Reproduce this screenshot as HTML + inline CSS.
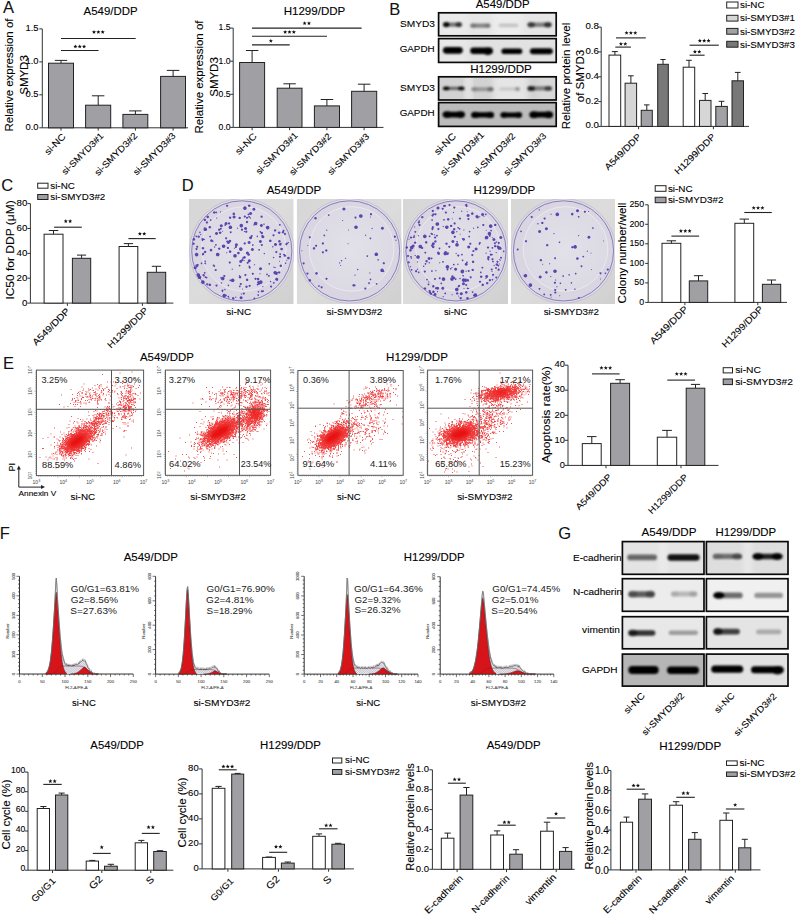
<!DOCTYPE html>
<html><head><meta charset="utf-8"><style>
html,body{margin:0;padding:0;background:#fff;}
svg{display:block;}
text{font-family:"Liberation Sans",sans-serif;stroke:currentColor;stroke-width:0.1px;paint-order:stroke;}
</style></head><body>
<svg width="796" height="915" viewBox="0 0 796 915" font-family="Liberation Sans, sans-serif">
<rect width="796" height="915" fill="#fff"/>
<defs>
<filter id="bl07" x="-50%" y="-50%" width="200%" height="200%"><feGaussianBlur stdDeviation="0.7"/></filter>
<filter id="bl09" x="-50%" y="-50%" width="200%" height="200%"><feGaussianBlur stdDeviation="0.95"/></filter>
<filter id="bl03" x="-10%" y="-10%" width="120%" height="120%"><feGaussianBlur stdDeviation="0.35"/></filter>
<filter id="bl1" x="-50%" y="-50%" width="200%" height="200%"><feGaussianBlur stdDeviation="1.1"/></filter>
<filter id="bl2" x="-50%" y="-50%" width="200%" height="200%"><feGaussianBlur stdDeviation="1.8"/></filter>
<filter id="bl3" x="-50%" y="-50%" width="200%" height="200%"><feGaussianBlur stdDeviation="3"/></filter>
<linearGradient id="pbg" x1="0" y1="0" x2="1" y2="1"><stop offset="0" stop-color="#d6d6d6"/><stop offset="0.5" stop-color="#dcdcdc"/><stop offset="1" stop-color="#d0d0d0"/></linearGradient>
<radialGradient id="pin" cx="0.5" cy="0.5" r="0.55"><stop offset="0" stop-color="#e2e0e8"/><stop offset="1" stop-color="#dbd9e3"/></radialGradient>
<pattern id="hatch" width="1.6" height="1.6" patternUnits="userSpaceOnUse" patternTransform="rotate(45)"><rect width="1.6" height="1.6" fill="#eeeef4"/><path d="M0 0V1.6M0 0H1.6" stroke="#8a8aa0" stroke-width="0.4"/></pattern>
</defs><text font-size="16.50" text-anchor="start" fill="#111" color="#111" transform="translate(3,12.8)">A</text>
<text font-size="10.41" text-anchor="middle" fill="#000" color="#000" transform="translate(110.6,15) scale(1.100,1)">A549/DDP</text>
<line x1="42.3" y1="28.9" x2="42.3" y2="127.8" stroke="#333" stroke-width="1"/>
<line x1="42.3" y1="127.8" x2="188" y2="127.8" stroke="#333" stroke-width="1"/>
<line x1="39.3" y1="127.8" x2="42.3" y2="127.8" stroke="#333" stroke-width="1"/>
<text font-size="9.42" text-anchor="end" fill="#000" color="#000" transform="translate(38.6,129.9)">0.0</text>
<line x1="39.3" y1="94.8" x2="42.3" y2="94.8" stroke="#333" stroke-width="1"/>
<text font-size="9.42" text-anchor="end" fill="#000" color="#000" transform="translate(38.6,96.9)">0.5</text>
<line x1="39.3" y1="61.9" x2="42.3" y2="61.9" stroke="#333" stroke-width="1"/>
<text font-size="9.42" text-anchor="end" fill="#000" color="#000" transform="translate(38.6,64)">1.0</text>
<line x1="39.3" y1="28.9" x2="42.3" y2="28.9" stroke="#333" stroke-width="1"/>
<text font-size="9.42" text-anchor="end" fill="#000" color="#000" transform="translate(38.6,31)">1.5</text>
<line x1="61" y1="63.2" x2="61" y2="60.4" stroke="#222" stroke-width="1"/>
<line x1="54.8" y1="60.4" x2="67.2" y2="60.4" stroke="#222" stroke-width="1"/>
<rect x="48.5" y="63.2" width="25" height="64.6" fill="#a09fa4" stroke="#222" stroke-width="1"/>
<line x1="98.2" y1="105.2" x2="98.2" y2="95.8" stroke="#222" stroke-width="1"/>
<line x1="91.9" y1="95.8" x2="104.4" y2="95.8" stroke="#222" stroke-width="1"/>
<rect x="85.6" y="105.2" width="25.1" height="22.6" fill="#a09fa4" stroke="#222" stroke-width="1"/>
<line x1="135.4" y1="114.4" x2="135.4" y2="110.9" stroke="#222" stroke-width="1"/>
<line x1="129.1" y1="110.9" x2="141.6" y2="110.9" stroke="#222" stroke-width="1"/>
<rect x="122.9" y="114.4" width="24.9" height="13.4" fill="#a09fa4" stroke="#222" stroke-width="1"/>
<line x1="173.1" y1="76.4" x2="173.1" y2="70.4" stroke="#222" stroke-width="1"/>
<line x1="166.8" y1="70.4" x2="179.3" y2="70.4" stroke="#222" stroke-width="1"/>
<rect x="160.6" y="76.4" width="24.9" height="51.4" fill="#a09fa4" stroke="#222" stroke-width="1"/>
<line x1="61" y1="127.8" x2="61" y2="130.6" stroke="#333" stroke-width="1"/>
<line x1="98.2" y1="127.8" x2="98.2" y2="130.6" stroke="#333" stroke-width="1"/>
<line x1="135.4" y1="127.8" x2="135.4" y2="130.6" stroke="#333" stroke-width="1"/>
<line x1="173.1" y1="127.8" x2="173.1" y2="130.6" stroke="#333" stroke-width="1"/>
<line x1="61" y1="38.5" x2="135.7" y2="38.5" stroke="#222" stroke-width="1.1"/>
<g fill="#111"><polygon points="94.00,29.95 94.56,31.33 96.04,31.44 94.90,32.39 95.26,33.84 94.00,33.05 92.74,33.84 93.10,32.39 91.96,31.44 93.44,31.33"/><polygon points="98.35,29.95 98.91,31.33 100.39,31.44 99.25,32.39 99.61,33.84 98.35,33.05 97.09,33.84 97.45,32.39 96.31,31.44 97.79,31.33"/><polygon points="102.70,29.95 103.26,31.33 104.74,31.44 103.60,32.39 103.96,33.84 102.70,33.05 101.44,33.84 101.80,32.39 100.66,31.44 102.14,31.33"/></g>
<line x1="61" y1="50.5" x2="98.5" y2="50.5" stroke="#222" stroke-width="1.1"/>
<g fill="#111"><polygon points="75.40,44.45 75.96,45.83 77.44,45.94 76.30,46.89 76.66,48.34 75.40,47.55 74.14,48.34 74.50,46.89 73.36,45.94 74.84,45.83"/><polygon points="79.75,44.45 80.31,45.83 81.79,45.94 80.65,46.89 81.01,48.34 79.75,47.55 78.49,48.34 78.85,46.89 77.71,45.94 79.19,45.83"/><polygon points="84.10,44.45 84.66,45.83 86.14,45.94 85.00,46.89 85.36,48.34 84.10,47.55 82.84,48.34 83.20,46.89 82.06,45.94 83.54,45.83"/></g>
<text font-size="9.27" text-anchor="end" fill="#000" color="#000" transform="translate(66.2,137.4) rotate(-45) scale(1.100,1)">si-NC</text>
<text font-size="8.92" text-anchor="end" fill="#000" color="#000" transform="translate(104.2,136.4) rotate(-45) scale(1.100,1)">si-SMYD3#1</text>
<text font-size="9.14" text-anchor="end" fill="#000" color="#000" transform="translate(138,136.4) rotate(-45) scale(1.100,1)">si-SMYD3#2</text>
<text font-size="9.05" text-anchor="end" fill="#000" color="#000" transform="translate(176.2,136.4) rotate(-45) scale(1.100,1)">si-SMYD3#3</text>
<text font-size="10.45" text-anchor="middle" fill="#000" color="#000" transform="translate(12.5,75) rotate(-90) scale(1.100,1)">Relative expression of</text>
<text font-size="10.45" text-anchor="middle" fill="#000" color="#000" transform="translate(27.5,75) rotate(-90) scale(1.100,1)">SMYD3</text>
<text font-size="10.51" text-anchor="middle" fill="#000" color="#000" transform="translate(314.5,15.2) scale(1.100,1)">H1299/DDP</text>
<line x1="233.2" y1="28.1" x2="233.2" y2="127.4" stroke="#333" stroke-width="1"/>
<line x1="233.2" y1="127.4" x2="383.5" y2="127.4" stroke="#333" stroke-width="1"/>
<line x1="230.2" y1="127.4" x2="233.2" y2="127.4" stroke="#333" stroke-width="1"/>
<text font-size="8.64" text-anchor="end" fill="#000" color="#000" transform="translate(230.6,129.7)">0.0</text>
<line x1="230.2" y1="94.3" x2="233.2" y2="94.3" stroke="#333" stroke-width="1"/>
<text font-size="8.64" text-anchor="end" fill="#000" color="#000" transform="translate(230.6,96.6)">0.5</text>
<line x1="230.2" y1="61.2" x2="233.2" y2="61.2" stroke="#333" stroke-width="1"/>
<text font-size="8.64" text-anchor="end" fill="#000" color="#000" transform="translate(230.6,63.5)">1.0</text>
<line x1="230.2" y1="28.1" x2="233.2" y2="28.1" stroke="#333" stroke-width="1"/>
<text font-size="8.64" text-anchor="end" fill="#000" color="#000" transform="translate(230.6,30.4)">1.5</text>
<line x1="252.1" y1="62.5" x2="252.1" y2="50.5" stroke="#222" stroke-width="1"/>
<line x1="245.9" y1="50.5" x2="258.4" y2="50.5" stroke="#222" stroke-width="1"/>
<rect x="239.6" y="62.5" width="25" height="64.9" fill="#a09fa4" stroke="#222" stroke-width="1"/>
<line x1="289.6" y1="88.2" x2="289.6" y2="83.8" stroke="#222" stroke-width="1"/>
<line x1="283.4" y1="83.8" x2="295.8" y2="83.8" stroke="#222" stroke-width="1"/>
<rect x="277.2" y="88.2" width="24.8" height="39.2" fill="#a09fa4" stroke="#222" stroke-width="1"/>
<line x1="326.9" y1="105.9" x2="326.9" y2="99.5" stroke="#222" stroke-width="1"/>
<line x1="320.7" y1="99.5" x2="333.2" y2="99.5" stroke="#222" stroke-width="1"/>
<rect x="314.4" y="105.9" width="25.1" height="21.5" fill="#a09fa4" stroke="#222" stroke-width="1"/>
<line x1="364.1" y1="91.3" x2="364.1" y2="84.2" stroke="#222" stroke-width="1"/>
<line x1="357.9" y1="84.2" x2="370.4" y2="84.2" stroke="#222" stroke-width="1"/>
<rect x="351.6" y="91.3" width="25.1" height="36.1" fill="#a09fa4" stroke="#222" stroke-width="1"/>
<line x1="252.1" y1="127.4" x2="252.1" y2="130.2" stroke="#333" stroke-width="1"/>
<line x1="289.6" y1="127.4" x2="289.6" y2="130.2" stroke="#333" stroke-width="1"/>
<line x1="326.9" y1="127.4" x2="326.9" y2="130.2" stroke="#333" stroke-width="1"/>
<line x1="364.1" y1="127.4" x2="364.1" y2="130.2" stroke="#333" stroke-width="1"/>
<line x1="252" y1="28.1" x2="361.6" y2="28.1" stroke="#222" stroke-width="1.1"/>
<g fill="#111"><polygon points="304.62,21.15 305.18,22.53 306.67,22.64 305.53,23.59 305.89,25.04 304.62,24.25 303.36,25.04 303.72,23.59 302.58,22.64 304.07,22.53"/><polygon points="308.98,21.15 309.53,22.53 311.02,22.64 309.88,23.59 310.24,25.04 308.98,24.25 307.71,25.04 308.07,23.59 306.93,22.64 308.42,22.53"/></g>
<line x1="252" y1="36.2" x2="327" y2="36.2" stroke="#222" stroke-width="1.1"/>
<g fill="#111"><polygon points="285.15,29.95 285.71,31.33 287.19,31.44 286.05,32.39 286.41,33.84 285.15,33.05 283.89,33.84 284.25,32.39 283.11,31.44 284.59,31.33"/><polygon points="289.50,29.95 290.06,31.33 291.54,31.44 290.40,32.39 290.76,33.84 289.50,33.05 288.24,33.84 288.60,32.39 287.46,31.44 288.94,31.33"/><polygon points="293.85,29.95 294.41,31.33 295.89,31.44 294.75,32.39 295.11,33.84 293.85,33.05 292.59,33.84 292.95,32.39 291.81,31.44 293.29,31.33"/></g>
<line x1="252" y1="44.9" x2="289.7" y2="44.9" stroke="#222" stroke-width="1.1"/>
<g fill="#111"><polygon points="270.85,38.75 271.41,40.13 272.89,40.24 271.75,41.19 272.11,42.64 270.85,41.85 269.59,42.64 269.95,41.19 268.81,40.24 270.29,40.13"/></g>
<text font-size="9.45" text-anchor="end" fill="#000" color="#000" transform="translate(257.3,137) rotate(-45) scale(1.100,1)">si-NC</text>
<text font-size="8.95" text-anchor="end" fill="#000" color="#000" transform="translate(298.4,136) rotate(-45) scale(1.100,1)">si-SMYD3#1</text>
<text font-size="8.94" text-anchor="end" fill="#000" color="#000" transform="translate(331.9,137) rotate(-45) scale(1.100,1)">si-SMYD3#2</text>
<text font-size="8.85" text-anchor="end" fill="#000" color="#000" transform="translate(369.8,137) rotate(-45) scale(1.100,1)">si-SMYD3#3</text>
<text font-size="10.45" text-anchor="middle" fill="#000" color="#000" transform="translate(202.5,77) rotate(-90) scale(1.100,1)">Relative expression of</text>
<text font-size="10.45" text-anchor="middle" fill="#000" color="#000" transform="translate(217.5,77) rotate(-90) scale(1.100,1)">SMYD3</text>
<text font-size="16.50" text-anchor="start" fill="#111" color="#111" transform="translate(389.3,15.1)">B</text>
<text font-size="10.39" text-anchor="middle" fill="#000" color="#000" transform="translate(502.7,8.3) scale(1.100,1)">A549/DDP</text>
<text font-size="10.51" text-anchor="middle" fill="#000" color="#000" transform="translate(501,72.6) scale(1.100,1)">H1299/DDP</text>
<clipPath id="c1"><rect x="438.6" y="12.8" width="117.6" height="23"/></clipPath>
<g clip-path="url(#c1)">
<rect x="438.6" y="12.8" width="117.6" height="23" fill="#e6e6e6"/>
<rect x="438" y="9.8" width="30" height="29" fill="#ececec" opacity="0.8" filter="url(#bl3)"/>
<rect x="493" y="9.8" width="29" height="29" fill="#efefef" opacity="0.8" filter="url(#bl3)"/>
<g filter="url(#bl09)">
<rect x="443" y="22.4" width="19" height="4.4" rx="2.2" fill="#000" opacity="0.5"/><ellipse cx="446.2" cy="24.6" rx="3.2" ry="2.6" fill="#000" opacity="0.95"/><ellipse cx="458.8" cy="24.6" rx="3.2" ry="2.6" fill="#000" opacity="0.6"/>
<rect x="470.2" y="23.4" width="20.3" height="4.4" rx="2.2" fill="#000" opacity="0.42"/><ellipse cx="473.2" cy="25.6" rx="3" ry="2.6" fill="#000" opacity="0.12"/><ellipse cx="487.5" cy="25.6" rx="3" ry="2.6" fill="#000" opacity="0.12"/>
<rect x="498.6" y="23.4" width="19.8" height="3.8" rx="1.9" fill="#000" opacity="0.17"/>
<rect x="527.5" y="22.5" width="24.1" height="4.6" rx="2.3" fill="#000" opacity="0.45"/><ellipse cx="531.2" cy="24.8" rx="3.8" ry="2.8" fill="#000" opacity="0.55"/><ellipse cx="547.9" cy="24.8" rx="3.8" ry="2.8" fill="#000" opacity="0.6"/>
</g></g>
<rect x="438.6" y="12.8" width="117.6" height="23" fill="none" stroke="#0a0a0a" stroke-width="1.7"/>
<clipPath id="c2"><rect x="438.6" y="38.6" width="117.6" height="23.8"/></clipPath>
<g clip-path="url(#c2)">
<rect x="438.6" y="38.6" width="117.6" height="23.8" fill="#e2e2e2"/>
<rect x="438" y="35.6" width="30" height="29.8" fill="#e9e9e9" opacity="0.8" filter="url(#bl3)"/>
<g filter="url(#bl09)">
<rect x="442.9" y="46.9" width="19.9" height="6.8" rx="3.4" fill="#000" opacity="1"/>
<rect x="470.2" y="47.6" width="22.6" height="6.4" rx="3.2" fill="#000" opacity="1"/><ellipse cx="487.8" cy="51.4" rx="5" ry="3.8" fill="#000" opacity="0.9"/>
<rect x="501.4" y="48.5" width="20.9" height="5.6" rx="2.8" fill="#000" opacity="1"/>
<rect x="529.9" y="48.3" width="22.9" height="6" rx="3" fill="#000" opacity="1"/>
</g></g>
<rect x="438.6" y="38.6" width="117.6" height="23.8" fill="none" stroke="#0a0a0a" stroke-width="1.7"/>
<clipPath id="c3"><rect x="438.6" y="76.8" width="117.6" height="23.2"/></clipPath>
<g clip-path="url(#c3)">
<rect x="438.6" y="76.8" width="117.6" height="23.2" fill="#d2d2d2"/>
<rect x="466" y="73.8" width="5" height="29.2" fill="#efefef" opacity="1" filter="url(#bl3)"/>
<rect x="493" y="73.8" width="35" height="29.2" fill="#eaeaea" opacity="0.8" filter="url(#bl3)"/>
<rect x="538" y="73.8" width="18" height="29.2" fill="#dddddd" opacity="0.6" filter="url(#bl3)"/>
<g filter="url(#bl09)">
<rect x="443" y="86.8" width="21.5" height="3.2" rx="1.6" fill="#000" opacity="0.5"/><ellipse cx="446.2" cy="88.4" rx="3.2" ry="1.9" fill="#000" opacity="1"/><ellipse cx="461.2" cy="88.4" rx="3.2" ry="1.9" fill="#000" opacity="0.95"/>
<rect x="471.3" y="87.2" width="22.2" height="4" rx="2" fill="#000" opacity="0.28"/><ellipse cx="474.3" cy="89.2" rx="3" ry="2.4" fill="#000" opacity="0.12"/><ellipse cx="490.5" cy="89.2" rx="3" ry="2.4" fill="#000" opacity="0.3"/>
<rect x="499" y="87.2" width="21" height="3.6" rx="1.8" fill="#000" opacity="0.12"/><ellipse cx="517.5" cy="89" rx="2.5" ry="2.2" fill="#000" opacity="0.25"/>
<rect x="527.5" y="86.3" width="24.5" height="4.2" rx="2.1" fill="#000" opacity="0.42"/><ellipse cx="531.2" cy="88.4" rx="3.8" ry="2.5" fill="#000" opacity="0.75"/><ellipse cx="548.2" cy="88.4" rx="3.8" ry="2.5" fill="#000" opacity="0.5"/>
</g></g>
<rect x="438.6" y="76.8" width="117.6" height="23.2" fill="none" stroke="#0a0a0a" stroke-width="1.7"/>
<clipPath id="c4"><rect x="438.6" y="102.6" width="117.6" height="23.8"/></clipPath>
<g clip-path="url(#c4)">
<rect x="438.6" y="102.6" width="117.6" height="23.8" fill="#bcbcbc"/>
<g filter="url(#bl09)">
<rect x="442.7" y="111.8" width="22.2" height="5.6" rx="2.8" fill="#000" opacity="1"/><ellipse cx="447.2" cy="114.6" rx="4.5" ry="3.4" fill="#000" opacity="1"/><ellipse cx="460.4" cy="114.6" rx="4.5" ry="3.4" fill="#000" opacity="1"/>
<rect x="471.3" y="112.2" width="22.7" height="5.4" rx="2.7" fill="#000" opacity="1"/><ellipse cx="475.3" cy="114.9" rx="4" ry="3.2" fill="#000" opacity="1"/><ellipse cx="490" cy="114.9" rx="4" ry="3.2" fill="#000" opacity="0.9"/>
<rect x="500.5" y="112.4" width="21.5" height="5" rx="2.5" fill="#000" opacity="1"/><ellipse cx="504" cy="114.9" rx="3.5" ry="3" fill="#000" opacity="0.9"/><ellipse cx="518.5" cy="114.9" rx="3.5" ry="3" fill="#000" opacity="0.9"/>
<rect x="529.5" y="111.8" width="23.5" height="5.8" rx="2.9" fill="#000" opacity="1"/><ellipse cx="534" cy="114.7" rx="4.5" ry="3.5" fill="#000" opacity="1"/><ellipse cx="548.5" cy="114.7" rx="4.5" ry="3.5" fill="#000" opacity="1"/>
</g></g>
<rect x="438.6" y="102.6" width="117.6" height="23.8" fill="none" stroke="#0a0a0a" stroke-width="1.7"/>
<text font-size="9.21" text-anchor="end" fill="#000" color="#000" transform="translate(435,26.9) scale(1.100,1)">SMYD3</text>
<text font-size="8.95" text-anchor="end" fill="#000" color="#000" transform="translate(434.6,52) scale(1.100,1)">GAPDH</text>
<text font-size="9.21" text-anchor="end" fill="#000" color="#000" transform="translate(435,91) scale(1.100,1)">SMYD3</text>
<text font-size="8.95" text-anchor="end" fill="#000" color="#000" transform="translate(434.6,116.2) scale(1.100,1)">GAPDH</text>
<text font-size="9.61" text-anchor="end" fill="#000" color="#000" transform="translate(456.6,136.9) rotate(-45) scale(1.100,1)">si-NC</text>
<text font-size="9.32" text-anchor="end" fill="#000" color="#000" transform="translate(484.7,135.5) rotate(-45) scale(1.100,1)">si-SMYD3#1</text>
<text font-size="9.03" text-anchor="end" fill="#000" color="#000" transform="translate(516,136.5) rotate(-45) scale(1.100,1)">si-SMYD3#2</text>
<text font-size="9.14" text-anchor="end" fill="#000" color="#000" transform="translate(547,136.5) rotate(-45) scale(1.100,1)">si-SMYD3#3</text>
<line x1="601.2" y1="27.1" x2="601.2" y2="126.4" stroke="#333" stroke-width="1"/>
<line x1="601.2" y1="126.4" x2="749" y2="126.4" stroke="#333" stroke-width="1"/>
<line x1="598.2" y1="126.4" x2="601.2" y2="126.4" stroke="#333" stroke-width="1"/>
<text font-size="9.68" text-anchor="end" fill="#000" color="#000" transform="translate(598.9,128.3)">0.0</text>
<line x1="598.2" y1="101.6" x2="601.2" y2="101.6" stroke="#333" stroke-width="1"/>
<text font-size="9.68" text-anchor="end" fill="#000" color="#000" transform="translate(598.9,103.5)">0.2</text>
<line x1="598.2" y1="76.8" x2="601.2" y2="76.8" stroke="#333" stroke-width="1"/>
<text font-size="9.68" text-anchor="end" fill="#000" color="#000" transform="translate(598.9,78.7)">0.4</text>
<line x1="598.2" y1="51.9" x2="601.2" y2="51.9" stroke="#333" stroke-width="1"/>
<text font-size="9.68" text-anchor="end" fill="#000" color="#000" transform="translate(598.9,53.8)">0.6</text>
<line x1="598.2" y1="27.1" x2="601.2" y2="27.1" stroke="#333" stroke-width="1"/>
<text font-size="9.68" text-anchor="end" fill="#000" color="#000" transform="translate(598.9,29)">0.8</text>
<line x1="614.9" y1="55.1" x2="614.9" y2="51.6" stroke="#222" stroke-width="1"/>
<line x1="611.9" y1="51.6" x2="617.8" y2="51.6" stroke="#222" stroke-width="1"/>
<rect x="609" y="55.1" width="11.7" height="71.3" fill="#ffffff" stroke="#222" stroke-width="1"/>
<line x1="630.9" y1="83.2" x2="630.9" y2="75.8" stroke="#222" stroke-width="1"/>
<line x1="628" y1="75.8" x2="633.7" y2="75.8" stroke="#222" stroke-width="1"/>
<rect x="625.1" y="83.2" width="11.5" height="43.2" fill="#d6d6d6" stroke="#222" stroke-width="1"/>
<line x1="646.8" y1="110.3" x2="646.8" y2="104.9" stroke="#222" stroke-width="1"/>
<line x1="644" y1="104.9" x2="649.5" y2="104.9" stroke="#222" stroke-width="1"/>
<rect x="641.2" y="110.3" width="11.1" height="16.1" fill="#a2a1a6" stroke="#222" stroke-width="1"/>
<line x1="663" y1="64.3" x2="663" y2="59.5" stroke="#222" stroke-width="1"/>
<line x1="660.4" y1="59.5" x2="665.6" y2="59.5" stroke="#222" stroke-width="1"/>
<rect x="657.7" y="64.3" width="10.6" height="62.1" fill="#787878" stroke="#222" stroke-width="1"/>
<line x1="689" y1="67.2" x2="689" y2="60.3" stroke="#222" stroke-width="1"/>
<line x1="686.1" y1="60.3" x2="691.8" y2="60.3" stroke="#222" stroke-width="1"/>
<rect x="683.2" y="67.2" width="11.5" height="59.2" fill="#ffffff" stroke="#222" stroke-width="1"/>
<line x1="705.2" y1="100.4" x2="705.2" y2="93.5" stroke="#222" stroke-width="1"/>
<line x1="702.4" y1="93.5" x2="708.1" y2="93.5" stroke="#222" stroke-width="1"/>
<rect x="699.5" y="100.4" width="11.5" height="26" fill="#d6d6d6" stroke="#222" stroke-width="1"/>
<line x1="721.5" y1="106.4" x2="721.5" y2="101.3" stroke="#222" stroke-width="1"/>
<line x1="718.7" y1="101.3" x2="724.4" y2="101.3" stroke="#222" stroke-width="1"/>
<rect x="715.8" y="106.4" width="11.5" height="20" fill="#a2a1a6" stroke="#222" stroke-width="1"/>
<line x1="737.8" y1="80.8" x2="737.8" y2="72.4" stroke="#222" stroke-width="1"/>
<line x1="734.9" y1="72.4" x2="740.6" y2="72.4" stroke="#222" stroke-width="1"/>
<rect x="732" y="80.8" width="11.5" height="45.6" fill="#787878" stroke="#222" stroke-width="1"/>
<line x1="638.6" y1="126.4" x2="638.6" y2="129.2" stroke="#333" stroke-width="1"/>
<line x1="713.4" y1="126.4" x2="713.4" y2="129.2" stroke="#333" stroke-width="1"/>
<line x1="616" y1="37.9" x2="645.8" y2="37.9" stroke="#222" stroke-width="1.1"/>
<g fill="#111"><polygon points="626.55,30.75 627.11,32.13 628.59,32.24 627.45,33.19 627.81,34.64 626.55,33.85 625.29,34.64 625.65,33.19 624.51,32.24 625.99,32.13"/><polygon points="630.90,30.75 631.46,32.13 632.94,32.24 631.80,33.19 632.16,34.64 630.90,33.85 629.64,34.64 630.00,33.19 628.86,32.24 630.34,32.13"/><polygon points="635.25,30.75 635.81,32.13 637.29,32.24 636.15,33.19 636.51,34.64 635.25,33.85 633.99,34.64 634.35,33.19 633.21,32.24 634.69,32.13"/></g>
<line x1="615.3" y1="47.1" x2="630.9" y2="47.1" stroke="#222" stroke-width="1.1"/>
<g fill="#111"><polygon points="620.92,41.75 621.48,43.13 622.97,43.24 621.83,44.19 622.19,45.64 620.92,44.85 619.66,45.64 620.02,44.19 618.88,43.24 620.37,43.13"/><polygon points="625.27,41.75 625.83,43.13 627.32,43.24 626.18,44.19 626.54,45.64 625.27,44.85 624.01,45.64 624.37,44.19 623.23,43.24 624.72,43.13"/></g>
<line x1="689.6" y1="45.2" x2="718.8" y2="45.2" stroke="#222" stroke-width="1.1"/>
<g fill="#111"><polygon points="699.85,38.55 700.41,39.93 701.89,40.04 700.75,40.99 701.11,42.44 699.85,41.65 698.59,42.44 698.95,40.99 697.81,40.04 699.29,39.93"/><polygon points="704.20,38.55 704.76,39.93 706.24,40.04 705.10,40.99 705.46,42.44 704.20,41.65 702.94,42.44 703.30,40.99 702.16,40.04 703.64,39.93"/><polygon points="708.55,38.55 709.11,39.93 710.59,40.04 709.45,40.99 709.81,42.44 708.55,41.65 707.29,42.44 707.65,40.99 706.51,40.04 707.99,39.93"/></g>
<line x1="689.6" y1="55.2" x2="704.6" y2="55.2" stroke="#222" stroke-width="1.1"/>
<g fill="#111"><polygon points="694.93,49.55 695.48,50.93 696.97,51.04 695.83,51.99 696.19,53.44 694.93,52.65 693.66,53.44 694.02,51.99 692.88,51.04 694.37,50.93"/><polygon points="699.27,49.55 699.83,50.93 701.32,51.04 700.18,51.99 700.54,53.44 699.27,52.65 698.01,53.44 698.37,51.99 697.23,51.04 698.72,50.93"/></g>
<text font-size="9.10" text-anchor="end" fill="#000" color="#000" transform="translate(641.6,137.4) rotate(-45) scale(1.100,1)">A549/DDP</text>
<text font-size="9.10" text-anchor="end" fill="#000" color="#000" transform="translate(716,137.4) rotate(-45) scale(1.100,1)">H1299/DDP</text>
<text font-size="10.45" text-anchor="middle" fill="#000" color="#000" transform="translate(570,76) rotate(-90) scale(1.100,1)">Relative protein level</text>
<text font-size="10.45" text-anchor="middle" fill="#000" color="#000" transform="translate(584,76) rotate(-90) scale(1.100,1)">of SMYD3</text>
<rect x="726.7" y="2" width="11.3" height="6" fill="#ffffff" stroke="#222" stroke-width="1"/>
<text font-size="8.91" text-anchor="start" fill="#000" color="#000" transform="translate(740,8.3) scale(1.100,1)">si-NC</text>
<rect x="726.7" y="15.3" width="11.3" height="5.8" fill="#d6d6d6" stroke="#222" stroke-width="1"/>
<text font-size="8.91" text-anchor="start" fill="#000" color="#000" transform="translate(740,21.4) scale(1.100,1)">si-SMYD3#1</text>
<rect x="726.7" y="28.4" width="11.3" height="5.8" fill="#a2a1a6" stroke="#222" stroke-width="1"/>
<text font-size="8.91" text-anchor="start" fill="#000" color="#000" transform="translate(740,34.5) scale(1.100,1)">si-SMYD3#2</text>
<rect x="726.7" y="41.3" width="11.3" height="5.9" fill="#787878" stroke="#222" stroke-width="1"/>
<text font-size="8.91" text-anchor="start" fill="#000" color="#000" transform="translate(740,47.5) scale(1.100,1)">si-SMYD3#3</text>
<text font-size="16.50" text-anchor="start" fill="#111" color="#111" transform="translate(1.2,191.1)">C</text>
<rect x="37.7" y="183.2" width="10.3" height="5" fill="#ffffff" stroke="#222" stroke-width="1"/>
<text font-size="8.91" text-anchor="start" fill="#000" color="#000" transform="translate(50.3,188.5) scale(1.100,1)">si-NC</text>
<rect x="37.7" y="194.5" width="10.3" height="5" fill="#a09fa4" stroke="#222" stroke-width="1"/>
<text font-size="8.91" text-anchor="start" fill="#000" color="#000" transform="translate(50.3,199.8) scale(1.100,1)">si-SMYD3#2</text>
<line x1="30.4" y1="203.6" x2="30.4" y2="303.1" stroke="#333" stroke-width="1"/>
<line x1="30.4" y1="303.1" x2="173.4" y2="303.1" stroke="#333" stroke-width="1"/>
<line x1="27.4" y1="303.1" x2="30.4" y2="303.1" stroke="#333" stroke-width="1"/>
<text font-size="9.73" text-anchor="end" fill="#000" color="#000" transform="translate(27.3,305.8)">0</text>
<line x1="27.4" y1="278.2" x2="30.4" y2="278.2" stroke="#333" stroke-width="1"/>
<text font-size="9.73" text-anchor="end" fill="#000" color="#000" transform="translate(27.3,280.9)">20</text>
<line x1="27.4" y1="253.4" x2="30.4" y2="253.4" stroke="#333" stroke-width="1"/>
<text font-size="9.73" text-anchor="end" fill="#000" color="#000" transform="translate(27.3,256.1)">40</text>
<line x1="27.4" y1="228.5" x2="30.4" y2="228.5" stroke="#333" stroke-width="1"/>
<text font-size="9.73" text-anchor="end" fill="#000" color="#000" transform="translate(27.3,231.2)">60</text>
<line x1="27.4" y1="203.6" x2="30.4" y2="203.6" stroke="#333" stroke-width="1"/>
<text font-size="9.73" text-anchor="end" fill="#000" color="#000" transform="translate(27.3,206.3)">80</text>
<line x1="53.5" y1="234.2" x2="53.5" y2="230.5" stroke="#222" stroke-width="1"/>
<line x1="48.8" y1="230.5" x2="58.3" y2="230.5" stroke="#222" stroke-width="1"/>
<rect x="44.1" y="234.2" width="18.9" height="68.9" fill="#ffffff" stroke="#222" stroke-width="1"/>
<line x1="81.6" y1="258.3" x2="81.6" y2="255.1" stroke="#222" stroke-width="1"/>
<line x1="77" y1="255.1" x2="86.1" y2="255.1" stroke="#222" stroke-width="1"/>
<rect x="72.4" y="258.3" width="18.3" height="44.8" fill="#a09fa4" stroke="#222" stroke-width="1"/>
<line x1="128.4" y1="246.5" x2="128.4" y2="243.6" stroke="#222" stroke-width="1"/>
<line x1="123.8" y1="243.6" x2="133.1" y2="243.6" stroke="#222" stroke-width="1"/>
<rect x="119.1" y="246.5" width="18.7" height="56.6" fill="#ffffff" stroke="#222" stroke-width="1"/>
<line x1="156.4" y1="272.3" x2="156.4" y2="266.3" stroke="#222" stroke-width="1"/>
<line x1="151.8" y1="266.3" x2="161.1" y2="266.3" stroke="#222" stroke-width="1"/>
<rect x="147.2" y="272.3" width="18.5" height="30.8" fill="#a09fa4" stroke="#222" stroke-width="1"/>
<line x1="67.4" y1="303.1" x2="67.4" y2="305.9" stroke="#333" stroke-width="1"/>
<line x1="142.4" y1="303.1" x2="142.4" y2="305.9" stroke="#333" stroke-width="1"/>
<line x1="54.1" y1="227.2" x2="81.8" y2="227.2" stroke="#222" stroke-width="1.1"/>
<g fill="#111"><polygon points="65.78,219.05 66.33,220.43 67.82,220.54 66.68,221.49 67.04,222.94 65.78,222.15 64.51,222.94 64.87,221.49 63.73,220.54 65.22,220.43"/><polygon points="70.12,219.05 70.68,220.43 72.17,220.54 71.03,221.49 71.39,222.94 70.12,222.15 68.86,222.94 69.22,221.49 68.08,220.54 69.57,220.43"/></g>
<line x1="128.4" y1="238.6" x2="155.7" y2="238.6" stroke="#222" stroke-width="1.1"/>
<g fill="#111"><polygon points="139.88,231.65 140.43,233.03 141.92,233.14 140.78,234.09 141.14,235.54 139.88,234.75 138.61,235.54 138.97,234.09 137.83,233.14 139.32,233.03"/><polygon points="144.23,231.65 144.78,233.03 146.27,233.14 145.13,234.09 145.49,235.54 144.23,234.75 142.96,235.54 143.32,234.09 142.18,233.14 143.67,233.03"/></g>
<text font-size="9.30" text-anchor="end" fill="#000" color="#000" transform="translate(70.3,311.9) rotate(-45) scale(1.100,1)">A549/DDP</text>
<text font-size="9.14" text-anchor="end" fill="#000" color="#000" transform="translate(148.8,310.9) rotate(-45) scale(1.100,1)">H1299/DDP</text>
<text font-size="10.91" text-anchor="middle" fill="#000" color="#000" transform="translate(13.5,250) rotate(-90) scale(1.100,1)">IC50 for DDP (μM)</text>
<text font-size="16.50" text-anchor="start" fill="#111" color="#111" transform="translate(181.7,191.3)">D</text>
<text font-size="10.51" text-anchor="middle" fill="#000" color="#000" transform="translate(293.9,194) scale(1.100,1)">A549/DDP</text>
<text font-size="10.54" text-anchor="middle" fill="#000" color="#000" transform="translate(504.4,194) scale(1.100,1)">H1299/DDP</text>
<clipPath id="c5"><rect x="188.9" y="198.9" width="104.8" height="105.1"/></clipPath>
<g clip-path="url(#c5)">
<rect x="188.9" y="198.9" width="104.8" height="105.1" fill="url(#pbg)"/>
<circle cx="241.8" cy="250.9" r="52.3" fill="#dedce4" stroke="#c4c0d0" stroke-width="1"/>
<circle cx="241.8" cy="250.9" r="50.1" fill="#d9d6e2" stroke="#7a6cb6" stroke-width="1" stroke-opacity="0.85"/>
<circle cx="243.8" cy="248.9" r="42.3" fill="url(#pin)" stroke="#eceaf1" stroke-width="0.9"/>
<path d="M250.6 236.3a1.5 1.5 0 1 0 .01 0zM249.3 259.2a1.5 1.5 0 1 0 .01 0zM221.3 224.3a1.5 1.5 0 1 0 .01 0zM217.7 252.7a1.8 1.8 0 1 0 .01 0zM216.5 231.9a1.5 1.5 0 1 0 .01 0zM238.4 251.7a1.3 1.3 0 1 0 .01 0zM204.5 227.3a0.6 0.6 0 1 0 .01 0zM286.8 259.8a0.5 0.5 0 1 0 .01 0zM280.2 253.2a0.9 0.9 0 1 0 .01 0zM280.2 243.1a1.3 1.3 0 1 0 .01 0zM242.3 259.1a1 1 0 1 0 .01 0zM196.3 235.5a0.8 0.8 0 1 0 .01 0zM245.4 273.9a1 1 0 1 0 .01 0zM283.5 229.7a0.9 0.9 0 1 0 .01 0zM198.7 235.4a1.2 1.2 0 1 0 .01 0zM229.9 239.7a1.3 1.3 0 1 0 .01 0zM273.8 282.1a0.8 0.8 0 1 0 .01 0zM286.3 243.2a1 1 0 1 0 .01 0zM198.3 273.2a1.8 1.8 0 1 0 .01 0zM258.2 294.2a0.8 0.8 0 1 0 .01 0zM267.7 225.8a1.8 1.8 0 1 0 .01 0zM202.9 280.3a1.8 1.8 0 1 0 .01 0zM240.7 260a1.5 1.5 0 1 0 .01 0zM225.2 224.3a0.8 0.8 0 1 0 .01 0zM230.1 216.4a1.2 1.2 0 1 0 .01 0zM276.5 272.6a1.2 1.2 0 1 0 .01 0zM247 216.7a1 1 0 1 0 .01 0zM209.8 283.5a1.3 1.3 0 1 0 .01 0zM248.6 253.2a1.3 1.3 0 1 0 .01 0zM206.9 221.3a1.1 1.1 0 1 0 .01 0zM255.5 277.8a1 1 0 1 0 .01 0zM264.3 252.7a0.7 0.7 0 1 0 .01 0zM264 223.4a0.7 0.7 0 1 0 .01 0zM222.7 276.7a1.8 1.8 0 1 0 .01 0zM205.2 260.4a0.8 0.8 0 1 0 .01 0zM209.8 225.9a1.3 1.3 0 1 0 .01 0zM240.8 247.3a1.8 1.8 0 1 0 .01 0zM285 233a1 1 0 1 0 .01 0zM197.2 245.8a1 1 0 1 0 .01 0zM261.8 244.1a1 1 0 1 0 .01 0zM199.9 231.6a0.7 0.7 0 1 0 .01 0zM199.5 275.5a1.8 1.8 0 1 0 .01 0zM224.3 274.9a1 1 0 1 0 .01 0zM249.1 216a0.8 0.8 0 1 0 .01 0zM273.6 256.7a0.7 0.7 0 1 0 .01 0zM204.3 238.8a0.6 0.6 0 1 0 .01 0zM253.9 207.7a1.5 1.5 0 1 0 .01 0zM282.2 232a0.5 0.5 0 1 0 .01 0zM220.5 211.3a0.6 0.6 0 1 0 .01 0zM196.8 264.2a1.5 1.5 0 1 0 .01 0zM241.4 293.4a0.6 0.6 0 1 0 .01 0zM258.5 290.9a0.8 0.8 0 1 0 .01 0zM247.7 261.8a1 1 0 1 0 .01 0zM214.2 211.3a1.2 1.2 0 1 0 .01 0zM201.5 262.5a0.8 0.8 0 1 0 .01 0zM267 273.6a0.8 0.8 0 1 0 .01 0zM214.4 265.4a0.7 0.7 0 1 0 .01 0zM240 275.8a1.3 1.3 0 1 0 .01 0zM249.6 284.7a1.1 1.1 0 1 0 .01 0zM272.8 246a0.7 0.7 0 1 0 .01 0zM244.5 256.1a1.3 1.3 0 1 0 .01 0zM195.7 267a1 1 0 1 0 .01 0zM202.5 239.8a0.7 0.7 0 1 0 .01 0zM207.7 215.6a1.3 1.3 0 1 0 .01 0zM246.5 285.5a1.2 1.2 0 1 0 .01 0zM236.4 243.3a1.5 1.5 0 1 0 .01 0zM222.5 230.7a0.5 0.5 0 1 0 .01 0zM270.6 280.7a0.7 0.7 0 1 0 .01 0zM224.2 293.8a1.8 1.8 0 1 0 .01 0zM252.8 244.2a0.8 0.8 0 1 0 .01 0zM204.7 272.1a0.8 0.8 0 1 0 .01 0zM223.6 244.4a1.8 1.8 0 1 0 .01 0zM244.7 242.3a1.1 1.1 0 1 0 .01 0zM255.6 221.7a1.8 1.8 0 1 0 .01 0zM227.1 204.8a1 1 0 1 0 .01 0zM244.1 259.9a0.6 0.6 0 1 0 .01 0zM230.7 231.3a0.9 0.9 0 1 0 .01 0zM203.1 252.8a1.2 1.2 0 1 0 .01 0zM210.8 250.2a0.5 0.5 0 1 0 .01 0zM260.3 230.9a0.8 0.8 0 1 0 .01 0zM243 257.2a0.8 0.8 0 1 0 .01 0zM200.7 233.9a0.6 0.6 0 1 0 .01 0zM247.1 278.6a1.2 1.2 0 1 0 .01 0zM229.8 261.4a1 1 0 1 0 .01 0zM261.8 231.7a1.2 1.2 0 1 0 .01 0zM244.8 215.5a1 1 0 1 0 .01 0zM237.6 227.6a0.6 0.6 0 1 0 .01 0zM249.7 266.4a1 1 0 1 0 .01 0zM242 228.5a1.1 1.1 0 1 0 .01 0zM239.8 285.6a0.8 0.8 0 1 0 .01 0zM232.7 278.5a1.8 1.8 0 1 0 .01 0zM249.2 204.4a1.3 1.3 0 1 0 .01 0zM271.1 285.5a1 1 0 1 0 .01 0zM222.5 289.6a0.9 0.9 0 1 0 .01 0zM249.1 241.1a1.5 1.5 0 1 0 .01 0zM254.5 264.2a0.6 0.6 0 1 0 .01 0zM248.5 213.4a0.9 0.9 0 1 0 .01 0zM227.9 246.8a1.1 1.1 0 1 0 .01 0zM239.6 264.8a0.8 0.8 0 1 0 .01 0zM273.5 234.3a1 1 0 1 0 .01 0zM277.3 279.9a0.5 0.5 0 1 0 .01 0zM284.9 254.4a1.2 1.2 0 1 0 .01 0zM235 254a1.8 1.8 0 1 0 .01 0zM285.6 262.4a0.7 0.7 0 1 0 .01 0zM204.2 228.5a0.6 0.6 0 1 0 .01 0zM249.3 265.4a0.7 0.7 0 1 0 .01 0zM251.8 234.9a0.9 0.9 0 1 0 .01 0zM207.2 283.2a1 1 0 1 0 .01 0zM228.3 295.7a0.8 0.8 0 1 0 .01 0zM224.9 288.8a0.7 0.7 0 1 0 .01 0zM279.5 260.7a0.5 0.5 0 1 0 .01 0zM279.1 231.4a1.3 1.3 0 1 0 .01 0zM205.2 262.6a0.8 0.8 0 1 0 .01 0zM269.3 263a0.8 0.8 0 1 0 .01 0zM288.4 241.9a0.6 0.6 0 1 0 .01 0zM245.6 227.1a1.5 1.5 0 1 0 .01 0zM193.9 238.1a1.3 1.3 0 1 0 .01 0zM220.6 277.2a0.6 0.6 0 1 0 .01 0zM228.4 284.6a0.7 0.7 0 1 0 .01 0zM253.7 224.4a0.6 0.6 0 1 0 .01 0zM194.8 266.5a1.2 1.2 0 1 0 .01 0zM221.5 282.3a0.7 0.7 0 1 0 .01 0zM230.3 279.5a0.8 0.8 0 1 0 .01 0zM246.3 230.6a1.1 1.1 0 1 0 .01 0zM226 294.6a0.8 0.8 0 1 0 .01 0zM228.4 241a1.5 1.5 0 1 0 .01 0zM242.5 288.6a0.5 0.5 0 1 0 .01 0zM205.3 276.3a0.8 0.8 0 1 0 .01 0zM273.9 266.6a0.6 0.6 0 1 0 .01 0zM247.4 251.4a1.5 1.5 0 1 0 .01 0zM196.6 252.8a1.8 1.8 0 1 0 .01 0zM276.7 277.8a1.5 1.5 0 1 0 .01 0zM279.1 271.2a1.2 1.2 0 1 0 .01 0zM244.5 230.9a0.6 0.6 0 1 0 .01 0zM222.5 291a0.6 0.6 0 1 0 .01 0zM261.6 215.5a1.1 1.1 0 1 0 .01 0zM262 234.6a0.6 0.6 0 1 0 .01 0zM234.1 215.4a1.5 1.5 0 1 0 .01 0zM262.8 235.3a1.5 1.5 0 1 0 .01 0zM202.7 237.9a1.3 1.3 0 1 0 .01 0zM254.4 297.5a0.8 0.8 0 1 0 .01 0zM258.1 277.8a1.3 1.3 0 1 0 .01 0zM241.1 296.3a1.5 1.5 0 1 0 .01 0zM252.4 248.1a1.5 1.5 0 1 0 .01 0zM240.8 283a1 1 0 1 0 .01 0zM197.8 264a0.9 0.9 0 1 0 .01 0zM261.9 290.3a1 1 0 1 0 .01 0zM236.3 244.9a0.9 0.9 0 1 0 .01 0zM288.4 256.7a1.3 1.3 0 1 0 .01 0zM260 273.2a0.6 0.6 0 1 0 .01 0zM259.1 249a0.8 0.8 0 1 0 .01 0zM215.7 268.9a1.1 1.1 0 1 0 .01 0zM226.7 252.2a0.6 0.6 0 1 0 .01 0zM205.1 250.7a1.2 1.2 0 1 0 .01 0zM283 231a1.2 1.2 0 1 0 .01 0zM243.8 292.6a1 1 0 1 0 .01 0zM279.4 240a1.3 1.3 0 1 0 .01 0zM211.4 239.3a1.3 1.3 0 1 0 .01 0zM233.2 297.1a1.2 1.2 0 1 0 .01 0zM260.4 240.1a1.5 1.5 0 1 0 .01 0zM266.3 226.6a0.6 0.6 0 1 0 .01 0zM250.3 217.3a0.7 0.7 0 1 0 .01 0zM230.4 225.5a1.8 1.8 0 1 0 .01 0zM258.9 282.2a1.3 1.3 0 1 0 .01 0zM205.3 227.5a1.8 1.8 0 1 0 .01 0zM227.3 240.4a1 1 0 1 0 .01 0zM257.5 283.9a0.8 0.8 0 1 0 .01 0zM270.3 239.5a1.3 1.3 0 1 0 .01 0zM280.8 264.6a1.2 1.2 0 1 0 .01 0zM220.9 227.7a0.9 0.9 0 1 0 .01 0zM258.4 281.1a1.3 1.3 0 1 0 .01 0zM193.1 243.6a0.6 0.6 0 1 0 .01 0zM210.7 219.3a0.8 0.8 0 1 0 .01 0zM277.4 272a0.6 0.6 0 1 0 .01 0zM204.9 218.7a1.2 1.2 0 1 0 .01 0zM275.2 270.9a1.8 1.8 0 1 0 .01 0zM287.1 242.5a0.9 0.9 0 1 0 .01 0zM279.8 224a0.9 0.9 0 1 0 .01 0zM232.2 268.6a0.6 0.6 0 1 0 .01 0zM202.7 253.9a0.7 0.7 0 1 0 .01 0zM227.3 241a0.9 0.9 0 1 0 .01 0zM216.2 211.6a0.8 0.8 0 1 0 .01 0zM241.2 226.6a0.5 0.5 0 1 0 .01 0zM193.6 242.5a1.1 1.1 0 1 0 .01 0zM235.8 245.9a1.1 1.1 0 1 0 .01 0zM239.6 274.9a0.6 0.6 0 1 0 .01 0zM215.9 244.1a0.8 0.8 0 1 0 .01 0zM241.3 223.8a1.8 1.8 0 1 0 .01 0zM250.6 211.9a1.5 1.5 0 1 0 .01 0zM263.2 290.2a0.8 0.8 0 1 0 .01 0zM261.4 224a1.5 1.5 0 1 0 .01 0zM257.3 235.6a0.7 0.7 0 1 0 .01 0zM260.5 267.3a1.5 1.5 0 1 0 .01 0zM234.4 247.8a0.5 0.5 0 1 0 .01 0zM275.5 243.1a1.5 1.5 0 1 0 .01 0zM216.7 217.4a0.6 0.6 0 1 0 .01 0zM210.1 235.7a0.8 0.8 0 1 0 .01 0zM226.1 222a1.5 1.5 0 1 0 .01 0zM276.3 251.1a1 1 0 1 0 .01 0zM216.5 284.4a1 1 0 1 0 .01 0zM247 220.8a1.2 1.2 0 1 0 .01 0zM268.9 275a0.9 0.9 0 1 0 .01 0zM212.8 240.4a0.8 0.8 0 1 0 .01 0zM233.8 212.6a1.3 1.3 0 1 0 .01 0zM196.5 247.9a1 1 0 1 0 .01 0zM202.9 246.9a1.3 1.3 0 1 0 .01 0zM281.6 247.7a1.3 1.3 0 1 0 .01 0zM226.1 237.2a1 1 0 1 0 .01 0zM219.2 247.4a1.2 1.2 0 1 0 .01 0zM213.7 264.6a0.9 0.9 0 1 0 .01 0zM220.1 231.4a1.3 1.3 0 1 0 .01 0zM281.2 242.7a0.6 0.6 0 1 0 .01 0zM239.7 216.7a1.2 1.2 0 1 0 .01 0zM229.1 297.4a0.5 0.5 0 1 0 .01 0zM219.2 228.4a1.2 1.2 0 1 0 .01 0zM206.6 276.8a0.8 0.8 0 1 0 .01 0zM244.9 206.3a1.8 1.8 0 1 0 .01 0zM284 253.7a0.8 0.8 0 1 0 .01 0zM203.6 274a1.2 1.2 0 1 0 .01 0zM260.8 280.3a1.8 1.8 0 1 0 .01 0zM252.8 272.7a1 1 0 1 0 .01 0zM230.1 250.3a1.3 1.3 0 1 0 .01 0zM275.2 266.9a0.6 0.6 0 1 0 .01 0zM280 255.8a1 1 0 1 0 .01 0zM262.9 285.9a0.6 0.6 0 1 0 .01 0zM229.1 222.3a1.1 1.1 0 1 0 .01 0zM214.6 246.2a0.7 0.7 0 1 0 .01 0zM235.8 296.6a0.6 0.6 0 1 0 .01 0zM275.1 229.2a1.2 1.2 0 1 0 .01 0zM211 248.8a1.3 1.3 0 1 0 .01 0z" fill="#5034aa" opacity="0.9" filter="url(#bl03)"/>
</g>
<clipPath id="c6"><rect x="296.7" y="198.9" width="104.9" height="105.1"/></clipPath>
<g clip-path="url(#c6)">
<rect x="296.7" y="198.9" width="104.9" height="105.1" fill="url(#pbg)"/>
<circle cx="349.6" cy="250.9" r="52.3" fill="#dedce4" stroke="#c4c0d0" stroke-width="1"/>
<circle cx="349.6" cy="250.9" r="50.1" fill="#d9d6e2" stroke="#7a6cb6" stroke-width="1" stroke-opacity="0.85"/>
<circle cx="351.6" cy="248.9" r="42.3" fill="url(#pin)" stroke="#eceaf1" stroke-width="0.9"/>
<path d="M394.3 235.6a0.5 0.5 0 1 0 .01 0zM339.6 262.3a0.6 0.6 0 1 0 .01 0zM328.7 214.3a0.8 0.8 0 1 0 .01 0zM354.9 274.7a0.5 0.5 0 1 0 .01 0zM369 282.2a0.9 0.9 0 1 0 .01 0zM360.8 214.2a1.8 1.8 0 1 0 .01 0zM394.9 235.7a1 1 0 1 0 .01 0zM301.9 250.3a0.5 0.5 0 1 0 .01 0zM318.9 285.3a0.8 0.8 0 1 0 .01 0zM307.4 272.4a1 1 0 1 0 .01 0zM357.7 268.7a0.7 0.7 0 1 0 .01 0zM345.6 257.7a0.6 0.6 0 1 0 .01 0zM326.5 277.8a1 1 0 1 0 .01 0zM365.3 287.4a1 1 0 1 0 .01 0zM343.9 207.6a1.5 1.5 0 1 0 .01 0zM324.3 234.6a0.8 0.8 0 1 0 .01 0zM396 239.5a0.6 0.6 0 1 0 .01 0zM309.8 279a1.3 1.3 0 1 0 .01 0zM316.1 244.7a1 1 0 1 0 .01 0zM322.9 251.3a1 1 0 1 0 .01 0zM321.6 286.3a1 1 0 1 0 .01 0zM303.6 262.2a1.1 1.1 0 1 0 .01 0zM309.8 236.2a1 1 0 1 0 .01 0zM354.8 284.5a0.8 0.8 0 1 0 .01 0zM371 213a1.1 1.1 0 1 0 .01 0zM370.4 237.6a0.8 0.8 0 1 0 .01 0zM356 225.4a1.8 1.8 0 1 0 .01 0zM314 247.1a1.2 1.2 0 1 0 .01 0zM316.5 272.1a1.3 1.3 0 1 0 .01 0zM326.3 249.3a1.2 1.2 0 1 0 .01 0zM382.1 268.5a1.8 1.8 0 1 0 .01 0zM376.3 252.5a1.8 1.8 0 1 0 .01 0zM348.5 229.6a0.5 0.5 0 1 0 .01 0zM383.8 262.1a1.1 1.1 0 1 0 .01 0zM365.6 234.6a0.6 0.6 0 1 0 .01 0zM376.6 283a0.8 0.8 0 1 0 .01 0zM355.1 274.4a0.5 0.5 0 1 0 .01 0zM342.6 219.9a0.5 0.5 0 1 0 .01 0zM341.5 259.9a0.7 0.7 0 1 0 .01 0zM383.8 270.9a0.6 0.6 0 1 0 .01 0zM348.1 243.2a0.5 0.5 0 1 0 .01 0zM369.8 272.4a0.6 0.6 0 1 0 .01 0zM307.8 244.9a0.5 0.5 0 1 0 .01 0zM378.1 259.1a0.7 0.7 0 1 0 .01 0zM367.3 255.2a0.8 0.8 0 1 0 .01 0zM315.5 216.9a1.3 1.3 0 1 0 .01 0zM340.6 265a0.5 0.5 0 1 0 .01 0zM322.9 242.3a1.1 1.1 0 1 0 .01 0zM382.4 226.7a1.5 1.5 0 1 0 .01 0zM326.7 229.5a0.6 0.6 0 1 0 .01 0zM353.6 284.1a1.2 1.2 0 1 0 .01 0zM370.5 216.6a0.5 0.5 0 1 0 .01 0zM372.1 227.8a0.6 0.6 0 1 0 .01 0zM355.5 216.5a1 1 0 1 0 .01 0zM370.5 278.5a0.8 0.8 0 1 0 .01 0z" fill="#5034aa" opacity="0.9" filter="url(#bl03)"/>
</g>
<clipPath id="c7"><rect x="403" y="198.9" width="105" height="105.1"/></clipPath>
<g clip-path="url(#c7)">
<rect x="403" y="198.9" width="105" height="105.1" fill="url(#pbg)"/>
<circle cx="456" cy="250.9" r="52.3" fill="#dedce4" stroke="#c4c0d0" stroke-width="1"/>
<circle cx="456" cy="250.9" r="50.1" fill="#d9d6e2" stroke="#7a6cb6" stroke-width="1" stroke-opacity="0.85"/>
<circle cx="458" cy="248.9" r="42.3" fill="url(#pin)" stroke="#eceaf1" stroke-width="0.9"/>
<path d="M432 244.4a1.1 1.1 0 1 0 .01 0zM424.8 234.6a1.8 1.8 0 1 0 .01 0zM411 236.4a1 1 0 1 0 .01 0zM411.3 257.6a0.6 0.6 0 1 0 .01 0zM468.7 270.1a0.9 0.9 0 1 0 .01 0zM432.8 209.8a1.1 1.1 0 1 0 .01 0zM457.1 241a0.8 0.8 0 1 0 .01 0zM448.2 218a1.3 1.3 0 1 0 .01 0zM416.1 270.1a1.1 1.1 0 1 0 .01 0zM485.4 238.1a0.6 0.6 0 1 0 .01 0zM445.6 251.2a1.2 1.2 0 1 0 .01 0zM432.4 227.9a1 1 0 1 0 .01 0zM415.3 231a0.9 0.9 0 1 0 .01 0zM486.2 229.8a0.5 0.5 0 1 0 .01 0zM500.5 248.4a0.6 0.6 0 1 0 .01 0zM436.1 287.1a1.1 1.1 0 1 0 .01 0zM444.2 204.8a1.1 1.1 0 1 0 .01 0zM472.7 268.7a1.2 1.2 0 1 0 .01 0zM496.3 276.6a0.9 0.9 0 1 0 .01 0zM501 256.8a0.9 0.9 0 1 0 .01 0zM499.3 263.4a0.5 0.5 0 1 0 .01 0zM429.6 235.5a0.8 0.8 0 1 0 .01 0zM490.1 250.6a0.6 0.6 0 1 0 .01 0zM439.5 247.4a0.9 0.9 0 1 0 .01 0zM452 277.2a1.8 1.8 0 1 0 .01 0zM424.7 287.6a0.9 0.9 0 1 0 .01 0zM422.1 246.8a1.1 1.1 0 1 0 .01 0zM486.7 275.1a1.5 1.5 0 1 0 .01 0zM423.7 265.5a0.7 0.7 0 1 0 .01 0zM411.6 269a0.8 0.8 0 1 0 .01 0zM490.9 253.5a1.1 1.1 0 1 0 .01 0zM435.9 270.1a0.6 0.6 0 1 0 .01 0zM446.5 242.4a1.2 1.2 0 1 0 .01 0zM418.8 221.4a1 1 0 1 0 .01 0zM461.9 253.7a0.8 0.8 0 1 0 .01 0zM431.7 257.6a0.8 0.8 0 1 0 .01 0zM462.3 269.8a1.8 1.8 0 1 0 .01 0zM442.8 286.7a1.5 1.5 0 1 0 .01 0zM498.7 243.1a0.6 0.6 0 1 0 .01 0zM460 277.7a0.7 0.7 0 1 0 .01 0zM443.2 225.8a0.6 0.6 0 1 0 .01 0zM447.4 265a1.8 1.8 0 1 0 .01 0zM463.9 229.4a0.6 0.6 0 1 0 .01 0zM438.4 228a1 1 0 1 0 .01 0zM466.4 203.8a0.8 0.8 0 1 0 .01 0zM476.9 214.9a1.5 1.5 0 1 0 .01 0zM493 273.7a1.1 1.1 0 1 0 .01 0zM450.7 267.9a0.8 0.8 0 1 0 .01 0zM432.8 226.1a1.1 1.1 0 1 0 .01 0zM489.4 231.8a1.8 1.8 0 1 0 .01 0zM500.3 247.2a1.3 1.3 0 1 0 .01 0zM454.2 228a1.2 1.2 0 1 0 .01 0zM496.4 241.3a0.7 0.7 0 1 0 .01 0zM483.9 215.7a0.6 0.6 0 1 0 .01 0zM496.9 263.2a1.3 1.3 0 1 0 .01 0zM466.2 284.1a0.9 0.9 0 1 0 .01 0zM492.3 254a0.6 0.6 0 1 0 .01 0zM458.6 295.6a0.5 0.5 0 1 0 .01 0zM419.2 220.3a0.8 0.8 0 1 0 .01 0zM409 238.7a0.5 0.5 0 1 0 .01 0zM463.6 278.3a1.8 1.8 0 1 0 .01 0zM455.6 267.8a1.5 1.5 0 1 0 .01 0zM470.3 242.6a1.1 1.1 0 1 0 .01 0zM498.4 264.9a0.8 0.8 0 1 0 .01 0zM411.7 245.7a1.8 1.8 0 1 0 .01 0zM494.1 264.8a0.6 0.6 0 1 0 .01 0zM488.2 257.9a1 1 0 1 0 .01 0zM441.3 282.6a0.8 0.8 0 1 0 .01 0zM431.9 270.3a0.8 0.8 0 1 0 .01 0zM433.4 290.5a1.3 1.3 0 1 0 .01 0zM467.2 211.1a0.5 0.5 0 1 0 .01 0zM431.5 232.8a0.9 0.9 0 1 0 .01 0zM493 261.4a0.5 0.5 0 1 0 .01 0zM425.3 251.7a0.9 0.9 0 1 0 .01 0zM418.7 271.5a0.8 0.8 0 1 0 .01 0zM491.7 268.6a0.9 0.9 0 1 0 .01 0zM472.3 254a1 1 0 1 0 .01 0zM452.1 294.2a0.6 0.6 0 1 0 .01 0zM449.5 204a1 1 0 1 0 .01 0zM433.4 213.2a1.1 1.1 0 1 0 .01 0zM468.4 218a1 1 0 1 0 .01 0zM461.7 210.6a0.6 0.6 0 1 0 .01 0zM427 278.8a0.8 0.8 0 1 0 .01 0zM487.2 281.9a1.2 1.2 0 1 0 .01 0zM444 219a0.8 0.8 0 1 0 .01 0zM497.5 260.8a1 1 0 1 0 .01 0zM458.1 286.3a0.6 0.6 0 1 0 .01 0zM498.6 268.6a1.1 1.1 0 1 0 .01 0zM473.1 260.6a1.2 1.2 0 1 0 .01 0zM436.9 234.7a0.9 0.9 0 1 0 .01 0zM435.1 236.6a1 1 0 1 0 .01 0zM482.4 266.7a0.9 0.9 0 1 0 .01 0zM498.8 241.7a1.1 1.1 0 1 0 .01 0zM435.5 213.3a1 1 0 1 0 .01 0zM439.7 262.2a0.6 0.6 0 1 0 .01 0zM454.8 235.8a1 1 0 1 0 .01 0zM414.7 226.4a0.6 0.6 0 1 0 .01 0zM463.1 274.9a0.8 0.8 0 1 0 .01 0zM482.6 213a1.5 1.5 0 1 0 .01 0zM446.8 225.4a1.8 1.8 0 1 0 .01 0zM492.4 247.1a0.8 0.8 0 1 0 .01 0zM448 251.9a0.6 0.6 0 1 0 .01 0zM456.8 287.7a1.8 1.8 0 1 0 .01 0zM473.4 249.9a1.1 1.1 0 1 0 .01 0zM435.4 240.2a1.2 1.2 0 1 0 .01 0zM418 255.2a1.8 1.8 0 1 0 .01 0zM465.3 204.5a0.5 0.5 0 1 0 .01 0zM460.7 296.9a1.2 1.2 0 1 0 .01 0zM457.9 263.5a0.7 0.7 0 1 0 .01 0zM482.7 283.6a1.2 1.2 0 1 0 .01 0zM490.7 224.3a1.8 1.8 0 1 0 .01 0zM474.6 293.9a0.6 0.6 0 1 0 .01 0zM462.7 238.1a0.8 0.8 0 1 0 .01 0zM452.2 218.3a0.5 0.5 0 1 0 .01 0zM429.3 262a0.7 0.7 0 1 0 .01 0zM453.5 211.8a0.6 0.6 0 1 0 .01 0zM481.2 275.5a1.2 1.2 0 1 0 .01 0zM425.5 263.1a0.8 0.8 0 1 0 .01 0zM468.7 245.5a1.5 1.5 0 1 0 .01 0zM426.6 260a1.2 1.2 0 1 0 .01 0zM468.1 213.9a1.5 1.5 0 1 0 .01 0zM430 291.2a1 1 0 1 0 .01 0zM438.3 251.6a1.3 1.3 0 1 0 .01 0zM451.1 224.7a1.2 1.2 0 1 0 .01 0zM422.3 215.9a1.2 1.2 0 1 0 .01 0zM480.8 271.6a0.8 0.8 0 1 0 .01 0zM432.1 219.3a0.8 0.8 0 1 0 .01 0zM417.5 261.3a0.6 0.6 0 1 0 .01 0zM489.9 279a1.1 1.1 0 1 0 .01 0zM428.5 283.4a0.9 0.9 0 1 0 .01 0zM462.6 259.5a0.8 0.8 0 1 0 .01 0zM458.1 226.9a0.8 0.8 0 1 0 .01 0zM410.5 266.1a0.6 0.6 0 1 0 .01 0zM479.7 216.2a0.6 0.6 0 1 0 .01 0zM418.4 235.1a0.6 0.6 0 1 0 .01 0zM462.5 270.4a1.3 1.3 0 1 0 .01 0zM499.3 246.2a1.8 1.8 0 1 0 .01 0zM465.6 279.8a1.1 1.1 0 1 0 .01 0zM469.2 235.8a0.8 0.8 0 1 0 .01 0zM457 243a1.8 1.8 0 1 0 .01 0zM426.2 241.1a1.2 1.2 0 1 0 .01 0zM420.3 244.7a1.8 1.8 0 1 0 .01 0zM500.2 259.5a0.6 0.6 0 1 0 .01 0zM432.5 214.5a1 1 0 1 0 .01 0zM467.5 287.6a0.7 0.7 0 1 0 .01 0zM445.6 250.9a1 1 0 1 0 .01 0zM452 266.9a0.6 0.6 0 1 0 .01 0zM460.2 233.6a0.5 0.5 0 1 0 .01 0zM449.3 245.7a1 1 0 1 0 .01 0zM486.6 235.7a1.8 1.8 0 1 0 .01 0zM438 206.5a1.5 1.5 0 1 0 .01 0zM445.2 205a0.8 0.8 0 1 0 .01 0zM466.3 291.1a1.3 1.3 0 1 0 .01 0zM415.2 254.8a0.6 0.6 0 1 0 .01 0zM442.7 207.8a1 1 0 1 0 .01 0zM415.1 241.4a1.2 1.2 0 1 0 .01 0zM488.5 255.9a1.3 1.3 0 1 0 .01 0zM467.8 279a1.3 1.3 0 1 0 .01 0zM469.6 230.8a0.8 0.8 0 1 0 .01 0zM461.3 292.2a1.5 1.5 0 1 0 .01 0zM473.6 227.6a0.6 0.6 0 1 0 .01 0zM466.1 270.6a0.6 0.6 0 1 0 .01 0zM480 280.8a1 1 0 1 0 .01 0zM496 267.1a0.9 0.9 0 1 0 .01 0zM445.9 211.6a1 1 0 1 0 .01 0zM494.9 242.2a1 1 0 1 0 .01 0zM431 292.6a1.1 1.1 0 1 0 .01 0zM452.9 239.9a1.5 1.5 0 1 0 .01 0zM466.6 205a1 1 0 1 0 .01 0zM452.4 275.2a1.2 1.2 0 1 0 .01 0zM437.5 291a0.6 0.6 0 1 0 .01 0zM496.2 251.9a0.6 0.6 0 1 0 .01 0zM411 256a0.8 0.8 0 1 0 .01 0zM476.1 247.4a1.5 1.5 0 1 0 .01 0zM435 278.1a0.9 0.9 0 1 0 .01 0zM434.4 234.2a0.6 0.6 0 1 0 .01 0zM474.1 294.4a1 1 0 1 0 .01 0zM439.7 277.3a0.9 0.9 0 1 0 .01 0zM452.9 230.6a1.8 1.8 0 1 0 .01 0zM425.2 287.4a1 1 0 1 0 .01 0zM459.6 228a0.8 0.8 0 1 0 .01 0zM410.5 249a1.3 1.3 0 1 0 .01 0zM493.9 238a1.5 1.5 0 1 0 .01 0zM447.6 252.5a1.2 1.2 0 1 0 .01 0zM437.6 286.8a1.5 1.5 0 1 0 .01 0zM483.3 223.9a1 1 0 1 0 .01 0zM477.8 226.5a0.8 0.8 0 1 0 .01 0zM456.1 252.8a0.6 0.6 0 1 0 .01 0zM443.5 277.3a1.8 1.8 0 1 0 .01 0zM457.2 292.2a1.2 1.2 0 1 0 .01 0zM497.7 247a0.7 0.7 0 1 0 .01 0zM433.3 242.2a1.5 1.5 0 1 0 .01 0zM435 293.1a1.5 1.5 0 1 0 .01 0zM476.2 293.4a0.6 0.6 0 1 0 .01 0zM485.8 213.5a0.8 0.8 0 1 0 .01 0zM408.7 261.2a1.1 1.1 0 1 0 .01 0zM438.7 252.4a1.3 1.3 0 1 0 .01 0zM432.6 233.6a0.6 0.6 0 1 0 .01 0zM479.9 242a0.9 0.9 0 1 0 .01 0zM433.2 245.6a1.3 1.3 0 1 0 .01 0zM429.6 290.1a1 1 0 1 0 .01 0zM428.8 281.3a0.6 0.6 0 1 0 .01 0zM464 288a0.5 0.5 0 1 0 .01 0zM417.4 268.6a0.6 0.6 0 1 0 .01 0zM467.5 296.9a1.3 1.3 0 1 0 .01 0zM489.8 235a0.9 0.9 0 1 0 .01 0zM465.8 278.5a0.9 0.9 0 1 0 .01 0zM459.9 217.4a1.1 1.1 0 1 0 .01 0zM443.2 296.1a0.6 0.6 0 1 0 .01 0zM499.2 258.8a0.5 0.5 0 1 0 .01 0zM493 260.8a0.8 0.8 0 1 0 .01 0zM488.6 259a0.7 0.7 0 1 0 .01 0zM445.2 292.4a0.9 0.9 0 1 0 .01 0zM463.5 282.2a1.5 1.5 0 1 0 .01 0zM495.2 244.9a1.2 1.2 0 1 0 .01 0zM470.7 276.2a1 1 0 1 0 .01 0zM503.7 250.5a0.8 0.8 0 1 0 .01 0zM429.1 256.9a1.5 1.5 0 1 0 .01 0zM454.3 206.5a1 1 0 1 0 .01 0zM458.3 254.5a1 1 0 1 0 .01 0zM500.8 235.9a1.5 1.5 0 1 0 .01 0zM488 246.6a1 1 0 1 0 .01 0zM472.6 291.2a0.8 0.8 0 1 0 .01 0zM419.5 223.9a1 1 0 1 0 .01 0zM455.6 278.2a0.9 0.9 0 1 0 .01 0zM433.3 285.1a1.2 1.2 0 1 0 .01 0zM456.8 231.1a0.6 0.6 0 1 0 .01 0zM477.4 215.6a1.5 1.5 0 1 0 .01 0zM413.3 236.7a0.6 0.6 0 1 0 .01 0zM408 255.1a1 1 0 1 0 .01 0zM437.3 222.2a1.8 1.8 0 1 0 .01 0zM406.8 246.3a1.2 1.2 0 1 0 .01 0zM462.4 269.4a1.8 1.8 0 1 0 .01 0zM424.8 270.6a1 1 0 1 0 .01 0zM454.1 276.7a1 1 0 1 0 .01 0zM447.5 268.6a0.9 0.9 0 1 0 .01 0zM459.1 284.7a1.1 1.1 0 1 0 .01 0zM492.5 258.2a1 1 0 1 0 .01 0zM466.2 262.7a1.5 1.5 0 1 0 .01 0zM492.5 278.9a0.8 0.8 0 1 0 .01 0zM445.3 251.7a1.8 1.8 0 1 0 .01 0zM468.6 287.8a0.6 0.6 0 1 0 .01 0zM492.3 236.8a0.5 0.5 0 1 0 .01 0zM479.4 243.1a0.8 0.8 0 1 0 .01 0zM414 236.1a0.9 0.9 0 1 0 .01 0zM492.1 270.9a0.6 0.6 0 1 0 .01 0zM486 277.9a0.6 0.6 0 1 0 .01 0zM472.3 212.3a1.3 1.3 0 1 0 .01 0zM453.8 263.7a0.8 0.8 0 1 0 .01 0zM414.2 234.8a0.6 0.6 0 1 0 .01 0zM495.2 223.7a1.2 1.2 0 1 0 .01 0zM486.1 252.6a0.6 0.6 0 1 0 .01 0zM475.3 293.2a1.8 1.8 0 1 0 .01 0zM413.1 244.6a1.5 1.5 0 1 0 .01 0zM443 261.1a0.8 0.8 0 1 0 .01 0zM466.9 261.4a0.9 0.9 0 1 0 .01 0zM491.1 229.7a0.8 0.8 0 1 0 .01 0zM497.8 245.5a1 1 0 1 0 .01 0zM463.7 238.1a1.3 1.3 0 1 0 .01 0zM454.6 222.3a1.1 1.1 0 1 0 .01 0z" fill="#5034aa" opacity="0.9" filter="url(#bl03)"/>
</g>
<clipPath id="c8"><rect x="511" y="198.9" width="104" height="105.1"/></clipPath>
<g clip-path="url(#c8)">
<rect x="511" y="198.9" width="104" height="105.1" fill="url(#pbg)"/>
<circle cx="563.5" cy="250.9" r="52.3" fill="#dedce4" stroke="#c4c0d0" stroke-width="1"/>
<circle cx="563.5" cy="250.9" r="50.1" fill="#d9d6e2" stroke="#7a6cb6" stroke-width="1" stroke-opacity="0.85"/>
<circle cx="565.5" cy="248.9" r="42.3" fill="url(#pin)" stroke="#eceaf1" stroke-width="0.9"/>
<path d="M581.5 265.3a0.9 0.9 0 1 0 .01 0zM591.5 269.1a0.5 0.5 0 1 0 .01 0zM588.9 235.7a1.5 1.5 0 1 0 .01 0zM607.8 268.5a1 1 0 1 0 .01 0zM556.9 286.2a0.6 0.6 0 1 0 .01 0zM559.7 295.2a0.5 0.5 0 1 0 .01 0zM577.5 209.3a1.5 1.5 0 1 0 .01 0zM575.7 272.8a0.8 0.8 0 1 0 .01 0zM557.3 212.6a1.8 1.8 0 1 0 .01 0zM530.4 283.3a1.8 1.8 0 1 0 .01 0zM544.6 217.5a1 1 0 1 0 .01 0zM563.2 275.3a0.8 0.8 0 1 0 .01 0zM575.1 245.1a1.8 1.8 0 1 0 .01 0zM588.5 211a0.5 0.5 0 1 0 .01 0zM521 230.5a0.8 0.8 0 1 0 .01 0zM517.7 248.6a0.9 0.9 0 1 0 .01 0zM554.9 281.8a1 1 0 1 0 .01 0zM555 269.4a1.8 1.8 0 1 0 .01 0zM600.5 272.2a1 1 0 1 0 .01 0zM555.2 288.9a1 1 0 1 0 .01 0zM551 213.5a0.6 0.6 0 1 0 .01 0zM578.9 296.9a0.9 0.9 0 1 0 .01 0zM531.7 216a1 1 0 1 0 .01 0zM546.4 271.1a1.3 1.3 0 1 0 .01 0zM537.9 223a0.7 0.7 0 1 0 .01 0zM600.4 278.5a0.5 0.5 0 1 0 .01 0zM555.3 291.4a1.1 1.1 0 1 0 .01 0zM565.7 289.1a0.8 0.8 0 1 0 .01 0zM551 296.6a0.5 0.5 0 1 0 .01 0zM559.5 241.4a0.8 0.8 0 1 0 .01 0zM603.5 240.5a0.5 0.5 0 1 0 .01 0zM550.8 275.9a0.6 0.6 0 1 0 .01 0zM525.4 273.9a1.8 1.8 0 1 0 .01 0zM578.7 216a0.8 0.8 0 1 0 .01 0zM592.9 227.3a0.8 0.8 0 1 0 .01 0zM549.6 263.2a0.6 0.6 0 1 0 .01 0zM591 252.6a0.5 0.5 0 1 0 .01 0zM540.2 275.6a1.5 1.5 0 1 0 .01 0zM555.6 279.4a0.6 0.6 0 1 0 .01 0zM571.4 282.1a0.7 0.7 0 1 0 .01 0zM577.4 257.2a1.3 1.3 0 1 0 .01 0zM554 233a0.6 0.6 0 1 0 .01 0zM526 240.1a1.1 1.1 0 1 0 .01 0zM587.3 250.6a0.6 0.6 0 1 0 .01 0zM550.7 293.9a0.9 0.9 0 1 0 .01 0zM574.9 288.4a0.7 0.7 0 1 0 .01 0zM542.7 263.7a0.5 0.5 0 1 0 .01 0zM540.9 258.9a1.2 1.2 0 1 0 .01 0zM584.9 210.8a1 1 0 1 0 .01 0zM583.3 255.8a0.8 0.8 0 1 0 .01 0zM569.1 274.1a0.7 0.7 0 1 0 .01 0zM560.4 282.4a0.8 0.8 0 1 0 .01 0zM572.3 246.1a1.1 1.1 0 1 0 .01 0zM547.2 243.9a1.2 1.2 0 1 0 .01 0zM572.2 212.8a1.3 1.3 0 1 0 .01 0zM555.1 257.3a0.9 0.9 0 1 0 .01 0zM578.6 235a0.6 0.6 0 1 0 .01 0zM546.4 227.3a1.5 1.5 0 1 0 .01 0zM544.2 293.5a0.9 0.9 0 1 0 .01 0zM542.3 221.7a1.2 1.2 0 1 0 .01 0zM539.5 288a0.9 0.9 0 1 0 .01 0zM605.4 272.4a0.8 0.8 0 1 0 .01 0zM539.5 209.3a0.5 0.5 0 1 0 .01 0zM539.6 230a1.5 1.5 0 1 0 .01 0zM539.1 209.3a0.5 0.5 0 1 0 .01 0z" fill="#5034aa" opacity="0.9" filter="url(#bl03)"/>
</g>
<text font-size="9.05" text-anchor="middle" fill="#000" color="#000" transform="translate(238.7,314.5) scale(1.100,1)">si-NC</text>
<text font-size="9.05" text-anchor="middle" fill="#000" color="#000" transform="translate(354.5,314.5) scale(1.100,1)">si-SMYD3#2</text>
<text font-size="8.48" text-anchor="middle" fill="#000" color="#000" transform="translate(455.6,314.5) scale(1.100,1)">si-NC</text>
<text font-size="8.97" text-anchor="middle" fill="#000" color="#000" transform="translate(571.3,314.5) scale(1.100,1)">si-SMYD3#2</text>
<rect x="655.2" y="185.7" width="10.8" height="5.6" fill="#ffffff" stroke="#222" stroke-width="1"/>
<text font-size="9.00" text-anchor="start" fill="#000" color="#000" transform="translate(667.9,191.6) scale(1.100,1)">si-NC</text>
<rect x="655.2" y="197.2" width="10.8" height="5.5" fill="#a09fa4" stroke="#222" stroke-width="1"/>
<text font-size="9.00" text-anchor="start" fill="#000" color="#000" transform="translate(667.9,203) scale(1.100,1)">si-SMYD3#2</text>
<line x1="648.2" y1="204.8" x2="648.2" y2="302.4" stroke="#333" stroke-width="1"/>
<line x1="648.2" y1="302.4" x2="787" y2="302.4" stroke="#333" stroke-width="1"/>
<line x1="645.2" y1="302.4" x2="648.2" y2="302.4" stroke="#333" stroke-width="1"/>
<text font-size="8.85" text-anchor="end" fill="#000" color="#000" transform="translate(644.2,304.7)">0</text>
<line x1="645.2" y1="282.9" x2="648.2" y2="282.9" stroke="#333" stroke-width="1"/>
<text font-size="8.85" text-anchor="end" fill="#000" color="#000" transform="translate(644.2,285.2)">50</text>
<line x1="645.2" y1="263.4" x2="648.2" y2="263.4" stroke="#333" stroke-width="1"/>
<text font-size="8.85" text-anchor="end" fill="#000" color="#000" transform="translate(644.2,265.7)">100</text>
<line x1="645.2" y1="243.8" x2="648.2" y2="243.8" stroke="#333" stroke-width="1"/>
<text font-size="8.85" text-anchor="end" fill="#000" color="#000" transform="translate(644.2,246.1)">150</text>
<line x1="645.2" y1="224.3" x2="648.2" y2="224.3" stroke="#333" stroke-width="1"/>
<text font-size="8.85" text-anchor="end" fill="#000" color="#000" transform="translate(644.2,226.6)">200</text>
<line x1="645.2" y1="204.8" x2="648.2" y2="204.8" stroke="#333" stroke-width="1"/>
<text font-size="8.85" text-anchor="end" fill="#000" color="#000" transform="translate(644.2,207.1)">250</text>
<line x1="671.4" y1="243.3" x2="671.4" y2="240.8" stroke="#222" stroke-width="1"/>
<line x1="666.7" y1="240.8" x2="676.1" y2="240.8" stroke="#222" stroke-width="1"/>
<rect x="662" y="243.3" width="18.8" height="59.1" fill="#ffffff" stroke="#222" stroke-width="1"/>
<line x1="698.5" y1="280.9" x2="698.5" y2="275.7" stroke="#222" stroke-width="1"/>
<line x1="693.9" y1="275.7" x2="703.1" y2="275.7" stroke="#222" stroke-width="1"/>
<rect x="689.3" y="280.9" width="18.4" height="21.5" fill="#a09fa4" stroke="#222" stroke-width="1"/>
<line x1="744.3" y1="223.3" x2="744.3" y2="219.1" stroke="#222" stroke-width="1"/>
<line x1="739.6" y1="219.1" x2="749" y2="219.1" stroke="#222" stroke-width="1"/>
<rect x="734.9" y="223.3" width="18.8" height="79.1" fill="#ffffff" stroke="#222" stroke-width="1"/>
<line x1="771.5" y1="284.3" x2="771.5" y2="280" stroke="#222" stroke-width="1"/>
<line x1="767" y1="280" x2="776.1" y2="280" stroke="#222" stroke-width="1"/>
<rect x="762.4" y="284.3" width="18.3" height="18.1" fill="#a09fa4" stroke="#222" stroke-width="1"/>
<line x1="684.9" y1="302.4" x2="684.9" y2="305.2" stroke="#333" stroke-width="1"/>
<line x1="757.8" y1="302.4" x2="757.8" y2="305.2" stroke="#333" stroke-width="1"/>
<line x1="671.4" y1="236.1" x2="699.1" y2="236.1" stroke="#222" stroke-width="1.1"/>
<g fill="#111"><polygon points="680.90,228.85 681.46,230.23 682.94,230.34 681.80,231.29 682.16,232.74 680.90,231.95 679.64,232.74 680.00,231.29 678.86,230.34 680.34,230.23"/><polygon points="685.25,228.85 685.81,230.23 687.29,230.34 686.15,231.29 686.51,232.74 685.25,231.95 683.99,232.74 684.35,231.29 683.21,230.34 684.69,230.23"/><polygon points="689.60,228.85 690.16,230.23 691.64,230.34 690.50,231.29 690.86,232.74 689.60,231.95 688.34,232.74 688.70,231.29 687.56,230.34 689.04,230.23"/></g>
<line x1="744.3" y1="212.5" x2="771.8" y2="212.5" stroke="#222" stroke-width="1.1"/>
<g fill="#111"><polygon points="753.70,205.75 754.26,207.13 755.74,207.24 754.60,208.19 754.96,209.64 753.70,208.85 752.44,209.64 752.80,208.19 751.66,207.24 753.14,207.13"/><polygon points="758.05,205.75 758.61,207.13 760.09,207.24 758.95,208.19 759.31,209.64 758.05,208.85 756.79,209.64 757.15,208.19 756.01,207.24 757.49,207.13"/><polygon points="762.40,205.75 762.96,207.13 764.44,207.24 763.30,208.19 763.66,209.64 762.40,208.85 761.14,209.64 761.50,208.19 760.36,207.24 761.84,207.13"/></g>
<text font-size="9.49" text-anchor="end" fill="#000" color="#000" transform="translate(688.6,309.8) rotate(-45) scale(1.100,1)">A549/DDP</text>
<text font-size="9.25" text-anchor="end" fill="#000" color="#000" transform="translate(763.8,309.8) rotate(-45) scale(1.100,1)">H1299/DDP</text>
<text font-size="10.45" text-anchor="middle" fill="#000" color="#000" transform="translate(626,253) rotate(-90) scale(1.100,1)">Colony number/well</text>
<text font-size="16.50" text-anchor="start" fill="#111" color="#111" transform="translate(2.9,368.8)">E</text>
<text font-size="10.40" text-anchor="middle" fill="#000" color="#000" transform="translate(166.9,361) scale(1.100,1)">A549/DDP</text>
<text font-size="10.54" text-anchor="middle" fill="#000" color="#000" transform="translate(417,361) scale(1.100,1)">H1299/DDP</text>
<clipPath id="c9"><rect x="36.4" y="370.1" width="107.2" height="105.5"/></clipPath>
<g clip-path="url(#c9)">
<path transform="scale(.5)" d="M139 897h2M165 869h2M135 895h2M166 885h2M131 885h2M166 878h2M180 874h2M151 881h2M188 855h2M138 882h2M156 882h2M149 885h2M161 884h2M170 873h2M132 904h2M133 895h2M133 896h2M144 891h2M200 849h2M159 865h2M153 889h2M154 885h2M151 874h2M158 871h2M178 860h2M164 875h2M164 869h2M167 871h2M175 874h2M152 875h2M167 878h2M175 863h2M164 880h2M159 881h2M154 876h2M138 889h2M170 887h2M173 880h2M168 879h2M160 886h2M177 862h2M154 902h2M162 886h2M161 866h2M196 870h2M160 885h2M152 875h2M154 886h2M173 876h2M161 891h2M147 895h2M168 869h2M125 893h2M160 883h2M171 860h2M157 886h2M140 867h2M176 890h2M164 866h2M149 888h2M192 862h2M163 892h2M162 896h2M142 885h2M171 885h2M165 878h2M125 895h2M143 884h2M161 874h2M165 875h2M150 886h2M164 884h2M146 885h2M143 906h2M173 867h2M141 878h2M157 882h2M186 862h2M131 873h2M175 870h2M132 899h2M148 922h2M172 875h2M141 869h2M145 873h2M152 861h2M147 899h2M171 858h2M137 903h2M161 867h2M141 884h2M134 889h2M175 875h2M182 861h2M147 877h2M146 874h2M133 904h2M178 874h2M174 871h2M144 890h2M143 878h2M123 888h2M155 883h2M154 896h2M159 884h2M167 864h2M130 906h2M151 898h2M164 886h2M155 860h2M161 870h2M141 886h2M169 881h2M160 861h2M134 871h2M155 887h2M145 891h2M162 887h2M139 884h2M152 902h2M169 871h2M158 881h2M156 879h2M143 877h2M153 900h2M162 877h2M151 885h2M156 874h2M158 882h2M140 884h2M135 884h2M155 857h2M147 880h2M146 889h2M170 872h2M149 879h2M157 890h2M143 878h2M131 887h2M140 903h2M158 877h2M171 863h2M168 880h2M125 886h2M145 897h2M166 861h2M167 869h2M146 882h2M141 873h2M134 883h2M171 892h2M190 853h2M128 896h2M150 905h2M158 871h2M170 877h2M129 894h2M151 884h2M154 878h2M154 876h2M149 901h2M161 882h2M131 896h2M159 865h2M167 869h2M159 877h2M163 888h2M156 897h2M139 883h2M159 868h2M153 892h2M162 858h2M170 890h2M169 869h2M144 886h2M137 891h2M151 883h2M169 869h2M139 903h2M137 889h2M150 881h2M139 890h2M181 857h2M158 891h2M168 880h2M157 860h2M143 891h2M167 886h2M159 876h2M154 880h2M161 884h2M145 880h2M147 898h2M177 876h2M170 879h2M157 887h2M138 891h2M147 894h2M145 887h2M166 887h2M138 883h2M160 866h2M158 874h2M144 871h2M162 872h2M151 905h2M181 899h2M158 876h2M163 892h2M156 885h2M157 871h2M153 877h2M141 900h2M164 876h2M132 877h2M160 877h2M130 898h2M133 897h2M158 883h2M158 881h2M136 890h2M146 885h2M161 884h2M164 848h2M159 877h2M190 866h2M133 901h2M152 894h2M139 892h2M152 883h2M137 875h2M165 884h2M148 876h2M160 884h2M151 884h2M168 861h2M137 874h2M141 884h2M137 887h2M178 863h2M163 898h2M145 871h2M155 872h2M171 857h2M138 877h2M150 874h2M151 880h2M150 894h2M167 873h2M136 883h2M169 896h2M144 881h2M139 881h2M139 890h2M174 868h2M139 876h2M157 880h2M132 886h2M158 889h2M164 877h2M151 887h2M164 897h2M136 891h2M170 868h2M174 868h2M154 878h2M130 889h2M188 865h2M167 883h2M167 883h2M149 883h2M166 870h2M134 893h2M149 892h2M139 882h2M157 896h2M154 884h2M156 884h2M174 883h2M138 907h2M152 880h2M187 857h2M186 870h2M142 895h2M164 874h2M120 902h2M146 876h2M178 863h2M147 884h2M139 884h2M157 883h2M146 886h2M137 899h2M145 891h2M139 887h2M151 872h2M188 858h2M149 878h2M183 876h2M152 870h2M150 891h2M141 879h2M134 888h2M151 877h2M168 901h2M174 858h2M159 879h2M157 891h2M148 883h2M148 885h2M176 875h2M133 892h2M147 895h2M161 886h2M144 869h2M161 879h2M155 868h2M152 876h2M146 891h2M155 872h2M118 882h2M151 895h2M142 867h2M144 893h2M183 874h2M160 880h2M137 889h2M146 880h2M153 879h2M166 889h2M166 878h2M143 874h2M155 887h2M146 900h2M151 888h2M143 877h2M177 854h2M164 869h2M154 874h2M153 892h2M177 857h2M159 888h2M149 893h2M146 894h2M166 886h2M153 870h2M158 868h2M172 885h2M160 872h2M171 872h2M135 892h2M172 866h2M154 878h2M128 895h2M160 880h2M141 869h2M174 875h2M175 881h2M145 882h2M166 890h2M129 897h2M147 893h2M173 866h2M137 894h2M143 874h2M164 870h2M157 866h2M162 861h2M160 859h2M171 866h2M131 896h2M154 872h2M148 889h2M137 863h2M150 889h2M163 886h2M157 906h2M167 876h2M174 878h2M152 877h2M170 875h2M122 893h2M161 878h2M161 884h2M164 891h2M144 885h2M162 884h2M172 885h2M153 895h2M155 870h2M162 898h2M163 871h2M117 900h2M145 889h2M190 865h2M154 873h2M136 892h2M162 907h2M145 882h2M170 872h2M143 903h2M143 876h2M161 882h2M153 890h2M161 868h2M114 886h2M158 892h2M175 882h2M180 864h2M161 861h2M165 878h2M151 880h2M139 894h2M170 867h2M158 872h2M153 873h2M158 877h2M155 875h2M136 891h2M176 883h2M153 891h2M166 877h2M134 899h2M146 900h2M168 879h2M122 911h2M158 866h2M168 873h2M148 879h2M138 889h2M198 853h2M154 876h2M143 884h2M146 897h2M154 891h2M142 900h2M157 887h2M148 877h2M169 867h2M148 877h2M155 877h2M160 882h2M138 879h2M164 884h2M158 867h2M164 879h2M160 882h2M151 887h2M164 869h2M133 895h2M148 867h2M147 893h2M152 884h2M141 901h2M177 864h2M138 881h2M167 874h2M149 898h2M168 879h2M129 898h2M157 867h2M174 883h2M165 867h2M149 895h2M174 881h2M170 870h2M139 873h2M176 890h2M145 883h2M165 878h2M131 890h2M148 907h2M148 895h2M190 876h2M182 879h2M135 892h2M142 887h2M182 845h2M156 868h2M179 878h2M157 901h2M161 890h2M156 875h2M148 885h2M163 877h2M186 858h2M144 882h2M136 880h2M145 898h2M154 880h2M164 886h2M166 881h2M145 886h2M143 889h2M141 887h2M151 882h2M148 881h2M171 867h2M141 893h2M134 885h2M147 870h2M111 915h2M160 860h2M144 895h2M122 895h2M136 892h2M131 907h2M153 885h2M139 871h2M145 874h2M150 876h2M149 884h2M168 880h2M140 892h2M177 871h2M143 888h2M154 892h2M156 884h2M178 851h2M132 880h2M136 903h2M166 890h2M122 895h2M179 875h2M171 879h2M154 882h2M159 887h2M153 886h2M169 860h2M146 893h2M150 883h2M185 864h2M153 894h2M184 850h2M145 889h2M156 903h2M159 874h2M157 872h2M146 889h2M176 843h2M166 887h2M174 888h2M161 879h2M148 877h2M171 858h2M150 880h2M132 874h2M149 887h2M160 886h2M149 879h2M161 884h2M134 880h2M145 899h2M164 866h2M160 887h2M169 865h2M157 894h2M195 869h2M140 896h2M150 885h2M142 885h2M163 895h2M166 878h2M151 877h2M157 893h2M175 887h2M158 879h2M133 901h2M137 909h2M145 888h2M133 892h2M146 899h2M152 871h2M127 900h2M142 879h2M161 875h2M153 877h2M144 884h2M135 902h2M151 866h2M161 889h2M164 889h2M150 885h2M132 888h2M124 894h2M160 883h2M171 872h2M142 895h2M161 896h2M186 870h2M136 889h2M153 875h2M165 882h2M167 875h2M138 885h2M159 892h2M181 873h2M162 883h2M172 883h2M159 863h2M169 875h2M150 890h2M158 879h2M131 899h2M162 876h2M134 901h2M165 876h2M158 875h2M147 892h2M150 887h2M203 855h2M148 870h2M159 886h2M143 887h2M125 908h2M149 893h2M172 868h2M169 874h2M150 882h2M148 899h2M161 866h2M162 869h2M139 905h2M142 903h2M161 886h2M167 885h2M162 883h2M163 887h2M153 893h2M175 867h2M158 874h2M151 887h2M145 879h2M155 884h2M162 884h2M136 909h2M148 878h2M151 889h2M164 871h2M149 869h2M156 880h2M152 892h2M184 872h2M150 900h2M149 885h2M148 891h2M162 878h2M150 883h2M153 893h2M146 886h2M147 879h2M144 874h2M162 882h2M157 896h2M145 894h2M158 874h2M155 890h2M156 883h2M174 870h2M127 893h2M165 873h2M130 879h2M166 889h2M126 879h2M158 873h2M148 883h2M144 894h2M168 876h2M151 895h2M155 887h2M144 896h2M170 884h2M157 885h2M150 894h2M170 882h2M143 877h2M152 881h2M147 893h2M169 876h2M171 874h2M138 887h2M152 890h2M167 874h2M164 867h2M160 893h2M165 885h2M120 889h2M147 897h2M173 862h2M136 885h2M144 894h2M159 898h2M161 870h2M157 879h2M169 881h2M154 891h2M161 876h2M161 884h2M146 880h2M171 870h2M148 891h2M134 897h2M133 892h2M126 894h2M165 872h2M146 905h2M152 898h2M140 877h2M177 861h2M170 883h2M136 895h2M149 892h2M148 874h2M158 887h2M153 889h2M147 887h2M160 880h2M176 876h2M169 879h2M151 873h2M177 884h2M156 878h2M159 890h2M153 873h2M148 878h2M147 878h2M149 900h2M161 861h2M139 888h2M142 876h2M159 863h2M167 880h2M146 881h2M156 882h2M120 894h2M161 876h2M144 879h2M141 884h2M186 847h2M177 871h2M158 881h2M157 896h2M161 877h2M153 884h2M137 891h2M149 892h2M154 864h2M156 891h2M131 886h2M167 872h2M142 878h2M154 877h2M159 883h2M162 873h2M147 887h2M154 884h2M146 885h2M143 884h2M162 888h2M150 891h2M159 879h2M161 872h2M163 879h2M108 918h2M172 889h2M140 893h2M154 872h2M173 874h2M138 882h2M160 902h2M172 845h2M132 904h2M150 879h2M163 877h2M159 881h2M146 901h2M153 894h2M164 876h2M156 880h2M127 897h2M152 867h2M139 904h2M158 864h2M160 877h2M166 870h2M148 879h2M156 879h2M144 886h2M147 893h2M133 881h2M146 899h2M150 891h2M162 871h2M167 878h2M150 878h2M147 874h2M148 881h2M162 880h2M149 894h2M171 871h2M146 893h2M118 901h2M172 890h2M151 899h2M195 872h2M127 912h2M162 887h2M149 880h2M158 894h2M164 872h2M163 884h2M162 876h2M141 883h2M145 882h2M126 888h2M161 866h2M136 894h2M180 877h2M143 879h2M142 881h2M149 891h2M136 887h2M150 884h2M140 884h2M135 888h2M160 875h2M114 916h2M149 877h2M136 864h2M137 906h2M194 876h2M144 889h2M159 866h2M175 860h2M153 871h2M159 878h2M164 864h2M163 895h2M139 896h2M158 874h2M157 894h2M173 875h2M152 872h2M164 893h2M162 862h2M122 898h2M154 877h2M151 887h2M168 875h2M165 860h2M163 880h2M139 905h2M125 888h2M197 865h2M166 888h2M165 863h2M168 887h2M152 884h2M151 892h2M143 883h2M132 888h2M159 883h2M144 879h2M160 881h2M169 866h2M151 890h2M175 867h2M148 876h2M153 892h2M171 881h2M135 904h2M144 895h2M120 905h2M148 899h2M162 890h2M157 900h2M157 900h2M142 880h2M165 870h2M147 873h2M150 886h2M146 892h2M126 911h2M155 896h2M146 881h2M149 888h2M160 873h2M145 893h2M157 862h2M136 888h2M184 874h2M168 878h2M144 901h2M144 881h2M174 853h2M174 870h2M142 892h2M143 892h2M139 880h2M189 852h2M168 872h2M157 867h2M123 869h2M170 875h2M142 899h2M177 897h2M162 886h2M166 881h2M152 879h2M170 884h2M132 886h2M162 895h2M143 872h2M169 879h2M182 864h2M178 858h2M167 874h2M136 892h2M178 877h2M154 893h2M171 879h2M160 881h2M142 890h2M152 876h2M151 886h2M162 887h2M138 889h2M156 877h2M156 875h2M170 869h2M142 898h2M168 852h2M153 884h2M176 882h2M144 873h2M168 882h2M161 878h2M155 907h2M130 883h2M169 874h2M165 878h2M185 875h2M151 894h2M129 882h2M169 867h2M124 903h2M147 892h2M150 877h2M148 894h2M142 892h2M142 895h2M182 868h2M172 874h2M139 889h2M157 884h2M149 892h2M144 890h2M148 874h2M168 872h2M156 881h2M118 893h2M146 898h2M149 892h2M136 886h2M153 894h2M130 897h2M161 879h2M158 888h2M153 872h2M159 870h2M156 895h2M196 868h2M156 872h2M152 901h2M152 869h2M179 871h2M175 872h2M120 898h2M151 882h2M172 862h2M152 883h2M148 876h2M124 876h2M158 877h2M152 873h2M149 875h2M142 894h2M166 880h2M152 880h2M180 877h2M140 881h2M161 881h2M152 907h2M121 897h2M162 886h2M126 897h2M181 878h2M151 885h2M144 893h2M130 878h2M133 897h2M141 903h2M177 876h2M169 883h2M162 885h2M164 883h2M137 887h2M144 898h2M157 872h2M137 888h2M166 873h2M147 880h2M160 894h2M143 886h2M181 870h2M143 901h2M139 898h2M114 900h2M164 869h2M144 889h2M152 879h2M153 901h2M177 870h2M135 890h2M152 888h2M174 863h2M154 878h2M153 876h2M165 886h2M147 884h2M149 872h2M173 855h2M145 879h2M173 864h2M156 900h2M149 878h2M155 883h2M143 888h2M155 889h2M169 880h2M156 889h2M157 892h2M158 875h2M164 859h2M137 886h2M146 875h2M128 881h2M152 876h2M189 866h2M145 902h2M161 888h2M144 901h2M168 868h2M140 888h2M170 896h2M187 875h2M149 882h2M158 876h2M147 885h2M166 873h2M156 878h2M150 882h2M173 871h2M174 866h2M162 862h2M148 886h2M145 887h2M140 890h2M145 888h2M145 878h2M149 886h2M137 895h2M171 868h2M165 881h2M149 899h2M184 850h2M181 856h2M166 855h2M171 872h2M132 889h2M135 886h2M159 877h2M118 904h2M161 878h2M169 853h2M158 880h2M158 866h2M135 894h2M146 869h2M159 878h2M152 857h2M157 871h2M151 892h2M179 866h2M159 892h2M141 890h2M142 880h2M167 894h2M160 883h2M159 890h2M152 874h2M163 891h2M159 891h2M163 897h2M161 884h2M154 891h2M144 874h2M153 871h2M179 873h2M158 887h2M125 918h2M148 893h2M182 846h2M150 888h2M152 866h2M148 901h2M148 892h2M131 889h2M130 902h2M171 871h2M151 886h2M159 875h2M171 890h2M183 856h2M146 908h2M174 881h2M162 874h2M173 880h2M165 863h2M167 869h2M151 888h2M161 901h2M163 878h2M153 886h2M154 888h2M170 879h2M135 892h2M149 873h2M159 877h2M157 884h2M153 899h2M166 868h2M164 883h2M142 887h2M151 857h2M137 897h2M158 869h2M177 889h2M157 880h2M150 874h2M163 878h2M172 885h2M156 883h2M167 891h2M134 896h2M146 889h2M166 874h2M165 876h2M141 884h2M136 897h2M153 892h2M163 866h2M142 897h2M143 892h2M161 873h2M175 859h2M158 875h2M113 909h2M155 888h2M149 878h2M146 885h2M163 873h2M176 876h2M149 896h2M123 904h2M140 891h2M170 871h2M158 892h2M140 884h2M171 877h2M135 897h2M164 873h2M149 887h2M154 875h2M158 863h2M164 897h2M139 892h2M118 899h2M138 894h2M156 899h2M141 891h2M160 884h2M159 862h2M183 858h2M136 878h2M139 874h2M154 876h2M155 873h2M166 897h2M171 872h2M147 902h2M124 889h2M169 865h2M176 873h2M193 873h2M159 872h2M169 886h2M142 861h2M147 883h2M152 880h2M164 862h2M151 864h2M119 896h2M139 883h2M147 893h2M163 877h2M154 875h2M133 882h2M143 878h2M153 890h2M168 886h2M130 876h2M148 907h2M162 872h2M170 866h2M175 863h2M152 891h2M137 892h2M183 866h2M137 891h2M150 877h2M166 887h2M159 888h2M159 880h2M148 896h2M171 866h2M144 894h2M161 889h2M160 876h2M138 900h2M149 872h2M124 884h2M161 873h2M103 908h2M145 887h2M153 879h2M169 882h2M158 895h2M148 877h2M149 871h2M145 878h2M149 888h2M122 909h2M157 878h2M166 877h2M144 879h2M168 880h2M130 891h2M141 899h2M140 879h2M177 870h2M158 881h2M152 884h2M169 876h2M148 887h2M177 860h2M136 896h2M151 911h2M165 880h2M169 892h2M139 892h2M137 907h2M161 895h2M145 878h2M148 894h2M144 892h2M140 884h2M154 899h2M140 895h2M162 869h2M140 907h2M177 863h2M141 900h2M149 877h2M137 869h2M137 882h2M138 899h2M166 891h2M113 904h2M148 899h2M169 873h2M151 876h2M144 884h2M128 920h2M174 889h2M173 873h2M157 862h2M144 898h2M141 875h2M147 873h2M161 893h2M136 890h2M161 876h2M152 874h2M137 869h2M157 893h2M137 892h2M170 884h2M166 864h2M156 898h2M148 889h2M139 886h2M109 908h2M118 897h2M146 901h2M166 877h2M140 877h2M156 872h2M157 890h2M151 884h2M145 899h2M164 882h2M169 855h2M157 886h2M160 881h2M153 867h2M158 891h2M152 881h2M157 862h2M167 889h2M146 879h2M159 874h2M143 891h2M133 903h2M134 890h2M164 875h2M164 889h2M185 882h2M150 894h2M134 904h2M168 864h2M164 883h2M148 879h2M168 858h2M160 887h2M165 891h2M177 871h2M182 870h2M135 892h2M158 881h2M141 915h2M126 890h2M161 879h2M176 868h2M162 883h2M137 880h2M152 894h2M156 894h2M149 893h2M158 888h2M155 883h2M153 895h2M156 886h2M158 869h2M142 890h2M166 862h2M134 885h2M143 878h2M145 894h2M138 893h2M136 892h2M151 863h2M155 883h2M154 884h2M153 869h2M155 888h2M165 860h2M139 878h2M148 875h2M144 897h2M175 846h2M172 859h2M165 878h2M170 868h2M142 890h2M160 868h2M159 878h2M156 880h2M166 882h2M148 882h2M119 897h2M136 902h2M135 888h2M166 884h2M167 864h2M162 887h2M141 889h2M133 890h2M164 876h2M146 882h2M179 872h2M147 909h2M147 885h2M144 883h2M156 866h2M153 879h2M180 868h2M162 881h2M163 877h2M121 909h2M153 890h2M155 875h2M136 884h2M157 879h2M140 888h2M155 874h2M149 879h2M118 908h2M159 887h2M169 864h2M163 878h2M159 887h2M160 865h2M174 866h2M141 884h2M145 876h2M171 874h2M145 897h2M158 880h2M167 872h2M153 888h2M122 892h2M166 884h2M130 899h2M143 887h2M169 886h2M183 871h2M163 877h2M130 903h2M132 886h2M148 870h2M182 869h2M161 882h2M158 880h2M160 870h2M158 881h2M159 867h2M157 879h2M165 880h2M159 883h2M167 887h2M161 883h2M140 890h2M170 882h2M140 891h2M150 885h2M145 884h2M154 883h2M164 866h2M144 897h2M160 876h2M143 901h2M144 900h2M157 879h2M155 889h2M146 870h2M134 874h2M164 884h2M162 863h2M192 874h2M143 869h2M147 898h2M180 858h2M123 893h2M181 863h2M124 881h2M167 881h2M146 885h2M153 879h2M143 883h2M151 896h2M164 885h2M168 848h2M158 889h2M148 880h2M157 874h2M141 888h2M155 882h2M166 873h2M162 908h2M149 882h2M148 879h2M133 899h2M165 855h2M145 892h2M147 892h2M148 875h2M148 881h2M149 859h2M166 887h2M157 882h2M148 890h2M146 875h2M126 878h2M161 879h2M170 873h2M157 866h2M125 896h2M151 888h2M151 882h2M156 883h2M158 882h2M146 886h2M128 889h2M152 888h2M136 880h2M163 867h2M125 892h2M126 877h2M157 897h2M139 884h2M170 871h2M159 892h2M137 893h2M162 878h2M133 887h2M178 864h2M155 892h2M129 899h2M136 909h2M141 892h2M142 892h2M158 879h2M151 887h2M148 881h2M167 882h2M130 888h2M144 892h2M142 906h2M155 883h2M162 868h2M161 881h2M167 862h2M176 873h2M163 887h2M149 883h2M164 871h2M176 881h2M158 881h2M141 882h2M169 861h2M157 883h2M138 886h2M154 903h2M166 888h2M187 869h2M170 866h2M151 899h2M169 861h2M171 873h2M170 881h2M178 859h2M160 891h2M153 888h2M145 871h2M151 893h2M139 877h2M148 888h2M163 879h2M157 870h2M142 883h2M150 889h2M172 867h2M174 879h2M134 888h2M150 871h2M171 851h2M141 899h2M147 894h2M146 899h2M150 893h2M161 862h2M134 879h2M143 899h2M158 888h2M179 875h2M162 872h2M151 888h2M172 881h2M157 877h2M161 894h2M168 893h2M149 895h2M161 885h2M146 892h2M152 881h2M131 884h2M153 889h2M159 881h2M153 870h2M170 872h2M142 885h2M169 874h2M142 912h2M142 908h2M162 867h2M178 878h2M172 876h2M160 880h2M149 889h2M172 869h2M175 852h2M148 871h2M132 901h2M148 881h2M139 891h2M131 896h2M141 878h2M152 865h2M162 880h2M163 878h2M165 872h2M142 895h2M142 887h2M152 874h2M161 862h2M172 870h2M184 873h2M166 877h2M150 871h2M143 881h2M144 888h2M144 891h2M149 881h2M162 881h2M135 893h2M195 854h2M157 871h2M176 883h2M162 875h2M146 869h2M162 874h2M162 881h2M168 894h2M164 868h2M166 880h2M162 891h2M141 873h2M142 895h2M142 893h2M136 899h2M147 878h2M146 885h2M169 875h2M153 885h2M169 876h2M176 860h2M167 875h2M149 892h2M171 880h2M157 871h2M159 883h2M178 867h2M164 891h2M154 878h2M162 884h2M149 869h2M154 893h2M149 895h2M153 875h2M156 860h2M118 892h2M161 875h2M163 875h2M154 877h2M154 892h2M159 865h2M172 890h2M161 868h2M166 876h2M155 892h2M169 866h2M155 878h2M162 893h2M152 890h2M159 880h2M142 897h2M143 897h2M154 884h2M144 881h2M141 892h2M155 885h2M155 890h2M157 881h2M151 884h2M160 871h2M140 896h2M161 878h2M152 871h2M141 891h2M148 874h2M152 865h2M167 863h2M142 880h2M135 893h2M127 898h2M156 878h2M148 872h2M123 891h2M171 874h2M138 911h2M168 883h2M175 881h2M132 899h2M153 902h2M164 875h2M141 870h2M152 875h2M177 874h2M152 880h2M167 868h2M171 873h2M152 887h2M171 854h2M168 880h2M158 894h2M166 879h2M144 895h2M139 898h2M180 855h2M171 860h2M159 886h2M136 898h2M141 885h2M166 873h2M160 878h2M167 889h2M155 879h2M158 887h2M151 863h2M156 886h2M188 853h2M145 877h2M145 871h2M143 889h2M133 895h2M151 897h2M187 881h2M160 885h2M184 855h2M174 859h2M162 861h2M148 884h2M142 871h2M155 879h2M178 872h2M125 904h2M169 871h2M138 879h2M145 879h2M149 882h2M168 863h2M154 871h2M163 886h2M141 879h2M155 882h2M148 891h2M159 886h2M139 900h2M168 864h2M183 864h2M132 887h2M141 885h2M153 886h2M150 882h2M132 877h2M139 880h2M155 857h2M157 851h2M152 884h2M135 886h2M161 866h2M153 883h2M158 867h2M172 868h2M162 862h2M169 871h2M162 870h2M167 874h2M140 917h2M148 892h2M150 881h2M154 892h2M172 879h2M136 903h2M145 912h2M165 886h2M155 883h2M154 902h2M155 893h2M143 889h2M149 885h2M151 891h2M156 865h2M142 877h2M163 863h2M162 878h2M144 869h2M177 864h2M169 883h2M136 885h2M188 879h2M143 889h2M167 872h2M176 873h2M157 887h2M154 895h2M152 897h2M181 845h2M171 855h2M162 895h2M173 876h2M161 879h2M160 876h2M145 876h2M179 865h2M185 868h2M156 870h2M151 885h2M151 881h2M121 901h2M149 881h2M143 874h2M150 900h2M139 887h2M142 889h2M157 901h2M147 901h2M150 890h2M190 857h2M141 862h2M149 884h2M158 882h2M135 886h2M164 873h2M158 886h2M157 882h2M140 892h2M140 911h2M152 901h2M147 886h2M174 871h2M156 878h2M148 879h2M135 877h2M149 878h2M185 883h2M176 855h2M149 884h2M141 908h2M166 877h2M184 866h2M152 887h2M151 890h2M139 898h2M149 882h2M149 885h2M134 903h2M161 896h2M159 889h2M154 881h2M136 891h2M135 871h2M147 880h2M164 886h2M157 893h2M176 875h2M151 886h2M185 877h2M163 859h2M132 916h2M172 884h2M162 874h2M161 877h2M180 873h2M138 886h2M174 878h2M161 881h2M134 888h2M154 864h2M165 881h2M168 881h2M183 865h2M135 878h2M124 905h2M160 862h2M154 875h2M153 886h2M150 873h2M165 873h2M133 906h2M175 864h2M170 855h2M158 893h2M176 873h2M168 869h2M170 881h2M170 875h2M169 877h2M156 865h2M159 869h2M150 886h2M152 870h2M149 889h2M150 886h2M159 881h2M148 888h2M157 867h2M161 867h2M163 882h2M158 867h2M137 883h2M164 877h2M133 905h2M169 867h2M155 884h2M139 889h2M161 874h2M156 883h2M180 867h2M158 875h2M173 870h2M161 891h2M169 862h2M157 894h2M156 897h2M162 897h2M132 878h2M144 910h2M143 886h2M143 882h2M158 881h2M144 884h2M178 875h2M175 881h2M157 890h2M174 860h2M162 852h2M121 890h2M136 885h2M152 892h2M143 886h2M129 884h2M149 878h2M168 874h2M133 905h2M136 891h2M136 886h2M141 880h2M143 887h2M168 880h2M172 853h2M155 894h2M138 892h2M172 885h2M164 878h2M156 888h2M158 883h2M145 887h2M137 883h2M139 884h2M143 884h2M135 899h2M167 889h2M115 895h2M137 885h2M151 875h2M147 894h2M144 873h2M179 888h2M170 870h2M173 868h2M151 887h2M173 870h2M144 875h2M152 873h2M147 873h2M138 884h2M140 881h2M175 875h2M145 878h2M169 870h2M167 883h2M151 889h2M159 875h2M149 879h2M105 912h2M182 873h2M193 856h2M164 869h2M140 883h2M165 883h2M131 905h2M171 878h2M138 896h2M153 870h2M149 908h2M143 885h2M124 897h2M175 871h2M143 890h2M162 882h2M142 894h2M143 885h2M139 885h2M153 865h2M170 899h2M141 889h2M161 893h2M137 900h2M163 896h2M161 898h2M143 894h2M136 889h2M135 891h2M173 863h2M196 869h2M159 879h2M155 874h2M163 877h2M127 901h2M163 877h2M159 879h2M153 894h2M172 866h2M160 867h2M168 864h2M159 888h2M148 887h2M166 868h2M164 886h2M154 874h2M148 884h2M158 886h2M133 897h2M164 890h2M130 890h2M166 873h2M169 871h2M145 888h2M175 875h2M158 881h2M172 876h2M161 885h2M150 873h2M172 881h2M173 868h2M140 896h2M137 875h2M153 875h2M153 878h2M170 880h2M167 885h2M158 903h2M134 904h2M167 869h2M150 873h2M150 888h2M128 881h2M145 880h2M140 890h2M141 902h2M170 871h2M146 887h2M149 878h2M147 891h2M139 886h2M143 880h2M152 871h2M170 878h2M158 888h2M167 869h2M151 878h2M147 883h2M158 885h2M186 863h2M166 871h2M177 867h2M151 882h2M153 879h2M165 892h2M152 876h2M129 899h2M137 886h2M158 883h2M166 885h2M138 887h2M138 884h2M141 883h2M158 868h2M174 847h2M158 864h2M142 878h2M156 885h2M145 882h2M137 886h2M139 886h2M159 887h2M135 875h2M153 891h2M142 894h2M132 884h2M148 868h2M136 868h2M141 894h2M144 882h2M157 871h2M136 890h2M153 884h2M157 892h2M160 876h2M177 850h2M153 875h2M184 864h2M166 877h2M171 865h2M158 862h2M166 884h2M168 878h2M129 900h2M156 895h2M164 881h2M173 873h2M131 890h2M131 910h2M145 875h2M158 875h2M155 894h2M119 892h2M151 881h2M167 869h2M168 889h2M128 886h2M143 887h2M140 894h2M148 897h2M163 882h2M157 881h2M130 896h2M135 908h2M134 887h2M157 901h2M146 904h2M167 898h2M148 881h2M150 879h2M147 894h2M151 892h2M166 883h2M179 874h2M147 900h2M126 914h2M165 864h2M162 858h2M165 870h2M149 884h2M149 892h2M152 882h2M152 879h2M142 896h2M159 866h2M172 881h2M162 890h2M130 912h2M145 891h2M152 907h2M151 890h2M132 894h2M159 877h2M150 899h2M133 897h2M149 881h2M163 878h2M154 888h2M155 886h2M172 872h2M152 878h2M177 875h2M162 879h2M143 891h2M152 871h2M140 890h2M181 866h2M140 904h2M169 878h2M145 886h2M188 869h2M207 827h2M130 894h2M138 886h2M184 879h2M134 903h2M179 866h2M196 869h2M143 889h2M156 860h2M162 890h2M168 871h2M217 845h2M173 853h2M181 854h2M153 874h2M137 901h2M140 903h2M152 901h2M175 883h2M141 898h2M177 868h2M153 872h2M96 929h2M126 884h2M148 843h2M149 894h2M158 873h2M145 889h2M123 893h2M169 855h2M154 874h2M119 874h2M136 881h2M138 891h2M171 878h2M158 859h2M191 860h2M166 852h2M199 884h2M179 880h2M149 886h2M163 884h2M165 877h2M132 877h2M178 903h2M143 896h2M183 850h2M128 904h2M153 868h2M196 861h2M150 862h2M194 870h2M189 881h2M131 881h2M181 868h2M155 872h2M183 864h2M170 851h2M164 880h2M169 844h2M151 872h2M159 874h2M175 878h2M165 871h2M189 878h2M155 867h2M204 860h2M203 840h2M151 880h2M147 862h2M167 848h2M101 916h2M139 894h2M126 879h2M108 893h2M170 903h2M169 859h2M190 859h2M108 885h2M124 892h2M156 869h2M142 874h2M169 882h2M147 905h2M140 885h2M200 858h2M147 855h2M159 871h2M164 891h2M162 903h2M162 877h2M154 882h2M190 859h2M133 883h2M189 865h2M141 887h2M166 881h2M141 891h2M127 887h2M165 894h2M170 895h2M178 884h2M143 859h2M111 904h2M196 848h2M154 890h2M149 877h2M167 877h2M142 876h2M188 843h2M140 887h2M159 881h2M203 867h2M160 878h2M180 860h2M156 862h2M168 869h2M131 900h2M210 847h2M153 901h2M169 873h2M199 863h2M198 837h2M150 882h2M156 861h2M156 857h2M146 882h2M168 876h2M147 891h2M166 871h2M157 870h2M209 864h2M175 886h2M138 884h2M156 886h2M146 871h2M120 887h2M183 867h2M144 917h2M146 878h2M157 879h2M152 881h2M183 874h2M144 884h2M141 883h2M156 874h2M166 857h2M174 878h2M151 877h2M170 863h2M155 883h2M113 920h2M169 879h2M128 892h2M173 875h2M144 880h2M194 856h2M176 844h2M165 864h2M159 897h2M131 882h2M144 884h2M164 880h2M190 863h2M205 861h2M171 866h2M187 852h2M181 862h2M153 891h2M177 869h2M184 861h2M145 888h2M192 838h2M122 903h2M148 905h2M157 864h2M152 867h2M177 879h2M193 869h2M168 889h2M161 855h2M182 847h2M136 868h2M127 866h2M128 885h2M132 889h2M175 861h2M177 881h2M158 901h2M159 876h2M178 885h2M141 904h2M151 884h2M120 864h2M190 867h2M131 882h2M134 893h2M202 844h2M130 909h2M129 873h2M168 870h2M169 881h2M165 840h2M172 886h2M179 847h2M113 891h2M167 868h2M176 862h2M125 883h2M161 888h2M184 844h2M169 869h2M127 881h2M190 848h2M162 882h2M173 878h2M140 884h2M168 876h2M132 869h2M185 872h2M179 861h2M119 898h2M205 849h2M153 855h2M154 896h2M166 870h2M192 865h2M170 866h2M177 881h2M157 858h2M154 876h2M178 883h2M155 872h2M179 870h2M147 892h2M167 877h2M113 878h2M116 880h2M188 872h2M144 911h2M130 884h2M196 830h2M181 874h2M188 867h2M177 889h2M159 878h2M166 867h2M166 891h2M199 858h2M154 872h2M149 878h2M150 882h2M163 891h2M127 893h2M174 860h2M156 888h2M151 867h2M168 880h2M131 911h2M129 909h2M134 898h2M167 887h2M155 873h2M146 889h2M162 889h2M178 883h2M177 867h2M164 884h2M167 851h2M166 866h2M173 880h2M119 903h2M169 843h2M165 873h2M155 894h2M180 863h2M201 871h2M171 882h2M192 881h2M183 871h2M168 882h2M193 852h2M151 867h2M212 834h2M146 877h2M188 862h2M119 907h2M199 848h2M185 905h2M154 877h2M192 892h2M158 852h2M156 876h2M174 861h2M154 860h2M135 895h2M188 841h2M136 912h2M175 879h2M159 881h2M159 877h2M196 845h2M153 882h2M170 896h2M161 882h2M139 900h2M180 873h2M123 893h2M118 932h2M171 895h2M209 858h2M146 883h2M163 843h2M201 871h2M178 860h2M157 854h2M138 885h2M158 905h2M153 844h2M189 864h2M151 872h2M207 848h2M155 855h2M156 894h2M161 869h2M143 864h2M113 918h2M119 881h2M175 881h2M162 893h2M139 842h2M187 840h2M192 849h2M156 872h2M144 897h2M206 865h2M153 889h2M188 866h2M149 917h2M139 878h2M166 876h2M139 870h2M135 894h2M129 916h2M176 868h2M159 864h2M156 894h2M162 900h2M188 868h2M149 870h2M151 868h2M150 878h2M157 896h2M136 881h2M188 861h2M167 862h2M178 885h2M165 880h2M191 864h2M178 845h2M115 890h2M165 862h2M132 925h2M185 851h2M142 878h2M180 870h2M174 888h2M134 875h2M161 875h2M166 879h2M140 916h2M125 906h2M175 879h2M159 864h2M146 864h2M156 876h2M137 927h2M152 891h2M188 856h2M144 870h2M140 879h2M163 887h2M176 889h2M171 872h2M95 920h2M155 856h2M154 869h2M156 879h2M154 879h2M171 874h2M153 896h2M165 879h2M210 868h2M205 841h2M173 875h2M162 873h2M187 876h2M204 837h2M165 861h2M137 855h2M194 827h2M150 855h2M146 870h2M108 896h2M155 878h2M124 912h2M145 869h2M188 846h2M177 889h2M161 874h2M178 857h2M161 873h2M158 890h2M177 887h2M158 855h2M167 867h2M162 890h2M157 853h2M202 845h2M123 897h2M163 857h2M129 870h2M162 866h2M195 856h2M161 866h2M171 847h2M170 877h2M135 875h2M199 878h2M182 890h2M169 867h2M143 869h2M176 856h2M150 889h2M165 861h2M164 871h2M162 872h2M133 856h2M157 897h2M155 883h2M166 856h2M160 872h2M173 877h2M160 873h2M182 863h2M138 911h2M166 863h2M152 867h2M152 858h2M185 866h2M143 896h2M125 892h2M144 898h2M208 819h2M210 837h2M211 855h2M187 864h2M225 814h2M193 858h2M166 868h2M182 854h2M189 835h2M219 836h2M187 858h2M202 831h2M199 846h2M220 820h2M170 873h2M200 819h2M196 843h2M201 842h2M194 851h2M164 873h2M194 843h2M221 836h2M188 849h2M188 849h2M189 836h2M223 824h2M211 844h2M181 860h2M227 813h2M186 842h2M228 827h2M214 838h2M192 842h2M212 820h2M207 833h2M192 848h2M181 849h2M167 854h2M192 850h2M197 828h2M211 853h2M207 838h2M169 860h2M214 813h2M186 843h2M205 842h2M180 863h2M158 864h2M204 824h2M188 844h2M223 809h2M228 836h2M193 836h2M198 830h2M192 834h2M172 846h2M214 820h2M191 858h2M199 836h2M191 846h2M196 838h2M204 843h2M207 847h2M213 817h2M181 841h2M195 851h2M195 838h2M193 822h2M207 831h2M212 826h2M224 830h2M201 844h2M185 844h2M185 849h2M178 845h2M192 830h2M207 823h2M197 838h2M221 827h2M196 836h2M215 824h2M187 851h2M212 828h2M211 845h2M198 848h2M236 827h2M188 855h2M217 849h2M228 826h2M224 825h2M198 864h2M181 863h2M216 828h2M218 823h2M216 827h2M197 852h2M197 848h2M188 851h2M217 836h2M183 847h2M197 830h2M224 843h2M217 831h2M193 851h2M221 842h2M204 849h2M196 839h2M198 844h2M178 853h2M216 806h2M221 830h2M192 837h2M219 819h2M206 831h2M191 857h2M208 822h2M214 814h2M188 858h2M196 842h2M222 809h2M210 826h2M203 834h2M191 847h2M189 848h2M187 847h2M198 826h2M206 842h2M210 841h2M191 853h2M194 815h2M207 842h2M202 837h2M200 837h2M183 846h2M180 878h2M204 838h2M215 831h2M194 828h2M193 862h2M213 835h2M184 847h2M203 828h2M217 816h2M190 835h2M215 840h2M206 834h2M202 846h2M212 847h2M197 837h2M185 831h2M207 834h2M172 850h2M185 848h2M191 854h2M218 817h2M198 829h2M218 813h2M191 847h2M204 863h2M199 837h2M187 849h2M191 842h2M215 820h2M206 827h2M214 819h2M187 847h2M220 818h2M189 847h2M193 847h2M194 847h2M219 828h2M228 819h2M238 820h2M203 845h2M191 845h2M198 833h2M207 832h2M237 815h2M196 835h2M191 839h2M192 846h2M181 852h2M207 827h2M183 848h2M212 821h2M218 806h2M194 850h2M222 818h2M176 856h2M186 844h2M194 837h2M203 838h2M189 829h2M187 823h2M202 833h2M199 861h2M235 823h2M204 831h2M218 840h2M201 837h2M194 843h2M211 820h2M220 824h2M238 809h2M217 814h2M240 806h2M209 846h2M199 827h2M215 832h2M200 834h2M187 867h2M198 844h2M192 838h2M203 827h2M209 814h2M218 836h2M197 843h2M214 823h2M199 838h2M241 796h2M198 836h2M190 838h2M194 846h2M229 831h2M179 847h2M198 831h2M190 845h2M190 838h2M203 829h2M201 842h2M215 828h2M221 823h2M188 864h2M251 805h2M233 822h2M200 846h2M190 842h2M212 830h2M186 836h2M216 826h2M201 829h2M191 846h2M181 867h2M209 843h2M215 821h2M205 823h2M196 856h2M191 838h2M211 830h2M212 816h2M194 833h2M202 834h2M180 838h2M188 859h2M192 834h2M200 827h2M222 830h2M201 832h2M178 862h2M235 811h2M257 823h2M239 817h2M256 814h2M254 852h2M258 775h2M237 819h2M251 799h2M270 787h2M258 784h2M256 852h2M246 820h2M260 788h2M245 832h2M249 816h2M260 838h2M257 814h2M275 791h2M248 794h2M258 821h2M245 773h2M254 768h2M247 814h2M252 797h2M243 810h2M260 780h2M270 815h2M266 799h2M252 816h2M259 815h2M238 802h2M252 798h2M261 806h2M256 817h2M251 810h2M249 821h2M258 818h2M248 861h2M242 810h2M254 793h2M266 800h2M239 803h2M245 845h2M266 840h2M236 810h2M239 856h2M247 863h2M251 861h2M260 822h2M243 835h2M242 784h2M267 798h2M247 832h2M271 777h2M257 775h2M249 818h2M258 820h2M260 793h2M256 826h2M256 800h2M253 783h2M262 809h2M257 828h2M268 797h2M252 781h2M255 771h2M245 835h2M243 816h2M260 790h2M242 795h2M263 771h2M260 785h2M260 803h2M265 809h2M232 818h2M251 818h2M254 801h2M258 801h2M256 814h2M247 797h2M247 848h2M263 801h2M259 786h2M251 784h2M262 822h2M247 835h2M237 830h2M245 761h2M255 771h2M235 823h2M258 806h2M246 796h2M260 775h2M259 799h2M251 797h2M247 801h2M245 803h2M242 839h2M246 812h2M246 815h2M268 811h2M262 798h2M263 790h2M261 802h2M255 786h2M251 816h2M256 812h2M247 819h2M257 805h2M239 810h2M259 816h2M262 816h2M248 820h2M265 794h2M264 818h2M256 806h2M266 773h2M251 814h2M259 831h2M270 805h2M257 784h2M247 822h2M256 783h2M267 787h2M260 778h2M244 792h2M254 802h2M241 787h2M271 820h2M249 805h2M252 807h2M256 818h2M263 805h2M268 757h2M266 804h2M263 842h2M244 833h2M241 806h2M251 823h2M242 799h2M247 874h2M249 845h2M261 801h2M245 821h2M263 744h2M237 829h2M266 818h2M247 793h2M242 838h2M255 810h2M264 801h2M234 836h2M257 812h2M253 822h2M262 813h2M247 813h2M263 800h2M249 823h2M240 823h2M256 757h2M248 816h2M248 827h2M255 812h2M238 819h2M258 814h2M256 782h2M245 814h2M253 777h2M250 820h2M252 815h2M269 803h2M258 799h2M266 844h2M262 800h2M250 816h2M249 817h2M258 819h2M256 787h2M259 817h2M256 815h2M262 826h2M255 820h2M262 774h2M258 816h2M239 774h2M250 818h2M242 789h2M256 792h2M246 796h2M280 786h2M258 808h2M224 827h2M250 811h2M255 795h2M228 835h2M265 787h2M250 812h2M250 794h2M258 839h2M243 839h2M261 783h2M270 788h2M240 803h2M226 843h2M243 791h2M253 812h2M253 802h2M260 782h2M256 786h2M254 809h2M261 800h2M256 821h2M239 746h2M254 796h2M246 813h2M250 835h2M264 828h2M269 805h2M240 805h2M256 801h2M234 787h2M265 810h2M235 805h2M258 801h2M263 780h2M259 833h2M266 796h2M261 815h2M232 853h2M269 799h2M256 797h2M248 812h2M241 783h2M267 806h2M226 842h2M249 831h2M249 797h2M251 792h2M255 846h2M246 808h2M224 841h2M255 834h2M237 827h2M255 827h2M266 799h2M262 831h2M262 776h2M271 789h2M246 800h2M258 799h2M279 798h2M250 808h2M257 782h2M251 837h2M242 785h2M276 775h2M250 834h2M259 802h2M260 804h2M247 826h2M256 812h2M268 768h2M252 833h2M278 771h2M260 772h2M257 793h2M249 834h2M240 816h2M248 812h2M258 816h2M249 833h2M256 802h2M254 803h2M228 840h2M247 821h2M242 828h2M266 821h2M259 813h2M257 795h2M251 787h2M241 811h2M260 813h2M248 829h2M251 815h2M253 819h2M249 837h2M249 771h2M249 791h2M266 825h2M261 796h2M265 774h2M232 808h2M270 797h2M240 817h2M251 848h2M247 862h2M251 791h2M246 832h2M248 774h2M254 828h2M262 825h2M162 786h2M143 801h2M215 784h2M165 781h2M190 784h2M245 764h2M144 789h2M191 796h2M194 802h2M202 781h2M229 772h2M191 791h2M216 783h2M189 771h2M183 794h2M221 764h2M154 809h2M248 777h2M122 790h2M172 786h2M201 799h2M204 777h2M165 795h2M198 794h2M177 805h2M203 784h2M194 806h2M202 784h2M178 804h2M196 791h2M164 795h2M194 808h2M150 803h2M156 785h2M244 763h2M221 793h2M198 789h2M185 797h2M197 795h2M198 771h2M150 801h2M180 779h2M212 790h2M196 800h2M201 786h2M171 808h2M170 788h2M161 806h2M191 789h2M209 777h2M206 781h2M180 791h2M194 804h2M171 806h2M218 781h2M164 786h2M190 821h2M180 795h2M160 803h2M194 800h2M244 787h2M162 797h2M148 797h2M149 813h2M127 814h2M184 776h2M209 799h2M233 777h2M206 788h2M224 781h2M213 774h2M164 786h2M177 781h2M187 785h2M147 805h2M217 789h2M193 787h2M176 778h2M234 761h2M158 788h2M156 801h2M163 792h2M191 778h2M155 805h2M166 778h2M197 774h2M184 792h2M193 793h2M173 795h2M140 807h2M135 813h2M167 806h2M184 797h2M171 793h2M199 795h2M167 768h2M190 798h2M218 780h2M204 749h2M171 789h2M240 774h2M255 773h2M171 789h2M162 799h2M186 781h2M235 789h2M177 799h2M178 788h2M159 792h2M237 796h2M180 790h2M213 775h2M201 772h2M197 796h2M211 801h2M216 779h2M141 779h2M155 798h2M176 824h2M198 793h2M187 789h2M198 800h2M189 801h2M224 784h2M205 790h2M220 792h2M194 802h2M219 785h2M156 818h2M194 797h2M190 788h2M153 801h2M181 799h2M177 794h2M206 787h2M170 801h2M175 784h2M154 791h2M163 774h2M144 797h2M174 793h2M198 777h2M228 784h2M118 809h2M159 805h2M230 765h2M185 781h2M146 809h2M206 779h2M171 783h2M166 795h2M182 800h2M190 790h2M189 797h2M197 774h2M181 798h2M159 783h2M154 787h2M178 792h2M194 769h2M199 797h2M257 770h2M201 769h2M219 800h2M190 784h2M224 771h2M231 768h2M199 792h2M188 785h2M160 813h2M195 780h2M150 809h2M222 781h2M174 801h2M202 800h2M179 786h2M179 779h2M153 795h2M180 794h2M144 799h2M226 764h2M136 871h2M177 831h2M259 782h2M175 865h2M233 835h2M97 916h2M151 917h2M192 861h2M145 856h2M225 857h2M263 790h2M196 808h2M187 852h2M101 890h2M163 861h2M143 872h2M154 860h2M84 928h2M239 809h2M155 846h2M108 874h2M99 914h2M123 907h2M142 833h2M258 789h2M160 855h2M106 907h2M151 804h2M164 872h2M214 764h2M146 919h2M137 909h2M95 875h2M187 832h2M110 906h2M213 829h2M244 767h2M243 823h2M213 859h2M143 872h2M86 897h2M143 916h2M145 893h2M195 927h2M107 874h2M161 808h2M146 846h2M117 892h2M270 823h2M206 854h2M173 838h2M166 862h2M204 870h2M85 877h2M210 797h2M262 896h2M214 843h2M157 878h2M251 910h2M199 837h2M235 817h2M225 834h2M183 881h2M143 859h2M158 874h2M155 899h2M180 866h2M148 886h2M188 840h2M153 884h2M162 848h2M206 853h2M229 782h2M105 918h2M264 830h2M149 852h2M167 848h2M124 898h2M123 885h2M123 889h2M183 855h2M155 837h2M91 914h2M169 885h2M111 936h2M137 849h2M125 878h2M215 816h2M160 839h2M84 897h2M79 915h2M177 918h2M155 911h2M202 868h2M166 860h2M200 881h2M101 868h2M108 856h2M133 877h2" stroke="#ec1515" stroke-width="1.7" opacity="0.85"/>
<ellipse cx="77" cy="441" rx="9" ry="4" transform="rotate(-35 77 441)" fill="#e8100f" opacity="0.9" filter="url(#bl2)"/>
</g>
<rect x="36.4" y="370.1" width="107.2" height="105.5" fill="none" stroke="#555" stroke-width="1"/>
<line x1="111.5" y1="370.1" x2="111.5" y2="475.6" stroke="#555" stroke-width="1"/>
<line x1="36.4" y1="409.3" x2="143.6" y2="409.3" stroke="#555" stroke-width="1"/>
<path d="M38.5 475.6v1.2M36.4 372.2h-1.2M40.7 475.6v1.2M36.4 374.3h-1.2M42.8 475.6v1.2M36.4 376.4h-1.2M45 475.6v1.2M36.4 378.5h-1.2M47.1 475.6v1.2M36.4 380.7h-1.2M49.3 475.6v1.2M36.4 382.8h-1.2M51.4 475.6v1.2M36.4 384.9h-1.2M53.6 475.6v1.2M36.4 387h-1.2M55.7 475.6v1.2M36.4 389.1h-1.2M57.8 475.6v2M36.4 391.2h-2M60 475.6v1.2M36.4 393.3h-1.2M62.1 475.6v1.2M36.4 395.4h-1.2M64.3 475.6v1.2M36.4 397.5h-1.2M66.4 475.6v1.2M36.4 399.6h-1.2M68.6 475.6v1.2M36.4 401.8h-1.2M70.7 475.6v1.2M36.4 403.9h-1.2M72.8 475.6v1.2M36.4 406h-1.2M75 475.6v1.2M36.4 408.1h-1.2M77.1 475.6v1.2M36.4 410.2h-1.2M79.3 475.6v2M36.4 412.3h-2M81.4 475.6v1.2M36.4 414.4h-1.2M83.6 475.6v1.2M36.4 416.5h-1.2M85.7 475.6v1.2M36.4 418.6h-1.2M87.9 475.6v1.2M36.4 420.7h-1.2M90 475.6v1.2M36.4 422.9h-1.2M92.1 475.6v1.2M36.4 425h-1.2M94.3 475.6v1.2M36.4 427.1h-1.2M96.4 475.6v1.2M36.4 429.2h-1.2M98.6 475.6v1.2M36.4 431.3h-1.2M100.7 475.6v2M36.4 433.4h-2M102.9 475.6v1.2M36.4 435.5h-1.2M105 475.6v1.2M36.4 437.6h-1.2M107.2 475.6v1.2M36.4 439.7h-1.2M109.3 475.6v1.2M36.4 441.8h-1.2M111.4 475.6v1.2M36.4 444h-1.2M113.6 475.6v1.2M36.4 446.1h-1.2M115.7 475.6v1.2M36.4 448.2h-1.2M117.9 475.6v1.2M36.4 450.3h-1.2M120 475.6v1.2M36.4 452.4h-1.2M122.2 475.6v2M36.4 454.5h-2M124.3 475.6v1.2M36.4 456.6h-1.2M126.4 475.6v1.2M36.4 458.7h-1.2M128.6 475.6v1.2M36.4 460.8h-1.2M130.7 475.6v1.2M36.4 462.9h-1.2M132.9 475.6v1.2M36.4 465.1h-1.2M135 475.6v1.2M36.4 467.2h-1.2M137.2 475.6v1.2M36.4 469.3h-1.2M139.3 475.6v1.2M36.4 471.4h-1.2M141.5 475.6v1.2M36.4 473.5h-1.2" stroke="#666" stroke-width=".5"/>
<text font-size="8.36" text-anchor="start" fill="#222" color="#222" transform="translate(41.4,382.8) scale(1.100,1)" style="stroke:none">3.25%</text>
<text font-size="8.55" text-anchor="end" fill="#222" color="#222" transform="translate(141,382.8) scale(1.100,1)" style="stroke:none">3.30%</text>
<text font-size="8.40" text-anchor="start" fill="#222" color="#222" transform="translate(42,468) scale(1.100,1)" style="stroke:none">88.59%</text>
<text font-size="8.53" text-anchor="end" fill="#222" color="#222" transform="translate(141,468) scale(1.100,1)" style="stroke:none">4.86%</text>
<text font-size="4.55" text-anchor="middle" fill="#444" color="#444" transform="translate(36.4,484.1) scale(1.100,1)" style="stroke:none">10<tspan font-size="3.4" dy="-1.8">3</tspan></text>
<text font-size="4.55" text-anchor="middle" fill="#444" color="#444" transform="translate(63.2,484.1) scale(1.100,1)" style="stroke:none">10<tspan font-size="3.4" dy="-1.8">4</tspan></text>
<text font-size="4.55" text-anchor="middle" fill="#444" color="#444" transform="translate(90,484.1) scale(1.100,1)" style="stroke:none">10<tspan font-size="3.4" dy="-1.8">5</tspan></text>
<text font-size="4.55" text-anchor="middle" fill="#444" color="#444" transform="translate(116.8,484.1) scale(1.100,1)" style="stroke:none">10<tspan font-size="3.4" dy="-1.8">6</tspan></text>
<text font-size="4.55" text-anchor="middle" fill="#444" color="#444" transform="translate(143.6,484.1) scale(1.100,1)" style="stroke:none">10<tspan font-size="3.4" dy="-1.8">7</tspan></text>
<text font-size="4.55" text-anchor="middle" fill="#444" color="#444" transform="translate(32.4,475.6) rotate(-90) scale(1.100,1)" style="stroke:none">10<tspan font-size="3.4" dy="-1.8">2</tspan></text>
<text font-size="4.55" text-anchor="middle" fill="#444" color="#444" transform="translate(32.4,454.5) rotate(-90) scale(1.100,1)" style="stroke:none">10<tspan font-size="3.4" dy="-1.8">3</tspan></text>
<text font-size="4.55" text-anchor="middle" fill="#444" color="#444" transform="translate(32.4,433.4) rotate(-90) scale(1.100,1)" style="stroke:none">10<tspan font-size="3.4" dy="-1.8">4</tspan></text>
<text font-size="4.55" text-anchor="middle" fill="#444" color="#444" transform="translate(32.4,412.3) rotate(-90) scale(1.100,1)" style="stroke:none">10<tspan font-size="3.4" dy="-1.8">5</tspan></text>
<text font-size="4.55" text-anchor="middle" fill="#444" color="#444" transform="translate(32.4,391.2) rotate(-90) scale(1.100,1)" style="stroke:none">10<tspan font-size="3.4" dy="-1.8">6</tspan></text>
<text font-size="4.55" text-anchor="middle" fill="#444" color="#444" transform="translate(32.4,370.1) rotate(-90) scale(1.100,1)" style="stroke:none">10<tspan font-size="3.4" dy="-1.8">7</tspan></text>
<clipPath id="c10"><rect x="165.4" y="370.1" width="105.2" height="105.2"/></clipPath>
<g clip-path="url(#c10)">
<path transform="scale(.5)" d="M417 879h2M435 861h2M460 852h2M445 879h2M427 857h2M415 872h2M458 862h2M471 864h2M476 849h2M470 853h2M436 874h2M443 860h2M483 847h2M434 866h2M485 835h2M460 859h2M455 861h2M432 863h2M439 861h2M465 865h2M429 876h2M422 867h2M439 865h2M423 846h2M468 845h2M435 874h2M426 857h2M454 860h2M432 877h2M445 849h2M477 845h2M424 878h2M450 868h2M423 884h2M464 857h2M461 866h2M457 855h2M433 880h2M463 854h2M449 866h2M398 891h2M398 890h2M471 866h2M436 870h2M432 845h2M457 854h2M440 854h2M443 863h2M468 851h2M506 821h2M438 864h2M435 882h2M449 845h2M450 870h2M418 878h2M449 883h2M449 854h2M441 883h2M445 885h2M413 877h2M435 859h2M442 870h2M424 858h2M475 859h2M432 872h2M400 897h2M416 872h2M477 829h2M439 853h2M404 872h2M442 849h2M436 874h2M434 853h2M471 847h2M464 839h2M468 833h2M409 877h2M437 868h2M436 873h2M465 843h2M416 873h2M462 860h2M432 858h2M447 870h2M436 880h2M449 862h2M438 879h2M437 850h2M456 850h2M464 852h2M432 870h2M430 861h2M447 868h2M444 860h2M435 872h2M452 867h2M459 875h2M414 878h2M457 863h2M409 869h2M447 871h2M456 838h2M451 870h2M439 853h2M424 859h2M464 847h2M431 860h2M436 856h2M425 872h2M441 868h2M451 870h2M443 864h2M443 853h2M462 845h2M420 889h2M452 850h2M465 859h2M451 845h2M441 852h2M429 864h2M430 875h2M431 875h2M443 855h2M449 865h2M463 848h2M477 848h2M460 838h2M429 883h2M441 868h2M458 838h2M460 872h2M458 854h2M453 856h2M463 864h2M441 869h2M452 865h2M453 845h2M468 856h2M422 871h2M415 875h2M444 849h2M425 863h2M427 863h2M426 878h2M435 858h2M458 847h2M454 843h2M467 843h2M427 875h2M414 868h2M445 856h2M451 859h2M448 860h2M456 854h2M467 858h2M399 869h2M469 842h2M446 859h2M458 876h2M430 870h2M438 853h2M426 869h2M444 865h2M400 870h2M472 843h2M456 850h2M439 886h2M416 868h2M455 855h2M414 880h2M449 842h2M436 874h2M467 824h2M430 869h2M422 864h2M436 871h2M427 880h2M462 860h2M469 842h2M446 870h2M470 856h2M432 863h2M417 872h2M424 868h2M440 872h2M458 852h2M422 874h2M455 864h2M450 866h2M434 874h2M455 851h2M435 880h2M428 878h2M436 862h2M436 861h2M450 876h2M469 846h2M455 864h2M443 881h2M446 866h2M420 863h2M422 867h2M460 849h2M457 849h2M426 873h2M428 853h2M449 871h2M434 855h2M424 860h2M434 857h2M442 864h2M462 839h2M413 896h2M449 855h2M448 849h2M440 871h2M438 866h2M451 858h2M441 868h2M473 858h2M430 877h2M402 871h2M453 862h2M460 834h2M460 846h2M436 870h2M464 840h2M409 875h2M446 872h2M448 856h2M431 864h2M453 839h2M426 862h2M464 851h2M434 875h2M483 849h2M418 874h2M455 836h2M419 872h2M448 850h2M445 859h2M443 849h2M393 868h2M450 868h2M444 844h2M410 878h2M418 857h2M428 862h2M442 866h2M447 861h2M452 856h2M433 864h2M463 847h2M465 866h2M464 827h2M450 868h2M431 861h2M413 872h2M434 847h2M438 856h2M438 853h2M445 862h2M427 864h2M462 857h2M430 874h2M419 870h2M387 888h2M453 851h2M450 851h2M447 858h2M434 889h2M421 860h2M447 864h2M448 858h2M455 864h2M447 845h2M474 844h2M409 890h2M441 866h2M476 837h2M427 861h2M449 865h2M450 859h2M405 886h2M460 847h2M428 860h2M440 847h2M476 840h2M426 859h2M456 864h2M433 869h2M452 866h2M459 865h2M428 897h2M428 858h2M427 875h2M467 873h2M461 843h2M434 862h2M431 867h2M436 878h2M451 863h2M434 855h2M449 854h2M484 851h2M416 867h2M431 866h2M462 849h2M449 855h2M444 874h2M451 877h2M443 865h2M453 863h2M474 836h2M429 860h2M477 847h2M453 861h2M412 887h2M446 863h2M444 860h2M439 858h2M441 869h2M408 891h2M449 847h2M453 859h2M441 881h2M445 859h2M429 893h2M448 862h2M448 880h2M447 876h2M466 858h2M459 864h2M431 847h2M399 899h2M411 894h2M490 815h2M456 859h2M421 854h2M448 876h2M440 863h2M444 861h2M458 877h2M418 857h2M455 849h2M427 856h2M437 860h2M448 854h2M418 881h2M432 848h2M440 871h2M440 860h2M450 851h2M432 873h2M437 859h2M448 862h2M464 860h2M444 861h2M426 873h2M440 872h2M460 859h2M443 865h2M477 859h2M419 846h2M447 844h2M445 865h2M469 845h2M438 859h2M442 849h2M454 859h2M466 845h2M449 860h2M438 855h2M433 868h2M456 865h2M433 870h2M457 862h2M448 861h2M436 866h2M431 851h2M419 851h2M456 863h2M437 867h2M444 858h2M468 845h2M448 858h2M472 828h2M440 849h2M425 862h2M452 846h2M423 870h2M421 864h2M468 840h2M434 881h2M449 870h2M412 877h2M452 859h2M458 866h2M458 864h2M453 848h2M452 870h2M428 876h2M460 866h2M423 898h2M415 878h2M483 825h2M485 841h2M484 853h2M442 854h2M431 855h2M419 879h2M418 880h2M441 862h2M418 863h2M453 846h2M432 867h2M464 870h2M482 848h2M458 860h2M438 863h2M414 884h2M435 870h2M487 845h2M468 857h2M430 863h2M414 873h2M449 866h2M452 853h2M422 874h2M439 843h2M438 850h2M434 866h2M423 868h2M438 854h2M458 860h2M448 848h2M438 861h2M448 867h2M433 868h2M456 851h2M455 854h2M417 876h2M443 857h2M476 839h2M415 876h2M441 868h2M489 837h2M454 848h2M422 866h2M437 861h2M439 857h2M417 868h2M451 845h2M464 866h2M430 879h2M446 833h2M461 858h2M436 884h2M416 891h2M443 851h2M438 849h2M456 860h2M471 860h2M432 873h2M418 846h2M465 861h2M454 873h2M434 849h2M433 865h2M446 856h2M396 876h2M445 872h2M424 859h2M438 874h2M461 841h2M461 865h2M452 845h2M451 852h2M442 882h2M444 866h2M472 862h2M445 854h2M438 857h2M440 862h2M412 871h2M416 876h2M460 859h2M441 853h2M435 852h2M446 844h2M438 882h2M445 850h2M434 856h2M426 867h2M428 872h2M458 844h2M422 865h2M432 869h2M426 862h2M434 877h2M465 860h2M441 853h2M477 865h2M428 864h2M465 856h2M459 874h2M435 858h2M437 868h2M451 870h2M453 848h2M455 853h2M475 855h2M434 873h2M421 879h2M446 865h2M416 868h2M431 866h2M451 849h2M403 879h2M460 861h2M422 880h2M447 867h2M451 870h2M439 886h2M457 841h2M418 886h2M410 872h2M450 856h2M435 844h2M431 874h2M482 843h2M443 863h2M463 856h2M417 856h2M436 861h2M471 836h2M447 838h2M450 844h2M441 860h2M444 861h2M424 879h2M425 871h2M426 871h2M439 862h2M433 880h2M439 864h2M404 890h2M412 877h2M413 898h2M408 879h2M413 865h2M416 892h2M480 838h2M454 850h2M430 888h2M448 846h2M439 863h2M436 864h2M429 868h2M432 864h2M434 882h2M432 865h2M446 860h2M421 883h2M416 870h2M448 856h2M428 870h2M423 866h2M414 865h2M423 873h2M431 866h2M455 849h2M407 882h2M460 821h2M431 856h2M417 884h2M440 862h2M414 872h2M427 886h2M431 847h2M441 877h2M425 868h2M442 867h2M446 852h2M437 871h2M420 870h2M446 857h2M430 885h2M442 858h2M393 901h2M457 852h2M437 855h2M481 848h2M492 856h2M411 886h2M405 887h2M439 857h2M453 856h2M434 864h2M460 856h2M458 856h2M431 863h2M442 854h2M433 875h2M444 858h2M443 857h2M464 847h2M437 853h2M423 859h2M452 862h2M451 853h2M444 864h2M427 853h2M479 845h2M461 859h2M428 869h2M437 876h2M442 854h2M460 880h2M443 866h2M475 833h2M452 868h2M450 851h2M441 863h2M464 860h2M406 883h2M430 872h2M436 869h2M415 879h2M457 866h2M470 846h2M437 878h2M450 860h2M446 845h2M421 865h2M428 886h2M407 880h2M436 856h2M445 851h2M410 867h2M464 845h2M448 864h2M446 852h2M461 862h2M420 883h2M456 865h2M452 854h2M431 875h2M451 861h2M438 876h2M464 861h2M434 873h2M454 841h2M430 872h2M415 876h2M437 850h2M453 856h2M465 849h2M433 867h2M442 843h2M440 871h2M458 857h2M422 873h2M450 857h2M454 875h2M475 838h2M425 872h2M462 840h2M419 862h2M460 847h2M448 875h2M452 853h2M424 884h2M442 859h2M444 854h2M447 861h2M424 875h2M460 867h2M468 869h2M458 852h2M449 858h2M424 870h2M441 852h2M444 867h2M472 843h2M434 860h2M416 883h2M430 862h2M429 885h2M469 851h2M431 856h2M400 879h2M435 882h2M430 852h2M470 852h2M437 869h2M452 852h2M428 872h2M456 860h2M418 866h2M439 858h2M445 879h2M411 877h2M425 875h2M478 845h2M462 841h2M454 870h2M432 860h2M421 889h2M446 874h2M446 860h2M458 855h2M461 845h2M432 868h2M432 866h2M459 856h2M448 876h2M416 871h2M443 872h2M456 860h2M469 846h2M434 879h2M466 838h2M431 867h2M449 859h2M448 842h2M426 855h2M462 861h2M447 859h2M440 862h2M430 874h2M450 850h2M456 869h2M481 863h2M485 822h2M432 864h2M458 869h2M418 882h2M454 868h2M448 852h2M445 855h2M438 862h2M444 865h2M455 867h2M447 841h2M452 852h2M458 849h2M421 860h2M444 869h2M428 874h2M428 849h2M438 862h2M444 844h2M453 855h2M457 849h2M429 867h2M447 870h2M428 867h2M422 870h2M453 870h2M441 865h2M448 870h2M436 863h2M446 857h2M446 859h2M440 872h2M437 861h2M459 871h2M447 858h2M458 858h2M430 881h2M464 844h2M438 870h2M449 860h2M459 836h2M436 871h2M448 853h2M416 889h2M459 853h2M453 866h2M480 830h2M434 846h2M426 883h2M427 848h2M425 887h2M456 866h2M468 841h2M440 857h2M430 879h2M443 854h2M411 876h2M434 859h2M458 858h2M456 867h2M436 865h2M475 834h2M450 865h2M446 859h2M455 863h2M444 858h2M411 877h2M425 864h2M419 862h2M428 871h2M414 864h2M467 856h2M434 870h2M440 866h2M447 847h2M412 888h2M447 850h2M467 850h2M451 871h2M473 855h2M447 854h2M444 857h2M461 861h2M448 869h2M427 884h2M439 843h2M447 867h2M447 850h2M462 859h2M450 872h2M435 870h2M433 845h2M452 862h2M431 868h2M460 849h2M454 858h2M448 866h2M407 869h2M427 879h2M461 848h2M421 888h2M430 859h2M444 853h2M455 859h2M432 886h2M444 865h2M472 856h2M397 888h2M439 869h2M461 867h2M407 882h2M460 848h2M477 853h2M456 845h2M409 877h2M440 865h2M460 848h2M430 887h2M456 848h2M421 834h2M420 873h2M450 855h2M435 859h2M435 882h2M483 849h2M424 849h2M451 845h2M436 868h2M465 839h2M439 872h2M457 851h2M451 863h2M425 853h2M446 875h2M416 868h2M465 864h2M450 860h2M405 870h2M421 855h2M453 843h2M479 828h2M445 855h2M442 873h2M421 871h2M458 843h2M484 823h2M457 855h2M450 857h2M436 870h2M428 860h2M465 829h2M451 851h2M394 864h2M427 876h2M465 848h2M466 849h2M446 862h2M459 840h2M413 893h2M445 864h2M464 854h2M447 874h2M461 849h2M445 856h2M437 858h2M452 846h2M434 875h2M453 872h2M432 868h2M443 871h2M443 868h2M412 874h2M470 846h2M454 867h2M444 853h2M445 857h2M442 863h2M463 863h2M466 840h2M453 870h2M430 863h2M479 849h2M455 850h2M473 856h2M445 863h2M454 855h2M450 872h2M431 854h2M470 865h2M436 871h2M442 855h2M431 872h2M413 882h2M504 855h2M406 882h2M427 874h2M435 865h2M447 864h2M451 864h2M470 866h2M456 856h2M467 853h2M455 846h2M423 885h2M414 868h2M436 857h2M458 857h2M457 870h2M444 858h2M419 869h2M430 871h2M474 843h2M438 845h2M472 835h2M441 848h2M458 854h2M433 883h2M472 848h2M436 868h2M434 872h2M432 861h2M451 876h2M422 884h2M457 861h2M451 864h2M405 883h2M405 883h2M440 866h2M447 852h2M441 878h2M464 849h2M429 869h2M459 856h2M453 868h2M454 861h2M442 864h2M443 852h2M427 854h2M432 855h2M456 867h2M438 872h2M453 837h2M457 835h2M410 868h2M408 866h2M449 864h2M460 858h2M465 847h2M443 876h2M437 878h2M431 852h2M424 867h2M447 863h2M458 858h2M455 837h2M459 868h2M433 874h2M458 845h2M400 878h2M442 870h2M456 860h2M439 860h2M431 868h2M436 865h2M426 861h2M448 853h2M461 862h2M435 890h2M413 862h2M416 868h2M447 871h2M455 869h2M407 890h2M414 869h2M491 852h2M440 855h2M424 858h2M437 872h2M451 859h2M437 872h2M462 871h2M451 866h2M459 859h2M454 858h2M452 845h2M422 864h2M432 864h2M466 852h2M443 863h2M453 845h2M439 855h2M460 868h2M451 865h2M465 844h2M441 844h2M450 860h2M451 880h2M448 856h2M436 865h2M410 884h2M430 872h2M461 868h2M438 864h2M446 864h2M433 869h2M435 869h2M472 845h2M471 849h2M472 856h2M411 872h2M416 882h2M428 881h2M443 867h2M416 854h2M430 864h2M448 865h2M426 874h2M438 877h2M431 870h2M467 855h2M462 862h2M459 859h2M435 884h2M471 863h2M439 870h2M405 885h2M430 866h2M452 854h2M445 844h2M481 831h2M420 862h2M450 838h2M435 883h2M417 871h2M430 880h2M431 871h2M430 864h2M411 886h2M438 860h2M449 857h2M444 864h2M449 851h2M459 857h2M429 863h2M460 853h2M416 863h2M475 832h2M428 868h2M431 887h2M422 864h2M442 852h2M426 879h2M467 863h2M440 855h2M430 860h2M445 862h2M438 873h2M448 846h2M466 841h2M443 872h2M449 852h2M450 863h2M414 851h2M462 836h2M448 883h2M436 873h2M432 888h2M434 883h2M450 874h2M458 847h2M421 856h2M451 871h2M441 866h2M465 855h2M460 859h2M428 862h2M440 856h2M438 848h2M452 867h2M469 847h2M466 873h2M468 851h2M429 875h2M445 850h2M421 855h2M456 841h2M481 837h2M434 869h2M451 861h2M426 860h2M432 868h2M432 872h2M463 854h2M451 866h2M427 875h2M456 871h2M464 845h2M472 835h2M472 848h2M456 853h2M433 854h2M463 848h2M453 848h2M465 853h2M438 867h2M441 869h2M468 834h2M401 880h2M424 881h2M411 855h2M434 859h2M409 878h2M442 855h2M462 847h2M450 834h2M445 855h2M434 868h2M446 865h2M444 865h2M423 847h2M427 851h2M424 864h2M438 865h2M440 858h2M451 852h2M418 879h2M425 875h2M475 843h2M462 863h2M437 856h2M463 858h2M431 876h2M436 862h2M407 872h2M444 845h2M453 864h2M429 896h2M451 846h2M453 872h2M479 829h2M451 852h2M469 844h2M443 856h2M474 835h2M424 858h2M425 868h2M446 844h2M429 856h2M445 850h2M439 848h2M456 848h2M453 853h2M420 873h2M465 844h2M440 869h2M425 873h2M437 874h2M417 865h2M450 860h2M435 854h2M444 855h2M456 841h2M405 866h2M459 864h2M452 856h2M449 875h2M449 875h2M451 857h2M428 864h2M435 851h2M437 864h2M436 868h2M429 873h2M449 866h2M454 853h2M444 856h2M427 862h2M435 870h2M433 859h2M431 874h2M429 869h2M464 866h2M415 865h2M436 857h2M462 846h2M467 848h2M441 860h2M431 859h2M456 865h2M431 849h2M458 848h2M468 858h2M425 880h2M421 870h2M417 864h2M462 846h2M429 879h2M458 852h2M449 858h2M452 832h2M433 869h2M444 873h2M437 851h2M458 826h2M439 873h2M492 845h2M456 849h2M469 840h2M438 847h2M428 857h2M446 870h2M436 878h2M451 877h2M437 868h2M394 896h2M428 863h2M448 860h2M476 856h2M418 868h2M461 853h2M449 876h2M433 872h2M447 859h2M468 856h2M452 850h2M441 869h2M418 880h2M440 864h2M438 878h2M440 878h2M460 849h2M446 860h2M443 865h2M444 852h2M442 869h2M441 861h2M438 860h2M462 844h2M437 865h2M461 852h2M432 852h2M428 868h2M438 850h2M441 842h2M450 854h2M423 856h2M425 863h2M434 865h2M422 857h2M450 850h2M455 848h2M450 841h2M421 881h2M405 876h2M452 857h2M477 842h2M469 846h2M472 844h2M461 865h2M477 831h2M406 867h2M444 859h2M464 873h2M458 852h2M474 849h2M395 899h2M445 856h2M420 872h2M483 840h2M428 875h2M423 884h2M453 854h2M450 846h2M436 865h2M454 876h2M448 848h2M437 858h2M444 844h2M457 847h2M464 863h2M454 842h2M426 854h2M434 863h2M462 851h2M447 852h2M424 870h2M425 866h2M439 876h2M447 884h2M457 850h2M455 872h2M417 886h2M474 846h2M410 866h2M451 858h2M455 840h2M450 872h2M448 849h2M437 861h2M488 853h2M436 864h2M447 863h2M438 860h2M433 875h2M457 852h2M445 872h2M435 838h2M435 864h2M444 857h2M429 873h2M446 850h2M441 863h2M451 890h2M448 859h2M422 864h2M447 865h2M431 864h2M438 870h2M454 840h2M449 849h2M429 877h2M470 871h2M455 873h2M435 861h2M455 843h2M448 866h2M414 881h2M447 838h2M429 875h2M426 861h2M417 894h2M446 856h2M442 865h2M442 865h2M456 848h2M452 864h2M430 863h2M453 858h2M427 870h2M433 876h2M447 853h2M453 867h2M426 856h2M448 878h2M469 846h2M449 865h2M485 855h2M412 894h2M455 850h2M442 856h2M397 884h2M430 852h2M441 860h2M445 856h2M418 882h2M423 859h2M457 852h2M473 850h2M402 898h2M427 868h2M434 858h2M452 852h2M429 867h2M449 851h2M446 863h2M476 836h2M436 868h2M452 869h2M453 858h2M467 852h2M454 862h2M458 845h2M451 874h2M447 842h2M455 852h2M425 865h2M443 856h2M478 836h2M444 873h2M420 870h2M434 868h2M462 844h2M466 840h2M447 866h2M453 863h2M450 871h2M455 865h2M425 853h2M407 892h2M430 883h2M444 839h2M408 877h2M443 853h2M433 850h2M431 876h2M423 876h2M388 885h2M432 849h2M395 877h2M446 867h2M459 840h2M474 849h2M430 858h2M438 871h2M446 859h2M443 860h2M441 864h2M424 857h2M418 878h2M480 843h2M457 865h2M424 880h2M460 847h2M450 864h2M444 872h2M480 824h2M420 858h2M454 855h2M472 866h2M450 837h2M435 873h2M451 856h2M426 866h2M479 845h2M416 869h2M434 863h2M438 867h2M450 872h2M437 859h2M439 862h2M426 854h2M434 885h2M439 877h2M455 869h2M432 861h2M430 862h2M441 880h2M484 833h2M446 859h2M450 862h2M458 866h2M451 847h2M450 848h2M464 852h2M455 850h2M408 876h2M443 851h2M450 870h2M433 874h2M442 857h2M443 866h2M430 866h2M416 858h2M465 839h2M458 852h2M459 851h2M477 862h2M444 865h2M438 863h2M453 863h2M466 855h2M445 846h2M435 856h2M431 870h2M440 857h2M443 849h2M407 876h2M437 870h2M443 860h2M442 872h2M421 878h2M438 866h2M461 867h2M459 853h2M430 863h2M468 848h2M394 869h2M420 858h2M435 874h2M423 860h2M411 884h2M438 852h2M454 858h2M460 856h2M448 867h2M430 848h2M432 871h2M465 837h2M447 832h2M453 873h2M441 862h2M457 865h2M452 852h2M457 873h2M441 859h2M442 875h2M452 847h2M425 873h2M438 842h2M446 884h2M438 869h2M445 858h2M418 862h2M451 858h2M436 870h2M418 854h2M419 877h2M451 860h2M405 882h2M444 864h2M435 866h2M467 841h2M447 880h2M430 873h2M461 843h2M486 827h2M469 859h2M452 872h2M453 862h2M433 867h2M436 849h2M445 854h2M444 865h2M455 861h2M480 843h2M402 885h2M443 868h2M451 852h2M424 881h2M423 867h2M437 852h2M439 866h2M451 852h2M417 865h2M443 846h2M434 860h2M408 883h2M431 883h2M419 869h2M420 862h2M440 863h2M461 856h2M472 853h2M425 882h2M414 869h2M414 869h2M427 862h2M434 853h2M424 871h2M459 850h2M454 855h2M459 853h2M448 875h2M434 857h2M436 869h2M413 874h2M414 893h2M469 848h2M469 830h2M428 868h2M426 870h2M457 855h2M451 853h2M436 858h2M413 873h2M461 848h2M438 862h2M434 875h2M438 845h2M424 862h2M460 843h2M409 889h2M413 877h2M472 852h2M422 857h2M446 854h2M460 860h2M450 868h2M434 862h2M464 859h2M448 871h2M442 857h2M436 858h2M448 846h2M420 870h2M451 844h2M449 875h2M445 847h2M439 856h2M461 852h2M422 886h2M440 844h2M483 839h2M429 869h2M438 865h2M453 839h2M465 853h2M416 875h2M421 892h2M445 855h2M422 867h2M432 886h2M423 872h2M433 875h2M452 866h2M464 845h2M461 853h2M443 857h2M442 857h2M436 862h2M451 848h2M456 846h2M489 824h2M467 828h2M403 871h2M441 852h2M436 865h2M422 871h2M391 879h2M425 883h2M415 885h2M447 852h2M431 844h2M436 856h2M421 875h2M465 851h2M446 871h2M466 850h2M485 836h2M461 873h2M461 853h2M445 854h2M464 840h2M435 872h2M478 846h2M435 872h2M448 864h2M418 868h2M425 873h2M441 865h2M426 871h2M427 873h2M458 855h2M428 862h2M465 848h2M432 880h2M448 843h2M465 853h2M475 840h2M438 875h2M410 877h2M430 855h2M472 844h2M446 859h2M442 863h2M457 847h2M461 852h2M452 864h2M471 861h2M443 862h2M453 864h2M416 862h2M424 880h2M422 866h2M402 865h2M458 856h2M471 851h2M436 857h2M457 872h2M416 881h2M485 858h2M443 852h2M446 856h2M466 860h2M446 852h2M454 859h2M475 845h2M433 862h2M430 849h2M428 876h2M485 843h2M469 852h2M451 855h2M453 852h2M461 840h2M435 847h2M402 885h2M466 845h2M423 871h2M419 862h2M454 859h2M414 889h2M426 871h2M440 866h2M410 881h2M477 839h2M444 857h2M436 873h2M421 850h2M417 879h2M453 847h2M419 872h2M461 856h2M448 860h2M425 857h2M461 844h2M433 868h2M405 868h2M410 872h2M436 852h2M429 870h2M424 877h2M449 855h2M478 835h2M447 862h2M479 842h2M441 881h2M422 865h2M429 858h2M457 857h2M427 874h2M425 875h2M471 850h2M460 860h2M475 833h2M478 872h2M430 868h2M434 862h2M453 872h2M462 845h2M455 863h2M402 890h2M421 871h2M473 842h2M419 886h2M433 883h2M458 859h2M473 843h2M401 878h2M436 857h2M453 878h2M418 889h2M429 870h2M442 865h2M459 853h2M440 854h2M424 875h2M458 858h2M446 843h2M435 866h2M428 877h2M442 862h2M411 870h2M387 898h2M435 859h2M432 866h2M465 834h2M450 847h2M439 870h2M436 859h2M407 864h2M449 849h2M420 879h2M444 864h2M414 859h2M459 866h2M440 871h2M423 872h2M433 868h2M466 852h2M448 853h2M435 866h2M437 877h2M422 877h2M435 847h2M465 871h2M466 839h2M441 859h2M450 854h2M431 867h2M459 842h2M439 863h2M451 856h2M448 862h2M466 838h2M455 870h2M490 842h2M435 845h2M443 864h2M416 861h2M449 857h2M444 872h2M423 864h2M460 851h2M445 845h2M467 841h2M421 874h2M429 851h2M436 871h2M436 870h2M414 878h2M435 852h2M454 867h2M439 854h2M447 864h2M422 890h2M453 858h2M441 849h2M461 856h2M413 872h2M468 838h2M458 857h2M474 832h2M439 858h2M440 863h2M437 869h2M447 860h2M437 871h2M470 869h2M449 870h2M445 854h2M433 873h2M457 855h2M440 877h2M483 850h2M418 869h2M424 879h2M433 870h2M438 870h2M416 872h2M475 862h2M409 872h2M405 881h2M441 872h2M422 875h2M428 850h2M405 878h2M440 863h2M458 869h2M468 841h2M445 845h2M414 877h2M433 868h2M453 855h2M471 852h2M470 847h2M451 864h2M457 838h2M436 862h2M455 855h2M461 850h2M444 879h2M427 863h2M461 854h2M437 869h2M436 884h2M425 857h2M448 834h2M424 865h2M445 870h2M460 865h2M424 863h2M417 865h2M426 875h2M418 894h2M445 848h2M457 853h2M457 851h2M432 871h2M420 851h2M441 864h2M402 888h2M429 872h2M453 852h2M419 858h2M407 886h2M451 846h2M492 841h2M439 872h2M441 855h2M450 845h2M451 854h2M469 860h2M445 845h2M426 878h2M449 855h2M472 845h2M456 846h2M443 838h2M457 848h2M439 865h2M411 872h2M444 867h2M450 859h2M433 864h2M454 855h2M486 841h2M422 877h2M440 876h2M452 866h2M417 904h2M435 855h2M427 868h2M455 846h2M452 863h2M422 880h2M466 860h2M447 868h2M400 895h2M428 873h2M426 838h2M418 875h2M453 843h2M437 862h2M437 866h2M440 858h2M454 855h2M424 875h2M401 893h2M439 863h2M430 873h2M432 863h2M422 871h2M449 868h2M437 862h2M442 855h2M445 877h2M449 860h2M449 857h2M438 873h2M473 856h2M435 859h2M476 852h2M490 839h2M435 857h2M443 844h2M431 849h2M484 853h2M403 897h2M435 874h2M460 843h2M422 865h2M449 864h2M430 868h2M416 864h2M408 883h2M425 865h2M453 860h2M444 870h2M443 861h2M476 843h2M443 874h2M454 868h2M443 864h2M454 845h2M445 871h2M445 882h2M448 849h2M428 873h2M440 858h2M453 859h2M438 850h2M427 875h2M445 860h2M444 850h2M458 875h2M430 869h2M431 859h2M478 858h2M404 883h2M435 860h2M410 876h2M443 867h2M439 850h2M407 882h2M445 862h2M457 853h2M494 833h2M451 854h2M438 861h2M442 855h2M463 858h2M455 876h2M438 871h2M395 886h2M439 869h2M459 853h2M412 860h2M475 839h2M388 889h2M438 857h2M427 886h2M432 874h2M440 856h2M437 871h2M427 873h2M451 849h2M458 848h2M440 876h2M475 854h2M458 853h2M439 865h2M455 854h2M442 861h2M394 887h2M436 850h2M453 864h2M423 850h2M434 862h2M441 873h2M431 878h2M457 870h2M455 870h2M449 858h2M399 898h2M438 872h2M468 837h2M425 878h2M427 864h2M465 859h2M426 861h2M429 873h2M436 873h2M416 866h2M482 841h2M445 863h2M425 866h2M432 859h2M390 887h2M421 879h2M484 861h2M452 881h2M423 863h2M472 857h2M460 837h2M432 849h2M453 861h2M444 858h2M407 873h2M474 846h2M443 878h2M410 877h2M439 859h2M406 877h2M464 843h2M462 862h2M467 853h2M414 885h2M404 892h2M425 837h2M456 874h2M424 871h2M435 865h2M446 866h2M452 875h2M456 844h2M454 875h2M430 861h2M436 851h2M420 890h2M432 866h2M447 855h2M454 854h2M462 851h2M443 852h2M416 865h2M422 863h2M441 861h2M465 837h2M452 855h2M443 855h2M447 857h2M435 863h2M465 851h2M467 858h2M401 864h2M471 840h2M442 850h2M428 852h2M450 861h2M448 860h2M440 871h2M438 869h2M438 873h2M412 870h2M442 852h2M434 868h2M454 861h2M466 866h2M432 868h2M430 869h2M440 860h2M454 855h2M451 861h2M441 885h2M423 865h2M467 846h2M471 853h2M395 893h2M426 891h2M421 876h2M441 858h2M458 881h2M432 867h2M432 863h2M414 883h2M411 876h2M433 881h2M419 863h2M451 850h2M440 852h2M455 873h2M435 852h2M413 884h2M436 872h2M465 851h2M482 822h2M432 868h2M448 857h2M471 860h2M452 851h2M458 851h2M435 880h2M458 864h2M468 858h2M451 853h2M452 850h2M458 850h2M437 873h2M427 870h2M445 867h2M475 864h2M448 872h2M434 859h2M465 844h2M468 866h2M422 861h2M453 865h2M424 877h2M475 850h2M465 862h2M414 870h2M408 869h2M491 829h2M434 865h2M407 890h2M445 855h2M416 878h2M437 858h2M461 843h2M450 848h2M446 853h2M441 845h2M459 867h2M416 883h2M464 846h2M430 869h2M433 860h2M459 867h2M425 872h2M409 887h2M459 850h2M408 879h2M453 847h2M423 885h2M424 859h2M429 867h2M445 864h2M415 878h2M435 861h2M456 849h2M453 872h2M418 872h2M481 850h2M478 839h2M482 805h2M442 847h2M428 895h2M427 863h2M432 850h2M438 855h2M461 853h2M450 862h2M437 872h2M431 869h2M441 862h2M439 875h2M423 888h2M428 867h2M473 843h2M412 864h2M425 861h2M446 861h2M458 866h2M437 825h2M471 844h2M474 857h2M418 883h2M399 885h2M459 827h2M418 879h2M491 876h2M456 844h2M511 834h2M442 857h2M467 837h2M427 868h2M473 880h2M418 849h2M432 848h2M421 878h2M431 859h2M452 854h2M472 863h2M479 843h2M453 858h2M498 818h2M443 844h2M405 871h2M495 853h2M452 864h2M435 835h2M440 850h2M474 831h2M420 865h2M454 859h2M466 840h2M443 851h2M457 844h2M437 854h2M459 823h2M477 808h2M455 886h2M442 858h2M440 872h2M491 833h2M426 868h2M452 874h2M437 879h2M424 839h2M452 842h2M464 865h2M437 860h2M460 855h2M424 880h2M443 882h2M403 839h2M412 873h2M486 844h2M452 840h2M475 837h2M454 878h2M407 880h2M445 862h2M423 873h2M486 836h2M478 868h2M394 887h2M427 863h2M442 858h2M437 860h2M466 855h2M495 835h2M424 891h2M492 836h2M450 840h2M427 822h2M433 880h2M441 846h2M483 827h2M424 882h2M434 865h2M419 888h2M444 832h2M405 879h2M475 846h2M475 838h2M479 839h2M403 863h2M448 845h2M438 836h2M469 838h2M450 842h2M473 847h2M448 862h2M421 851h2M467 843h2M483 856h2M420 873h2M418 900h2M438 870h2M434 872h2M457 869h2M474 827h2M464 853h2M418 887h2M499 847h2M439 851h2M448 864h2M434 871h2M431 844h2M482 822h2M448 841h2M432 874h2M420 869h2M466 877h2M435 888h2M458 855h2M440 858h2M448 853h2M429 864h2M439 874h2M497 847h2M426 888h2M405 848h2M411 881h2M451 838h2M481 852h2M441 864h2M423 863h2M455 849h2M428 887h2M494 842h2M454 826h2M454 832h2M473 855h2M446 834h2M462 864h2M450 851h2M474 827h2M440 882h2M482 875h2M419 879h2M428 882h2M418 900h2M395 868h2M430 877h2M472 843h2M489 827h2M433 867h2M439 876h2M446 878h2M417 851h2M431 868h2M452 849h2M446 850h2M418 867h2M445 857h2M400 894h2M466 842h2M442 859h2M417 874h2M425 833h2M471 874h2M482 842h2M417 881h2M466 839h2M435 846h2M463 810h2M439 874h2M449 819h2M450 876h2M433 880h2M470 873h2M418 881h2M429 886h2M473 845h2M459 834h2M485 824h2M429 885h2M443 819h2M473 853h2M390 879h2M449 845h2M399 853h2M436 851h2M444 841h2M435 853h2M430 846h2M418 862h2M428 881h2M411 891h2M401 868h2M433 843h2M432 862h2M522 818h2M411 867h2M435 847h2M470 850h2M452 884h2M449 857h2M441 861h2M461 870h2M465 853h2M476 831h2M425 867h2M441 882h2M480 876h2M447 873h2M463 859h2M442 842h2M475 846h2M465 876h2M482 837h2M483 852h2M463 857h2M409 871h2M490 835h2M414 891h2M397 889h2M432 874h2M524 815h2M449 840h2M470 812h2M447 885h2M429 854h2M502 831h2M437 898h2M424 889h2M472 828h2M459 861h2M452 855h2M422 893h2M431 863h2M470 868h2M478 833h2M478 858h2M423 854h2M433 838h2M433 839h2M472 850h2M466 874h2M429 865h2M440 871h2M455 876h2M438 879h2M476 874h2M443 838h2M468 852h2M421 865h2M479 847h2M487 859h2M483 826h2M466 845h2M401 903h2M477 886h2M433 841h2M439 858h2M455 876h2M432 858h2M433 883h2M413 870h2M434 861h2M480 850h2M437 888h2M447 847h2M405 870h2M479 869h2M456 833h2M474 841h2M408 872h2M455 860h2M457 845h2M416 855h2M454 852h2M475 846h2M431 858h2M442 826h2M502 842h2M449 875h2M430 847h2M459 855h2M453 862h2M432 849h2M481 826h2M417 892h2M453 867h2M413 878h2M440 894h2M430 865h2M448 878h2M450 831h2M413 878h2M419 857h2M394 903h2M423 873h2M458 830h2M408 875h2M517 823h2M410 877h2M462 852h2M412 892h2M450 837h2M437 858h2M486 839h2M499 867h2M440 858h2M468 873h2M435 864h2M445 882h2M426 880h2M441 857h2M419 887h2M498 844h2M469 815h2M461 854h2M439 866h2M422 877h2M439 848h2M426 882h2M410 867h2M469 854h2M451 873h2M465 861h2M422 874h2M443 861h2M440 840h2M459 832h2M415 898h2M432 873h2M451 836h2M508 829h2M497 861h2M430 860h2M465 864h2M437 868h2M461 819h2M432 886h2M461 869h2M448 870h2M402 868h2M465 836h2M440 856h2M451 857h2M434 836h2M436 848h2M420 867h2M470 853h2M453 851h2M420 887h2M489 855h2M496 853h2M444 846h2M488 833h2M430 844h2M426 855h2M440 881h2M415 844h2M434 843h2M442 845h2M485 840h2M466 846h2M465 858h2M455 874h2M476 832h2M495 829h2M439 862h2M496 822h2M430 869h2M452 847h2M456 838h2M464 865h2M423 870h2M444 837h2M475 826h2M477 825h2M518 840h2M515 832h2M507 814h2M519 843h2M508 834h2M518 850h2M541 802h2M510 837h2M523 835h2M506 855h2M507 820h2M518 844h2M519 812h2M515 836h2M527 797h2M523 831h2M507 827h2M507 827h2M521 803h2M505 863h2M521 826h2M532 822h2M522 828h2M532 851h2M507 826h2M503 853h2M531 809h2M509 803h2M523 814h2M497 814h2M502 837h2M514 819h2M511 804h2M497 826h2M510 817h2M499 839h2M521 819h2M499 832h2M529 821h2M501 841h2M516 826h2M504 834h2M494 851h2M511 835h2M522 832h2M513 820h2M515 827h2M521 832h2M510 819h2M496 843h2M492 834h2M502 836h2M514 814h2M502 842h2M500 837h2M508 844h2M518 804h2M516 819h2M488 824h2M516 824h2M521 828h2M492 820h2M522 810h2M481 830h2M490 848h2M502 843h2M514 805h2M517 813h2M526 830h2M514 839h2M493 844h2M522 814h2M546 793h2M512 837h2M475 855h2M520 836h2M500 830h2M494 864h2M523 823h2M492 848h2M522 823h2M509 844h2M503 836h2M513 820h2M494 836h2M514 823h2M505 819h2M512 828h2M509 802h2M513 824h2M496 816h2M508 821h2M515 863h2M499 856h2M505 831h2M503 813h2M521 828h2M494 849h2M525 816h2M516 832h2M508 849h2M495 836h2M494 858h2M532 832h2M511 836h2M514 826h2M496 845h2M523 839h2M492 830h2M519 838h2M504 845h2M502 846h2M511 815h2M487 831h2M487 842h2M521 810h2M524 818h2M523 834h2M498 841h2M493 845h2M507 846h2M511 836h2M519 825h2M515 834h2M489 836h2M528 843h2M506 826h2M492 802h2M511 839h2M520 794h2M488 814h2M506 820h2M491 819h2M500 806h2M509 840h2M512 831h2M496 842h2M527 858h2M488 873h2M513 809h2M501 835h2M529 800h2M508 804h2M476 842h2M524 830h2M518 839h2M536 786h2M504 840h2M511 820h2M508 817h2M494 841h2M516 801h2M507 815h2M509 813h2M519 826h2M519 824h2M479 844h2M503 825h2M494 853h2M503 825h2M518 846h2M508 830h2M500 843h2M504 816h2M482 852h2M506 813h2M515 809h2M522 828h2M480 837h2M517 826h2M501 826h2M493 833h2M507 830h2M498 849h2M482 857h2M506 858h2M510 832h2M505 816h2M488 840h2M522 801h2M510 845h2M533 830h2M520 815h2M527 818h2M515 821h2M503 843h2M509 811h2M509 833h2M502 833h2M504 827h2M495 856h2M514 840h2M503 824h2M517 800h2M503 835h2M527 829h2M504 819h2M520 827h2M514 828h2M492 821h2M509 833h2M524 827h2M488 834h2M500 830h2M517 831h2M503 834h2M506 832h2M501 835h2M502 838h2M484 840h2M500 804h2M519 837h2M487 839h2M509 837h2M515 832h2M500 870h2M497 851h2M508 822h2M483 846h2M499 841h2M512 850h2M497 817h2M483 836h2M521 822h2M501 816h2M535 805h2M501 843h2M497 849h2M484 844h2M527 812h2M518 829h2M510 834h2M510 841h2M512 825h2M524 816h2M515 837h2M489 836h2M498 824h2M519 835h2M509 813h2M518 821h2M518 822h2M498 797h2M494 816h2M533 848h2M518 850h2M530 813h2M523 844h2M510 798h2M485 831h2M504 840h2M511 826h2M503 860h2M504 834h2M501 837h2M493 846h2M525 834h2M513 821h2M515 817h2M526 822h2M506 837h2M485 836h2M507 829h2M515 810h2M506 848h2M504 819h2M508 827h2M541 816h2M500 838h2M514 828h2M505 812h2M509 831h2M513 851h2M512 856h2M505 847h2M513 826h2M539 844h2M509 824h2M516 844h2M510 818h2M524 803h2M498 815h2M518 823h2M513 814h2M510 816h2M507 829h2M494 828h2M502 847h2M505 833h2M515 826h2M504 813h2M517 818h2M507 844h2M521 827h2M523 839h2M514 840h2M505 829h2M523 822h2M483 848h2M510 811h2M514 800h2M505 838h2M504 811h2M498 844h2M512 786h2M502 817h2M509 840h2M528 832h2M525 834h2M513 810h2M494 852h2M517 833h2M513 839h2M503 822h2M498 833h2M494 815h2M534 821h2M500 848h2M527 807h2M509 834h2M523 826h2M503 823h2M498 828h2M494 848h2M505 835h2M508 842h2M504 831h2M510 830h2M519 830h2M492 839h2M503 836h2M517 808h2M497 837h2M518 839h2M508 816h2M508 825h2M520 805h2M505 819h2M486 842h2M478 882h2M502 835h2M524 812h2M517 827h2M526 840h2M518 828h2M536 809h2M501 835h2M505 834h2M510 830h2M508 859h2M505 852h2M486 849h2M511 821h2M509 811h2M512 837h2M502 837h2M501 819h2M519 838h2M498 867h2M505 833h2M525 819h2M511 843h2M508 836h2M479 846h2M512 821h2M506 821h2M492 870h2M495 841h2M508 841h2M485 828h2M498 838h2M493 835h2M492 842h2M500 826h2M503 825h2M524 810h2M530 795h2M478 839h2M502 833h2M514 828h2M511 816h2M522 838h2M507 825h2M487 828h2M499 825h2M529 811h2M515 817h2M510 820h2M510 829h2M509 848h2M495 822h2M507 841h2M495 839h2M492 835h2M519 831h2M503 809h2M501 844h2M499 855h2M511 824h2M514 830h2M507 828h2M499 849h2M518 793h2M492 854h2M517 833h2M494 826h2M500 830h2M521 836h2M509 829h2M521 817h2M509 816h2M519 811h2M516 818h2M494 852h2M522 827h2M502 845h2M498 849h2M512 822h2M528 823h2M490 861h2M511 821h2M519 850h2M551 800h2M508 836h2M498 858h2M508 850h2M518 821h2M519 828h2M503 830h2M526 826h2M523 838h2M517 846h2M533 821h2M503 851h2M503 836h2M510 844h2M510 847h2M511 817h2M503 812h2M524 820h2M511 826h2M504 833h2M509 798h2M521 821h2M517 842h2M508 822h2M496 831h2M515 832h2M517 854h2M486 813h2M496 851h2M504 836h2M511 835h2M513 804h2M487 832h2M491 877h2M508 823h2M513 845h2M514 828h2M504 834h2M532 813h2M513 836h2M498 835h2M502 825h2M505 833h2M515 847h2M488 858h2M501 834h2M530 808h2M533 820h2M511 843h2M493 866h2M510 832h2M520 833h2M506 834h2M487 858h2M513 831h2M508 819h2M520 819h2M529 831h2M519 816h2M506 814h2M495 821h2M505 832h2M494 878h2M510 844h2M520 817h2M508 848h2M505 818h2M499 863h2M482 860h2M527 810h2M502 862h2M528 782h2M509 816h2M480 864h2M494 852h2M516 828h2M528 817h2M504 821h2M508 839h2M518 820h2M525 824h2M525 794h2M515 848h2M511 850h2M506 827h2M504 813h2M505 820h2M515 837h2M497 842h2M501 846h2M509 832h2M526 814h2M509 828h2M520 825h2M497 858h2M476 854h2M521 806h2M495 838h2M520 826h2M509 861h2M486 843h2M511 836h2M486 836h2M500 847h2M496 842h2M534 809h2M497 825h2M497 823h2M501 836h2M506 830h2M490 816h2M524 798h2M502 836h2M493 871h2M512 840h2M549 802h2M495 829h2M502 827h2M508 839h2M500 814h2M494 832h2M522 819h2M500 862h2M513 839h2M492 858h2M506 831h2M511 835h2M519 809h2M494 840h2M532 829h2M515 828h2M511 805h2M512 837h2M492 829h2M506 852h2M508 827h2M517 817h2M502 799h2M497 836h2M494 863h2M505 808h2M510 836h2M514 822h2M499 835h2M501 810h2M514 836h2M500 831h2M499 816h2M513 818h2M494 856h2M503 843h2M524 815h2M529 820h2M527 832h2M496 821h2M506 823h2M508 820h2M503 817h2M518 822h2M517 828h2M524 808h2M508 840h2M480 835h2M512 818h2M534 799h2M514 828h2M510 825h2M525 807h2M524 817h2M518 820h2M517 815h2M493 860h2M532 782h2M526 819h2M515 824h2M529 819h2M518 820h2M520 825h2M508 825h2M504 821h2M507 822h2M514 819h2M491 858h2M490 851h2M514 851h2M512 835h2M498 821h2M511 835h2M514 833h2M495 846h2M511 799h2M507 823h2M494 814h2M505 842h2M511 822h2M477 836h2M510 819h2M515 832h2M519 837h2M502 847h2M507 826h2M506 843h2M495 837h2M516 804h2M504 843h2M504 816h2M514 836h2M499 840h2M493 825h2M539 816h2M522 826h2M495 823h2M515 816h2M514 847h2M523 826h2M510 841h2M526 818h2M523 826h2M521 818h2M516 849h2M496 849h2M521 796h2M519 842h2M489 842h2M491 844h2M522 824h2M511 836h2M515 825h2M499 828h2M510 859h2M492 827h2M528 814h2M482 844h2M500 823h2M489 847h2M526 821h2M500 858h2M514 830h2M488 844h2M534 824h2M508 836h2M493 817h2M501 845h2M491 838h2M514 826h2M519 806h2M499 820h2M496 880h2M525 824h2M508 817h2M495 843h2M497 838h2M518 805h2M501 825h2M510 829h2M498 819h2M509 829h2M510 820h2M525 820h2M505 857h2M506 830h2M499 830h2M513 844h2M521 836h2M524 805h2M507 839h2M499 824h2M491 816h2M499 849h2M500 838h2M508 818h2M492 827h2M502 809h2M490 847h2M510 823h2M513 823h2M520 835h2M496 831h2M527 828h2M520 829h2M500 840h2M495 848h2M534 820h2M499 849h2M518 808h2M513 835h2M530 801h2M513 836h2M529 796h2M518 835h2M516 810h2M522 809h2M484 823h2M503 820h2M511 840h2M516 825h2M501 853h2M498 832h2M492 830h2M522 832h2M506 826h2M528 807h2M528 831h2M513 841h2M491 827h2M499 831h2M519 824h2M505 859h2M504 825h2M508 855h2M521 850h2M509 831h2M480 837h2M511 841h2M523 788h2M504 835h2M495 818h2M502 829h2M508 851h2M496 839h2M508 822h2M495 847h2M503 829h2M501 829h2M498 845h2M508 845h2M515 828h2M517 823h2M517 828h2M497 837h2M511 821h2M519 818h2M518 822h2M526 833h2M515 816h2M517 824h2M506 817h2M505 824h2M486 869h2M497 842h2M502 836h2M503 817h2M498 822h2M500 821h2M505 844h2M493 846h2M503 861h2M518 817h2M496 843h2M510 806h2M517 806h2M496 834h2M510 844h2M507 835h2M487 840h2M494 844h2M504 837h2M513 806h2M476 839h2M485 858h2M495 827h2M511 812h2M498 840h2M527 821h2M513 811h2M500 830h2M491 861h2M493 855h2M501 847h2M497 846h2M493 816h2M491 838h2M509 832h2M504 834h2M515 821h2M515 819h2M515 845h2M512 833h2M506 815h2M513 819h2M518 821h2M523 810h2M536 801h2M479 846h2M514 817h2M517 827h2M518 820h2M518 829h2M517 824h2M505 825h2M507 807h2M523 801h2M491 829h2M521 844h2M523 809h2M499 850h2M496 837h2M515 822h2M499 811h2M515 839h2M513 811h2M514 835h2M492 830h2M508 837h2M498 839h2M514 816h2M493 847h2M507 823h2M498 807h2M505 835h2M500 840h2M509 806h2M516 841h2M518 835h2M537 823h2M505 836h2M503 833h2M509 809h2M499 821h2M516 828h2M510 855h2M526 810h2M523 843h2M497 848h2M515 817h2M518 828h2M520 815h2M531 820h2M502 838h2M525 795h2M519 813h2M521 806h2M510 824h2M514 838h2M512 834h2M503 846h2M508 822h2M507 821h2M485 862h2M504 841h2M499 824h2M511 827h2M504 835h2M513 830h2M507 846h2M526 819h2M511 802h2M496 829h2M504 824h2M523 804h2M512 829h2M510 816h2M524 837h2M504 855h2M516 813h2M507 805h2M502 817h2M513 863h2M510 824h2M516 821h2M513 813h2M509 852h2M513 826h2M518 818h2M498 834h2M513 809h2M510 804h2M510 846h2M505 805h2M526 818h2M518 807h2M503 832h2M497 849h2M510 822h2M504 832h2M498 852h2M507 826h2M518 806h2M498 773h2M503 798h2M476 794h2M515 790h2M495 781h2M456 783h2M501 780h2M491 784h2M500 795h2M497 782h2M505 773h2M473 797h2M521 765h2M431 807h2M466 781h2M464 790h2M475 807h2M499 799h2M385 806h2M404 797h2M549 765h2M435 817h2M474 788h2M506 776h2M446 798h2M466 786h2M467 816h2M489 780h2M502 779h2M504 781h2M480 787h2M491 784h2M465 802h2M458 798h2M456 823h2M460 790h2M507 783h2M444 804h2M524 768h2M442 805h2M491 783h2M460 782h2M419 794h2M472 781h2M476 801h2M472 786h2M502 787h2M467 798h2M443 786h2M482 784h2M469 787h2M430 798h2M454 799h2M502 783h2M482 796h2M442 804h2M465 785h2M494 785h2M467 781h2M480 792h2M504 789h2M401 798h2M481 811h2M457 803h2M539 785h2M527 785h2M532 777h2M526 758h2M501 792h2M440 811h2M475 791h2M448 801h2M465 798h2M491 803h2M510 784h2M467 797h2M471 790h2M495 800h2M462 787h2M489 791h2M481 779h2M513 792h2M478 807h2M454 794h2M472 801h2M448 789h2M482 788h2M500 786h2M483 788h2M456 783h2M491 775h2M504 785h2M488 779h2M469 789h2M548 785h2M464 789h2M479 800h2M418 813h2M458 799h2M489 794h2M491 767h2M465 790h2M481 794h2M490 791h2M437 783h2M490 779h2M516 802h2M487 775h2M471 777h2M534 803h2M490 801h2M490 795h2M510 780h2M498 789h2M481 796h2M529 775h2M495 781h2M450 784h2M467 789h2M472 775h2M475 788h2M466 793h2M481 783h2M476 799h2M445 790h2M488 794h2M482 776h2M418 799h2M491 766h2M441 792h2M439 791h2M438 813h2M503 792h2M471 787h2M507 779h2M428 789h2M443 786h2M482 775h2M471 796h2M483 784h2M462 789h2M453 801h2M499 772h2M462 782h2M497 787h2M448 784h2M500 791h2M435 805h2M453 792h2M483 806h2M486 786h2M515 778h2M521 770h2M455 788h2M548 768h2M478 788h2M502 787h2M514 785h2M432 788h2M463 789h2M533 788h2M498 782h2M450 779h2M502 790h2M462 805h2M483 817h2M417 784h2M480 796h2M462 788h2M466 794h2M439 801h2M530 799h2M517 795h2M477 795h2M502 807h2M458 807h2M478 791h2M465 795h2M555 778h2M455 793h2M552 776h2M474 781h2M466 785h2M405 799h2M464 790h2M448 798h2M478 790h2M482 791h2M458 782h2M477 810h2M472 797h2M524 776h2M457 823h2M418 783h2M537 758h2M501 792h2M515 793h2M459 775h2M443 789h2M461 812h2M460 800h2M544 786h2M419 793h2M472 807h2M399 823h2M489 779h2M505 779h2M465 795h2M495 764h2M531 782h2M499 785h2M462 798h2M508 785h2M440 799h2M478 770h2M487 780h2M430 803h2M487 785h2M478 797h2M461 795h2M445 787h2M498 796h2M440 806h2M500 792h2M505 804h2M469 793h2M486 777h2M448 798h2M453 798h2M444 774h2M558 779h2M490 769h2M487 791h2M494 781h2M479 787h2M488 791h2M481 777h2M445 786h2M475 785h2M476 782h2M547 787h2M483 788h2M505 782h2M467 799h2M455 807h2M421 800h2M443 786h2M474 787h2M528 787h2M533 786h2M452 803h2M547 777h2M512 783h2M466 793h2M444 819h2M500 776h2M503 798h2M490 787h2M502 783h2M484 792h2M440 786h2M431 787h2M402 809h2M455 805h2M465 793h2M450 795h2M454 811h2M440 780h2M488 790h2M501 793h2M461 788h2M486 800h2M453 795h2M489 814h2M499 788h2M515 772h2M479 771h2M503 794h2M488 781h2M448 781h2M462 784h2M411 804h2M496 789h2M461 785h2M508 782h2M432 796h2M473 803h2M447 808h2M522 780h2M456 795h2M436 804h2M425 797h2M503 789h2M514 787h2M529 783h2M424 786h2M492 792h2M458 775h2M487 781h2M418 787h2M531 798h2M537 791h2M495 795h2M483 783h2M455 792h2M442 812h2M519 783h2M513 777h2M439 815h2M503 789h2M454 786h2M494 805h2M522 787h2M478 792h2M419 797h2M508 796h2M503 791h2M489 783h2M465 786h2M430 802h2M466 800h2M555 783h2M454 799h2M461 790h2M443 786h2M517 767h2M481 791h2M453 775h2M447 779h2M457 803h2M501 786h2M467 791h2M511 793h2M559 785h2M432 792h2M501 780h2M451 796h2M482 793h2M468 795h2M487 789h2M432 798h2M469 785h2M515 779h2M445 792h2M448 784h2M412 775h2M477 802h2M441 787h2M422 799h2M453 821h2M388 855h2M505 878h2M336 903h2M434 835h2M404 887h2M418 845h2M484 872h2M463 852h2M327 929h2M351 951h2M445 841h2M426 907h2M467 909h2M422 871h2M359 876h2M507 837h2M465 885h2M453 920h2M454 820h2M387 928h2M510 791h2M428 855h2M387 915h2M424 854h2M367 951h2M422 906h2M367 930h2M436 908h2M454 842h2M451 851h2M425 870h2M329 885h2M468 856h2M283 951h2M445 902h2M378 870h2M458 889h2M442 880h2M484 840h2M387 893h2M478 829h2M437 880h2M463 854h2M448 866h2M392 845h2M480 805h2M401 847h2M509 826h2M472 915h2M477 844h2M511 852h2M493 843h2M390 865h2M485 885h2M296 901h2M441 869h2M449 871h2M398 880h2M376 914h2M350 918h2M400 905h2M393 914h2M435 888h2M368 942h2M424 775h2M388 893h2M429 891h2M389 917h2M395 909h2M407 844h2M340 937h2M484 861h2M438 934h2M415 869h2M419 895h2M405 900h2M446 850h2M435 920h2M454 835h2M521 825h2M472 821h2M466 846h2M420 887h2M413 897h2M382 891h2M444 893h2M476 864h2M410 833h2M464 818h2M496 819h2M406 913h2M408 921h2M381 884h2M419 917h2M392 876h2M445 898h2M506 832h2M477 831h2M481 847h2M432 841h2M451 861h2M463 863h2M308 901h2M377 938h2M351 912h2M418 864h2M430 854h2M401 883h2M415 869h2M401 877h2M416 841h2M416 854h2M463 870h2M449 889h2M375 936h2M372 909h2M360 922h2M378 916h2M501 847h2M422 870h2M447 908h2M401 925h2M452 903h2M382 893h2M432 848h2M408 916h2M370 885h2M364 909h2M420 913h2M437 865h2" stroke="#ec1515" stroke-width="1.7" opacity="0.85"/>
<ellipse cx="220" cy="432" rx="11" ry="4.2" transform="rotate(-30 220 432)" fill="#e8100f" opacity="0.9" filter="url(#bl2)"/>
<ellipse cx="255" cy="414" rx="3.5" ry="7" transform="rotate(-55 255 414)" fill="#e8100f" opacity="0.45" filter="url(#bl2)"/>
</g>
<rect x="165.4" y="370.1" width="105.2" height="105.2" fill="none" stroke="#555" stroke-width="1"/>
<line x1="239.5" y1="370.1" x2="239.5" y2="475.3" stroke="#555" stroke-width="1"/>
<line x1="165.4" y1="409.3" x2="270.6" y2="409.3" stroke="#555" stroke-width="1"/>
<path d="M167.5 475.3v1.2M165.4 372.2h-1.2M169.6 475.3v1.2M165.4 374.3h-1.2M171.7 475.3v1.2M165.4 376.4h-1.2M173.8 475.3v1.2M165.4 378.5h-1.2M175.9 475.3v1.2M165.4 380.6h-1.2M178 475.3v1.2M165.4 382.7h-1.2M180.1 475.3v1.2M165.4 384.8h-1.2M182.2 475.3v1.2M165.4 386.9h-1.2M184.3 475.3v1.2M165.4 389h-1.2M186.4 475.3v2M165.4 391.1h-2M188.5 475.3v1.2M165.4 393.2h-1.2M190.6 475.3v1.2M165.4 395.3h-1.2M192.8 475.3v1.2M165.4 397.5h-1.2M194.9 475.3v1.2M165.4 399.6h-1.2M197 475.3v1.2M165.4 401.7h-1.2M199.1 475.3v1.2M165.4 403.8h-1.2M201.2 475.3v1.2M165.4 405.9h-1.2M203.3 475.3v1.2M165.4 408h-1.2M205.4 475.3v1.2M165.4 410.1h-1.2M207.5 475.3v2M165.4 412.2h-2M209.6 475.3v1.2M165.4 414.3h-1.2M211.7 475.3v1.2M165.4 416.4h-1.2M213.8 475.3v1.2M165.4 418.5h-1.2M215.9 475.3v1.2M165.4 420.6h-1.2M218 475.3v1.2M165.4 422.7h-1.2M220.1 475.3v1.2M165.4 424.8h-1.2M222.2 475.3v1.2M165.4 426.9h-1.2M224.3 475.3v1.2M165.4 429h-1.2M226.4 475.3v1.2M165.4 431.1h-1.2M228.5 475.3v2M165.4 433.2h-2M230.6 475.3v1.2M165.4 435.3h-1.2M232.7 475.3v1.2M165.4 437.4h-1.2M234.8 475.3v1.2M165.4 439.5h-1.2M236.9 475.3v1.2M165.4 441.6h-1.2M239 475.3v1.2M165.4 443.7h-1.2M241.1 475.3v1.2M165.4 445.8h-1.2M243.2 475.3v1.2M165.4 447.9h-1.2M245.4 475.3v1.2M165.4 450.1h-1.2M247.5 475.3v1.2M165.4 452.2h-1.2M249.6 475.3v2M165.4 454.3h-2M251.7 475.3v1.2M165.4 456.4h-1.2M253.8 475.3v1.2M165.4 458.5h-1.2M255.9 475.3v1.2M165.4 460.6h-1.2M258 475.3v1.2M165.4 462.7h-1.2M260.1 475.3v1.2M165.4 464.8h-1.2M262.2 475.3v1.2M165.4 466.9h-1.2M264.3 475.3v1.2M165.4 469h-1.2M266.4 475.3v1.2M165.4 471.1h-1.2M268.5 475.3v1.2M165.4 473.2h-1.2" stroke="#666" stroke-width=".5"/>
<text font-size="8.48" text-anchor="start" fill="#222" color="#222" transform="translate(168.7,383.2) scale(1.100,1)" style="stroke:none">3.27%</text>
<text font-size="8.25" text-anchor="end" fill="#222" color="#222" transform="translate(270.7,383.2) scale(1.100,1)" style="stroke:none">9.17%</text>
<text font-size="8.46" text-anchor="start" fill="#222" color="#222" transform="translate(169.1,467.3) scale(1.100,1)" style="stroke:none">64.02%</text>
<text font-size="8.15" text-anchor="end" fill="#222" color="#222" transform="translate(271.1,467.3) scale(1.100,1)" style="stroke:none">23.54%</text>
<text font-size="4.55" text-anchor="middle" fill="#444" color="#444" transform="translate(165.4,483.8) scale(1.100,1)" style="stroke:none">10<tspan font-size="3.4" dy="-1.8">3</tspan></text>
<text font-size="4.55" text-anchor="middle" fill="#444" color="#444" transform="translate(191.7,483.8) scale(1.100,1)" style="stroke:none">10<tspan font-size="3.4" dy="-1.8">4</tspan></text>
<text font-size="4.55" text-anchor="middle" fill="#444" color="#444" transform="translate(218,483.8) scale(1.100,1)" style="stroke:none">10<tspan font-size="3.4" dy="-1.8">5</tspan></text>
<text font-size="4.55" text-anchor="middle" fill="#444" color="#444" transform="translate(244.3,483.8) scale(1.100,1)" style="stroke:none">10<tspan font-size="3.4" dy="-1.8">6</tspan></text>
<text font-size="4.55" text-anchor="middle" fill="#444" color="#444" transform="translate(270.6,483.8) scale(1.100,1)" style="stroke:none">10<tspan font-size="3.4" dy="-1.8">7</tspan></text>
<text font-size="4.55" text-anchor="middle" fill="#444" color="#444" transform="translate(161.4,475.3) rotate(-90) scale(1.100,1)" style="stroke:none">10<tspan font-size="3.4" dy="-1.8">2</tspan></text>
<text font-size="4.55" text-anchor="middle" fill="#444" color="#444" transform="translate(161.4,454.3) rotate(-90) scale(1.100,1)" style="stroke:none">10<tspan font-size="3.4" dy="-1.8">3</tspan></text>
<text font-size="4.55" text-anchor="middle" fill="#444" color="#444" transform="translate(161.4,433.2) rotate(-90) scale(1.100,1)" style="stroke:none">10<tspan font-size="3.4" dy="-1.8">4</tspan></text>
<text font-size="4.55" text-anchor="middle" fill="#444" color="#444" transform="translate(161.4,412.2) rotate(-90) scale(1.100,1)" style="stroke:none">10<tspan font-size="3.4" dy="-1.8">5</tspan></text>
<text font-size="4.55" text-anchor="middle" fill="#444" color="#444" transform="translate(161.4,391.1) rotate(-90) scale(1.100,1)" style="stroke:none">10<tspan font-size="3.4" dy="-1.8">6</tspan></text>
<text font-size="4.55" text-anchor="middle" fill="#444" color="#444" transform="translate(161.4,370.1) rotate(-90) scale(1.100,1)" style="stroke:none">10<tspan font-size="3.4" dy="-1.8">7</tspan></text>
<clipPath id="c11"><rect x="297.9" y="370.5" width="105.3" height="104.8"/></clipPath>
<g clip-path="url(#c11)">
<path transform="scale(.5)" d="M672 885h2M648 870h2M673 876h2M674 874h2M663 871h2M656 879h2M667 883h2M670 860h2M677 867h2M689 873h2M667 857h2M669 857h2M686 855h2M674 888h2M645 890h2M651 880h2M661 886h2M666 879h2M669 856h2M685 859h2M643 885h2M684 872h2M659 881h2M676 878h2M671 881h2M653 877h2M680 872h2M670 878h2M674 877h2M686 866h2M677 863h2M650 863h2M674 870h2M666 856h2M659 875h2M648 897h2M678 854h2M682 881h2M656 892h2M698 871h2M645 879h2M677 880h2M648 880h2M658 892h2M663 883h2M682 875h2M675 872h2M686 866h2M649 882h2M681 866h2M664 879h2M712 842h2M677 872h2M670 884h2M681 868h2M656 895h2M678 866h2M632 899h2M651 884h2M657 873h2M682 865h2M680 856h2M672 885h2M669 866h2M653 878h2M670 879h2M674 877h2M680 867h2M689 867h2M665 874h2M664 869h2M650 887h2M664 882h2M660 880h2M668 869h2M667 867h2M666 883h2M673 870h2M661 886h2M685 840h2M683 865h2M688 871h2M662 895h2M659 878h2M676 867h2M669 868h2M654 884h2M660 893h2M678 881h2M641 871h2M635 893h2M652 888h2M642 878h2M670 868h2M681 873h2M667 862h2M667 897h2M666 878h2M669 872h2M663 872h2M651 865h2M690 857h2M653 890h2M670 858h2M668 889h2M677 871h2M681 863h2M671 887h2M665 875h2M677 868h2M660 898h2M675 886h2M670 863h2M688 858h2M656 882h2M641 897h2M657 879h2M659 887h2M678 878h2M692 860h2M671 875h2M654 878h2M674 861h2M640 890h2M678 881h2M654 874h2M668 872h2M669 868h2M668 868h2M682 866h2M673 865h2M649 887h2M672 882h2M681 864h2M663 868h2M668 876h2M657 870h2M681 856h2M695 866h2M684 854h2M670 859h2M656 867h2M656 877h2M686 872h2M661 875h2M650 875h2M643 889h2M672 863h2M667 863h2M652 880h2M677 862h2M676 864h2M643 871h2M657 872h2M682 868h2M650 895h2M661 850h2M655 885h2M643 884h2M676 871h2M676 874h2M667 898h2M684 883h2M667 880h2M671 870h2M673 873h2M680 868h2M670 876h2M687 861h2M676 869h2M637 886h2M649 873h2M651 868h2M668 868h2M685 865h2M650 884h2M665 869h2M658 870h2M659 882h2M669 885h2M636 888h2M669 887h2M685 869h2M687 875h2M675 866h2M666 867h2M666 878h2M661 879h2M655 869h2M651 892h2M671 879h2M666 875h2M669 869h2M690 868h2M667 863h2M661 880h2M682 863h2M669 878h2M668 872h2M658 892h2M664 871h2M659 866h2M636 878h2M665 862h2M663 865h2M640 886h2M654 876h2M690 859h2M663 885h2M668 885h2M651 895h2M649 879h2M664 865h2M643 886h2M655 866h2M675 860h2M657 878h2M672 880h2M638 894h2M679 867h2M660 867h2M668 868h2M663 866h2M661 876h2M651 894h2M659 867h2M663 877h2M657 870h2M657 867h2M650 897h2M697 871h2M702 862h2M651 879h2M678 861h2M661 877h2M665 861h2M669 877h2M644 900h2M672 862h2M692 860h2M679 880h2M632 898h2M686 874h2M665 873h2M654 879h2M644 866h2M654 873h2M656 877h2M660 879h2M663 872h2M657 879h2M661 876h2M685 863h2M651 864h2M633 868h2M683 873h2M659 875h2M675 873h2M642 888h2M656 869h2M688 866h2M658 879h2M656 876h2M666 884h2M664 871h2M658 882h2M647 871h2M671 886h2M658 881h2M669 884h2M666 861h2M689 858h2M652 879h2M672 881h2M659 872h2M691 872h2M662 878h2M669 869h2M659 889h2M643 872h2M679 876h2M673 861h2M658 869h2M648 863h2M661 891h2M659 896h2M659 860h2M674 859h2M672 868h2M661 876h2M645 881h2M669 889h2M660 881h2M678 878h2M664 877h2M665 899h2M648 889h2M662 878h2M657 876h2M683 871h2M665 874h2M668 872h2M675 875h2M665 859h2M661 867h2M671 868h2M670 871h2M685 874h2M662 863h2M675 887h2M657 880h2M706 863h2M676 870h2M656 897h2M671 854h2M664 874h2M662 870h2M695 845h2M688 865h2M668 877h2M672 862h2M667 885h2M681 868h2M643 874h2M693 870h2M675 872h2M664 880h2M686 868h2M661 881h2M659 878h2M641 869h2M654 885h2M659 885h2M660 881h2M667 888h2M661 878h2M688 873h2M658 894h2M648 877h2M660 888h2M655 888h2M671 869h2M682 883h2M684 854h2M668 869h2M662 872h2M670 863h2M651 886h2M676 879h2M671 862h2M656 884h2M673 876h2M674 847h2M661 883h2M660 895h2M668 879h2M666 878h2M674 874h2M640 874h2M669 880h2M663 875h2M684 868h2M655 884h2M664 876h2M668 878h2M668 876h2M666 872h2M661 881h2M680 880h2M696 847h2M663 887h2M662 879h2M653 889h2M652 894h2M657 883h2M676 859h2M675 889h2M649 888h2M642 894h2M659 868h2M657 893h2M670 860h2M673 860h2M658 884h2M668 878h2M678 860h2M675 871h2M649 894h2M674 856h2M667 883h2M677 863h2M662 874h2M651 886h2M688 845h2M662 868h2M679 849h2M680 869h2M654 880h2M675 885h2M676 879h2M681 865h2M667 873h2M694 867h2M677 861h2M667 881h2M658 867h2M649 891h2M679 870h2M680 849h2M644 891h2M674 860h2M672 874h2M657 873h2M662 876h2M675 865h2M649 876h2M663 881h2M654 879h2M675 871h2M696 858h2M684 882h2M634 880h2M657 882h2M685 868h2M653 869h2M670 869h2M648 875h2M674 866h2M668 871h2M654 878h2M658 879h2M660 884h2M654 885h2M670 877h2M629 906h2M668 868h2M659 875h2M660 907h2M665 879h2M648 882h2M634 895h2M653 882h2M676 879h2M660 867h2M661 883h2M677 841h2M645 881h2M665 880h2M685 865h2M680 857h2M646 871h2M657 886h2M673 887h2M655 871h2M661 856h2M676 869h2M647 890h2M672 881h2M657 873h2M662 874h2M653 890h2M672 861h2M650 873h2M653 874h2M665 879h2M678 855h2M647 874h2M665 880h2M651 883h2M643 874h2M659 885h2M649 866h2M647 882h2M682 849h2M703 855h2M683 869h2M630 900h2M668 876h2M679 862h2M654 885h2M667 876h2M656 878h2M623 904h2M677 866h2M665 879h2M658 876h2M694 870h2M637 887h2M671 877h2M645 882h2M678 876h2M650 881h2M665 884h2M672 873h2M692 862h2M673 884h2M693 869h2M691 860h2M636 891h2M667 872h2M677 869h2M694 860h2M684 873h2M683 857h2M685 860h2M647 904h2M675 880h2M655 888h2M667 897h2M686 859h2M634 897h2M669 871h2M669 869h2M676 871h2M659 887h2M672 868h2M652 874h2M708 868h2M674 864h2M672 862h2M643 870h2M655 875h2M682 867h2M655 878h2M664 875h2M671 882h2M646 889h2M671 878h2M661 869h2M682 874h2M661 888h2M698 847h2M663 851h2M665 866h2M671 868h2M675 879h2M683 871h2M657 879h2M664 871h2M656 882h2M672 868h2M656 892h2M666 891h2M671 873h2M683 863h2M651 886h2M641 895h2M670 877h2M675 886h2M666 869h2M706 847h2M676 866h2M662 876h2M658 879h2M660 873h2M654 879h2M635 898h2M629 896h2M661 871h2M674 886h2M665 870h2M666 866h2M637 886h2M672 867h2M675 874h2M632 882h2M647 874h2M668 863h2M655 894h2M640 878h2M681 864h2M664 880h2M654 878h2M665 885h2M656 866h2M649 889h2M639 878h2M647 870h2M676 886h2M690 858h2M684 862h2M668 879h2M663 871h2M662 873h2M674 878h2M646 882h2M656 896h2M675 869h2M656 889h2M643 874h2M660 889h2M661 872h2M660 886h2M650 878h2M674 873h2M665 878h2M660 858h2M662 870h2M663 875h2M672 877h2M648 879h2M658 878h2M644 889h2M672 863h2M644 896h2M685 865h2M690 868h2M662 873h2M699 857h2M666 886h2M653 879h2M687 868h2M663 885h2M666 852h2M667 882h2M663 865h2M673 863h2M677 869h2M676 859h2M689 855h2M660 873h2M664 876h2M664 881h2M672 868h2M665 876h2M683 874h2M656 887h2M668 859h2M678 881h2M653 871h2M637 894h2M661 875h2M671 859h2M671 887h2M682 856h2M643 893h2M670 872h2M656 888h2M649 875h2M653 882h2M658 867h2M676 879h2M646 893h2M642 864h2M662 865h2M657 873h2M623 894h2M679 872h2M650 892h2M680 878h2M699 867h2M686 867h2M660 866h2M669 881h2M674 862h2M631 889h2M643 892h2M641 881h2M659 875h2M671 878h2M675 880h2M657 885h2M706 850h2M657 881h2M661 874h2M694 873h2M656 873h2M686 872h2M671 879h2M669 886h2M668 876h2M671 861h2M671 873h2M676 861h2M636 888h2M672 870h2M678 880h2M683 871h2M665 865h2M663 874h2M654 884h2M656 872h2M643 873h2M684 854h2M646 864h2M664 876h2M666 865h2M659 899h2M662 880h2M667 873h2M688 864h2M682 876h2M677 866h2M655 890h2M658 865h2M683 880h2M681 867h2M690 863h2M653 885h2M674 866h2M649 874h2M690 865h2M661 891h2M662 868h2M658 886h2M683 869h2M649 861h2M652 888h2M646 875h2M639 872h2M675 847h2M653 888h2M679 875h2M653 882h2M687 851h2M667 866h2M639 884h2M656 889h2M687 881h2M651 880h2M670 865h2M652 882h2M675 861h2M686 854h2M683 870h2M659 879h2M677 853h2M680 862h2M683 873h2M668 866h2M662 866h2M646 906h2M643 865h2M661 859h2M678 881h2M689 868h2M657 871h2M631 886h2M658 872h2M686 856h2M666 884h2M662 885h2M669 864h2M675 865h2M662 883h2M665 870h2M686 875h2M663 870h2M663 878h2M673 852h2M690 861h2M680 892h2M693 874h2M667 885h2M641 886h2M659 893h2M666 861h2M681 867h2M689 890h2M647 897h2M659 883h2M680 878h2M681 870h2M632 893h2M667 870h2M661 885h2M665 870h2M659 872h2M654 877h2M686 877h2M669 864h2M662 882h2M662 885h2M694 869h2M658 882h2M668 878h2M653 884h2M665 866h2M670 877h2M661 872h2M671 874h2M654 880h2M661 868h2M669 866h2M655 893h2M676 854h2M655 872h2M644 900h2M663 885h2M654 871h2M674 864h2M669 857h2M693 872h2M647 866h2M638 891h2M636 890h2M666 868h2M670 867h2M654 882h2M657 883h2M666 889h2M657 888h2M673 874h2M657 871h2M636 886h2M676 871h2M671 858h2M666 869h2M647 896h2M685 858h2M677 865h2M642 871h2M681 875h2M665 886h2M673 862h2M681 871h2M655 878h2M666 866h2M650 887h2M695 857h2M656 875h2M681 855h2M650 879h2M660 872h2M664 876h2M685 865h2M639 889h2M646 876h2M656 873h2M662 871h2M683 860h2M650 891h2M657 883h2M634 878h2M638 883h2M648 902h2M682 855h2M696 864h2M651 880h2M667 861h2M669 861h2M690 878h2M674 880h2M668 876h2M653 884h2M691 868h2M647 882h2M676 874h2M659 866h2M659 884h2M675 861h2M677 880h2M647 875h2M669 882h2M665 877h2M648 888h2M638 894h2M666 888h2M668 858h2M695 875h2M668 875h2M655 877h2M664 880h2M666 871h2M661 904h2M685 871h2M655 875h2M659 875h2M671 854h2M664 873h2M665 880h2M668 872h2M658 856h2M673 866h2M669 868h2M649 892h2M658 882h2M653 877h2M673 854h2M691 865h2M671 877h2M697 851h2M637 885h2M656 877h2M646 887h2M678 871h2M661 864h2M673 871h2M672 869h2M677 856h2M667 881h2M662 880h2M694 882h2M641 892h2M666 868h2M657 862h2M679 870h2M657 888h2M651 881h2M687 843h2M641 895h2M679 887h2M688 863h2M645 881h2M667 887h2M658 882h2M651 890h2M692 855h2M656 871h2M660 872h2M656 894h2M665 877h2M670 872h2M664 872h2M668 863h2M653 882h2M658 864h2M652 874h2M670 884h2M653 887h2M681 861h2M667 863h2M646 896h2M675 885h2M661 870h2M686 878h2M675 862h2M672 876h2M656 878h2M686 865h2M669 870h2M669 871h2M670 876h2M656 883h2M657 881h2M645 888h2M662 882h2M654 868h2M650 853h2M660 888h2M652 879h2M654 885h2M658 886h2M664 862h2M682 850h2M665 881h2M636 892h2M678 873h2M660 878h2M677 852h2M663 891h2M670 876h2M655 875h2M655 894h2M660 864h2M671 864h2M673 854h2M655 878h2M646 892h2M675 864h2M641 874h2M672 867h2M658 880h2M662 860h2M677 863h2M664 873h2M674 879h2M650 883h2M648 881h2M663 874h2M666 871h2M684 862h2M688 859h2M658 888h2M678 858h2M664 869h2M657 885h2M674 879h2M661 885h2M682 864h2M662 882h2M673 858h2M678 885h2M666 871h2M671 872h2M680 856h2M646 883h2M681 862h2M675 869h2M673 883h2M670 885h2M689 863h2M673 873h2M665 873h2M684 870h2M666 873h2M682 873h2M667 890h2M665 882h2M663 874h2M671 867h2M655 863h2M670 860h2M680 870h2M681 878h2M674 869h2M653 870h2M673 856h2M672 861h2M649 896h2M669 874h2M672 891h2M661 883h2M683 877h2M669 878h2M654 868h2M668 889h2M654 873h2M680 858h2M669 873h2M656 868h2M692 868h2M673 873h2M668 886h2M645 868h2M667 876h2M672 876h2M670 863h2M655 887h2M670 869h2M662 882h2M679 887h2M678 871h2M680 849h2M657 871h2M646 888h2M695 854h2M635 881h2M655 887h2M675 852h2M668 861h2M683 866h2M662 866h2M641 881h2M671 883h2M682 845h2M667 872h2M646 877h2M671 853h2M653 884h2M691 867h2M657 861h2M662 882h2M662 889h2M666 874h2M656 884h2M650 881h2M673 869h2M692 842h2M653 873h2M661 900h2M639 895h2M660 875h2M654 883h2M662 880h2M657 883h2M674 886h2M665 884h2M673 873h2M670 871h2M658 876h2M642 886h2M645 881h2M633 894h2M657 883h2M667 893h2M654 866h2M650 873h2M670 892h2M672 859h2M686 857h2M692 874h2M646 869h2M663 876h2M664 888h2M670 874h2M675 865h2M658 874h2M680 881h2M673 882h2M656 884h2M674 844h2M654 877h2M690 864h2M692 844h2M689 864h2M676 874h2M662 861h2M678 878h2M654 880h2M682 855h2M671 873h2M654 877h2M643 882h2M647 887h2M683 856h2M649 891h2M681 863h2M664 864h2M688 867h2M692 873h2M671 859h2M669 871h2M663 855h2M668 882h2M688 864h2M686 862h2M646 886h2M647 861h2M645 870h2M682 869h2M637 871h2M669 891h2M635 887h2M661 884h2M672 859h2M650 874h2M668 865h2M695 861h2M661 875h2M692 850h2M654 880h2M657 863h2M671 860h2M663 852h2M657 870h2M675 874h2M632 891h2M684 870h2M670 863h2M649 893h2M665 875h2M665 877h2M677 862h2M669 868h2M659 891h2M679 872h2M664 876h2M660 901h2M662 878h2M657 872h2M643 895h2M671 875h2M660 887h2M652 884h2M678 854h2M663 860h2M659 887h2M656 885h2M663 868h2M662 880h2M674 878h2M671 866h2M652 875h2M669 872h2M662 889h2M673 873h2M673 880h2M690 864h2M646 895h2M666 851h2M693 867h2M653 886h2M666 873h2M665 891h2M690 860h2M664 875h2M678 869h2M642 872h2M665 872h2M651 877h2M656 884h2M670 859h2M674 867h2M663 880h2M670 877h2M656 874h2M666 861h2M677 874h2M670 857h2M700 855h2M642 901h2M645 879h2M665 880h2M661 868h2M650 889h2M670 868h2M661 857h2M672 873h2M685 846h2M644 878h2M682 866h2M672 868h2M661 880h2M665 875h2M666 868h2M674 867h2M654 882h2M665 879h2M707 848h2M659 875h2M676 866h2M653 876h2M673 879h2M681 869h2M680 867h2M689 870h2M668 877h2M679 850h2M662 878h2M633 904h2M662 875h2M690 880h2M651 886h2M648 883h2M653 877h2M680 866h2M659 893h2M653 903h2M681 874h2M683 858h2M680 865h2M672 867h2M673 889h2M665 867h2M655 871h2M668 871h2M693 862h2M671 862h2M664 874h2M663 881h2M677 877h2M668 870h2M662 872h2M650 876h2M663 877h2M650 896h2M682 877h2M670 864h2M678 870h2M654 871h2M658 876h2M659 891h2M655 874h2M666 876h2M677 877h2M666 880h2M673 862h2M672 878h2M674 864h2M679 865h2M653 876h2M675 879h2M664 882h2M675 872h2M684 874h2M662 889h2M692 859h2M664 886h2M659 863h2M678 865h2M649 890h2M681 879h2M673 861h2M674 877h2M657 873h2M664 869h2M667 885h2M654 875h2M661 865h2M666 871h2M654 884h2M652 896h2M658 873h2M657 878h2M673 868h2M671 874h2M674 875h2M683 865h2M683 882h2M659 878h2M649 899h2M680 861h2M675 857h2M686 843h2M658 878h2M666 881h2M657 865h2M663 867h2M663 887h2M661 875h2M671 850h2M676 874h2M649 892h2M671 859h2M674 890h2M667 871h2M679 860h2M656 874h2M638 901h2M661 866h2M686 880h2M677 847h2M684 873h2M680 863h2M677 859h2M655 872h2M644 892h2M643 877h2M669 876h2M668 871h2M677 876h2M666 871h2M669 885h2M676 864h2M677 876h2M672 879h2M675 865h2M669 873h2M661 879h2M663 861h2M640 887h2M655 880h2M649 875h2M661 856h2M672 874h2M666 877h2M647 891h2M665 872h2M674 863h2M672 865h2M666 881h2M665 875h2M682 871h2M660 871h2M677 867h2M684 890h2M661 870h2M668 871h2M673 869h2M655 892h2M651 879h2M666 861h2M687 865h2M686 864h2M653 887h2M649 882h2M675 876h2M666 876h2M643 875h2M665 868h2M644 879h2M657 878h2M662 875h2M647 881h2M681 878h2M679 857h2M677 869h2M657 880h2M639 872h2M678 881h2M652 871h2M684 857h2M660 895h2M659 884h2M662 855h2M687 853h2M665 880h2M686 871h2M651 883h2M654 880h2M652 873h2M679 857h2M650 878h2M670 880h2M667 877h2M667 893h2M666 882h2M674 874h2M660 875h2M689 866h2M649 882h2M665 882h2M670 875h2M655 875h2M658 902h2M669 877h2M663 858h2M671 875h2M669 874h2M671 882h2M667 854h2M678 867h2M660 888h2M671 860h2M653 881h2M665 871h2M649 875h2M670 872h2M684 879h2M659 877h2M673 865h2M693 860h2M675 867h2M662 859h2M696 851h2M678 869h2M669 877h2M684 861h2M670 878h2M690 868h2M664 869h2M671 880h2M679 878h2M651 888h2M674 866h2M676 877h2M656 873h2M653 878h2M662 877h2M649 884h2M687 862h2M674 868h2M672 883h2M684 858h2M654 884h2M649 884h2M688 874h2M667 866h2M646 861h2M652 873h2M661 871h2M668 879h2M646 888h2M661 873h2M644 885h2M657 888h2M683 860h2M671 872h2M677 867h2M646 881h2M675 862h2M639 901h2M654 881h2M664 884h2M649 870h2M679 879h2M677 864h2M670 878h2M668 877h2M646 874h2M678 874h2M681 861h2M703 856h2M650 873h2M675 870h2M673 874h2M675 886h2M649 895h2M646 883h2M691 885h2M673 861h2M675 883h2M651 881h2M640 886h2M682 882h2M646 868h2M669 876h2M659 878h2M697 860h2M645 866h2M674 856h2M688 875h2M655 885h2M654 874h2M651 879h2M671 863h2M655 887h2M654 884h2M673 875h2M680 886h2M667 869h2M665 876h2M699 841h2M657 893h2M660 888h2M687 855h2M662 870h2M668 877h2M675 871h2M658 885h2M659 876h2M693 871h2M676 870h2M645 872h2M669 865h2M665 864h2M674 860h2M692 870h2M658 868h2M665 884h2M683 872h2M679 869h2M690 865h2M676 883h2M661 867h2M656 869h2M654 883h2M663 886h2M630 896h2M685 857h2M674 879h2M665 870h2M666 853h2M667 869h2M675 872h2M675 851h2M657 881h2M682 856h2M677 865h2M654 871h2M650 886h2M646 892h2M650 889h2M681 854h2M677 884h2M655 891h2M688 840h2M680 865h2M664 885h2M648 858h2M658 873h2M673 865h2M669 872h2M668 866h2M663 870h2M657 876h2M674 882h2M674 872h2M667 883h2M676 873h2M671 880h2M670 869h2M683 871h2M680 866h2M643 887h2M663 864h2M667 864h2M671 858h2M643 886h2M662 879h2M683 864h2M689 865h2M671 876h2M671 871h2M684 855h2M653 878h2M671 878h2M697 854h2M640 870h2M674 854h2M688 864h2M658 888h2M670 885h2M654 881h2M658 869h2M674 873h2M680 859h2M669 865h2M655 886h2M659 880h2M668 862h2M677 865h2M668 874h2M671 891h2M645 876h2M645 888h2M692 858h2M668 879h2M684 856h2M686 868h2M658 887h2M683 852h2M677 878h2M648 880h2M689 871h2M638 872h2M656 879h2M665 874h2M669 866h2M676 869h2M695 865h2M654 897h2M663 884h2M682 862h2M671 869h2M675 857h2M662 881h2M659 877h2M680 871h2M692 847h2M648 881h2M652 891h2M670 878h2M649 871h2M639 885h2M641 891h2M674 872h2M674 842h2M680 871h2M656 888h2M678 883h2M691 848h2M673 872h2M671 870h2M681 889h2M687 874h2M677 870h2M637 887h2M676 868h2M666 868h2M674 870h2M668 865h2M652 887h2M655 873h2M688 868h2M679 862h2M678 882h2M668 870h2M679 862h2M660 885h2M676 883h2M675 869h2M656 878h2M666 869h2M666 887h2M660 868h2M674 850h2M674 882h2M670 896h2M656 883h2M683 856h2M655 885h2M668 879h2M664 881h2M669 876h2M683 871h2M657 881h2M713 847h2M677 867h2M626 895h2M656 899h2M641 889h2M675 869h2M649 879h2M676 868h2M660 877h2M661 878h2M668 880h2M673 871h2M668 866h2M649 893h2M675 865h2M688 861h2M661 885h2M669 873h2M684 882h2M644 873h2M658 893h2M683 864h2M647 898h2M674 866h2M674 880h2M648 894h2M677 875h2M672 871h2M662 882h2M670 859h2M689 872h2M674 871h2M648 885h2M661 879h2M649 892h2M660 873h2M650 878h2M655 882h2M647 885h2M677 878h2M660 873h2M655 887h2M652 878h2M679 857h2M654 874h2M647 893h2M696 877h2M667 886h2M635 873h2M674 868h2M651 876h2M659 874h2M625 895h2M684 869h2M644 875h2M667 871h2M679 871h2M643 877h2M653 886h2M679 855h2M667 873h2M665 882h2M663 872h2M674 881h2M672 870h2M675 878h2M679 866h2M699 846h2M662 889h2M664 877h2M657 882h2M668 878h2M656 869h2M643 879h2M708 849h2M702 848h2M656 875h2M645 890h2M653 884h2M668 888h2M693 860h2M664 891h2M680 867h2M645 910h2M689 855h2M674 866h2M675 870h2M651 880h2M648 888h2M679 871h2M664 872h2M680 871h2M655 869h2M692 861h2M672 868h2M677 874h2M665 872h2M661 871h2M674 864h2M654 886h2M659 895h2M665 875h2M684 863h2M661 870h2M679 871h2M671 879h2M667 885h2M652 874h2M661 895h2M646 889h2M648 881h2M677 889h2M681 870h2M686 870h2M678 870h2M692 871h2M676 873h2M670 882h2M669 888h2M656 885h2M659 877h2M664 870h2M661 873h2M695 864h2M655 879h2M674 872h2M671 856h2M666 864h2M658 873h2M664 869h2M659 891h2M659 886h2M660 873h2M675 868h2M683 848h2M672 871h2M694 844h2M659 866h2M681 877h2M660 888h2M698 857h2M653 879h2M658 885h2M685 856h2M698 862h2M675 881h2M692 854h2M664 873h2M682 860h2M671 861h2M680 864h2M687 881h2M658 888h2M656 873h2M674 866h2M673 880h2M685 879h2M678 868h2M705 853h2M667 868h2M674 865h2M659 894h2M658 873h2M656 890h2M662 874h2M673 883h2M693 866h2M675 874h2M672 882h2M650 888h2M673 879h2M663 871h2M667 876h2M642 904h2M678 864h2M661 886h2M668 867h2M650 887h2M664 878h2M676 847h2M655 891h2M684 858h2M661 869h2M675 864h2M647 888h2M676 867h2M682 862h2M648 879h2M656 891h2M654 876h2M679 871h2M661 876h2M632 900h2M681 871h2M667 865h2M694 856h2M657 876h2M661 875h2M660 882h2M648 869h2M634 871h2M664 872h2M677 864h2M664 872h2M684 861h2M640 875h2M668 883h2M638 880h2M669 869h2M694 858h2M662 880h2M640 887h2M667 874h2M650 879h2M655 875h2M648 884h2M659 872h2M668 859h2M666 887h2M670 872h2M666 865h2M637 881h2M651 877h2M665 876h2M660 881h2M661 861h2M667 882h2M663 872h2M690 874h2M667 886h2M657 881h2M657 875h2M673 880h2M663 877h2M681 869h2M654 880h2M665 884h2M703 849h2M672 863h2M643 887h2M671 882h2M661 884h2M669 858h2M670 857h2M673 882h2M669 867h2M658 868h2M650 871h2M671 867h2M661 887h2M640 890h2M687 863h2M673 872h2M667 892h2M687 849h2M658 877h2M624 885h2M654 885h2M668 877h2M667 879h2M672 860h2M678 883h2M659 880h2M676 863h2M672 854h2M681 874h2M660 883h2M678 867h2M682 885h2M670 864h2M654 886h2M668 864h2M678 865h2M644 884h2M671 872h2M662 879h2M679 865h2M654 877h2M668 882h2M649 884h2M679 879h2M652 892h2M649 872h2M666 880h2M676 872h2M659 890h2M673 880h2M651 880h2M651 884h2M653 896h2M674 873h2M663 874h2M659 881h2M641 890h2M661 903h2M653 888h2M674 866h2M657 870h2M680 861h2M665 878h2M642 875h2M666 858h2M696 863h2M653 892h2M645 885h2M664 869h2M659 862h2M671 879h2M676 849h2M666 883h2M692 853h2M683 873h2M669 874h2M646 900h2M679 859h2M696 855h2M670 887h2M671 878h2M673 877h2M651 883h2M689 871h2M668 883h2M653 881h2M669 871h2M667 874h2M686 870h2M685 873h2M653 879h2M664 868h2M667 888h2M676 878h2M677 863h2M681 878h2M681 852h2M670 879h2M674 878h2M658 884h2M640 872h2M652 885h2M663 865h2M677 869h2M626 883h2M680 863h2M674 861h2M672 870h2M662 868h2M671 873h2M663 875h2M666 880h2M657 882h2M644 876h2M681 862h2M668 867h2M667 875h2M632 887h2M633 892h2M663 874h2M648 879h2M667 868h2M677 853h2M669 881h2M666 890h2M667 864h2M657 876h2M669 878h2M661 884h2M659 860h2M653 873h2M647 904h2M692 862h2M671 879h2M661 873h2M667 872h2M650 877h2M666 871h2M649 856h2M659 875h2M670 857h2M671 885h2M651 880h2M684 876h2M680 853h2M686 869h2M656 899h2M667 873h2M653 887h2M666 863h2M659 880h2M683 859h2M678 867h2M647 892h2M668 859h2M665 881h2M672 873h2M682 873h2M666 888h2M680 866h2M657 875h2M685 863h2M700 863h2M643 904h2M682 878h2M665 889h2M680 866h2M664 878h2M675 877h2M680 889h2M678 859h2M644 890h2M642 893h2M680 861h2M679 865h2M655 879h2M645 883h2M659 858h2M679 882h2M670 884h2M666 878h2M675 873h2M643 877h2M641 875h2M685 857h2M668 871h2M662 888h2M646 881h2M668 870h2M664 878h2M672 843h2M648 868h2M684 866h2M669 867h2M647 880h2M655 879h2M681 881h2M684 857h2M662 876h2M667 865h2M674 861h2M661 871h2M673 870h2M666 869h2M670 875h2M671 888h2M667 863h2M659 872h2M680 869h2M674 863h2M654 873h2M669 857h2M676 860h2M660 878h2M694 855h2M685 855h2M653 885h2M654 895h2M651 863h2M646 885h2M670 869h2M658 871h2M637 890h2M656 868h2M665 872h2M665 861h2M663 889h2M677 875h2M663 881h2M676 866h2M684 861h2M688 866h2M662 861h2M680 882h2M657 878h2M668 883h2M656 889h2M661 882h2M660 876h2M655 894h2M667 878h2M674 859h2M642 893h2M681 858h2M673 879h2M662 875h2M676 869h2M667 873h2M654 871h2M671 880h2M673 876h2M662 893h2M683 872h2M679 862h2M682 875h2M655 870h2M672 876h2M678 852h2M649 885h2M649 893h2M669 872h2M676 887h2M668 873h2M661 867h2M665 870h2M653 869h2M646 876h2M668 874h2M659 875h2M666 869h2M663 880h2M675 861h2M700 860h2M668 882h2M663 867h2M665 890h2M691 866h2M646 895h2M691 867h2M650 875h2M667 877h2M669 877h2M669 878h2M656 875h2M657 889h2M668 856h2M674 856h2M669 876h2M648 877h2M655 879h2M678 867h2M658 875h2M657 869h2M673 870h2M666 880h2M654 873h2M653 889h2M671 883h2M673 878h2M675 875h2M642 873h2M676 885h2M651 891h2M675 865h2M643 896h2M665 862h2M658 871h2M681 848h2M667 861h2M678 883h2M651 880h2M642 890h2M655 895h2M656 888h2M681 877h2M658 878h2M687 842h2M645 887h2M669 870h2M672 879h2M683 856h2M646 880h2M676 853h2M681 868h2M667 872h2M658 885h2M671 874h2M662 875h2M676 850h2M672 859h2M645 882h2M662 877h2M645 892h2M671 856h2M661 875h2M646 877h2M699 867h2M659 871h2M652 877h2M671 878h2M667 872h2M675 861h2M661 881h2M673 862h2M672 874h2M648 880h2M662 872h2M655 882h2M701 854h2M645 883h2M687 864h2M664 886h2M666 882h2M672 875h2M648 870h2M683 872h2M643 908h2M667 861h2M653 886h2M664 872h2M667 867h2M690 858h2M664 878h2M668 877h2M644 880h2M675 865h2M670 855h2M671 846h2M644 870h2M683 875h2M672 866h2M668 864h2M669 886h2M670 886h2M684 867h2M672 877h2M673 864h2M657 873h2M671 862h2M668 891h2M685 878h2M667 873h2M673 872h2M653 890h2M665 867h2M669 866h2M677 879h2M620 886h2M674 856h2M644 884h2M681 866h2M662 861h2M667 861h2M649 885h2M678 862h2M663 882h2M674 881h2M670 887h2M645 905h2M658 876h2M664 872h2M670 869h2M664 880h2M653 870h2M651 874h2M658 892h2M664 912h2M697 871h2M684 893h2M649 885h2M673 889h2M620 881h2M664 873h2M636 889h2M689 868h2M654 876h2M668 889h2M671 894h2M670 895h2M653 846h2M668 868h2M663 882h2M639 905h2M705 859h2M679 885h2M633 892h2M657 898h2M671 867h2M661 863h2M679 872h2M680 894h2M657 879h2M665 897h2M676 911h2M687 882h2M627 884h2M644 901h2M670 887h2M660 877h2M617 878h2M698 828h2M672 844h2M669 871h2M654 887h2M697 880h2M649 861h2M700 886h2M701 885h2M703 837h2M679 884h2M647 924h2M658 863h2M619 938h2M692 867h2M682 903h2M618 909h2M643 914h2M668 864h2M642 903h2M684 889h2M616 922h2M673 874h2M696 845h2M671 876h2M625 924h2M623 871h2M691 888h2M657 884h2M704 862h2M674 881h2M635 893h2M614 880h2M674 873h2M656 894h2M685 881h2M659 887h2M654 852h2M666 886h2M635 908h2M690 872h2M665 845h2M656 880h2M639 896h2M714 884h2M664 877h2M652 883h2M724 875h2M673 901h2M667 856h2M667 899h2M641 880h2M707 900h2M685 863h2M651 893h2M673 925h2M669 894h2M656 898h2M628 903h2M681 871h2M656 890h2M679 870h2M685 865h2M641 879h2M669 879h2M656 890h2M677 872h2M691 888h2M677 866h2M648 908h2M666 892h2M630 889h2M686 849h2M694 860h2M662 865h2M676 891h2M634 873h2M666 886h2M702 872h2M655 891h2M685 865h2M664 893h2M661 897h2M704 869h2M674 856h2M629 878h2M652 902h2M683 873h2M623 907h2M665 877h2M659 869h2M655 870h2M656 886h2M723 895h2M655 862h2M676 897h2M604 913h2M673 905h2M688 879h2M676 900h2M679 873h2M650 876h2M652 873h2M704 853h2M667 928h2M634 899h2M667 866h2M641 894h2M662 876h2M673 848h2M676 864h2M648 860h2M663 881h2M690 847h2M705 881h2M654 868h2M662 871h2M692 830h2M642 900h2M657 891h2M698 895h2M679 837h2M639 879h2M632 883h2M673 880h2M676 900h2M695 853h2M670 866h2M661 879h2M663 872h2M666 877h2M670 871h2M667 874h2M651 907h2M668 876h2M637 908h2M634 877h2M696 844h2M669 892h2M684 862h2M662 892h2M704 866h2M629 874h2M654 847h2M635 906h2M651 876h2M678 843h2M643 874h2M645 906h2M643 918h2M641 885h2M654 870h2M683 876h2M640 927h2M662 892h2M673 907h2M705 852h2M690 838h2M646 913h2M664 881h2M641 875h2M671 858h2M630 852h2M669 843h2M699 891h2M689 861h2M619 896h2M643 914h2M715 852h2M667 892h2M671 885h2M639 862h2M671 880h2M630 898h2M671 879h2M648 855h2M666 892h2M657 883h2M623 926h2M662 898h2M684 839h2M681 867h2M608 903h2M670 855h2M666 886h2M639 849h2M657 863h2M659 913h2M630 911h2M633 882h2M697 881h2M628 866h2M663 886h2M673 866h2M667 870h2M616 885h2M707 847h2M689 871h2M687 858h2M651 893h2M656 861h2M659 864h2M666 896h2M647 880h2M677 854h2M664 915h2M658 911h2M647 875h2M721 852h2M710 842h2M666 882h2M673 923h2M673 912h2M665 867h2M653 887h2M669 852h2M750 792h2M755 794h2M723 816h2M752 777h2M744 790h2M742 803h2M761 809h2M748 813h2M731 777h2M721 804h2M744 786h2M749 802h2M777 794h2M723 796h2M748 788h2M720 816h2M729 796h2M734 797h2M722 827h2M746 791h2M706 796h2M740 783h2M767 796h2M781 772h2M779 790h2M693 801h2M779 803h2M698 804h2M716 815h2M734 794h2M732 795h2M766 793h2M762 782h2M722 799h2M763 780h2M712 798h2M755 790h2M773 788h2M745 789h2M779 787h2M730 801h2M767 781h2M760 790h2M732 808h2M699 804h2M735 798h2M748 781h2M731 795h2M741 797h2M725 813h2M745 794h2M722 815h2M745 802h2M730 811h2M714 799h2M743 806h2M723 800h2M730 810h2M751 794h2M733 775h2M731 799h2M718 808h2M730 808h2M762 793h2M748 795h2M726 802h2M744 783h2M755 787h2M771 792h2M747 790h2M731 798h2M765 786h2M710 817h2M731 796h2M719 801h2M815 771h2M731 803h2M773 768h2M780 801h2M713 806h2M752 803h2M757 799h2M758 783h2M741 809h2M716 804h2M755 802h2M731 793h2M767 800h2M786 777h2M735 805h2M768 779h2M722 812h2M758 780h2M748 795h2M745 786h2M746 798h2M718 789h2M708 814h2M729 812h2M759 787h2M740 796h2M763 788h2M667 808h2M745 790h2M734 786h2M750 788h2M713 815h2M775 780h2M728 810h2M761 786h2M742 793h2M756 781h2M756 786h2M761 786h2M726 800h2M763 797h2M771 796h2M744 785h2M774 790h2M780 794h2M756 793h2M769 781h2M753 811h2M749 790h2M727 778h2M755 789h2M774 790h2M738 798h2M713 806h2M737 795h2M735 795h2M743 808h2M753 781h2M762 786h2M733 799h2M759 793h2M762 781h2M745 808h2M786 785h2M747 792h2M762 793h2M704 798h2M718 798h2M747 807h2M750 805h2M731 791h2M720 814h2M790 789h2M729 795h2M727 795h2M764 780h2M749 799h2M736 787h2M713 804h2M706 792h2M735 805h2M721 810h2M734 798h2M750 774h2M731 809h2M742 788h2M764 793h2M757 781h2M723 789h2M712 812h2M759 795h2M752 792h2M781 769h2M775 780h2M741 786h2M770 798h2M753 779h2M714 801h2M755 782h2M743 799h2M772 781h2M796 771h2M757 788h2M774 793h2M745 790h2M725 791h2M750 792h2M777 781h2M741 804h2M728 796h2M711 799h2M749 805h2M742 798h2M755 786h2M758 796h2M720 807h2M711 800h2M791 777h2M761 784h2M720 802h2M750 810h2M760 784h2M722 797h2M755 798h2M725 811h2M750 795h2M806 769h2M775 783h2M737 798h2M794 792h2M751 808h2M737 810h2M738 798h2M760 792h2M759 792h2M757 788h2M717 807h2M774 761h2M749 804h2M764 794h2M728 788h2M752 800h2M779 788h2M765 793h2M737 790h2M732 802h2M791 779h2M757 784h2M737 791h2M763 795h2M726 808h2M739 788h2M717 793h2M752 808h2M710 817h2M780 787h2M729 825h2M745 807h2M733 794h2M687 828h2M711 814h2M714 807h2M720 801h2M726 805h2M696 806h2M745 782h2M729 810h2M768 777h2M739 801h2M734 811h2M742 788h2M725 811h2M737 785h2M740 805h2M718 809h2M703 801h2M760 790h2M764 792h2M776 776h2M717 811h2M733 793h2M767 801h2M719 804h2M733 817h2M770 786h2M750 789h2M691 813h2M761 809h2M738 793h2M745 785h2M765 787h2M721 811h2M752 783h2M743 798h2M738 814h2M723 794h2M774 796h2M752 813h2M742 785h2M740 788h2M739 806h2M760 792h2M765 790h2M760 802h2M738 777h2M686 845h2M712 849h2M737 868h2M727 894h2M719 898h2M730 864h2M739 832h2M766 868h2M756 827h2M730 838h2M752 858h2M774 827h2M718 807h2M690 871h2M741 839h2M728 826h2M714 882h2M741 821h2M740 832h2M717 849h2M714 866h2M741 835h2M743 863h2M697 892h2M705 878h2M739 795h2M741 881h2M733 858h2M722 802h2M744 853h2M725 849h2M715 866h2M754 834h2M701 860h2M723 832h2M713 856h2M739 845h2M744 879h2M745 842h2M713 867h2M805 823h2M728 902h2M743 861h2M730 865h2M739 873h2M745 842h2M755 815h2M732 874h2M766 830h2M711 877h2M740 883h2M714 851h2M720 863h2M747 854h2M727 851h2M711 883h2M742 888h2M701 872h2M745 885h2M706 837h2M751 836h2M718 866h2M715 853h2M736 859h2M742 853h2M774 852h2M755 849h2M724 901h2M750 863h2M719 855h2M750 835h2M754 814h2M735 851h2M730 878h2M708 846h2M769 845h2M732 862h2M756 858h2M733 859h2M731 867h2M690 847h2M741 874h2M733 835h2M730 858h2M758 826h2M708 839h2M756 866h2M710 812h2M725 835h2M740 846h2M723 863h2M718 821h2M763 879h2M687 860h2M730 859h2M770 865h2M725 879h2M708 872h2M726 863h2M713 874h2M693 843h2M752 846h2M748 871h2M744 877h2M739 844h2M712 877h2M785 839h2M719 872h2M767 852h2M734 821h2M770 838h2M743 845h2M727 822h2M733 857h2M715 860h2M743 845h2M738 872h2M710 834h2M710 867h2M738 828h2M698 830h2M756 836h2M768 862h2M732 832h2M747 847h2M729 869h2M740 838h2M774 788h2M756 857h2M744 864h2M703 827h2M729 906h2M721 839h2M737 852h2M730 868h2M735 873h2M759 810h2M731 900h2M686 827h2M722 835h2M723 835h2M770 819h2M768 847h2M774 867h2M804 834h2M745 861h2M724 881h2M680 832h2M746 848h2M803 848h2M696 837h2M718 900h2M685 867h2M728 850h2M751 855h2M748 809h2M701 873h2M703 856h2M768 824h2M702 842h2M733 873h2M768 864h2M705 845h2M757 856h2M755 862h2M742 837h2M750 861h2M758 816h2M722 856h2M730 833h2M753 844h2M734 822h2M658 848h2M704 850h2M757 828h2M740 817h2M736 896h2M687 868h2M704 860h2M759 879h2M730 802h2M704 880h2M700 866h2M716 865h2M717 863h2M741 841h2M673 874h2M715 845h2M710 848h2M729 838h2M683 870h2M743 865h2M718 847h2M742 836h2M720 885h2M769 844h2M725 810h2M753 836h2M738 867h2M748 861h2M751 841h2M738 847h2M745 856h2M747 853h2M733 861h2M748 842h2M729 865h2M763 859h2M757 844h2M765 842h2M792 810h2M722 847h2M760 855h2M738 872h2M753 848h2M711 849h2M742 823h2M713 887h2M711 839h2M749 820h2M646 851h2M680 909h2M647 872h2M670 847h2M675 882h2M652 903h2M709 867h2M688 868h2M623 883h2M658 894h2M704 835h2M630 853h2M662 852h2M722 812h2M689 892h2M663 901h2M645 873h2M670 888h2M628 874h2M681 896h2M680 857h2M637 898h2M730 806h2M660 908h2M618 917h2M697 815h2M713 839h2M691 851h2M726 800h2M736 794h2M689 858h2M681 834h2M666 907h2M668 898h2M664 890h2M749 830h2M685 857h2M658 877h2M686 822h2M681 859h2M700 817h2M686 875h2M701 810h2M644 887h2M701 800h2M670 867h2M702 852h2M621 863h2M682 826h2M690 844h2M682 819h2M615 924h2M725 815h2M691 824h2M676 856h2M703 817h2M735 823h2M696 842h2M679 886h2M682 886h2M732 808h2M684 851h2M672 845h2M701 816h2M710 817h2M672 883h2M708 839h2M683 829h2M673 899h2M683 862h2M708 844h2M677 849h2M644 895h2M693 841h2M745 816h2M687 823h2M682 858h2M696 860h2M674 851h2M667 858h2M683 861h2M656 889h2M688 880h2M638 913h2M712 851h2M684 827h2M714 833h2M660 878h2M724 816h2M667 879h2M730 774h2M673 868h2M698 830h2M683 866h2M676 893h2M656 891h2M655 882h2M662 882h2M629 889h2M676 895h2M645 935h2M718 851h2M709 858h2M686 867h2M674 861h2M667 847h2M645 897h2M693 842h2M690 867h2M640 930h2M690 860h2M650 886h2M741 816h2M668 892h2M665 852h2M684 826h2M681 864h2M726 794h2M668 865h2M624 908h2" stroke="#ec1515" stroke-width="1.7" opacity="0.85"/>
<ellipse cx="333" cy="437" rx="9" ry="4" transform="rotate(-35 333 437)" fill="#e8100f" opacity="0.9" filter="url(#bl2)"/>
</g>
<rect x="297.9" y="370.5" width="105.3" height="104.8" fill="none" stroke="#555" stroke-width="1"/>
<line x1="349.1" y1="370.5" x2="349.1" y2="475.3" stroke="#555" stroke-width="1"/>
<line x1="297.9" y1="408.2" x2="403.2" y2="408.2" stroke="#555" stroke-width="1"/>
<path d="M300 475.3v1.2M297.9 372.6h-1.2M302.1 475.3v1.2M297.9 374.7h-1.2M304.2 475.3v1.2M297.9 376.8h-1.2M306.3 475.3v1.2M297.9 378.9h-1.2M308.4 475.3v1.2M297.9 381h-1.2M310.5 475.3v1.2M297.9 383.1h-1.2M312.6 475.3v1.2M297.9 385.2h-1.2M314.7 475.3v1.2M297.9 387.3h-1.2M316.9 475.3v1.2M297.9 389.4h-1.2M319 475.3v2M297.9 391.5h-2M321.1 475.3v1.2M297.9 393.6h-1.2M323.2 475.3v1.2M297.9 395.7h-1.2M325.3 475.3v1.2M297.9 397.7h-1.2M327.4 475.3v1.2M297.9 399.8h-1.2M329.5 475.3v1.2M297.9 401.9h-1.2M331.6 475.3v1.2M297.9 404h-1.2M333.7 475.3v1.2M297.9 406.1h-1.2M335.8 475.3v1.2M297.9 408.2h-1.2M337.9 475.3v1.2M297.9 410.3h-1.2M340 475.3v2M297.9 412.4h-2M342.1 475.3v1.2M297.9 414.5h-1.2M344.2 475.3v1.2M297.9 416.6h-1.2M346.3 475.3v1.2M297.9 418.7h-1.2M348.4 475.3v1.2M297.9 420.8h-1.2M350.5 475.3v1.2M297.9 422.9h-1.2M352.7 475.3v1.2M297.9 425h-1.2M354.8 475.3v1.2M297.9 427.1h-1.2M356.9 475.3v1.2M297.9 429.2h-1.2M359 475.3v1.2M297.9 431.3h-1.2M361.1 475.3v2M297.9 433.4h-2M363.2 475.3v1.2M297.9 435.5h-1.2M365.3 475.3v1.2M297.9 437.6h-1.2M367.4 475.3v1.2M297.9 439.7h-1.2M369.5 475.3v1.2M297.9 441.8h-1.2M371.6 475.3v1.2M297.9 443.9h-1.2M373.7 475.3v1.2M297.9 446h-1.2M375.8 475.3v1.2M297.9 448.1h-1.2M377.9 475.3v1.2M297.9 450.1h-1.2M380 475.3v1.2M297.9 452.2h-1.2M382.1 475.3v2M297.9 454.3h-2M384.2 475.3v1.2M297.9 456.4h-1.2M386.4 475.3v1.2M297.9 458.5h-1.2M388.5 475.3v1.2M297.9 460.6h-1.2M390.6 475.3v1.2M297.9 462.7h-1.2M392.7 475.3v1.2M297.9 464.8h-1.2M394.8 475.3v1.2M297.9 466.9h-1.2M396.9 475.3v1.2M297.9 469h-1.2M399 475.3v1.2M297.9 471.1h-1.2M401.1 475.3v1.2M297.9 473.2h-1.2" stroke="#666" stroke-width=".5"/>
<text font-size="8.30" text-anchor="start" fill="#222" color="#222" transform="translate(303.1,382.6) scale(1.100,1)" style="stroke:none">0.36%</text>
<text font-size="8.38" text-anchor="end" fill="#222" color="#222" transform="translate(395.9,382.6) scale(1.100,1)" style="stroke:none">3.89%</text>
<text font-size="8.44" text-anchor="start" fill="#222" color="#222" transform="translate(302.6,467.3) scale(1.100,1)" style="stroke:none">91.64%</text>
<text font-size="8.70" text-anchor="end" fill="#222" color="#222" transform="translate(396.4,467.3) scale(1.100,1)" style="stroke:none">4.11%</text>
<text font-size="4.55" text-anchor="middle" fill="#444" color="#444" transform="translate(297.9,483.8) scale(1.100,1)" style="stroke:none">10<tspan font-size="3.4" dy="-1.8">2</tspan></text>
<text font-size="4.55" text-anchor="middle" fill="#444" color="#444" transform="translate(319,483.8) scale(1.100,1)" style="stroke:none">10<tspan font-size="3.4" dy="-1.8">3</tspan></text>
<text font-size="4.55" text-anchor="middle" fill="#444" color="#444" transform="translate(340,483.8) scale(1.100,1)" style="stroke:none">10<tspan font-size="3.4" dy="-1.8">4</tspan></text>
<text font-size="4.55" text-anchor="middle" fill="#444" color="#444" transform="translate(361.1,483.8) scale(1.100,1)" style="stroke:none">10<tspan font-size="3.4" dy="-1.8">5</tspan></text>
<text font-size="4.55" text-anchor="middle" fill="#444" color="#444" transform="translate(382.1,483.8) scale(1.100,1)" style="stroke:none">10<tspan font-size="3.4" dy="-1.8">6</tspan></text>
<text font-size="4.55" text-anchor="middle" fill="#444" color="#444" transform="translate(403.2,483.8) scale(1.100,1)" style="stroke:none">10<tspan font-size="3.4" dy="-1.8">7</tspan></text>
<text font-size="4.55" text-anchor="middle" fill="#444" color="#444" transform="translate(293.9,475.3) rotate(-90) scale(1.100,1)" style="stroke:none">10<tspan font-size="3.4" dy="-1.8">1</tspan></text>
<text font-size="4.55" text-anchor="middle" fill="#444" color="#444" transform="translate(293.9,457.8) rotate(-90) scale(1.100,1)" style="stroke:none">10<tspan font-size="3.4" dy="-1.8">2</tspan></text>
<text font-size="4.55" text-anchor="middle" fill="#444" color="#444" transform="translate(293.9,440.4) rotate(-90) scale(1.100,1)" style="stroke:none">10<tspan font-size="3.4" dy="-1.8">3</tspan></text>
<text font-size="4.55" text-anchor="middle" fill="#444" color="#444" transform="translate(293.9,422.9) rotate(-90) scale(1.100,1)" style="stroke:none">10<tspan font-size="3.4" dy="-1.8">4</tspan></text>
<text font-size="4.55" text-anchor="middle" fill="#444" color="#444" transform="translate(293.9,405.4) rotate(-90) scale(1.100,1)" style="stroke:none">10<tspan font-size="3.4" dy="-1.8">5</tspan></text>
<text font-size="4.55" text-anchor="middle" fill="#444" color="#444" transform="translate(293.9,388) rotate(-90) scale(1.100,1)" style="stroke:none">10<tspan font-size="3.4" dy="-1.8">6</tspan></text>
<text font-size="4.55" text-anchor="middle" fill="#444" color="#444" transform="translate(293.9,370.5) rotate(-90) scale(1.100,1)" style="stroke:none">10<tspan font-size="3.4" dy="-1.8">7</tspan></text>
<clipPath id="c12"><rect x="427.6" y="370.1" width="105" height="105.2"/></clipPath>
<g clip-path="url(#c12)">
<path transform="scale(.5)" d="M943 871h2M892 858h2M920 875h2M914 856h2M915 883h2M898 884h2M930 870h2M932 860h2M922 884h2M912 866h2M895 870h2M936 875h2M933 870h2M931 868h2M937 862h2M938 862h2M890 864h2M916 865h2M897 867h2M924 871h2M933 857h2M929 875h2M930 882h2M912 870h2M922 864h2M920 870h2M918 864h2M912 869h2M894 877h2M901 871h2M902 874h2M913 868h2M908 872h2M943 845h2M929 868h2M911 859h2M947 862h2M936 860h2M909 881h2M932 862h2M918 874h2M905 865h2M922 877h2M935 866h2M943 861h2M917 890h2M913 875h2M930 867h2M926 873h2M928 861h2M923 880h2M932 861h2M919 859h2M897 869h2M946 855h2M886 876h2M910 877h2M940 860h2M920 860h2M939 856h2M926 888h2M905 874h2M920 872h2M932 879h2M930 871h2M900 877h2M900 884h2M922 877h2M912 872h2M923 872h2M917 864h2M912 864h2M902 862h2M900 891h2M905 862h2M938 866h2M921 878h2M950 852h2M946 866h2M939 858h2M951 870h2M879 891h2M940 850h2M926 865h2M922 860h2M933 871h2M918 868h2M892 880h2M899 874h2M913 894h2M924 881h2M920 868h2M933 864h2M959 856h2M945 851h2M906 878h2M901 891h2M930 866h2M949 856h2M902 849h2M887 874h2M887 884h2M938 867h2M891 868h2M898 880h2M937 861h2M922 870h2M931 857h2M906 879h2M930 870h2M923 874h2M927 861h2M952 870h2M916 868h2M905 859h2M899 861h2M910 874h2M916 856h2M915 864h2M904 883h2M904 881h2M892 878h2M910 879h2M925 859h2M934 876h2M946 875h2M919 888h2M910 870h2M893 873h2M896 876h2M894 892h2M938 878h2M941 864h2M929 868h2M885 867h2M916 878h2M897 876h2M912 877h2M931 856h2M904 886h2M938 863h2M935 865h2M928 863h2M934 880h2M948 872h2M925 876h2M912 868h2M920 858h2M920 852h2M951 868h2M924 861h2M909 867h2M891 872h2M907 880h2M947 874h2M894 862h2M947 868h2M940 869h2M929 885h2M937 870h2M904 874h2M945 867h2M936 862h2M931 860h2M920 878h2M949 857h2M916 867h2M917 869h2M936 867h2M921 872h2M889 875h2M952 850h2M911 873h2M937 861h2M906 886h2M878 871h2M902 851h2M948 879h2M893 871h2M918 875h2M918 874h2M928 865h2M924 880h2M925 873h2M921 874h2M949 861h2M910 864h2M936 857h2M934 888h2M928 883h2M920 867h2M928 858h2M878 879h2M908 873h2M956 864h2M895 879h2M884 857h2M955 850h2M882 878h2M918 873h2M917 867h2M935 863h2M908 875h2M913 880h2M921 866h2M914 875h2M937 861h2M883 885h2M909 877h2M911 875h2M914 862h2M897 873h2M919 853h2M878 882h2M957 851h2M913 860h2M902 887h2M892 878h2M909 877h2M948 862h2M918 879h2M911 853h2M943 857h2M930 887h2M938 866h2M948 852h2M888 866h2M923 870h2M914 890h2M935 866h2M908 871h2M925 863h2M976 870h2M932 865h2M893 886h2M911 881h2M925 854h2M921 866h2M916 868h2M922 866h2M937 869h2M918 868h2M914 866h2M918 871h2M911 853h2M920 860h2M926 890h2M933 842h2M892 885h2M903 858h2M889 875h2M906 872h2M915 870h2M911 863h2M937 878h2M905 871h2M954 849h2M902 878h2M936 864h2M940 862h2M924 867h2M926 867h2M948 868h2M949 859h2M905 866h2M914 873h2M914 873h2M925 856h2M899 886h2M914 888h2M912 857h2M898 867h2M962 839h2M877 871h2M927 888h2M936 855h2M951 872h2M910 876h2M927 865h2M911 865h2M927 861h2M937 870h2M893 879h2M919 876h2M917 880h2M937 872h2M928 853h2M922 878h2M938 869h2M920 868h2M892 859h2M919 876h2M915 865h2M920 881h2M909 870h2M929 876h2M927 862h2M909 860h2M919 878h2M923 863h2M900 870h2M935 870h2M931 873h2M943 864h2M927 848h2M931 862h2M923 859h2M913 860h2M917 859h2M938 860h2M922 862h2M917 863h2M907 876h2M906 861h2M919 890h2M940 865h2M927 870h2M934 886h2M948 863h2M889 868h2M924 863h2M928 864h2M931 870h2M910 859h2M914 864h2M905 873h2M941 859h2M912 861h2M927 869h2M928 881h2M928 876h2M916 873h2M908 879h2M944 853h2M908 874h2M923 876h2M874 876h2M931 868h2M904 880h2M923 868h2M917 868h2M928 853h2M863 890h2M879 881h2M922 871h2M903 878h2M914 865h2M914 862h2M948 855h2M920 865h2M924 868h2M916 870h2M924 869h2M939 862h2M921 873h2M920 872h2M926 846h2M922 864h2M890 865h2M899 884h2M941 863h2M917 859h2M961 872h2M924 860h2M917 863h2M897 864h2M903 867h2M926 858h2M930 868h2M941 875h2M964 866h2M914 868h2M967 846h2M925 879h2M922 872h2M954 868h2M924 873h2M928 873h2M931 863h2M923 870h2M917 865h2M932 845h2M919 878h2M924 857h2M909 890h2M933 865h2M922 865h2M925 859h2M924 867h2M927 875h2M890 876h2M925 869h2M922 872h2M939 859h2M927 874h2M921 878h2M912 882h2M929 879h2M943 854h2M939 868h2M922 864h2M927 864h2M922 868h2M922 866h2M898 876h2M865 886h2M919 868h2M913 873h2M929 861h2M908 863h2M901 877h2M923 881h2M892 866h2M922 864h2M925 859h2M942 860h2M930 876h2M899 870h2M905 880h2M889 872h2M912 879h2M949 861h2M955 865h2M897 873h2M905 880h2M929 869h2M905 870h2M900 873h2M944 860h2M946 863h2M917 874h2M899 888h2M923 857h2M931 856h2M939 875h2M934 853h2M917 879h2M930 870h2M964 866h2M914 859h2M906 859h2M907 873h2M898 874h2M912 875h2M897 868h2M922 872h2M915 842h2M912 853h2M915 860h2M902 868h2M928 865h2M929 865h2M915 881h2M952 853h2M918 855h2M918 860h2M943 865h2M926 876h2M919 843h2M951 875h2M925 878h2M925 853h2M896 888h2M939 878h2M953 858h2M934 870h2M934 869h2M913 873h2M889 881h2M911 864h2M927 869h2M924 860h2M909 869h2M917 865h2M902 875h2M908 871h2M897 853h2M923 871h2M919 877h2M923 866h2M941 865h2M909 872h2M911 862h2M932 864h2M911 870h2M958 872h2M939 853h2M894 875h2M923 873h2M925 874h2M905 879h2M920 877h2M926 851h2M923 879h2M941 870h2M911 866h2M930 854h2M933 863h2M941 876h2M918 862h2M910 873h2M874 886h2M921 877h2M949 840h2M898 873h2M893 875h2M950 849h2M901 869h2M933 853h2M928 866h2M913 853h2M919 869h2M901 894h2M919 860h2M924 864h2M915 857h2M934 863h2M912 877h2M903 876h2M929 875h2M944 866h2M926 859h2M879 887h2M931 853h2M877 868h2M897 876h2M931 859h2M898 880h2M910 856h2M909 875h2M920 853h2M906 871h2M940 867h2M947 851h2M917 859h2M941 848h2M915 880h2M914 874h2M908 872h2M963 848h2M921 873h2M937 883h2M908 886h2M936 864h2M924 863h2M946 865h2M917 875h2M889 876h2M900 877h2M919 864h2M915 869h2M924 872h2M942 881h2M940 864h2M922 868h2M937 858h2M933 854h2M892 868h2M932 865h2M890 850h2M928 875h2M908 860h2M919 865h2M925 881h2M915 856h2M927 850h2M935 864h2M929 868h2M915 860h2M923 866h2M876 887h2M905 883h2M938 851h2M914 879h2M920 857h2M885 887h2M923 882h2M908 882h2M917 849h2M924 856h2M895 868h2M916 848h2M924 867h2M943 858h2M933 869h2M931 871h2M941 874h2M933 873h2M937 867h2M922 879h2M921 874h2M900 891h2M930 865h2M919 865h2M912 885h2M913 856h2M901 873h2M945 866h2M908 864h2M930 871h2M922 864h2M893 866h2M918 860h2M914 864h2M920 881h2M938 870h2M917 866h2M952 864h2M927 843h2M948 872h2M899 869h2M929 874h2M922 869h2M917 865h2M948 869h2M923 863h2M911 872h2M912 879h2M919 877h2M894 879h2M924 872h2M906 873h2M922 873h2M929 850h2M941 871h2M914 871h2M986 867h2M938 870h2M908 856h2M917 865h2M915 873h2M910 854h2M926 879h2M922 876h2M928 874h2M922 869h2M897 885h2M900 863h2M910 872h2M921 872h2M911 867h2M917 867h2M916 862h2M932 873h2M930 882h2M907 863h2M890 873h2M907 863h2M902 869h2M896 862h2M920 845h2M927 867h2M956 873h2M908 879h2M902 876h2M906 860h2M928 876h2M929 857h2M907 874h2M907 877h2M932 876h2M933 868h2M952 861h2M906 876h2M936 852h2M924 880h2M920 877h2M939 870h2M910 865h2M913 875h2M899 854h2M935 852h2M923 858h2M911 889h2M947 859h2M921 871h2M915 867h2M925 862h2M920 873h2M920 862h2M930 873h2M925 869h2M934 859h2M922 873h2M919 866h2M901 872h2M904 870h2M925 865h2M919 863h2M928 867h2M920 879h2M922 873h2M944 874h2M930 861h2M918 855h2M939 846h2M908 868h2M904 879h2M934 867h2M944 871h2M922 873h2M918 881h2M913 861h2M917 870h2M896 877h2M896 870h2M888 871h2M931 857h2M925 862h2M940 881h2M914 878h2M939 871h2M918 865h2M919 871h2M910 874h2M896 867h2M903 877h2M945 859h2M947 871h2M886 882h2M934 872h2M950 858h2M936 846h2M934 854h2M948 866h2M913 870h2M950 876h2M932 865h2M930 843h2M931 890h2M904 866h2M901 874h2M911 868h2M926 858h2M914 874h2M931 877h2M929 863h2M915 851h2M884 872h2M938 855h2M921 858h2M935 871h2M908 873h2M927 876h2M971 847h2M941 878h2M917 878h2M937 854h2M925 864h2M908 872h2M919 866h2M897 880h2M905 862h2M931 865h2M909 869h2M919 881h2M903 867h2M938 869h2M895 870h2M909 866h2M896 868h2M914 887h2M957 882h2M977 844h2M938 864h2M945 869h2M894 867h2M919 867h2M941 844h2M908 866h2M940 859h2M938 856h2M941 861h2M920 870h2M931 870h2M912 890h2M931 871h2M901 869h2M916 870h2M931 871h2M933 854h2M921 862h2M951 856h2M882 888h2M905 873h2M917 863h2M915 864h2M941 857h2M941 848h2M906 861h2M928 881h2M925 857h2M934 865h2M897 867h2M921 867h2M911 864h2M916 884h2M904 877h2M898 859h2M935 862h2M911 871h2M918 881h2M906 874h2M897 860h2M916 878h2M879 870h2M910 866h2M909 874h2M905 880h2M909 875h2M926 872h2M911 870h2M930 884h2M940 879h2M905 869h2M914 873h2M921 860h2M887 875h2M904 867h2M902 856h2M901 873h2M911 868h2M922 855h2M927 871h2M929 845h2M918 869h2M925 866h2M940 861h2M928 862h2M898 871h2M952 840h2M942 873h2M955 870h2M938 861h2M904 873h2M905 869h2M917 873h2M919 865h2M926 869h2M914 868h2M935 874h2M927 851h2M924 851h2M933 856h2M912 866h2M952 863h2M894 877h2M920 860h2M918 863h2M949 857h2M928 869h2M908 865h2M925 853h2M930 863h2M955 867h2M909 866h2M919 873h2M905 866h2M919 880h2M907 863h2M901 888h2M895 864h2M918 865h2M926 861h2M895 872h2M949 860h2M910 867h2M918 881h2M892 863h2M937 844h2M903 852h2M924 858h2M898 866h2M913 858h2M932 876h2M919 874h2M923 859h2M951 852h2M916 864h2M921 869h2M944 859h2M913 881h2M927 851h2M910 856h2M925 869h2M936 872h2M930 877h2M919 862h2M890 882h2M934 872h2M920 865h2M914 870h2M915 868h2M916 870h2M893 866h2M921 875h2M902 873h2M924 871h2M895 892h2M914 879h2M936 875h2M917 847h2M926 872h2M922 871h2M909 861h2M929 864h2M916 874h2M914 871h2M909 879h2M937 865h2M922 871h2M915 876h2M935 856h2M931 862h2M940 864h2M906 869h2M922 869h2M901 860h2M947 865h2M930 860h2M959 853h2M925 861h2M937 867h2M954 872h2M902 871h2M916 870h2M926 852h2M933 868h2M942 844h2M939 854h2M884 890h2M906 878h2M952 870h2M892 885h2M926 859h2M898 870h2M933 873h2M914 886h2M917 874h2M954 846h2M925 862h2M921 872h2M909 888h2M918 860h2M940 847h2M926 868h2M947 856h2M931 863h2M926 851h2M893 873h2M932 867h2M887 869h2M927 871h2M917 860h2M931 849h2M924 876h2M929 868h2M924 881h2M948 861h2M940 878h2M886 867h2M952 857h2M893 862h2M906 876h2M887 875h2M911 880h2M917 870h2M914 865h2M919 864h2M920 867h2M928 870h2M912 860h2M934 880h2M929 874h2M907 865h2M897 867h2M926 863h2M904 876h2M934 860h2M931 865h2M945 877h2M934 850h2M914 877h2M916 886h2M889 890h2M937 869h2M924 856h2M918 869h2M893 873h2M905 875h2M876 879h2M962 875h2M938 885h2M911 878h2M942 858h2M946 871h2M924 870h2M916 876h2M934 853h2M939 863h2M940 857h2M928 867h2M938 847h2M929 866h2M922 857h2M920 871h2M901 867h2M909 868h2M947 859h2M933 866h2M921 870h2M891 871h2M907 877h2M892 890h2M912 880h2M909 862h2M931 859h2M916 864h2M914 884h2M948 854h2M944 865h2M915 873h2M894 866h2M904 873h2M909 868h2M918 883h2M924 859h2M917 860h2M921 876h2M887 886h2M902 873h2M932 865h2M946 866h2M936 859h2M926 856h2M893 877h2M910 874h2M916 867h2M887 878h2M944 865h2M918 875h2M929 860h2M905 864h2M904 863h2M923 869h2M927 862h2M903 865h2M928 862h2M923 846h2M934 859h2M896 867h2M923 868h2M953 870h2M910 865h2M917 879h2M908 852h2M928 871h2M934 863h2M939 869h2M904 879h2M916 875h2M912 847h2M909 871h2M897 859h2M940 860h2M918 855h2M942 863h2M937 868h2M908 874h2M903 857h2M911 892h2M904 873h2M906 859h2M908 872h2M921 887h2M901 859h2M923 854h2M923 872h2M874 875h2M898 872h2M919 860h2M916 878h2M928 873h2M910 869h2M912 878h2M900 869h2M894 859h2M913 878h2M937 860h2M945 863h2M914 869h2M917 868h2M934 853h2M907 866h2M935 866h2M892 873h2M900 863h2M952 861h2M914 880h2M913 879h2M911 877h2M889 871h2M914 872h2M904 875h2M926 868h2M918 874h2M918 873h2M905 884h2M917 857h2M907 871h2M936 862h2M891 866h2M916 863h2M925 880h2M918 867h2M917 860h2M923 868h2M920 872h2M944 884h2M945 863h2M886 869h2M926 857h2M930 861h2M883 887h2M907 869h2M904 880h2M927 863h2M936 856h2M930 866h2M903 874h2M888 862h2M889 863h2M924 854h2M944 850h2M910 885h2M921 861h2M893 872h2M941 861h2M940 879h2M943 862h2M942 862h2M923 866h2M925 858h2M957 861h2M904 873h2M923 860h2M919 855h2M911 876h2M919 863h2M906 877h2M944 878h2M958 865h2M929 880h2M918 863h2M908 870h2M930 864h2M918 873h2M938 859h2M920 889h2M916 873h2M927 854h2M923 863h2M886 877h2M945 871h2M926 870h2M918 867h2M922 856h2M905 881h2M899 885h2M918 871h2M912 865h2M905 862h2M920 871h2M930 861h2M908 879h2M941 870h2M920 871h2M939 860h2M946 866h2M904 871h2M908 863h2M939 845h2M927 880h2M919 872h2M895 864h2M911 858h2M908 860h2M912 866h2M908 857h2M919 889h2M879 884h2M893 888h2M906 872h2M923 880h2M926 856h2M931 870h2M941 852h2M944 874h2M926 872h2M930 852h2M921 873h2M916 879h2M956 858h2M905 875h2M893 890h2M952 849h2M894 887h2M931 861h2M900 871h2M925 874h2M871 878h2M905 873h2M934 852h2M908 861h2M903 871h2M936 863h2M915 894h2M940 849h2M907 871h2M930 875h2M902 868h2M910 894h2M935 868h2M925 855h2M936 846h2M909 864h2M906 857h2M918 851h2M936 855h2M906 865h2M901 887h2M887 869h2M907 878h2M926 876h2M912 858h2M889 876h2M922 857h2M919 871h2M927 869h2M891 880h2M935 858h2M921 887h2M922 858h2M909 871h2M892 885h2M933 862h2M946 843h2M942 862h2M904 844h2M939 835h2M906 867h2M911 871h2M937 861h2M913 899h2M922 866h2M916 882h2M911 874h2M925 871h2M912 858h2M935 846h2M932 871h2M947 858h2M896 874h2M903 875h2M916 873h2M916 849h2M926 854h2M920 863h2M904 872h2M893 877h2M932 862h2M913 863h2M914 883h2M920 866h2M931 852h2M901 873h2M928 875h2M908 864h2M936 868h2M911 877h2M940 873h2M889 864h2M927 866h2M924 870h2M927 855h2M906 873h2M932 854h2M916 868h2M933 867h2M912 862h2M888 863h2M913 882h2M907 860h2M931 872h2M903 881h2M948 865h2M913 867h2M924 858h2M900 860h2M942 863h2M921 879h2M934 871h2M897 868h2M911 879h2M946 856h2M935 875h2M914 854h2M954 869h2M896 874h2M917 878h2M912 866h2M915 856h2M926 852h2M912 879h2M906 872h2M926 871h2M918 871h2M893 863h2M930 858h2M913 868h2M899 866h2M901 871h2M945 860h2M894 865h2M926 861h2M930 858h2M910 866h2M901 869h2M931 866h2M936 855h2M931 860h2M921 878h2M915 867h2M925 862h2M921 881h2M906 876h2M937 872h2M932 879h2M906 866h2M927 860h2M930 873h2M909 839h2M918 849h2M889 883h2M913 885h2M939 866h2M939 881h2M927 876h2M896 895h2M887 875h2M907 878h2M912 848h2M944 870h2M919 878h2M897 879h2M947 853h2M892 881h2M966 853h2M937 865h2M908 887h2M946 857h2M906 892h2M936 870h2M905 868h2M894 880h2M919 875h2M911 879h2M903 868h2M938 860h2M914 869h2M912 864h2M907 888h2M927 875h2M919 870h2M922 862h2M902 882h2M920 882h2M926 864h2M928 864h2M945 868h2M915 862h2M893 875h2M925 866h2M890 875h2M905 889h2M933 866h2M906 859h2M924 861h2M893 878h2M936 867h2M924 852h2M942 849h2M908 863h2M900 869h2M913 874h2M949 877h2M935 885h2M913 870h2M916 873h2M909 869h2M922 878h2M937 874h2M918 865h2M954 862h2M914 868h2M923 865h2M935 872h2M920 844h2M922 856h2M927 867h2M922 866h2M938 851h2M954 867h2M927 872h2M918 880h2M928 881h2M916 866h2M925 873h2M929 880h2M940 856h2M934 868h2M916 879h2M917 857h2M933 872h2M909 853h2M912 853h2M947 874h2M913 876h2M924 854h2M922 860h2M889 879h2M915 861h2M929 871h2M914 865h2M923 868h2M932 848h2M912 875h2M894 888h2M907 885h2M900 872h2M909 860h2M937 854h2M929 856h2M904 856h2M905 869h2M904 868h2M921 861h2M931 889h2M896 851h2M915 861h2M939 852h2M905 884h2M940 879h2M889 874h2M951 851h2M913 878h2M925 865h2M921 880h2M880 868h2M904 869h2M889 872h2M912 873h2M907 852h2M921 854h2M912 881h2M909 858h2M920 890h2M903 878h2M916 864h2M915 860h2M928 854h2M943 865h2M944 870h2M927 865h2M946 870h2M935 847h2M937 868h2M941 851h2M898 866h2M895 878h2M934 878h2M882 878h2M904 878h2M948 856h2M930 865h2M951 867h2M882 869h2M937 860h2M904 873h2M915 868h2M931 862h2M895 881h2M922 868h2M932 858h2M928 866h2M902 869h2M949 857h2M916 860h2M936 851h2M928 882h2M911 875h2M922 861h2M882 870h2M889 883h2M907 852h2M895 866h2M944 853h2M887 874h2M918 863h2M920 866h2M932 854h2M917 874h2M900 877h2M912 877h2M906 877h2M910 867h2M935 862h2M931 857h2M945 876h2M904 872h2M925 864h2M956 876h2M929 865h2M945 847h2M901 857h2M919 857h2M915 866h2M926 857h2M878 870h2M913 868h2M920 860h2M930 859h2M902 875h2M943 867h2M912 868h2M914 873h2M933 869h2M916 859h2M928 857h2M902 870h2M932 886h2M904 849h2M914 865h2M943 877h2M923 865h2M916 855h2M927 867h2M897 851h2M891 870h2M921 879h2M893 859h2M905 856h2M933 870h2M920 866h2M903 887h2M960 856h2M898 864h2M957 854h2M903 861h2M904 866h2M897 867h2M927 880h2M966 857h2M923 873h2M936 864h2M937 857h2M932 868h2M923 872h2M913 876h2M938 854h2M913 852h2M901 887h2M888 884h2M930 878h2M918 860h2M907 872h2M874 880h2M917 869h2M924 861h2M929 866h2M939 857h2M878 867h2M890 866h2M879 879h2M925 869h2M909 870h2M889 880h2M944 853h2M935 859h2M908 869h2M903 872h2M937 859h2M916 855h2M904 879h2M916 875h2M919 889h2M932 877h2M924 865h2M916 870h2M892 887h2M925 866h2M923 867h2M948 867h2M898 880h2M896 874h2M897 863h2M922 873h2M920 859h2M904 875h2M931 866h2M920 861h2M896 863h2M905 859h2M918 859h2M965 869h2M933 846h2M911 878h2M886 860h2M931 867h2M898 875h2M924 852h2M932 848h2M942 855h2M901 877h2M928 867h2M922 860h2M954 865h2M925 871h2M951 869h2M902 877h2M910 869h2M916 863h2M920 862h2M956 873h2M905 861h2M916 867h2M918 863h2M911 876h2M927 862h2M926 850h2M908 883h2M924 859h2M908 865h2M935 859h2M942 874h2M948 860h2M932 849h2M921 885h2M918 861h2M909 870h2M916 864h2M909 869h2M944 881h2M887 865h2M948 861h2M917 869h2M936 860h2M932 874h2M917 861h2M926 867h2M909 868h2M905 855h2M912 874h2M931 862h2M872 878h2M931 869h2M904 879h2M935 869h2M906 877h2M962 861h2M916 882h2M886 862h2M908 879h2M934 868h2M926 863h2M912 871h2M922 875h2M915 876h2M932 866h2M865 878h2M929 870h2M929 870h2M948 857h2M928 868h2M919 870h2M895 875h2M902 870h2M915 871h2M922 873h2M899 861h2M908 870h2M915 874h2M909 882h2M898 861h2M901 880h2M900 872h2M930 860h2M936 857h2M882 884h2M937 858h2M930 868h2M939 855h2M928 867h2M960 866h2M908 885h2M943 872h2M909 861h2M958 875h2M926 857h2M941 871h2M929 858h2M918 879h2M926 859h2M924 866h2M906 872h2M909 882h2M908 858h2M930 881h2M924 871h2M941 869h2M927 878h2M906 860h2M899 875h2M906 885h2M931 871h2M893 873h2M926 874h2M920 870h2M914 851h2M920 859h2M912 855h2M915 868h2M897 852h2M918 867h2M931 871h2M907 876h2M939 862h2M921 871h2M941 867h2M952 864h2M922 843h2M915 873h2M905 870h2M890 874h2M908 859h2M907 853h2M926 889h2M917 863h2M924 876h2M913 872h2M954 870h2M917 874h2M913 868h2M935 851h2M924 857h2M902 863h2M910 862h2M912 851h2M925 867h2M911 860h2M930 880h2M917 870h2M913 875h2M895 868h2M937 867h2M909 860h2M936 860h2M948 855h2M922 874h2M933 867h2M958 843h2M934 868h2M912 867h2M929 863h2M905 856h2M939 887h2M914 865h2M929 876h2M914 861h2M879 878h2M954 858h2M920 880h2M947 877h2M921 891h2M898 880h2M929 871h2M913 879h2M913 881h2M941 856h2M911 868h2M895 871h2M918 861h2M950 871h2M909 868h2M929 892h2M925 860h2M930 856h2M917 874h2M903 879h2M902 865h2M934 864h2M929 879h2M919 874h2M942 875h2M891 880h2M899 896h2M949 855h2M920 874h2M907 882h2M905 863h2M923 876h2M887 869h2M903 878h2M906 862h2M930 857h2M906 866h2M906 873h2M920 860h2M933 858h2M921 868h2M895 859h2M925 864h2M904 869h2M935 857h2M913 863h2M921 869h2M952 877h2M948 855h2M921 862h2M926 879h2M934 863h2M921 874h2M929 876h2M925 864h2M959 854h2M926 856h2M919 863h2M932 861h2M895 880h2M915 874h2M927 877h2M909 869h2M917 865h2M944 860h2M921 864h2M953 861h2M914 872h2M939 867h2M915 869h2M915 856h2M932 866h2M892 885h2M907 855h2M894 869h2M929 859h2M928 859h2M921 846h2M913 863h2M968 868h2M941 872h2M923 861h2M929 856h2M925 858h2M905 865h2M929 859h2M920 874h2M904 865h2M926 863h2M929 878h2M922 881h2M920 870h2M941 862h2M915 858h2M936 867h2M931 877h2M924 863h2M944 875h2M975 855h2M908 868h2M943 873h2M900 868h2M947 869h2M910 893h2M942 857h2M937 858h2M925 855h2M930 878h2M969 871h2M909 881h2M897 887h2M929 868h2M951 865h2M913 885h2M931 879h2M924 882h2M909 886h2M925 857h2M940 866h2M932 882h2M942 851h2M918 872h2M969 865h2M923 869h2M905 886h2M902 862h2M944 864h2M914 890h2M881 858h2M892 888h2M937 864h2M914 880h2M901 867h2M904 878h2M926 870h2M947 857h2M905 861h2M925 871h2M898 879h2M913 873h2M930 846h2M915 858h2M932 867h2M935 863h2M895 880h2M916 867h2M947 870h2M908 862h2M948 876h2M900 864h2M916 868h2M933 878h2M932 865h2M931 874h2M929 872h2M938 869h2M911 866h2M888 870h2M893 886h2M927 873h2M912 875h2M944 874h2M900 882h2M903 863h2M921 877h2M920 862h2M955 862h2M953 863h2M912 877h2M930 888h2M931 859h2M897 862h2M931 867h2M924 869h2M877 867h2M953 868h2M951 856h2M943 867h2M904 886h2M905 878h2M927 873h2M933 864h2M905 879h2M896 878h2M896 871h2M889 870h2M907 868h2M898 883h2M900 869h2M936 861h2M937 854h2M911 874h2M927 877h2M935 879h2M910 877h2M911 878h2M914 874h2M922 880h2M931 868h2M925 869h2M945 854h2M920 877h2M904 866h2M902 869h2M917 867h2M896 868h2M919 884h2M954 863h2M940 859h2M907 875h2M944 859h2M914 882h2M928 867h2M902 869h2M935 858h2M905 873h2M944 852h2M913 877h2M925 859h2M920 869h2M925 870h2M905 861h2M910 893h2M879 861h2M928 876h2M956 874h2M953 852h2M967 879h2M930 863h2M952 838h2M918 866h2M922 866h2M865 882h2M949 851h2M923 873h2M929 828h2M912 894h2M962 843h2M940 857h2M928 843h2M916 858h2M919 887h2M929 888h2M952 841h2M912 872h2M908 891h2M918 853h2M899 873h2M977 852h2M875 892h2M943 848h2M942 868h2M946 853h2M903 854h2M974 873h2M935 845h2M960 885h2M924 874h2M914 900h2M954 862h2M959 874h2M900 874h2M909 875h2M875 864h2M955 863h2M958 862h2M965 866h2M934 859h2M936 839h2M911 878h2M929 872h2M918 869h2M978 836h2M917 901h2M910 891h2M963 876h2M983 866h2M923 844h2M894 888h2M988 849h2M946 868h2M871 843h2M936 854h2M922 842h2M937 879h2M936 878h2M912 875h2M957 870h2M921 842h2M854 885h2M895 881h2M942 854h2M924 885h2M944 855h2M914 872h2M923 867h2M916 871h2M887 881h2M889 854h2M983 846h2M941 821h2M901 860h2M919 851h2M961 835h2M913 875h2M992 855h2M971 881h2M901 871h2M937 849h2M906 869h2M917 847h2M886 871h2M911 863h2M908 850h2M883 897h2M940 878h2M911 879h2M947 876h2M957 846h2M987 854h2M917 872h2M938 865h2M961 854h2M888 862h2M908 873h2M939 875h2M887 898h2M936 850h2M901 876h2M934 867h2M926 861h2M954 870h2M904 863h2M912 868h2M915 867h2M939 880h2M939 859h2M970 843h2M918 869h2M949 862h2M914 863h2M970 875h2M937 866h2M932 859h2M893 881h2M912 888h2M902 857h2M944 863h2M914 887h2M1004 836h2M907 892h2M918 840h2M951 854h2M933 854h2M933 872h2M944 882h2M913 865h2M934 841h2M925 869h2M924 857h2M933 873h2M972 877h2M907 885h2M928 879h2M973 846h2M930 862h2M957 859h2M890 864h2M920 875h2M919 865h2M934 858h2M921 867h2M974 855h2M969 855h2M967 855h2M927 888h2M906 891h2M915 883h2M935 856h2M912 862h2M913 867h2M947 833h2M950 872h2M963 866h2M911 864h2M902 886h2M918 878h2M937 880h2M941 833h2M934 854h2M911 884h2M945 839h2M918 842h2M934 845h2M885 872h2M900 873h2M898 847h2M945 852h2M922 873h2M868 886h2M926 865h2M914 867h2M923 899h2M897 870h2M936 894h2M981 836h2M962 871h2M924 852h2M914 881h2M891 904h2M928 857h2M881 863h2M932 869h2M901 879h2M932 874h2M975 871h2M945 839h2M925 863h2M930 853h2M928 872h2M941 868h2M975 863h2M879 865h2M936 860h2M934 861h2M967 841h2M889 860h2M864 896h2M919 886h2M940 849h2M955 848h2M922 881h2M963 853h2M891 856h2M911 850h2M893 859h2M931 877h2M920 891h2M918 844h2M940 851h2M908 861h2M899 856h2M904 843h2M929 848h2M923 862h2M896 876h2M974 829h2M961 876h2M909 859h2M935 830h2M926 881h2M898 879h2M935 894h2M884 880h2M900 883h2M988 843h2M871 858h2M918 879h2M933 856h2M954 854h2M912 867h2M926 850h2M921 867h2M988 843h2M976 882h2M879 877h2M957 867h2M929 873h2M899 877h2M911 870h2M967 860h2M928 874h2M906 874h2M945 852h2M915 855h2M866 897h2M880 900h2M938 849h2M945 838h2M949 884h2M961 871h2M904 856h2M894 880h2M922 847h2M939 855h2M948 866h2M963 853h2M941 847h2M891 894h2M906 850h2M929 868h2M921 857h2M908 867h2M910 866h2M952 869h2M927 861h2M879 858h2M915 845h2M970 844h2M906 886h2M900 860h2M947 857h2M919 843h2M951 848h2M902 881h2M945 850h2M920 848h2M897 875h2M957 853h2M939 847h2M928 864h2M929 860h2M944 866h2M904 846h2M914 863h2M939 866h2M913 857h2M919 868h2M916 849h2M881 895h2M903 877h2M888 865h2M929 858h2M917 881h2M959 877h2M913 869h2M935 860h2M902 873h2M920 849h2M915 866h2M912 842h2M912 903h2M972 837h2M923 869h2M920 872h2M930 850h2M927 865h2M898 872h2M939 840h2M948 833h2M933 852h2M917 873h2M904 868h2M918 882h2M907 870h2M912 853h2M917 879h2M964 857h2M922 855h2M953 828h2M936 860h2M949 861h2M928 862h2M918 851h2M929 857h2M944 852h2M943 869h2M944 876h2M906 867h2M909 855h2M898 866h2M939 875h2M945 867h2M905 882h2M858 857h2M930 855h2M944 865h2M965 830h2M935 850h2M973 841h2M885 863h2M909 884h2M941 872h2M942 870h2M945 857h2M925 855h2M900 918h2M885 872h2M880 854h2M924 881h2M885 889h2M925 827h2M935 881h2M907 871h2M974 859h2M862 882h2M922 876h2M900 877h2M940 865h2M898 858h2M915 875h2M940 880h2M945 860h2M900 870h2M910 877h2M951 866h2M929 844h2M898 874h2M924 884h2M943 846h2M882 863h2M998 791h2M1008 787h2M1001 793h2M1004 777h2M1005 791h2M997 779h2M989 780h2M987 793h2M994 781h2M1026 784h2M998 777h2M1011 789h2M940 799h2M1030 769h2M980 784h2M987 784h2M1000 781h2M992 792h2M996 783h2M1015 785h2M987 790h2M973 778h2M1048 779h2M992 799h2M996 795h2M994 806h2M988 787h2M991 789h2M1058 773h2M987 791h2M982 790h2M1026 787h2M978 789h2M971 798h2M996 782h2M988 787h2M977 790h2M948 800h2M1013 784h2M1012 778h2M1008 770h2M973 785h2M1036 786h2M962 803h2M1001 786h2M1022 764h2M990 790h2M1010 790h2M1064 775h2M1032 794h2M981 792h2M991 794h2M1016 781h2M962 783h2M992 781h2M985 793h2M968 774h2M1040 796h2M993 782h2M1002 779h2M1003 786h2M1051 778h2M992 796h2M989 789h2M1029 791h2M1045 778h2M989 789h2M961 791h2M990 790h2M1000 786h2M965 781h2M1031 783h2M971 786h2M1022 787h2M1024 774h2M961 791h2M1023 783h2M1074 768h2M1008 784h2M999 787h2M1042 781h2M1004 783h2M983 776h2M1013 783h2M968 799h2M994 792h2M1009 788h2M989 784h2M1000 782h2M1018 788h2M975 788h2M984 796h2M1002 783h2M1016 791h2M982 807h2M966 797h2M1038 792h2M1048 765h2M1012 788h2M1005 782h2M988 785h2M990 788h2M1008 785h2M1003 793h2M1045 796h2M999 789h2M975 801h2M991 790h2M955 793h2M1053 776h2M1037 777h2M1023 778h2M963 785h2M1033 777h2M998 788h2M1001 766h2M990 782h2M1003 777h2M961 790h2M1009 783h2M988 774h2M991 786h2M982 792h2M1053 784h2M1019 782h2M1013 779h2M1024 791h2M972 800h2M982 787h2M982 790h2M995 783h2M999 792h2M998 787h2M990 784h2M1027 773h2M1016 768h2M1002 787h2M988 773h2M1013 793h2M978 790h2M1003 792h2M999 791h2M997 796h2M1018 784h2M996 785h2M1028 780h2M999 790h2M995 790h2M999 782h2M1019 782h2M1002 778h2M1020 786h2M1027 782h2M1051 774h2M991 794h2M962 784h2M1011 785h2M985 781h2M986 795h2M1000 785h2M1041 765h2M1039 778h2M996 800h2M1020 774h2M976 780h2M1015 779h2M1012 780h2M1003 781h2M1033 785h2M1001 777h2M1029 795h2M995 783h2M980 788h2M987 804h2M1010 787h2M976 787h2M1005 781h2M986 785h2M992 793h2M967 780h2M978 787h2M985 782h2M986 788h2M1027 793h2M969 800h2M996 784h2M995 791h2M1008 794h2M992 784h2M1017 777h2M962 793h2M972 799h2M1021 779h2M1006 782h2M1030 784h2M1046 768h2M972 793h2M1010 784h2M1027 785h2M1001 784h2M984 791h2M1030 774h2M991 796h2M1006 778h2M1025 790h2M1005 793h2M983 776h2M1014 795h2M985 786h2M974 781h2M981 794h2M1019 775h2M1024 775h2M988 791h2M996 778h2M997 784h2M990 802h2M962 800h2M997 781h2M1030 781h2M983 796h2M1039 784h2M984 784h2M1003 768h2M1003 776h2M970 787h2M982 793h2M1022 784h2M1026 789h2M970 788h2M998 786h2M1010 786h2M997 789h2M998 787h2M989 783h2M1005 792h2M989 790h2M982 787h2M991 775h2M968 795h2M960 796h2M1030 781h2M1017 778h2M1022 769h2M996 775h2M995 784h2M1021 781h2M986 783h2M1043 785h2M1029 794h2M998 787h2M975 801h2M1000 789h2M973 794h2M1020 779h2M1007 780h2M989 776h2M1031 775h2M1030 770h2M1005 781h2M991 796h2M1002 780h2M967 792h2M974 778h2M982 779h2M1008 789h2M978 792h2M1003 791h2M986 792h2M1000 791h2M987 784h2M994 799h2M1001 777h2M1016 774h2M974 795h2M996 780h2M1019 777h2M1001 778h2M986 793h2M996 785h2M989 784h2M1019 788h2M1034 767h2M1038 773h2M1026 787h2M1015 790h2M986 784h2M1028 780h2M1015 779h2M951 787h2M992 786h2M969 793h2M997 786h2M985 791h2M1028 788h2M1012 782h2M1009 786h2M1022 783h2M1009 781h2M1014 792h2M1000 796h2M981 796h2M1024 788h2M1014 764h2M1020 781h2M979 805h2M980 782h2M1001 776h2M1021 777h2M1038 781h2M994 789h2M1016 773h2M992 784h2M975 790h2M989 773h2M1004 795h2M963 782h2M995 801h2M1030 779h2M984 790h2M1000 788h2M1010 790h2M996 789h2M988 784h2M1016 781h2M990 788h2M1008 789h2M975 782h2M1021 792h2M1025 796h2M962 795h2M990 779h2M983 785h2M995 786h2M994 790h2M1016 780h2M994 786h2M990 793h2M989 778h2M1000 790h2M992 799h2M996 784h2M982 782h2M974 779h2M1024 792h2M1033 795h2M980 781h2M1008 784h2M1017 795h2M995 783h2M992 792h2M980 799h2M1041 791h2M1027 782h2M992 789h2M976 790h2M1019 779h2M982 782h2M1057 783h2M987 797h2M1011 783h2M989 786h2M991 795h2M960 792h2M1028 782h2M997 787h2M996 797h2M1014 782h2M988 786h2M1040 763h2M974 795h2M968 781h2M1015 797h2M1029 775h2M970 781h2M1053 779h2M990 791h2M1000 783h2M989 794h2M1025 787h2M980 784h2M1020 773h2M987 789h2M1026 779h2M997 780h2M1002 792h2M1018 774h2M978 779h2M974 798h2M974 791h2M1032 788h2M1011 796h2M974 795h2M984 786h2M941 786h2M977 797h2M1027 784h2M1003 790h2M1038 784h2M986 785h2M972 792h2M1029 776h2M974 797h2M957 787h2M955 786h2M999 785h2M973 796h2M973 789h2M1002 784h2M999 784h2M962 804h2M1008 787h2M1045 783h2M1036 784h2M961 795h2M1032 792h2M980 805h2M979 789h2M977 779h2M983 784h2M998 793h2M983 793h2M969 798h2M980 797h2M1031 779h2M991 785h2M1032 787h2M1009 785h2M967 788h2M1030 792h2M1015 790h2M967 795h2M984 790h2M983 788h2M973 786h2M1011 792h2M1027 776h2M1021 777h2M1011 784h2M993 775h2M994 777h2M979 785h2M1041 793h2M981 796h2M986 803h2M1025 779h2M989 797h2M991 801h2M1025 788h2M1019 781h2M1017 778h2M1040 783h2M1009 793h2M999 773h2M1030 783h2M1010 788h2M962 790h2M994 782h2M1003 794h2M992 801h2M1006 788h2M1036 797h2M995 783h2M1021 791h2M1038 768h2M1046 779h2M993 797h2M1001 782h2M1019 779h2M1034 775h2M1012 782h2M1003 785h2M1031 784h2M991 781h2M989 787h2M1000 786h2M1030 781h2M993 811h2M958 791h2M1018 782h2M1002 781h2M996 780h2M984 792h2M952 798h2M998 783h2M1010 790h2M991 788h2M1005 789h2M1056 780h2M1018 783h2M983 788h2M996 792h2M988 793h2M1055 782h2M1022 785h2M993 796h2M1029 778h2M1030 774h2M944 795h2M1013 790h2M1008 798h2M984 793h2M1047 790h2M1008 803h2M1030 785h2M1000 771h2M968 790h2M1004 782h2M1012 781h2M985 797h2M1005 789h2M1008 788h2M1014 790h2M987 786h2M1005 777h2M1004 791h2M998 786h2M1005 781h2M1006 785h2M962 795h2M990 790h2M976 777h2M1024 782h2M958 794h2M977 782h2M1008 782h2M1008 779h2M995 779h2M981 781h2M980 787h2M1015 795h2M983 786h2M1005 796h2M994 781h2M1011 785h2M1004 789h2M961 796h2M981 799h2M1024 763h2M1008 781h2M1004 784h2M1033 788h2M996 781h2M1013 779h2M1064 764h2M1085 762h2M998 786h2M992 791h2M991 801h2M964 790h2M969 793h2M955 788h2M1016 783h2M986 796h2M1026 786h2M1018 788h2M1005 792h2M1014 773h2M970 791h2M1012 774h2M1000 777h2M978 780h2M1050 776h2M984 809h2M1021 776h2M1014 787h2M1005 795h2M1025 775h2M994 795h2M990 782h2M988 779h2M1010 785h2M999 789h2M1003 793h2M1020 781h2M1010 790h2M977 783h2M1009 781h2M974 785h2M1030 779h2M990 787h2M974 786h2M989 797h2M987 794h2M1027 788h2M1004 777h2M1028 776h2M978 783h2M1031 776h2M957 786h2M929 799h2M978 786h2M997 789h2M1026 775h2M971 775h2M1009 772h2M990 789h2M1025 783h2M981 787h2M994 790h2M1011 781h2M1040 783h2M1004 792h2M966 801h2M1003 784h2M985 792h2M1030 787h2M1015 775h2M1008 777h2M982 802h2M970 781h2M997 785h2M1003 784h2M1007 788h2M984 786h2M993 788h2M1014 786h2M994 782h2M977 779h2M978 792h2M1030 795h2M1003 773h2M1029 793h2M1018 783h2M1080 768h2M1000 780h2M1032 781h2M1020 784h2M988 791h2M1013 789h2M1046 770h2M1037 785h2M986 786h2M1011 788h2M971 793h2M984 776h2M991 783h2M980 783h2M997 786h2M1022 782h2M1024 773h2M1070 774h2M968 788h2M969 802h2M1059 769h2M981 787h2M989 793h2M1012 772h2M1027 786h2M1011 772h2M1036 778h2M988 789h2M957 782h2M1015 780h2M1006 781h2M997 785h2M970 795h2M973 778h2M962 781h2M1030 772h2M977 783h2M994 802h2M1000 776h2M1032 799h2M986 777h2M1031 787h2M1007 790h2M997 780h2M999 782h2M1001 798h2M972 794h2M1004 796h2M992 792h2M962 783h2M998 783h2M980 797h2M1040 775h2M992 798h2M996 802h2M1001 787h2M946 793h2M1000 764h2M962 786h2M1019 782h2M1012 777h2M1019 782h2M1014 777h2M992 783h2M987 795h2M1000 789h2M947 797h2M1018 778h2M971 780h2M1001 784h2M1009 782h2M1071 782h2M984 785h2M990 779h2M975 793h2M1007 776h2M1027 782h2M1039 783h2M1021 781h2M955 798h2M1025 779h2M1012 780h2M986 781h2M995 785h2M976 790h2M1015 778h2M985 789h2M1051 788h2M1016 790h2M995 792h2M986 788h2M985 787h2M1004 785h2M976 794h2M1002 782h2M1036 770h2M955 803h2M1013 778h2M1037 781h2M1004 791h2M987 787h2M1024 785h2M1031 770h2M981 778h2M1009 784h2M1009 788h2M992 787h2M1002 789h2M1028 773h2M994 782h2M1049 776h2M1015 770h2M999 788h2M979 791h2M990 788h2M980 785h2M1033 786h2M1008 793h2M1000 782h2M998 786h2M978 785h2M1032 796h2M1043 779h2M1029 787h2M1006 787h2M1021 782h2M997 788h2M1007 790h2M987 784h2M1049 784h2M979 784h2M994 783h2M994 786h2M995 789h2M987 786h2M1028 786h2M986 783h2M1058 778h2M1008 788h2M1022 788h2M1026 780h2M974 782h2M1034 777h2M1016 773h2M986 800h2M1014 790h2M991 788h2M1008 787h2M1032 773h2M1018 788h2M978 787h2M1009 779h2M994 796h2M996 799h2M1005 783h2M1024 779h2M1003 783h2M1032 788h2M990 781h2M977 794h2M992 791h2M986 782h2M953 793h2M1008 784h2M1005 780h2M988 780h2M1010 790h2M1016 792h2M995 791h2M1032 783h2M979 792h2M999 776h2M1028 790h2M989 774h2M1029 775h2M1011 775h2M993 801h2M972 790h2M977 786h2M1001 798h2M982 787h2M998 783h2M988 783h2M1007 790h2M1003 794h2M997 779h2M989 783h2M1009 781h2M987 786h2M966 782h2M1018 780h2M1023 795h2M992 793h2M1002 784h2M1006 778h2M1017 789h2M985 800h2M996 799h2M987 777h2M983 778h2M1004 787h2M964 798h2M982 791h2M1028 770h2M1002 785h2M1004 779h2M978 794h2M1015 785h2M983 783h2M1004 795h2M1000 793h2M989 789h2M991 783h2M1012 779h2M991 786h2M960 794h2M1010 780h2M983 787h2M958 811h2M1015 784h2M1007 780h2M997 786h2M993 790h2M1019 782h2M995 777h2M963 803h2M977 797h2M1033 773h2M976 779h2M994 776h2M991 802h2M1003 798h2M1037 770h2M1025 784h2M987 784h2M1001 786h2M1005 784h2M1021 796h2M1008 780h2M1001 794h2M1001 785h2M1018 795h2M999 783h2M995 786h2M967 801h2M978 784h2M1012 792h2M980 791h2M999 787h2M984 796h2M1018 788h2M1041 771h2M1010 779h2M978 791h2M982 797h2M1049 772h2M996 784h2M967 797h2M993 792h2M1008 793h2M978 789h2M953 803h2M983 783h2M996 797h2M984 796h2M1015 777h2M995 794h2M1016 799h2M991 793h2M1008 788h2M1004 785h2M947 787h2M975 794h2M1017 779h2M1046 783h2M1003 786h2M1041 772h2M1014 786h2M1020 786h2M968 796h2M987 788h2M994 790h2M987 789h2M1014 786h2M985 792h2M995 790h2M1030 778h2M995 793h2M992 786h2M984 783h2M1016 782h2M992 795h2M1002 785h2M952 793h2M996 795h2M995 774h2M995 786h2M1013 773h2M1003 791h2M1026 785h2M1028 778h2M993 781h2M975 794h2M1018 789h2M950 788h2M975 796h2M1019 773h2M998 793h2M1014 779h2M980 796h2M1004 791h2M1008 787h2M1042 788h2M1027 775h2M998 786h2M985 796h2M990 788h2M970 796h2M992 782h2M1018 774h2M1013 776h2M942 780h2M1011 778h2M979 792h2M982 794h2M1023 783h2M1001 785h2M1012 789h2M999 789h2M1033 777h2M995 790h2M1041 779h2M1058 784h2M999 789h2M970 782h2M1028 783h2M988 779h2M1017 776h2M973 780h2M964 782h2M1000 786h2M1016 780h2M1007 787h2M1015 787h2M1014 775h2M990 804h2M1008 781h2M968 788h2M1014 791h2M996 787h2M970 787h2M1004 788h2M1011 792h2M1011 791h2M1002 786h2M1035 794h2M997 779h2M994 780h2M1036 776h2M970 790h2M990 796h2M1018 786h2M1007 791h2M987 780h2M996 785h2M968 803h2M1020 787h2M996 786h2M970 803h2M982 794h2M974 791h2M1013 789h2M1020 784h2M976 781h2M1067 771h2M994 783h2M1036 787h2M1011 790h2M977 790h2M988 800h2M999 795h2M988 783h2M1029 778h2M1009 796h2M1008 794h2M1033 779h2M1022 792h2M1008 781h2M1007 772h2M983 777h2M996 795h2M1000 785h2M961 798h2M1041 778h2M1006 796h2M1000 792h2M990 789h2M1023 790h2M990 788h2M986 780h2M1014 787h2M1020 787h2M1023 772h2M1000 789h2M1031 793h2M1026 784h2M977 799h2M1045 772h2M979 805h2M972 778h2M1010 787h2M973 786h2M959 796h2M1018 779h2M1033 790h2M989 799h2M1023 784h2M1040 769h2M1023 790h2M1000 779h2M988 782h2M1002 782h2M1012 780h2M981 794h2M993 793h2M1044 788h2M993 783h2M999 799h2M983 793h2M994 784h2M1009 779h2M1032 777h2M998 780h2M1002 797h2M993 788h2M1007 785h2M990 796h2M1018 793h2M1050 777h2M995 791h2M983 789h2M975 789h2M1038 793h2M1010 761h2M992 786h2M1012 795h2M1019 790h2M988 781h2M1006 793h2M1018 792h2M1000 787h2M1015 792h2M990 777h2M1023 786h2M995 796h2M993 770h2M1013 789h2M966 788h2M1020 783h2M1005 769h2M956 791h2M1019 795h2M997 784h2M1010 793h2M1014 779h2M1014 780h2M1039 762h2M1014 786h2M958 790h2M1018 780h2M1020 771h2M958 794h2M964 786h2M972 797h2M980 789h2M973 793h2M976 803h2M1014 782h2M1042 789h2M985 791h2M943 807h2M1033 783h2M962 788h2M971 785h2M977 792h2M1005 790h2M984 787h2M1010 778h2M1022 786h2M992 785h2M975 791h2M990 800h2M1022 790h2M1007 778h2M1044 773h2M1014 786h2M999 783h2M1003 783h2M1016 794h2M994 781h2M991 789h2M995 778h2M980 784h2M1014 787h2M974 787h2M1016 790h2M1007 778h2M1002 782h2M1023 776h2M1021 790h2M1014 780h2M1032 780h2M1037 766h2M998 789h2M988 783h2M991 781h2M990 782h2M1015 775h2M999 786h2M1011 780h2M993 802h2M1036 775h2M975 793h2M980 792h2M972 787h2M1004 793h2M1001 791h2M1020 787h2M1002 779h2M1006 775h2M1011 788h2M1011 794h2M1002 784h2M1009 786h2M975 797h2M1002 786h2M1002 777h2M1030 781h2M982 792h2M987 786h2M964 797h2M981 795h2M989 784h2M1000 796h2M1000 786h2M1029 771h2M952 790h2M1001 773h2M973 794h2M1025 794h2M1054 783h2M1014 774h2M1018 783h2M995 779h2M972 792h2M1024 772h2M983 785h2M972 794h2M1016 795h2M993 792h2M1006 788h2M1015 776h2M983 790h2M964 790h2M1021 786h2M1006 798h2M1012 786h2M1008 785h2M974 797h2M1003 789h2M1026 768h2M1021 782h2M1015 792h2M959 789h2M951 785h2M1000 799h2M1028 780h2M1007 802h2M973 845h2M988 801h2M1009 788h2M1014 794h2M972 802h2M977 847h2M990 788h2M1004 813h2M948 801h2M977 812h2M1000 794h2M958 852h2M974 828h2M968 820h2M932 889h2M1016 840h2M961 835h2M940 850h2M967 823h2M964 773h2M1020 789h2M990 804h2M965 810h2M977 887h2M1034 817h2M984 820h2M975 815h2M1006 818h2M1023 793h2M999 804h2M999 801h2M1018 840h2M985 815h2M955 889h2M946 835h2M935 891h2M988 842h2M941 870h2M949 835h2M1002 842h2M1003 830h2M936 863h2M973 808h2M953 879h2M969 861h2M962 862h2M1043 809h2M978 804h2M975 782h2M1056 789h2M995 819h2M981 836h2M1002 765h2M995 799h2M975 905h2M952 842h2M981 841h2M948 904h2M977 822h2M972 846h2M989 803h2M971 816h2M965 886h2M988 833h2M978 839h2M945 873h2M1014 820h2M996 799h2M984 865h2M973 826h2M959 871h2M963 837h2M1005 838h2M987 796h2M1021 787h2M972 849h2M946 820h2M991 833h2M1021 808h2M1048 753h2M971 841h2M985 838h2M978 836h2M982 843h2M950 836h2M977 841h2M980 835h2M981 851h2M967 808h2M983 803h2M984 827h2M977 827h2M991 783h2M966 833h2M1020 838h2M972 868h2M978 823h2M989 815h2M920 845h2M992 826h2M960 884h2M968 840h2M944 858h2M1009 779h2M984 798h2M1005 790h2M943 852h2M953 872h2M971 809h2M1020 800h2M984 803h2M976 843h2M990 832h2M996 793h2M1007 794h2M1039 802h2M946 856h2M982 856h2M959 827h2M1011 779h2M976 870h2M982 835h2M996 832h2M991 859h2M944 831h2M944 832h2M968 851h2M1004 843h2M971 836h2M980 851h2M986 864h2M980 805h2M995 813h2M1023 824h2M1005 820h2M1013 815h2M983 839h2M1005 792h2M974 826h2M994 828h2M918 881h2M978 816h2M970 836h2M1004 846h2M973 826h2M993 793h2M965 821h2M970 796h2M1016 836h2M1006 791h2M923 913h2M924 859h2M1002 792h2M986 780h2M962 863h2M984 822h2M983 830h2M966 860h2M982 854h2M1002 835h2M963 873h2M965 864h2M987 793h2M1007 847h2M935 885h2M998 853h2M964 873h2M1010 817h2M1001 809h2M972 830h2M980 867h2M943 839h2M968 852h2M978 849h2M977 830h2M989 854h2M975 834h2M968 800h2M978 874h2M1033 805h2M1000 841h2M936 880h2M1019 787h2M955 868h2M978 883h2M966 828h2M943 879h2M1025 783h2M1017 804h2M1013 816h2M940 843h2M969 850h2M1010 834h2M1013 798h2M966 858h2M1070 771h2M1015 780h2M978 812h2M951 819h2M1013 828h2M960 832h2M992 828h2M1004 827h2M962 847h2M921 846h2M974 849h2M978 856h2M978 879h2M973 878h2M965 872h2M947 816h2M1000 849h2M982 811h2M985 845h2M1026 799h2M988 852h2M982 810h2M971 807h2M963 871h2M1001 816h2M1054 804h2M979 824h2M966 823h2M973 821h2M996 837h2M971 841h2M973 867h2M980 825h2M965 854h2M969 843h2M1002 823h2M1008 826h2M1004 847h2M987 800h2M1004 811h2M989 809h2M993 798h2M953 841h2M968 846h2M1001 808h2M968 825h2M1006 844h2M999 810h2M959 855h2M1013 856h2M994 792h2M982 840h2M1072 809h2M1018 789h2M1006 826h2M992 821h2M991 867h2M999 829h2M980 834h2M1000 814h2M984 830h2M960 836h2M1039 769h2M1001 803h2M973 781h2M993 832h2M934 872h2M949 847h2M912 872h2M995 839h2M982 851h2M994 848h2M973 847h2M975 816h2M981 803h2M975 858h2M986 803h2M959 898h2M956 864h2M989 864h2M990 800h2M959 831h2M982 848h2M1002 848h2M979 851h2M1015 782h2M964 822h2M1000 844h2M1022 799h2M977 814h2M965 781h2M981 844h2M996 787h2M1011 776h2M967 889h2M1008 794h2M970 848h2M981 833h2M1016 821h2M987 790h2M995 842h2M955 920h2M999 827h2M981 852h2M996 810h2M955 867h2M988 843h2M999 746h2M979 817h2M1013 795h2M998 808h2M1011 763h2M936 862h2M987 810h2M956 815h2M979 835h2M999 790h2M975 830h2M994 842h2M1018 798h2M964 875h2M981 851h2M939 844h2M1004 792h2M997 852h2M1013 804h2M1005 784h2M972 849h2M970 853h2M960 842h2M997 811h2M973 837h2M960 885h2M914 857h2M957 820h2M953 825h2M1027 779h2M951 880h2M1014 797h2M990 843h2M1033 804h2M943 833h2M987 839h2M1008 800h2M952 822h2M995 842h2M976 885h2M1038 801h2M987 834h2M939 859h2M996 809h2M990 815h2M972 875h2M1012 849h2M957 833h2M1030 811h2M954 861h2M961 855h2M937 874h2M1011 803h2M960 848h2M980 852h2M1006 786h2M1010 735h2M948 834h2M964 790h2M1006 863h2M1036 780h2M987 865h2M953 844h2M1007 851h2M1019 823h2M1002 823h2M1007 854h2M957 830h2M972 847h2M1025 797h2M964 867h2M1025 784h2M933 888h2M963 873h2M987 866h2M940 845h2M1014 846h2M972 806h2M975 858h2M962 845h2M943 859h2M984 810h2M1043 795h2M961 857h2M963 891h2M998 784h2M1035 767h2M1021 834h2M939 813h2M996 820h2M966 819h2M1018 834h2M977 835h2M944 886h2M1037 811h2M945 878h2M980 859h2M955 827h2M976 850h2M984 839h2M986 799h2M1018 786h2M986 824h2M980 825h2M1014 805h2M985 851h2M984 864h2M971 856h2M990 821h2M975 802h2M981 829h2M936 887h2M989 849h2M1015 798h2M955 842h2M949 887h2M1007 829h2M1021 801h2M951 829h2M976 836h2M1040 819h2M975 868h2M1000 793h2M1028 800h2M944 824h2M1022 847h2M999 846h2M1016 825h2M971 830h2M1001 848h2M992 811h2M985 845h2M930 872h2M953 891h2M967 846h2M947 874h2M992 812h2M970 844h2M990 856h2M953 807h2M983 843h2M1027 761h2M1013 799h2M994 793h2M1014 804h2M956 796h2M953 844h2M1009 793h2M1011 788h2M1001 840h2M968 867h2M942 844h2M1021 777h2M995 816h2M1003 796h2M953 870h2M970 870h2M992 821h2M1007 844h2M986 811h2M955 848h2M1009 790h2M956 777h2M1000 810h2M932 884h2M1032 823h2M987 845h2M1002 805h2M1000 845h2M936 866h2M986 838h2M960 839h2M971 898h2M969 840h2M1005 811h2M981 832h2M954 856h2M1000 825h2M967 829h2M984 829h2M1002 766h2M979 853h2M973 856h2M1000 809h2M935 853h2M1035 786h2M972 834h2M973 833h2M997 827h2M978 832h2M1003 770h2M1004 791h2M971 827h2M989 824h2M1011 766h2M952 823h2M978 831h2M969 853h2M943 802h2M1020 814h2M1003 783h2M965 855h2M958 821h2M947 882h2M969 874h2M998 863h2M982 824h2M955 888h2M1006 817h2M974 825h2M979 849h2M1017 819h2M1025 777h2M979 829h2M993 821h2M970 824h2M860 898h2M911 889h2M896 867h2M981 878h2M928 876h2M914 921h2M945 841h2M937 943h2M910 905h2M896 903h2M943 932h2M890 940h2M880 887h2M956 878h2M954 811h2M854 930h2M965 880h2M896 875h2M915 872h2M892 937h2M882 930h2M921 865h2M920 894h2M922 925h2M915 916h2M925 864h2M898 855h2M915 867h2M852 934h2M893 889h2M976 879h2M898 888h2M910 904h2M902 926h2M967 864h2M940 918h2M912 869h2M948 894h2M960 882h2M918 837h2M914 901h2M939 885h2M901 872h2M893 889h2M891 958h2M953 898h2M937 934h2M924 908h2M861 952h2M920 888h2M929 874h2M927 904h2M904 938h2M887 914h2M901 853h2M889 908h2M871 873h2M942 928h2M893 861h2M985 877h2M848 901h2M873 909h2M896 863h2M895 894h2M883 867h2M902 911h2M890 907h2M949 889h2M913 866h2M911 879h2M927 904h2M928 892h2M930 901h2M916 923h2M1003 926h2M876 872h2M965 933h2M880 903h2M917 932h2M852 920h2M891 901h2M931 885h2M898 871h2M881 909h2M896 848h2M908 942h2M961 832h2M904 945h2M937 876h2M871 927h2M929 922h2M897 909h2M919 898h2M924 874h2M950 915h2M887 873h2M865 864h2M960 926h2M938 870h2M946 846h2M971 859h2M921 915h2M992 885h2M870 911h2M946 890h2M940 886h2M957 911h2M899 925h2M885 926h2M904 901h2M902 844h2M859 959h2M933 910h2M888 944h2M889 895h2M969 878h2M853 900h2M920 872h2M892 883h2M889 917h2M854 914h2M891 937h2M905 930h2M923 957h2M929 891h2M892 902h2M969 854h2M925 863h2M942 920h2M946 891h2M910 921h2M975 885h2M864 886h2M887 915h2M901 907h2M869 869h2M934 872h2M895 938h2M923 905h2M864 881h2M942 886h2M885 872h2M916 917h2M978 853h2M863 901h2M951 916h2M867 909h2M947 863h2M947 912h2M908 870h2M949 886h2M912 887h2M936 832h2M895 887h2M859 886h2M939 880h2M836 966h2M937 857h2M919 877h2M963 855h2M919 888h2M888 924h2M934 845h2M998 894h2M937 864h2M896 887h2M881 828h2M921 881h2M925 899h2M900 869h2M865 894h2M907 893h2M944 903h2M951 899h2M887 872h2M909 915h2M856 922h2M882 917h2M907 903h2M879 865h2M931 885h2M919 891h2M922 881h2M892 895h2M885 904h2M850 967h2M920 860h2M929 896h2M911 885h2M906 888h2M851 897h2M906 919h2M991 915h2M889 846h2M899 917h2M896 836h2M924 838h2M908 891h2M913 944h2M916 881h2" stroke="#ec1515" stroke-width="1.7" opacity="0.85"/>
<ellipse cx="460" cy="434" rx="9.5" ry="4.2" transform="rotate(-15 460 434)" fill="#e8100f" opacity="0.9" filter="url(#bl2)"/>
<ellipse cx="502" cy="392" rx="7" ry="2.5" transform="rotate(-8 502 392)" fill="#e8100f" opacity="0.55" filter="url(#bl2)"/>
</g>
<rect x="427.6" y="370.1" width="105" height="105.2" fill="none" stroke="#555" stroke-width="1"/>
<line x1="479.2" y1="370.1" x2="479.2" y2="475.3" stroke="#555" stroke-width="1"/>
<line x1="427.6" y1="408.2" x2="532.6" y2="408.2" stroke="#555" stroke-width="1"/>
<path d="M429.7 475.3v1.2M427.6 372.2h-1.2M431.8 475.3v1.2M427.6 374.3h-1.2M433.9 475.3v1.2M427.6 376.4h-1.2M436 475.3v1.2M427.6 378.5h-1.2M438.1 475.3v1.2M427.6 380.6h-1.2M440.2 475.3v1.2M427.6 382.7h-1.2M442.3 475.3v1.2M427.6 384.8h-1.2M444.4 475.3v1.2M427.6 386.9h-1.2M446.5 475.3v1.2M427.6 389h-1.2M448.6 475.3v2M427.6 391.1h-2M450.7 475.3v1.2M427.6 393.2h-1.2M452.8 475.3v1.2M427.6 395.3h-1.2M454.9 475.3v1.2M427.6 397.5h-1.2M457 475.3v1.2M427.6 399.6h-1.2M459.1 475.3v1.2M427.6 401.7h-1.2M461.2 475.3v1.2M427.6 403.8h-1.2M463.3 475.3v1.2M427.6 405.9h-1.2M465.4 475.3v1.2M427.6 408h-1.2M467.5 475.3v1.2M427.6 410.1h-1.2M469.6 475.3v2M427.6 412.2h-2M471.7 475.3v1.2M427.6 414.3h-1.2M473.8 475.3v1.2M427.6 416.4h-1.2M475.9 475.3v1.2M427.6 418.5h-1.2M478 475.3v1.2M427.6 420.6h-1.2M480.1 475.3v1.2M427.6 422.7h-1.2M482.2 475.3v1.2M427.6 424.8h-1.2M484.3 475.3v1.2M427.6 426.9h-1.2M486.4 475.3v1.2M427.6 429h-1.2M488.5 475.3v1.2M427.6 431.1h-1.2M490.6 475.3v2M427.6 433.2h-2M492.7 475.3v1.2M427.6 435.3h-1.2M494.8 475.3v1.2M427.6 437.4h-1.2M496.9 475.3v1.2M427.6 439.5h-1.2M499 475.3v1.2M427.6 441.6h-1.2M501.1 475.3v1.2M427.6 443.7h-1.2M503.2 475.3v1.2M427.6 445.8h-1.2M505.3 475.3v1.2M427.6 447.9h-1.2M507.4 475.3v1.2M427.6 450.1h-1.2M509.5 475.3v1.2M427.6 452.2h-1.2M511.6 475.3v2M427.6 454.3h-2M513.7 475.3v1.2M427.6 456.4h-1.2M515.8 475.3v1.2M427.6 458.5h-1.2M517.9 475.3v1.2M427.6 460.6h-1.2M520 475.3v1.2M427.6 462.7h-1.2M522.1 475.3v1.2M427.6 464.8h-1.2M524.2 475.3v1.2M427.6 466.9h-1.2M526.3 475.3v1.2M427.6 469h-1.2M528.4 475.3v1.2M427.6 471.1h-1.2M530.5 475.3v1.2M427.6 473.2h-1.2" stroke="#666" stroke-width=".5"/>
<text font-size="8.55" text-anchor="start" fill="#222" color="#222" transform="translate(435.1,383.2) scale(1.100,1)" style="stroke:none">1.76%</text>
<text font-size="8.34" text-anchor="end" fill="#222" color="#222" transform="translate(530.7,383.2) scale(1.100,1)" style="stroke:none">17.21%</text>
<text font-size="8.40" text-anchor="start" fill="#222" color="#222" transform="translate(435.2,467.3) scale(1.100,1)" style="stroke:none">65.80%</text>
<text font-size="8.34" text-anchor="end" fill="#222" color="#222" transform="translate(530.7,467.3) scale(1.100,1)" style="stroke:none">15.23%</text>
<text font-size="4.55" text-anchor="middle" fill="#444" color="#444" transform="translate(427.6,483.8) scale(1.100,1)" style="stroke:none">10<tspan font-size="3.4" dy="-1.8">2</tspan></text>
<text font-size="4.55" text-anchor="middle" fill="#444" color="#444" transform="translate(448.6,483.8) scale(1.100,1)" style="stroke:none">10<tspan font-size="3.4" dy="-1.8">3</tspan></text>
<text font-size="4.55" text-anchor="middle" fill="#444" color="#444" transform="translate(469.6,483.8) scale(1.100,1)" style="stroke:none">10<tspan font-size="3.4" dy="-1.8">4</tspan></text>
<text font-size="4.55" text-anchor="middle" fill="#444" color="#444" transform="translate(490.6,483.8) scale(1.100,1)" style="stroke:none">10<tspan font-size="3.4" dy="-1.8">5</tspan></text>
<text font-size="4.55" text-anchor="middle" fill="#444" color="#444" transform="translate(511.6,483.8) scale(1.100,1)" style="stroke:none">10<tspan font-size="3.4" dy="-1.8">6</tspan></text>
<text font-size="4.55" text-anchor="middle" fill="#444" color="#444" transform="translate(532.6,483.8) scale(1.100,1)" style="stroke:none">10<tspan font-size="3.4" dy="-1.8">7</tspan></text>
<text font-size="4.55" text-anchor="middle" fill="#444" color="#444" transform="translate(423.6,475.3) rotate(-90) scale(1.100,1)" style="stroke:none">10<tspan font-size="3.4" dy="-1.8">1</tspan></text>
<text font-size="4.55" text-anchor="middle" fill="#444" color="#444" transform="translate(423.6,457.8) rotate(-90) scale(1.100,1)" style="stroke:none">10<tspan font-size="3.4" dy="-1.8">2</tspan></text>
<text font-size="4.55" text-anchor="middle" fill="#444" color="#444" transform="translate(423.6,440.2) rotate(-90) scale(1.100,1)" style="stroke:none">10<tspan font-size="3.4" dy="-1.8">3</tspan></text>
<text font-size="4.55" text-anchor="middle" fill="#444" color="#444" transform="translate(423.6,422.7) rotate(-90) scale(1.100,1)" style="stroke:none">10<tspan font-size="3.4" dy="-1.8">4</tspan></text>
<text font-size="4.55" text-anchor="middle" fill="#444" color="#444" transform="translate(423.6,405.2) rotate(-90) scale(1.100,1)" style="stroke:none">10<tspan font-size="3.4" dy="-1.8">5</tspan></text>
<text font-size="4.55" text-anchor="middle" fill="#444" color="#444" transform="translate(423.6,387.6) rotate(-90) scale(1.100,1)" style="stroke:none">10<tspan font-size="3.4" dy="-1.8">6</tspan></text>
<text font-size="4.55" text-anchor="middle" fill="#444" color="#444" transform="translate(423.6,370.1) rotate(-90) scale(1.100,1)" style="stroke:none">10<tspan font-size="3.4" dy="-1.8">7</tspan></text>
<text font-size="8.95" text-anchor="middle" fill="#000" color="#000" transform="translate(82.8,500) scale(1.100,1)">si-NC</text>
<text font-size="8.98" text-anchor="middle" fill="#000" color="#000" transform="translate(218,500) scale(1.100,1)">si-SMYD3#2</text>
<text font-size="8.54" text-anchor="middle" fill="#000" color="#000" transform="translate(348.8,500) scale(1.100,1)">si-NC</text>
<text font-size="8.97" text-anchor="middle" fill="#000" color="#000" transform="translate(484.8,500) scale(1.100,1)">si-SMYD3#2</text>
<line x1="18.8" y1="467.5" x2="18.8" y2="487.1" stroke="#222" stroke-width="1"/>
<path d="M16.8 469.5 L18.8 465.5 L20.8 469.5z" fill="#222"/>
<line x1="18.8" y1="487.1" x2="42.5" y2="487.1" stroke="#222" stroke-width="1"/>
<path d="M41 485.1 L45 487.1 L41 489.1z" fill="#222"/>
<text font-size="8.18" text-anchor="middle" fill="#000" color="#000" transform="translate(14.5,467.3) rotate(-90) scale(1.100,1)">PI</text>
<text font-size="7.52" text-anchor="start" fill="#000" color="#000" transform="translate(18.6,496.3) scale(1.100,1)">Annexin V</text>
<line x1="568" y1="365.2" x2="568" y2="465.4" stroke="#333" stroke-width="1"/>
<line x1="568" y1="465.4" x2="718.5" y2="465.4" stroke="#333" stroke-width="1"/>
<line x1="565" y1="465.4" x2="568" y2="465.4" stroke="#333" stroke-width="1"/>
<text font-size="9.35" text-anchor="end" fill="#000" color="#000" transform="translate(564.9,467.6)">0</text>
<line x1="565" y1="440.3" x2="568" y2="440.3" stroke="#333" stroke-width="1"/>
<text font-size="9.35" text-anchor="end" fill="#000" color="#000" transform="translate(564.9,442.5)">10</text>
<line x1="565" y1="415.3" x2="568" y2="415.3" stroke="#333" stroke-width="1"/>
<text font-size="9.35" text-anchor="end" fill="#000" color="#000" transform="translate(564.9,417.5)">20</text>
<line x1="565" y1="390.2" x2="568" y2="390.2" stroke="#333" stroke-width="1"/>
<text font-size="9.35" text-anchor="end" fill="#000" color="#000" transform="translate(564.9,392.4)">30</text>
<line x1="565" y1="365.2" x2="568" y2="365.2" stroke="#333" stroke-width="1"/>
<text font-size="9.35" text-anchor="end" fill="#000" color="#000" transform="translate(564.9,367.4)">40</text>
<line x1="591.8" y1="443.6" x2="591.8" y2="436.6" stroke="#222" stroke-width="1"/>
<line x1="587" y1="436.6" x2="596.5" y2="436.6" stroke="#222" stroke-width="1"/>
<rect x="582.3" y="443.6" width="18.9" height="21.8" fill="#ffffff" stroke="#222" stroke-width="1"/>
<line x1="620.1" y1="383.3" x2="620.1" y2="379.7" stroke="#222" stroke-width="1"/>
<line x1="615.4" y1="379.7" x2="624.9" y2="379.7" stroke="#222" stroke-width="1"/>
<rect x="610.6" y="383.3" width="19" height="82.1" fill="#a09fa4" stroke="#222" stroke-width="1"/>
<line x1="667" y1="437.2" x2="667" y2="430.4" stroke="#222" stroke-width="1"/>
<line x1="662.1" y1="430.4" x2="671.9" y2="430.4" stroke="#222" stroke-width="1"/>
<rect x="657.3" y="437.2" width="19.4" height="28.2" fill="#ffffff" stroke="#222" stroke-width="1"/>
<line x1="695.5" y1="388.2" x2="695.5" y2="384.4" stroke="#222" stroke-width="1"/>
<line x1="690.9" y1="384.4" x2="700.1" y2="384.4" stroke="#222" stroke-width="1"/>
<rect x="686.2" y="388.2" width="18.6" height="77.2" fill="#a09fa4" stroke="#222" stroke-width="1"/>
<line x1="606" y1="465.4" x2="606" y2="468.2" stroke="#333" stroke-width="1"/>
<line x1="681" y1="465.4" x2="681" y2="468.2" stroke="#333" stroke-width="1"/>
<line x1="592" y1="373.9" x2="619.6" y2="373.9" stroke="#222" stroke-width="1.1"/>
<g fill="#111"><polygon points="601.45,365.75 602.01,367.13 603.49,367.24 602.35,368.19 602.71,369.64 601.45,368.85 600.19,369.64 600.55,368.19 599.41,367.24 600.89,367.13"/><polygon points="605.80,365.75 606.36,367.13 607.84,367.24 606.70,368.19 607.06,369.64 605.80,368.85 604.54,369.64 604.90,368.19 603.76,367.24 605.24,367.13"/><polygon points="610.15,365.75 610.71,367.13 612.19,367.24 611.05,368.19 611.41,369.64 610.15,368.85 608.89,369.64 609.25,368.19 608.11,367.24 609.59,367.13"/></g>
<line x1="667.3" y1="380.1" x2="695" y2="380.1" stroke="#222" stroke-width="1.1"/>
<g fill="#111"><polygon points="676.80,371.75 677.36,373.13 678.84,373.24 677.70,374.19 678.06,375.64 676.80,374.85 675.54,375.64 675.90,374.19 674.76,373.24 676.24,373.13"/><polygon points="681.15,371.75 681.71,373.13 683.19,373.24 682.05,374.19 682.41,375.64 681.15,374.85 679.89,375.64 680.25,374.19 679.11,373.24 680.59,373.13"/><polygon points="685.50,371.75 686.06,373.13 687.54,373.24 686.40,374.19 686.76,375.64 685.50,374.85 684.24,375.64 684.60,374.19 683.46,373.24 684.94,373.13"/></g>
<text font-size="8.98" text-anchor="end" fill="#000" color="#000" transform="translate(612.2,477.6) rotate(-45) scale(1.100,1)">A549/DDP</text>
<text font-size="8.88" text-anchor="end" fill="#000" color="#000" transform="translate(688.6,477.6) rotate(-45) scale(1.100,1)">H1299/DDP</text>
<text font-size="11.09" text-anchor="middle" fill="#000" color="#000" transform="translate(549.5,414.7) rotate(-90) scale(1.100,1)">Apoptosis rate(%)</text>
<rect x="723.2" y="367.7" width="9.3" height="5.2" fill="#ffffff" stroke="#222" stroke-width="1"/>
<text font-size="9.36" text-anchor="start" fill="#000" color="#000" transform="translate(735.2,373.2) scale(1.100,1)">si-NC</text>
<rect x="723.2" y="379" width="9.3" height="5.6" fill="#a09fa4" stroke="#222" stroke-width="1"/>
<text font-size="9.36" text-anchor="start" fill="#000" color="#000" transform="translate(735.2,384.9) scale(1.100,1)">si-SMYD3#2</text>
<text font-size="16.50" text-anchor="start" fill="#111" color="#111" transform="translate(-0.3,538.6)">F</text>
<text font-size="10.45" text-anchor="middle" fill="#000" color="#000" transform="translate(150.8,560.5) scale(1.100,1)">A549/DDP</text>
<text font-size="10.36" text-anchor="middle" fill="#000" color="#000" transform="translate(434.2,560.5) scale(1.100,1)">H1299/DDP</text>
<line x1="19.5" y1="576.3" x2="19.5" y2="674" stroke="#333" stroke-width="1"/>
<line x1="19.5" y1="674" x2="133.3" y2="674" stroke="#333" stroke-width="1"/>
<text font-size="3.82" text-anchor="middle" fill="#555" color="#555" transform="translate(14.5,674) rotate(-90) scale(1.100,1)">0</text>
<text font-size="3.82" text-anchor="middle" fill="#555" color="#555" transform="translate(14.5,654.5) rotate(-90) scale(1.100,1)">100</text>
<text font-size="3.82" text-anchor="middle" fill="#555" color="#555" transform="translate(14.5,634.9) rotate(-90) scale(1.100,1)">200</text>
<text font-size="3.82" text-anchor="middle" fill="#555" color="#555" transform="translate(14.5,615.4) rotate(-90) scale(1.100,1)">300</text>
<text font-size="3.82" text-anchor="middle" fill="#555" color="#555" transform="translate(14.5,595.8) rotate(-90) scale(1.100,1)">400</text>
<text font-size="3.82" text-anchor="middle" fill="#555" color="#555" transform="translate(14.5,576.3) rotate(-90) scale(1.100,1)">500</text>
<text font-size="3.82" text-anchor="middle" fill="#555" color="#555" transform="translate(19.5,682.5) scale(1.100,1)">0</text>
<text font-size="3.82" text-anchor="middle" fill="#555" color="#555" transform="translate(42.3,682.5) scale(1.100,1)">50</text>
<text font-size="3.82" text-anchor="middle" fill="#555" color="#555" transform="translate(65,682.5) scale(1.100,1)">100</text>
<text font-size="3.82" text-anchor="middle" fill="#555" color="#555" transform="translate(87.8,682.5) scale(1.100,1)">150</text>
<text font-size="3.82" text-anchor="middle" fill="#555" color="#555" transform="translate(110.5,682.5) scale(1.100,1)">200</text>
<text font-size="3.82" text-anchor="middle" fill="#555" color="#555" transform="translate(133.3,682.5) scale(1.100,1)">250</text>
<path d="M16.5 674h3M18 670.1h1.5M18 666.2h1.5M18 662.3h1.5M18 658.4h1.5M16.5 654.5h3M18 650.6h1.5M18 646.6h1.5M18 642.7h1.5M18 638.8h1.5M16.5 634.9h3M18 631h1.5M18 627.1h1.5M18 623.2h1.5M18 619.3h1.5M16.5 615.4h3M18 611.5h1.5M18 607.6h1.5M18 603.7h1.5M18 599.7h1.5M16.5 595.8h3M18 591.9h1.5M18 588h1.5M18 584.1h1.5M18 580.2h1.5M16.5 576.3h3M19.5 674v3M24.1 674v1.5M28.6 674v1.5M33.2 674v1.5M37.7 674v1.5M42.3 674v3M46.8 674v1.5M51.4 674v1.5M55.9 674v1.5M60.5 674v1.5M65 674v3M69.6 674v1.5M74.1 674v1.5M78.7 674v1.5M83.2 674v1.5M87.8 674v3M92.3 674v1.5M96.9 674v1.5M101.4 674v1.5M106 674v1.5M110.5 674v3M115.1 674v1.5M119.6 674v1.5M124.2 674v1.5M128.7 674v1.5M133.3 674v3" stroke="#333" stroke-width=".7"/>
<text font-size="3.82" text-anchor="middle" fill="#555" color="#555" transform="translate(76.4,688.5) scale(1.100,1)">FL2-A/PE-A</text>
<text font-size="3.82" text-anchor="middle" fill="#555" color="#555" transform="translate(8.5,631.1) rotate(-90) scale(1.100,1)">Number</text>
<polygon points="58.3,674 58.3,610.3 58.8,617.6 59.3,624.7 59.8,631.3 60.3,637.8 60.8,642.1 61.3,647.5 61.8,651.4 62.3,655 62.8,656.3 63.3,658.7 63.8,660.2 64.3,661.9 64.8,663.7 65.3,664 65.8,664.4 66.3,665.3 66.8,664.4 67.3,665.5 67.8,665.9 68.3,665.1 68.8,666.1 69.3,665.1 69.8,665.7 70.3,665.6 70.8,665.9 71.3,665.7 71.8,666.1 72.3,666.3 72.8,665.1 73.3,665.9 73.8,665 74.3,665.8 74.8,664.6 75.3,664.6 75.8,664.6 76.3,664.4 76.8,664.5 77.3,664 77.8,664.6 78.3,663.8 78.8,663 79.3,663.5 79.8,662.1 80.3,661.7 80.8,662 81.3,661.6 81.8,661.1 82.3,660.9 82.8,659.7 83.3,660.4 83.8,660.9 84.3,661 84.8,660.6 85.3,661 85.8,662.7 86.3,663.8 86.8,664.8 87.3,665.6 87.8,667.4 88.3,667.9 88.8,668.8 89.3,669.5 89.8,670.8 90.3,671.4 90.8,671.6 91.3,671.2 91.8,672.4 92.3,672.4 92.8,673 93.3,673.5 93.8,673.7 94.3,672.8 94.8,673.6 95.3,673.7 95.8,673.7 96.3,673.8 96.8,673.8 97.3,673.9 97.8,673.9 98.3,673.9 98.3,674" fill="url(#hatch)"/>
<polygon points="45.8,674 45.8,673.2 46.3,672.8 46.8,672.4 47.3,671.7 47.8,670.9 48.3,669.7 48.8,668.3 49.3,666.4 49.8,664.1 50.3,661.2 50.8,657.6 51.3,653.3 51.8,648.3 52.3,642.5 52.8,636 53.3,628.8 53.8,621.2 54.3,613.4 54.8,605.9 55.3,599.2 55.8,594 56.3,592.2 56.8,595.8 57.3,601.7 57.8,608.8 58.3,616.5 58.8,624.3 59.3,631.7 59.8,638.7 60.3,644.9 60.8,650.4 61.3,655.1 61.8,659.1 62.3,662.4 62.8,665.1 63.3,667.2 63.8,668.9 64.3,670.2 64.8,671.2 65.3,672 65.8,672.6 66.3,673 66.6,674" fill="#d8141b" stroke="#402020" stroke-width="0.5"/>
<polygon points="70.4,674 70.8,673.9 71.3,673.9 71.8,673.9 72.3,673.8 72.8,673.8 73.3,673.7 73.8,673.6 74.3,673.5 74.8,673.4 75.3,673.3 75.8,673.1 76.3,673 76.8,672.8 77.3,672.5 77.8,672.2 78.3,671.9 78.8,671.6 79.3,671.2 79.8,670.8 80.3,670.3 80.8,669.9 81.3,669.4 81.8,668.9 82.3,668.4 82.8,667.9 83.3,667.5 83.8,667.2 84.3,667 84.8,667.1 85.3,667.4 85.8,667.8 86.3,668.2 86.8,668.7 87.3,669.2 87.8,669.7 88.3,670.1 88.8,670.6 89.3,671 89.8,671.4 90.3,671.8 90.8,672.1 91.3,672.4 91.8,672.7 92.3,672.9 92.8,673.1 93.3,673.2 93.8,673.4 94.3,673.5 94.8,673.6 95.3,673.7 95.8,673.7 96.3,673.8 96.8,673.8 97.3,673.9 97.8,673.9 98.3,673.9 98.4,674" fill="#d8141b" stroke="#402020" stroke-width="0.5"/>
<polyline points="45.8,674 46.3,674 46.8,674 47.3,674 47.8,674 48.3,674 48.8,674 49.3,674 49.8,674 50.3,674 50.8,674 51.3,673.9 51.8,673.8 52.3,673.7 52.8,673.6 53.3,673.5 53.8,673.2 54.3,672.9 54.8,672.5 55.3,672 55.8,671.4 56.3,670.6 56.8,669.9 57.3,669.1 57.8,668.4 58.3,667.8 58.8,667.3 59.3,667 59.8,666.7 60.3,666.5 60.8,666.3 61.3,666.2 61.8,666.2 62.3,666.1 62.8,666.1 63.3,666.1 63.8,666 64.3,666 64.8,666 65.3,666 65.8,666 66.3,666 66.8,666 67.3,666 67.8,666 68.3,666 68.8,666 69.3,666 69.8,666 70.3,666 70.8,666 71.3,666 71.8,666 72.3,666 72.8,666 73.3,666 73.8,666 74.3,666 74.8,666 75.3,666 75.8,666 76.3,666 76.8,666 77.3,666 77.8,666 78.3,666 78.8,666.1 79.3,666.1 79.8,666.1 80.3,666.2 80.8,666.2 81.3,666.3 81.8,666.4 82.3,666.5 82.8,666.7 83.3,666.9 83.8,667.2 84.3,667.6 84.8,668 85.3,668.5 85.8,669.1 86.3,669.7 86.8,670.4 87.3,671 87.8,671.6 88.3,672.1 88.8,672.5 89.3,672.8 89.8,673.1 90.3,673.3 90.8,673.5 91.3,673.6 91.8,673.7 92.3,673.8 92.8,673.9 93.3,673.9 93.8,673.9 94.3,673.9 94.8,674 95.3,674 95.8,674 96.3,674 96.8,674 97.3,674 97.8,674 98.3,674" fill="none" stroke="#802020" stroke-width="0.5"/>
<polyline points="45.8,673.4 46.3,672.4 46.8,672 47.3,671.5 47.8,671.1 48.3,669.1 48.8,667.7 49.3,666.2 49.8,663.9 50.3,661.3 50.8,658.1 51.3,653.2 51.8,647.8 52.3,642.2 52.8,635.6 53.3,628.3 53.8,620.4 54.3,612.3 54.8,603.3 55.3,592.9 55.8,582.3 56.3,578 56.8,584.5 57.3,594.2 57.8,603.3 58.3,610.3 58.8,617.6 59.3,624.7 59.8,631.3 60.3,637.8 60.8,642.1 61.3,647.5 61.8,651.4 62.3,655 62.8,656.3 63.3,658.7 63.8,660.2 64.3,661.9 64.8,663.7 65.3,664 65.8,664.4 66.3,665.3 66.8,664.4 67.3,665.5 67.8,665.9 68.3,665.1 68.8,666.1 69.3,665.1 69.8,665.7 70.3,665.6 70.8,665.9 71.3,665.7 71.8,666.1 72.3,666.3 72.8,665.1 73.3,665.9 73.8,665 74.3,665.8 74.8,664.6 75.3,664.6 75.8,664.6 76.3,664.4 76.8,664.5 77.3,664 77.8,664.6 78.3,663.8 78.8,663 79.3,663.5 79.8,662.1 80.3,661.7 80.8,662 81.3,661.6 81.8,661.1 82.3,660.9 82.8,659.7 83.3,660.4 83.8,660.9 84.3,661 84.8,660.6 85.3,661 85.8,662.7 86.3,663.8 86.8,664.8 87.3,665.6 87.8,667.4 88.3,667.9 88.8,668.8 89.3,669.5 89.8,670.8 90.3,671.4 90.8,671.6 91.3,671.2 91.8,672.4 92.3,672.4 92.8,673 93.3,673.5 93.8,673.7 94.3,672.8 94.8,673.6 95.3,673.7 95.8,673.7 96.3,673.8 96.8,673.8 97.3,673.9 97.8,673.9 98.3,673.9" fill="none" stroke="#333" stroke-width="0.6"/>
<polyline points="45.8,673.4 46.3,672.4 46.8,672 47.3,671.5 47.8,671.1 48.3,669.1 48.8,667.7 49.3,666.2 49.8,663.9 50.3,661.3 50.8,658.1 51.3,653.2 51.8,647.8 52.3,642.2 52.8,635.6 53.3,628.3 53.8,620.4 54.3,612.3 54.8,603.3 55.3,592.9 55.8,582.3 56.3,578 56.8,584.5 57.3,594.2 57.8,603.3 58.3,610.3 58.8,617.6 59.3,624.7 59.8,630.1 60.3,636.6 60.8,640.9 61.3,646.3 61.8,650.2 62.3,653.8 62.8,655.1 63.3,657.5 63.8,659 64.3,660.7 64.8,662.5 65.3,662.8 65.8,663.2 66.3,664.1 66.8,663.2 67.3,664.3 67.8,664.7 68.3,663.9 68.8,664.9 69.3,663.9 69.8,664.5 70.3,664.4 70.8,664.7 71.3,664.5 71.8,664.9 72.3,665.1 72.8,663.9 73.3,664.7 73.8,663.8 74.3,664.6 74.8,663.4 75.3,663.4 75.8,663.4 76.3,663.2 76.8,663.3 77.3,662.8 77.8,663.4 78.3,662.6 78.8,661.8 79.3,662.3 79.8,660.9 80.3,660.5 80.8,660.8 81.3,660.4 81.8,659.9 82.3,659.7 82.8,658.5 83.3,659.2 83.8,659.7 84.3,659.8 84.8,659.4 85.3,659.8 85.8,661.5 86.3,662.6 86.8,663.6 87.3,664.4 87.8,666.2 88.3,666.7 88.8,667.6 89.3,668.3 89.8,669.6 90.3,670.2 90.8,670.4 91.3,670 91.8,672.4 92.3,672.4 92.8,673 93.3,673.5 93.8,673.7 94.3,672.8 94.8,673.6 95.3,673.7 95.8,673.7 96.3,673.8 96.8,673.8 97.3,673.9 97.8,673.9 98.3,673.9" fill="none" stroke="#888" stroke-width="0.5"/>
<text font-size="8.98" text-anchor="start" fill="#222" color="#222" transform="translate(70.8,592.3) scale(1.100,1)" style="stroke:none">G0/G1=63.81%</text>
<text font-size="9.05" text-anchor="start" fill="#222" color="#222" transform="translate(70.8,602.5) scale(1.100,1)" style="stroke:none">G2=8.56%</text>
<text font-size="9.15" text-anchor="start" fill="#222" color="#222" transform="translate(70.3,613.7) scale(1.100,1)" style="stroke:none">S=27.63%</text>
<line x1="155.6" y1="576.3" x2="155.6" y2="674.1" stroke="#333" stroke-width="1"/>
<line x1="155.6" y1="674.1" x2="269.3" y2="674.1" stroke="#333" stroke-width="1"/>
<text font-size="3.82" text-anchor="middle" fill="#555" color="#555" transform="translate(150.6,674.1) rotate(-90) scale(1.100,1)">0</text>
<text font-size="3.82" text-anchor="middle" fill="#555" color="#555" transform="translate(150.6,649.6) rotate(-90) scale(1.100,1)">200</text>
<text font-size="3.82" text-anchor="middle" fill="#555" color="#555" transform="translate(150.6,625.2) rotate(-90) scale(1.100,1)">400</text>
<text font-size="3.82" text-anchor="middle" fill="#555" color="#555" transform="translate(150.6,600.8) rotate(-90) scale(1.100,1)">600</text>
<text font-size="3.82" text-anchor="middle" fill="#555" color="#555" transform="translate(150.6,576.3) rotate(-90) scale(1.100,1)">800</text>
<text font-size="3.82" text-anchor="middle" fill="#555" color="#555" transform="translate(155.6,682.6) scale(1.100,1)">0</text>
<text font-size="3.82" text-anchor="middle" fill="#555" color="#555" transform="translate(178.3,682.6) scale(1.100,1)">50</text>
<text font-size="3.82" text-anchor="middle" fill="#555" color="#555" transform="translate(201.1,682.6) scale(1.100,1)">100</text>
<text font-size="3.82" text-anchor="middle" fill="#555" color="#555" transform="translate(223.8,682.6) scale(1.100,1)">150</text>
<text font-size="3.82" text-anchor="middle" fill="#555" color="#555" transform="translate(246.6,682.6) scale(1.100,1)">200</text>
<text font-size="3.82" text-anchor="middle" fill="#555" color="#555" transform="translate(269.3,682.6) scale(1.100,1)">250</text>
<path d="M152.6 674.1h3M154.1 669.2h1.5M154.1 664.3h1.5M154.1 659.4h1.5M154.1 654.5h1.5M152.6 649.6h3M154.1 644.8h1.5M154.1 639.9h1.5M154.1 635h1.5M154.1 630.1h1.5M152.6 625.2h3M154.1 620.3h1.5M154.1 615.4h1.5M154.1 610.5h1.5M154.1 605.6h1.5M152.6 600.8h3M154.1 595.9h1.5M154.1 591h1.5M154.1 586.1h1.5M154.1 581.2h1.5M152.6 576.3h3M155.6 674.1v3M160.1 674.1v1.5M164.7 674.1v1.5M169.2 674.1v1.5M173.8 674.1v1.5M178.3 674.1v3M182.9 674.1v1.5M187.4 674.1v1.5M192 674.1v1.5M196.5 674.1v1.5M201.1 674.1v3M205.6 674.1v1.5M210.2 674.1v1.5M214.7 674.1v1.5M219.3 674.1v1.5M223.8 674.1v3M228.4 674.1v1.5M232.9 674.1v1.5M237.5 674.1v1.5M242 674.1v1.5M246.6 674.1v3M251.1 674.1v1.5M255.7 674.1v1.5M260.2 674.1v1.5M264.8 674.1v1.5M269.3 674.1v3" stroke="#333" stroke-width=".7"/>
<text font-size="3.82" text-anchor="middle" fill="#555" color="#555" transform="translate(212.4,688.6) scale(1.100,1)">FL2-A/PE-A</text>
<text font-size="3.82" text-anchor="middle" fill="#555" color="#555" transform="translate(144.6,631.2) rotate(-90) scale(1.100,1)">Number</text>
<polygon points="189.2,674.1 189.2,609.3 189.7,618.5 190.2,627.4 190.7,635.5 191.2,642.4 191.7,648 192.2,653.4 192.7,657.1 193.2,660.5 193.7,663.9 194.2,664.5 194.7,666.2 195.2,667.6 195.7,668.4 196.2,668 196.7,668.7 197.2,668.4 197.7,668.8 198.2,668.6 198.7,669.2 199.2,669.1 199.7,669.2 200.2,669.7 200.7,668.7 201.2,669.6 201.7,669 202.2,668.7 202.7,669.2 203.2,669.9 203.7,668.9 204.2,669.1 204.7,669.8 205.2,669.9 205.7,669.2 206.2,669.9 206.7,668.6 207.2,669.1 207.7,669 208.2,669.1 208.7,668.6 209.2,668.2 209.7,668.9 210.2,668.6 210.7,668.1 211.2,668.3 211.7,667.7 212.2,667.5 212.7,667.5 213.2,666.9 213.7,667 214.2,667.5 214.7,666.3 215.2,667.4 215.7,667.7 216.2,668.4 216.7,668.3 217.2,669 217.7,670.2 218.2,671 218.7,672 219.2,671.4 219.7,672.8 220.2,672.6 220.7,673.1 221.2,673.4 221.7,673.5 222.2,673.6 222.7,673.7 223.2,673.8 223.7,673.9 224.2,674 224.7,674 225.2,674 225.7,674 226.2,674.1 226.7,674.1 226.7,674.1" fill="url(#hatch)"/>
<polygon points="178.7,674.1 179.2,672.8 179.7,672.2 180.2,671.3 180.7,670 181.2,668.3 181.7,666 182.2,663 182.7,659.1 183.2,654.3 183.7,648.3 184.2,641.3 184.7,633.1 185.2,624.1 185.7,614.6 186.2,605.2 186.7,596.7 187.2,590.3 187.7,589.5 188.2,595.2 188.7,603.4 189.2,612.7 189.7,622.2 190.2,631.4 190.7,639.7 191.2,647 191.7,653.2 192.2,658.2 192.7,662.3 193.2,665.5 193.7,667.9 194.2,669.7 194.7,671 195.2,672 195.7,672.7 196.2,673.2 196.3,674.1" fill="#d8141b" stroke="#402020" stroke-width="0.5"/>
<polygon points="203.5,674.1 203.7,674.1 204.2,674.1 204.7,674 205.2,674 205.7,674 206.2,673.9 206.7,673.9 207.2,673.8 207.7,673.8 208.2,673.7 208.7,673.6 209.2,673.4 209.7,673.3 210.2,673.1 210.7,672.9 211.2,672.7 211.7,672.4 212.2,672.2 212.7,671.9 213.2,671.6 213.7,671.4 214.2,671.1 214.7,671 215.2,670.9 215.7,671 216.2,671.2 216.7,671.5 217.2,671.7 217.7,672 218.2,672.3 218.7,672.5 219.2,672.8 219.7,673 220.2,673.2 220.7,673.3 221.2,673.5 221.7,673.6 222.2,673.7 222.7,673.8 223.2,673.9 223.7,673.9 224.2,674 224.7,674 225.2,674 225.7,674 226.2,674.1 226.7,674.1 226.7,674.1" fill="#d8141b" stroke="#402020" stroke-width="0.5"/>
<polyline points="178.7,674.1 179.2,674.1 179.7,674.1 180.2,674.1 180.7,674.1 181.2,674.1 181.7,674.1 182.2,674.1 182.7,674.1 183.2,674 183.7,674 184.2,674 184.7,673.9 185.2,673.8 185.7,673.6 186.2,673.3 186.7,673 187.2,672.6 187.7,672.1 188.2,671.6 188.7,671.1 189.2,670.7 189.7,670.4 190.2,670.1 190.7,669.9 191.2,669.8 191.7,669.7 192.2,669.7 192.7,669.7 193.2,669.6 193.7,669.6 194.2,669.6 194.7,669.6 195.2,669.6 195.7,669.6 196.2,669.6 196.7,669.6 197.2,669.6 197.7,669.6 198.2,669.6 198.7,669.6 199.2,669.6 199.7,669.6 200.2,669.6 200.7,669.6 201.2,669.6 201.7,669.6 202.2,669.6 202.7,669.6 203.2,669.6 203.7,669.6 204.2,669.6 204.7,669.6 205.2,669.6 205.7,669.6 206.2,669.6 206.7,669.6 207.2,669.6 207.7,669.6 208.2,669.6 208.7,669.6 209.2,669.6 209.7,669.6 210.2,669.6 210.7,669.6 211.2,669.7 211.7,669.7 212.2,669.7 212.7,669.8 213.2,669.9 213.7,670 214.2,670.1 214.7,670.3 215.2,670.6 215.7,670.9 216.2,671.3 216.7,671.7 217.2,672.2 217.7,672.6 218.2,672.9 218.7,673.2 219.2,673.5 219.7,673.6 220.2,673.8 220.7,673.9 221.2,673.9 221.7,674 222.2,674 222.7,674.1 223.2,674.1 223.7,674.1 224.2,674.1 224.7,674.1 225.2,674.1 225.7,674.1 226.2,674.1 226.7,674.1" fill="none" stroke="#802020" stroke-width="0.5"/>
<polyline points="178.7,672.4 179.2,673.1 179.7,672.6 180.2,670.4 180.7,670.3 181.2,668.6 181.7,665.6 182.2,663 182.7,658.4 183.2,654.4 183.7,647.4 184.2,641.2 184.7,632.9 185.2,623.8 185.7,614.1 186.2,604.3 186.7,595.2 187.2,588 187.7,586.6 188.2,592.2 188.7,600.3 189.2,609.3 189.7,618.5 190.2,627.4 190.7,635.5 191.2,642.4 191.7,648 192.2,653.4 192.7,657.1 193.2,660.5 193.7,663.9 194.2,664.5 194.7,666.2 195.2,667.6 195.7,668.4 196.2,668 196.7,668.7 197.2,668.4 197.7,668.8 198.2,668.6 198.7,669.2 199.2,669.1 199.7,669.2 200.2,669.7 200.7,668.7 201.2,669.6 201.7,669 202.2,668.7 202.7,669.2 203.2,669.9 203.7,668.9 204.2,669.1 204.7,669.8 205.2,669.9 205.7,669.2 206.2,669.9 206.7,668.6 207.2,669.1 207.7,669 208.2,669.1 208.7,668.6 209.2,668.2 209.7,668.9 210.2,668.6 210.7,668.1 211.2,668.3 211.7,667.7 212.2,667.5 212.7,667.5 213.2,666.9 213.7,667 214.2,667.5 214.7,666.3 215.2,667.4 215.7,667.7 216.2,668.4 216.7,668.3 217.2,669 217.7,670.2 218.2,671 218.7,672 219.2,671.4 219.7,672.8 220.2,672.6 220.7,673.1 221.2,673.4 221.7,673.5 222.2,673.6 222.7,673.7 223.2,673.8 223.7,673.9 224.2,674 224.7,674 225.2,674 225.7,674 226.2,674.1 226.7,674.1" fill="none" stroke="#333" stroke-width="0.6"/>
<polyline points="178.7,672.4 179.2,673.1 179.7,672.6 180.2,670.4 180.7,670.3 181.2,668.6 181.7,665.6 182.2,663 182.7,658.4 183.2,654.4 183.7,647.4 184.2,641.2 184.7,632.9 185.2,623.8 185.7,614.1 186.2,604.3 186.7,595.2 187.2,588 187.7,586.6 188.2,592.2 188.7,600.3 189.2,609.3 189.7,618.5 190.2,626.2 190.7,634.3 191.2,641.2 191.7,646.8 192.2,652.2 192.7,655.9 193.2,659.3 193.7,662.7 194.2,663.3 194.7,665 195.2,666.4 195.7,667.2 196.2,666.8 196.7,667.5 197.2,667.2 197.7,667.6 198.2,667.4 198.7,668 199.2,667.9 199.7,668 200.2,668.5 200.7,667.5 201.2,668.4 201.7,667.8 202.2,667.5 202.7,668 203.2,668.7 203.7,667.7 204.2,667.9 204.7,668.6 205.2,668.7 205.7,668 206.2,668.7 206.7,667.4 207.2,667.9 207.7,667.8 208.2,667.9 208.7,667.4 209.2,667 209.7,667.7 210.2,667.4 210.7,666.9 211.2,667.1 211.7,666.5 212.2,666.3 212.7,666.3 213.2,665.7 213.7,665.8 214.2,666.3 214.7,665.1 215.2,666.2 215.7,666.5 216.2,667.2 216.7,667.1 217.2,667.8 217.7,669 218.2,669.8 218.7,670.8 219.2,670.2 219.7,672.8 220.2,672.6 220.7,673.1 221.2,673.4 221.7,673.5 222.2,673.6 222.7,673.7 223.2,673.8 223.7,673.9 224.2,674 224.7,674 225.2,674 225.7,674 226.2,674.1 226.7,674.1" fill="none" stroke="#888" stroke-width="0.5"/>
<text font-size="8.96" text-anchor="start" fill="#222" color="#222" transform="translate(206.6,592.3) scale(1.100,1)" style="stroke:none">G0/G1=76.90%</text>
<text font-size="9.13" text-anchor="start" fill="#222" color="#222" transform="translate(206.1,602.5) scale(1.100,1)" style="stroke:none">G2=4.81%</text>
<text font-size="8.95" text-anchor="start" fill="#222" color="#222" transform="translate(206.6,613.7) scale(1.100,1)" style="stroke:none">S=18.29%</text>
<line x1="304.2" y1="576.3" x2="304.2" y2="674.1" stroke="#333" stroke-width="1"/>
<line x1="304.2" y1="674.1" x2="418" y2="674.1" stroke="#333" stroke-width="1"/>
<text font-size="3.82" text-anchor="middle" fill="#555" color="#555" transform="translate(299.2,674.1) rotate(-90) scale(1.100,1)">0</text>
<text font-size="3.82" text-anchor="middle" fill="#555" color="#555" transform="translate(299.2,654.5) rotate(-90) scale(1.100,1)">200</text>
<text font-size="3.82" text-anchor="middle" fill="#555" color="#555" transform="translate(299.2,635) rotate(-90) scale(1.100,1)">400</text>
<text font-size="3.82" text-anchor="middle" fill="#555" color="#555" transform="translate(299.2,615.4) rotate(-90) scale(1.100,1)">600</text>
<text font-size="3.82" text-anchor="middle" fill="#555" color="#555" transform="translate(299.2,595.9) rotate(-90) scale(1.100,1)">800</text>
<text font-size="3.82" text-anchor="middle" fill="#555" color="#555" transform="translate(299.2,576.3) rotate(-90) scale(1.100,1)">1000</text>
<text font-size="3.82" text-anchor="middle" fill="#555" color="#555" transform="translate(304.2,682.6) scale(1.100,1)">0</text>
<text font-size="3.82" text-anchor="middle" fill="#555" color="#555" transform="translate(320.5,682.6) scale(1.100,1)">20</text>
<text font-size="3.82" text-anchor="middle" fill="#555" color="#555" transform="translate(336.7,682.6) scale(1.100,1)">40</text>
<text font-size="3.82" text-anchor="middle" fill="#555" color="#555" transform="translate(353,682.6) scale(1.100,1)">60</text>
<text font-size="3.82" text-anchor="middle" fill="#555" color="#555" transform="translate(369.2,682.6) scale(1.100,1)">80</text>
<text font-size="3.82" text-anchor="middle" fill="#555" color="#555" transform="translate(385.5,682.6) scale(1.100,1)">100</text>
<text font-size="3.82" text-anchor="middle" fill="#555" color="#555" transform="translate(401.7,682.6) scale(1.100,1)">120</text>
<text font-size="3.82" text-anchor="middle" fill="#555" color="#555" transform="translate(418,682.6) scale(1.100,1)">140</text>
<path d="M301.2 674.1h3M302.7 670.2h1.5M302.7 666.3h1.5M302.7 662.4h1.5M302.7 658.5h1.5M301.2 654.5h3M302.7 650.6h1.5M302.7 646.7h1.5M302.7 642.8h1.5M302.7 638.9h1.5M301.2 635h3M302.7 631.1h1.5M302.7 627.2h1.5M302.7 623.2h1.5M302.7 619.3h1.5M301.2 615.4h3M302.7 611.5h1.5M302.7 607.6h1.5M302.7 603.7h1.5M302.7 599.8h1.5M301.2 595.9h3M302.7 591.9h1.5M302.7 588h1.5M302.7 584.1h1.5M302.7 580.2h1.5M301.2 576.3h3M304.2 674.1v3M307.5 674.1v1.5M310.7 674.1v1.5M314 674.1v1.5M317.2 674.1v1.5M320.5 674.1v3M323.7 674.1v1.5M327 674.1v1.5M330.2 674.1v1.5M333.5 674.1v1.5M336.7 674.1v3M340 674.1v1.5M343.2 674.1v1.5M346.5 674.1v1.5M349.7 674.1v1.5M353 674.1v3M356.2 674.1v1.5M359.5 674.1v1.5M362.7 674.1v1.5M366 674.1v1.5M369.2 674.1v3M372.5 674.1v1.5M375.7 674.1v1.5M379 674.1v1.5M382.2 674.1v1.5M385.5 674.1v3M388.7 674.1v1.5M392 674.1v1.5M395.2 674.1v1.5M398.5 674.1v1.5M401.7 674.1v3M405 674.1v1.5M408.2 674.1v1.5M411.5 674.1v1.5M414.7 674.1v1.5M418 674.1v3" stroke="#333" stroke-width=".7"/>
<text font-size="3.82" text-anchor="middle" fill="#555" color="#555" transform="translate(361.1,688.6) scale(1.100,1)">FL2-A/PE-A</text>
<text font-size="3.82" text-anchor="middle" fill="#555" color="#555" transform="translate(293.2,631.2) rotate(-90) scale(1.100,1)">Number</text>
<polygon points="349.1,674.1 349.1,612.1 349.6,620.3 350.1,628.2 350.6,635.5 351.1,642.5 351.6,648 352.1,651.8 352.6,656.1 353.1,659 353.6,661 354.1,663.4 354.6,665.2 355.1,665.2 355.6,666.1 356.1,666.6 356.6,667 357.1,666.7 357.6,667.8 358.1,667.3 358.6,667.9 359.1,667.7 359.6,667.6 360.1,668.1 360.6,668.5 361.1,667.9 361.6,667.6 362.1,667.8 362.6,668 363.1,667.7 363.6,668.3 364.1,668.3 364.6,668.1 365.1,667.4 365.6,668.3 366.1,668.4 366.6,668.4 367.1,668.5 367.6,668.2 368.1,667.8 368.6,667.4 369.1,668.1 369.6,668 370.1,668.1 370.6,668 371.1,667.3 371.6,667.6 372.1,667.9 372.6,668.1 373.1,667 373.6,667 374.1,666.8 374.6,667.4 375.1,666.8 375.6,666.1 376.1,666.4 376.6,665.6 377.1,666.4 377.6,665 378.1,666 378.6,665.1 379.1,665.3 379.6,663.8 380.1,663.6 380.6,662.9 381.1,662.8 381.6,662.3 382.1,662.7 382.6,662 383.1,662.5 383.6,663.4 384.1,663.2 384.6,664.7 385.1,665.8 385.6,666.9 386.1,667.2 386.6,668.4 387.1,668.2 387.6,668.9 388.1,670.6 388.6,671.3 389.1,671.2 389.6,672.2 390.1,672 390.6,671.9 391.1,673 391.6,673 392.1,672.5 392.6,673.3 393.1,673.6 393.6,673.7 394.1,673.8 394.6,673.8 395.1,673.9 395.6,673.9 396.1,674 396.6,674 397.1,674 397.1,674.1" fill="url(#hatch)"/>
<polygon points="338.1,674.1 338.1,673.3 338.6,672.9 339.1,672.3 339.6,671.6 340.1,670.5 340.6,669 341.1,667.1 341.6,664.6 342.1,661.4 342.6,657.3 343.1,652.4 343.6,646.5 344.1,639.6 344.6,631.9 345.1,623.6 345.6,615 346.1,606.6 346.6,599.4 347.1,594.4 347.6,595.1 348.1,600.7 348.6,608.2 349.1,616.7 349.6,625.3 350.1,633.5 350.6,641.1 351.1,647.7 351.6,653.5 352.1,658.2 352.6,662.1 353.1,665.1 353.6,667.5 354.1,669.4 354.6,670.7 355.1,671.7 355.6,672.5 356.1,673 356.5,674.1" fill="#d8141b" stroke="#402020" stroke-width="0.5"/>
<polygon points="368.8,674.1 369.1,674 369.6,674 370.1,674 370.6,673.9 371.1,673.9 371.6,673.9 372.1,673.8 372.6,673.7 373.1,673.6 373.6,673.5 374.1,673.4 374.6,673.3 375.1,673.1 375.6,672.9 376.1,672.7 376.6,672.4 377.1,672.1 377.6,671.8 378.1,671.5 378.6,671.1 379.1,670.7 379.6,670.3 380.1,669.8 380.6,669.4 381.1,669 381.6,668.6 382.1,668.3 382.6,668 383.1,667.8 383.6,667.9 384.1,668.1 384.6,668.5 385.1,668.8 385.6,669.2 386.1,669.7 386.6,670.1 387.1,670.5 387.6,670.9 388.1,671.3 388.6,671.7 389.1,672 389.6,672.3 390.1,672.6 390.6,672.8 391.1,673 391.6,673.2 392.1,673.3 392.6,673.5 393.1,673.6 393.6,673.7 394.1,673.8 394.6,673.8 395.1,673.9 395.6,673.9 396.1,674 396.6,674 397.1,674 397.6,674.1" fill="#d8141b" stroke="#402020" stroke-width="0.5"/>
<polyline points="338.1,674.1 338.6,674.1 339.1,674.1 339.6,674.1 340.1,674.1 340.6,674.1 341.1,674.1 341.6,674.1 342.1,674.1 342.6,674.1 343.1,674 343.6,673.9 344.1,673.9 344.6,673.7 345.1,673.6 345.6,673.3 346.1,673 346.6,672.5 347.1,671.9 347.6,671.3 348.1,670.7 348.6,670.1 349.1,669.5 349.6,669.1 350.1,668.8 350.6,668.6 351.1,668.4 351.6,668.3 352.1,668.2 352.6,668.2 353.1,668.2 353.6,668.1 354.1,668.1 354.6,668.1 355.1,668.1 355.6,668.1 356.1,668.1 356.6,668.1 357.1,668.1 357.6,668.1 358.1,668.1 358.6,668.1 359.1,668.1 359.6,668.1 360.1,668.1 360.6,668.1 361.1,668.1 361.6,668.1 362.1,668.1 362.6,668.1 363.1,668.1 363.6,668.1 364.1,668.1 364.6,668.1 365.1,668.1 365.6,668.1 366.1,668.1 366.6,668.1 367.1,668.1 367.6,668.1 368.1,668.1 368.6,668.1 369.1,668.1 369.6,668.1 370.1,668.1 370.6,668.1 371.1,668.1 371.6,668.1 372.1,668.1 372.6,668.1 373.1,668.1 373.6,668.1 374.1,668.1 374.6,668.1 375.1,668.1 375.6,668.1 376.1,668.1 376.6,668.1 377.1,668.1 377.6,668.1 378.1,668.2 378.6,668.2 379.1,668.2 379.6,668.3 380.1,668.3 380.6,668.4 381.1,668.5 381.6,668.6 382.1,668.8 382.6,669 383.1,669.3 383.6,669.6 384.1,670 384.6,670.4 385.1,670.9 385.6,671.3 386.1,671.8 386.6,672.2 387.1,672.6 387.6,672.9 388.1,673.2 388.6,673.4 389.1,673.6 389.6,673.7 390.1,673.8 390.6,673.9 391.1,673.9 391.6,674 392.1,674 392.6,674 393.1,674 393.6,674.1 394.1,674.1 394.6,674.1 395.1,674.1 395.6,674.1 396.1,674.1 396.6,674.1 397.1,674.1" fill="none" stroke="#802020" stroke-width="0.5"/>
<polyline points="338.1,672.5 338.6,672.1 339.1,671.6 339.6,671.9 340.1,670.2 340.6,668.9 341.1,666.9 341.6,664.9 342.1,661.6 342.6,657.2 343.1,652.5 343.6,646.2 344.1,639.4 344.6,631.6 345.1,623 345.6,614.2 346.1,603.8 346.6,590.6 347.1,578.1 347.6,579.2 348.1,591.6 348.6,603 349.1,612.1 349.6,620.3 350.1,628.2 350.6,635.5 351.1,642.5 351.6,648 352.1,651.8 352.6,656.1 353.1,659 353.6,661 354.1,663.4 354.6,665.2 355.1,665.2 355.6,666.1 356.1,666.6 356.6,667 357.1,666.7 357.6,667.8 358.1,667.3 358.6,667.9 359.1,667.7 359.6,667.6 360.1,668.1 360.6,668.5 361.1,667.9 361.6,667.6 362.1,667.8 362.6,668 363.1,667.7 363.6,668.3 364.1,668.3 364.6,668.1 365.1,667.4 365.6,668.3 366.1,668.4 366.6,668.4 367.1,668.5 367.6,668.2 368.1,667.8 368.6,667.4 369.1,668.1 369.6,668 370.1,668.1 370.6,668 371.1,667.3 371.6,667.6 372.1,667.9 372.6,668.1 373.1,667 373.6,667 374.1,666.8 374.6,667.4 375.1,666.8 375.6,666.1 376.1,666.4 376.6,665.6 377.1,666.4 377.6,665 378.1,666 378.6,665.1 379.1,665.3 379.6,663.8 380.1,663.6 380.6,662.9 381.1,662.8 381.6,662.3 382.1,662.7 382.6,662 383.1,662.5 383.6,663.4 384.1,663.2 384.6,664.7 385.1,665.8 385.6,666.9 386.1,667.2 386.6,668.4 387.1,668.2 387.6,668.9 388.1,670.6 388.6,671.3 389.1,671.2 389.6,672.2 390.1,672 390.6,671.9 391.1,673 391.6,673 392.1,672.5 392.6,673.3 393.1,673.6 393.6,673.7 394.1,673.8 394.6,673.8 395.1,673.9 395.6,673.9 396.1,674 396.6,674 397.1,674" fill="none" stroke="#333" stroke-width="0.6"/>
<polyline points="338.1,672.5 338.6,672.1 339.1,671.6 339.6,671.9 340.1,670.2 340.6,668.9 341.1,666.9 341.6,664.9 342.1,661.6 342.6,657.2 343.1,652.5 343.6,646.2 344.1,639.4 344.6,631.6 345.1,623 345.6,614.2 346.1,603.8 346.6,590.6 347.1,578.1 347.6,579.2 348.1,591.6 348.6,603 349.1,612.1 349.6,620.3 350.1,627 350.6,634.3 351.1,641.3 351.6,646.8 352.1,650.6 352.6,654.9 353.1,657.8 353.6,659.8 354.1,662.2 354.6,664 355.1,664 355.6,664.9 356.1,665.4 356.6,665.8 357.1,665.5 357.6,666.6 358.1,666.1 358.6,666.7 359.1,666.5 359.6,666.4 360.1,666.9 360.6,667.3 361.1,666.7 361.6,666.4 362.1,666.6 362.6,666.8 363.1,666.5 363.6,667.1 364.1,667.1 364.6,666.9 365.1,666.2 365.6,667.1 366.1,667.2 366.6,667.2 367.1,667.3 367.6,667 368.1,666.6 368.6,666.2 369.1,666.9 369.6,666.8 370.1,666.9 370.6,666.8 371.1,666.1 371.6,666.4 372.1,666.7 372.6,666.9 373.1,665.8 373.6,665.8 374.1,665.6 374.6,666.2 375.1,665.6 375.6,664.9 376.1,665.2 376.6,664.4 377.1,665.2 377.6,663.8 378.1,664.8 378.6,663.9 379.1,664.1 379.6,662.6 380.1,662.4 380.6,661.7 381.1,661.6 381.6,661.1 382.1,661.5 382.6,660.8 383.1,661.3 383.6,662.2 384.1,662 384.6,663.5 385.1,664.6 385.6,665.7 386.1,666 386.6,667.2 387.1,667 387.6,667.7 388.1,669.4 388.6,670.1 389.1,670 389.6,672.2 390.1,670.8 390.6,670.7 391.1,673 391.6,673 392.1,672.5 392.6,673.3 393.1,673.6 393.6,673.7 394.1,673.8 394.6,673.8 395.1,673.9 395.6,673.9 396.1,674 396.6,674 397.1,674" fill="none" stroke="#888" stroke-width="0.5"/>
<text font-size="9.04" text-anchor="start" fill="#222" color="#222" transform="translate(354,592.3) scale(1.100,1)" style="stroke:none">G0/G1=64.36%</text>
<text font-size="8.85" text-anchor="start" fill="#222" color="#222" transform="translate(354.5,602.5) scale(1.100,1)" style="stroke:none">G2=9.32%</text>
<text font-size="9.03" text-anchor="start" fill="#222" color="#222" transform="translate(354.5,612.7) scale(1.100,1)" style="stroke:none">S=26.32%</text>
<line x1="440.2" y1="576.7" x2="440.2" y2="674.1" stroke="#333" stroke-width="1"/>
<line x1="440.2" y1="674.1" x2="553.8" y2="674.1" stroke="#333" stroke-width="1"/>
<text font-size="3.82" text-anchor="middle" fill="#555" color="#555" transform="translate(435.2,674.1) rotate(-90) scale(1.100,1)">0</text>
<text font-size="3.82" text-anchor="middle" fill="#555" color="#555" transform="translate(435.2,649.8) rotate(-90) scale(1.100,1)">200</text>
<text font-size="3.82" text-anchor="middle" fill="#555" color="#555" transform="translate(435.2,625.4) rotate(-90) scale(1.100,1)">400</text>
<text font-size="3.82" text-anchor="middle" fill="#555" color="#555" transform="translate(435.2,601.1) rotate(-90) scale(1.100,1)">600</text>
<text font-size="3.82" text-anchor="middle" fill="#555" color="#555" transform="translate(435.2,576.7) rotate(-90) scale(1.100,1)">800</text>
<text font-size="3.82" text-anchor="middle" fill="#555" color="#555" transform="translate(440.2,682.6) scale(1.100,1)">0</text>
<text font-size="3.82" text-anchor="middle" fill="#555" color="#555" transform="translate(456.4,682.6) scale(1.100,1)">20</text>
<text font-size="3.82" text-anchor="middle" fill="#555" color="#555" transform="translate(472.7,682.6) scale(1.100,1)">40</text>
<text font-size="3.82" text-anchor="middle" fill="#555" color="#555" transform="translate(488.9,682.6) scale(1.100,1)">60</text>
<text font-size="3.82" text-anchor="middle" fill="#555" color="#555" transform="translate(505.1,682.6) scale(1.100,1)">80</text>
<text font-size="3.82" text-anchor="middle" fill="#555" color="#555" transform="translate(521.3,682.6) scale(1.100,1)">100</text>
<text font-size="3.82" text-anchor="middle" fill="#555" color="#555" transform="translate(537.6,682.6) scale(1.100,1)">120</text>
<text font-size="3.82" text-anchor="middle" fill="#555" color="#555" transform="translate(553.8,682.6) scale(1.100,1)">140</text>
<path d="M437.2 674.1h3M438.7 669.2h1.5M438.7 664.4h1.5M438.7 659.5h1.5M438.7 654.6h1.5M437.2 649.8h3M438.7 644.9h1.5M438.7 640h1.5M438.7 635.1h1.5M438.7 630.3h1.5M437.2 625.4h3M438.7 620.5h1.5M438.7 615.7h1.5M438.7 610.8h1.5M438.7 605.9h1.5M437.2 601.1h3M438.7 596.2h1.5M438.7 591.3h1.5M438.7 586.4h1.5M438.7 581.6h1.5M437.2 576.7h3M440.2 674.1v3M443.4 674.1v1.5M446.7 674.1v1.5M449.9 674.1v1.5M453.2 674.1v1.5M456.4 674.1v3M459.7 674.1v1.5M462.9 674.1v1.5M466.2 674.1v1.5M469.4 674.1v1.5M472.7 674.1v3M475.9 674.1v1.5M479.1 674.1v1.5M482.4 674.1v1.5M485.6 674.1v1.5M488.9 674.1v3M492.1 674.1v1.5M495.4 674.1v1.5M498.6 674.1v1.5M501.9 674.1v1.5M505.1 674.1v3M508.4 674.1v1.5M511.6 674.1v1.5M514.9 674.1v1.5M518.1 674.1v1.5M521.3 674.1v3M524.6 674.1v1.5M527.8 674.1v1.5M531.1 674.1v1.5M534.3 674.1v1.5M537.6 674.1v3M540.8 674.1v1.5M544.1 674.1v1.5M547.3 674.1v1.5M550.6 674.1v1.5M553.8 674.1v3" stroke="#333" stroke-width=".7"/>
<text font-size="3.82" text-anchor="middle" fill="#555" color="#555" transform="translate(497,688.6) scale(1.100,1)">FL2-A/PE-A</text>
<text font-size="3.82" text-anchor="middle" fill="#555" color="#555" transform="translate(429.2,631.4) rotate(-90) scale(1.100,1)">Number</text>
<polygon points="485.6,674.1 485.6,617.3 486.1,622.7 486.6,628 487.1,633 487.6,637.8 488.1,641.3 488.6,645.5 489.1,649.4 489.6,652.7 490.1,654.5 490.6,658 491.1,659 491.6,660.5 492.1,662.9 492.6,663.8 493.1,664.7 493.6,665.1 494.1,666 494.6,665.7 495.1,666 495.6,667.2 496.1,666.6 496.6,667.9 497.1,668 497.6,667.3 498.1,667.2 498.6,667.3 499.1,667.1 499.6,667.3 500.1,668.1 500.6,667.5 501.1,667.2 501.6,668.4 502.1,667.8 502.6,668.3 503.1,668.3 503.6,667.8 504.1,667.5 504.6,667 505.1,668.1 505.6,667.6 506.1,666.8 506.6,667.1 507.1,667.4 507.6,667.7 508.1,667.1 508.6,667.5 509.1,666.8 509.6,666.7 510.1,667 510.6,666.3 511.1,666.7 511.6,666.5 512.1,665.8 512.6,666.5 513.1,666.4 513.6,665.7 514.1,665.8 514.6,665.1 515.1,665.9 515.6,665.6 516.1,666.1 516.6,665.6 517.1,665.9 517.6,665.9 518.1,665.8 518.6,667.2 519.1,666.3 519.6,667.2 520.1,667.6 520.6,668.6 521.1,669.1 521.6,669.8 522.1,670.3 522.6,671 523.1,671.3 523.6,671.7 524.1,672 524.6,671.5 525.1,671.9 525.6,672.4 526.1,673.4 526.6,673.3 527.1,673 527.6,672.9 528.1,673.4 528.6,673.2 529.1,673.7 529.6,673.7 530.1,673.8 530.6,673.9 531.1,673.9 531.6,673.9 532.1,674 532.6,674 533.1,674 533.6,674 534.1,674 534.6,674.1 535.1,674.1 535.1,674.1" fill="url(#hatch)"/>
<polygon points="469.6,674.1 469.6,673.3 470.1,673.1 470.6,672.8 471.1,672.4 471.6,671.9 472.1,671.2 472.6,670.4 473.1,669.5 473.6,668.3 474.1,666.9 474.6,665.1 475.1,663.1 475.6,660.7 476.1,657.9 476.6,654.7 477.1,651 477.6,646.9 478.1,642.4 478.6,637.4 479.1,632.1 479.6,626.6 480.1,620.9 480.6,615.2 481.1,609.8 481.6,604.8 482.1,600.7 482.6,598 483.1,598.4 483.6,601.5 484.1,605.7 484.6,610.8 485.1,616.3 485.6,622 486.1,627.7 486.6,633.2 487.1,638.5 487.6,643.3 488.1,647.8 488.6,651.8 489.1,655.4 489.6,658.5 490.1,661.2 490.6,663.5 491.1,665.5 491.6,667.2 492.1,668.6 492.6,669.7 493.1,670.6 493.6,671.4 494.1,672 494.6,672.5 495.1,672.8 495.6,673.1 496,674.1" fill="#d8141b" stroke="#402020" stroke-width="0.5"/>
<polygon points="499.5,674.1 499.6,674.1 500.1,674.1 500.6,674 501.1,674 501.6,674 502.1,674 502.6,674 503.1,674 503.6,673.9 504.1,673.9 504.6,673.9 505.1,673.8 505.6,673.8 506.1,673.7 506.6,673.7 507.1,673.6 507.6,673.5 508.1,673.4 508.6,673.3 509.1,673.2 509.6,673.1 510.1,673 510.6,672.8 511.1,672.7 511.6,672.5 512.1,672.4 512.6,672.2 513.1,672 513.6,671.8 514.1,671.6 514.6,671.4 515.1,671.3 515.6,671.1 516.1,671 516.6,670.8 517.1,670.7 517.6,670.7 518.1,670.8 518.6,670.9 519.1,671 519.6,671.2 520.1,671.3 520.6,671.5 521.1,671.7 521.6,671.9 522.1,672.1 522.6,672.3 523.1,672.4 523.6,672.6 524.1,672.7 524.6,672.9 525.1,673 525.6,673.2 526.1,673.3 526.6,673.4 527.1,673.5 527.6,673.6 528.1,673.6 528.6,673.7 529.1,673.8 529.6,673.8 530.1,673.8 530.6,673.9 531.1,673.9 531.6,673.9 532.1,674 532.6,674 533.1,674 533.6,674 534.1,674 534.6,674.1 535.1,674.1 535.5,674.1" fill="#d8141b" stroke="#402020" stroke-width="0.5"/>
<polyline points="469.6,674.1 470.1,674.1 470.6,674.1 471.1,674.1 471.6,674.1 472.1,674.1 472.6,674.1 473.1,674.1 473.6,674.1 474.1,674.1 474.6,674.1 475.1,674.1 475.6,674.1 476.1,674.1 476.6,674 477.1,674 477.6,673.9 478.1,673.9 478.6,673.8 479.1,673.7 479.6,673.6 480.1,673.4 480.6,673.2 481.1,672.9 481.6,672.6 482.1,672.3 482.6,671.9 483.1,671.4 483.6,671 484.1,670.5 484.6,670.1 485.1,669.7 485.6,669.4 486.1,669.1 486.6,668.9 487.1,668.7 487.6,668.6 488.1,668.4 488.6,668.4 489.1,668.3 489.6,668.2 490.1,668.2 490.6,668.2 491.1,668.2 491.6,668.1 492.1,668.1 492.6,668.1 493.1,668.1 493.6,668.1 494.1,668.1 494.6,668.1 495.1,668.1 495.6,668.1 496.1,668.1 496.6,668.1 497.1,668.1 497.6,668.1 498.1,668.1 498.6,668.1 499.1,668.1 499.6,668.1 500.1,668.1 500.6,668.1 501.1,668.1 501.6,668.1 502.1,668.1 502.6,668.1 503.1,668.1 503.6,668.1 504.1,668.1 504.6,668.1 505.1,668.1 505.6,668.1 506.1,668.1 506.6,668.1 507.1,668.1 507.6,668.1 508.1,668.1 508.6,668.1 509.1,668.1 509.6,668.1 510.1,668.1 510.6,668.2 511.1,668.2 511.6,668.2 512.1,668.2 512.6,668.2 513.1,668.3 513.6,668.3 514.1,668.4 514.6,668.5 515.1,668.5 515.6,668.7 516.1,668.8 516.6,669 517.1,669.2 517.6,669.4 518.1,669.7 518.6,670 519.1,670.3 519.6,670.7 520.1,671 520.6,671.4 521.1,671.8 521.6,672.1 522.1,672.4 522.6,672.7 523.1,672.9 523.6,673.2 524.1,673.3 524.6,673.5 525.1,673.6 525.6,673.7 526.1,673.8 526.6,673.9 527.1,673.9 527.6,673.9 528.1,674 528.6,674 529.1,674 529.6,674 530.1,674.1 530.6,674.1 531.1,674.1 531.6,674.1 532.1,674.1 532.6,674.1 533.1,674.1 533.6,674.1 534.1,674.1 534.6,674.1 535.1,674.1" fill="none" stroke="#802020" stroke-width="0.5"/>
<polyline points="469.6,672.8 470.1,672.4 470.6,673 471.1,671.5 471.6,672.1 472.1,670.8 472.6,670.8 473.1,668.9 473.6,668.6 474.1,666.4 474.6,664.6 475.1,662.5 475.6,660.6 476.1,657.2 476.6,653.7 477.1,651.2 477.6,646.5 478.1,642.2 478.6,637.1 479.1,631.7 479.6,626 480.1,620.2 480.6,614.3 481.1,608.1 481.6,601.8 482.1,595.8 482.6,591.4 483.1,591.5 483.6,595.5 484.1,600.9 484.6,606.4 485.1,611.9 485.6,617.3 486.1,622.7 486.6,628 487.1,633 487.6,637.8 488.1,641.3 488.6,645.5 489.1,649.4 489.6,652.7 490.1,654.5 490.6,658 491.1,659 491.6,660.5 492.1,662.9 492.6,663.8 493.1,664.7 493.6,665.1 494.1,666 494.6,665.7 495.1,666 495.6,667.2 496.1,666.6 496.6,667.9 497.1,668 497.6,667.3 498.1,667.2 498.6,667.3 499.1,667.1 499.6,667.3 500.1,668.1 500.6,667.5 501.1,667.2 501.6,668.4 502.1,667.8 502.6,668.3 503.1,668.3 503.6,667.8 504.1,667.5 504.6,667 505.1,668.1 505.6,667.6 506.1,666.8 506.6,667.1 507.1,667.4 507.6,667.7 508.1,667.1 508.6,667.5 509.1,666.8 509.6,666.7 510.1,667 510.6,666.3 511.1,666.7 511.6,666.5 512.1,665.8 512.6,666.5 513.1,666.4 513.6,665.7 514.1,665.8 514.6,665.1 515.1,665.9 515.6,665.6 516.1,666.1 516.6,665.6 517.1,665.9 517.6,665.9 518.1,665.8 518.6,667.2 519.1,666.3 519.6,667.2 520.1,667.6 520.6,668.6 521.1,669.1 521.6,669.8 522.1,670.3 522.6,671 523.1,671.3 523.6,671.7 524.1,672 524.6,671.5 525.1,671.9 525.6,672.4 526.1,673.4 526.6,673.3 527.1,673 527.6,672.9 528.1,673.4 528.6,673.2 529.1,673.7 529.6,673.7 530.1,673.8 530.6,673.9 531.1,673.9 531.6,673.9 532.1,674 532.6,674 533.1,674 533.6,674 534.1,674 534.6,674.1 535.1,674.1" fill="none" stroke="#333" stroke-width="0.6"/>
<polyline points="469.6,672.8 470.1,672.4 470.6,673 471.1,671.5 471.6,672.1 472.1,670.8 472.6,670.8 473.1,668.9 473.6,668.6 474.1,666.4 474.6,664.6 475.1,662.5 475.6,660.6 476.1,657.2 476.6,653.7 477.1,651.2 477.6,646.5 478.1,642.2 478.6,637.1 479.1,631.7 479.6,626 480.1,620.2 480.6,614.3 481.1,608.1 481.6,601.8 482.1,595.8 482.6,591.4 483.1,591.5 483.6,595.5 484.1,600.9 484.6,606.4 485.1,611.9 485.6,617.3 486.1,622.7 486.6,628 487.1,631.8 487.6,636.6 488.1,640.1 488.6,644.3 489.1,648.2 489.6,651.5 490.1,653.3 490.6,656.8 491.1,657.8 491.6,659.3 492.1,661.7 492.6,662.6 493.1,663.5 493.6,663.9 494.1,664.8 494.6,664.5 495.1,664.8 495.6,666 496.1,665.4 496.6,666.7 497.1,666.8 497.6,666.1 498.1,666 498.6,666.1 499.1,665.9 499.6,666.1 500.1,666.9 500.6,666.3 501.1,666 501.6,667.2 502.1,666.6 502.6,667.1 503.1,667.1 503.6,666.6 504.1,666.3 504.6,665.8 505.1,666.9 505.6,666.4 506.1,665.6 506.6,665.9 507.1,666.2 507.6,666.5 508.1,665.9 508.6,666.3 509.1,665.6 509.6,665.5 510.1,665.8 510.6,665.1 511.1,665.5 511.6,665.3 512.1,664.6 512.6,665.3 513.1,665.2 513.6,664.5 514.1,664.6 514.6,663.9 515.1,664.7 515.6,664.4 516.1,664.9 516.6,664.4 517.1,664.7 517.6,664.7 518.1,664.6 518.6,666 519.1,665.1 519.6,666 520.1,666.4 520.6,667.4 521.1,667.9 521.6,668.6 522.1,669.1 522.6,669.8 523.1,670.1 523.6,670.5 524.1,670.8 524.6,670.3 525.1,670.7 525.6,672.4 526.1,673.4 526.6,673.3 527.1,673 527.6,672.9 528.1,673.4 528.6,673.2 529.1,673.7 529.6,673.7 530.1,673.8 530.6,673.9 531.1,673.9 531.6,673.9 532.1,674 532.6,674 533.1,674 533.6,674 534.1,674 534.6,674.1 535.1,674.1" fill="none" stroke="#888" stroke-width="0.5"/>
<text font-size="8.91" text-anchor="start" fill="#222" color="#222" transform="translate(492.3,592.3) scale(1.100,1)" style="stroke:none">G0/G1=74.45%</text>
<text font-size="8.95" text-anchor="start" fill="#222" color="#222" transform="translate(491.8,602.5) scale(1.100,1)" style="stroke:none">G2=5.01%</text>
<text font-size="9.04" text-anchor="start" fill="#222" color="#222" transform="translate(491.3,613.7) scale(1.100,1)" style="stroke:none">S=20.54%</text>
<text font-size="8.65" text-anchor="middle" fill="#000" color="#000" transform="translate(83.9,706.2) scale(1.100,1)">si-NC</text>
<text font-size="9.23" text-anchor="middle" fill="#000" color="#000" transform="translate(222,706.2) scale(1.100,1)">si-SMYD3#2</text>
<text font-size="8.73" text-anchor="middle" fill="#000" color="#000" transform="translate(368.3,706.2) scale(1.100,1)">si-NC</text>
<text font-size="8.98" text-anchor="middle" fill="#000" color="#000" transform="translate(498.4,706.2) scale(1.100,1)">si-SMYD3#2</text>
<text font-size="16.50" text-anchor="start" fill="#111" color="#111" transform="translate(558.3,538.6)">G</text>
<text font-size="10.55" text-anchor="middle" fill="#000" color="#000" transform="translate(669,536) scale(1.100,1)">A549/DDP</text>
<text font-size="10.36" text-anchor="middle" fill="#000" color="#000" transform="translate(745.8,536) scale(1.100,1)">H1299/DDP</text>
<clipPath id="c13"><rect x="622.4" y="541.6" width="81.6" height="32.7"/></clipPath>
<g clip-path="url(#c13)">
<rect x="622.4" y="541.6" width="81.6" height="32.7" fill="#e4e4e4"/>
<rect x="660" y="538.6" width="7" height="38.7" fill="#eeeeee" opacity="0.8" filter="url(#bl3)"/>
<g filter="url(#bl1)">
<rect x="627.2" y="554.6" width="29.8" height="5.6" rx="2.8" fill="#000" opacity="0.55"/>
<rect x="667.5" y="554.3" width="32.1" height="6.4" rx="3.2" fill="#000" opacity="0.92"/>
</g></g>
<rect x="622.4" y="541.6" width="81.6" height="32.7" fill="none" stroke="#0a0a0a" stroke-width="1.7"/>
<clipPath id="c14"><rect x="706.4" y="541.6" width="81.6" height="32.7"/></clipPath>
<g clip-path="url(#c14)">
<rect x="706.4" y="541.6" width="81.6" height="32.7" fill="#e0e0e0"/>
<rect x="744" y="538.6" width="7" height="38.7" fill="#f4f4f4" opacity="0.9" filter="url(#bl3)"/>
<rect x="706" y="538.6" width="84" height="38.7" fill="#d8d8d8" opacity="0.25" filter="url(#bl3)"/>
<g filter="url(#bl1)">
<rect x="712.8" y="553.7" width="29.3" height="5.4" rx="2.7" fill="#000" opacity="0.5"/><ellipse cx="717.8" cy="556.4" rx="5" ry="3.2" fill="#000" opacity="0.1"/><ellipse cx="737.1" cy="556.4" rx="5" ry="3.2" fill="#000" opacity="0.35"/>
<rect x="752.6" y="553.7" width="29.9" height="5.6" rx="2.8" fill="#000" opacity="0.85"/><ellipse cx="758.1" cy="556.5" rx="5.5" ry="3.4" fill="#000" opacity="0.9"/><ellipse cx="777" cy="556.5" rx="5.5" ry="3.4" fill="#000" opacity="0.9"/>
</g></g>
<rect x="706.4" y="541.6" width="81.6" height="32.7" fill="none" stroke="#0a0a0a" stroke-width="1.7"/>
<clipPath id="c15"><rect x="622.4" y="578.7" width="81.6" height="32.6"/></clipPath>
<g clip-path="url(#c15)">
<rect x="622.4" y="578.7" width="81.6" height="32.6" fill="#ececec"/>
<g filter="url(#bl1)">
<rect x="628.3" y="591.2" width="26.5" height="6" rx="3" fill="#000" opacity="0.6"/><ellipse cx="632.8" cy="594.2" rx="4.5" ry="3.6" fill="#000" opacity="0.2"/><ellipse cx="650.3" cy="594.2" rx="4.5" ry="3.6" fill="#000" opacity="0.3"/>
<rect x="670.9" y="591.5" width="26.5" height="5" rx="2.5" fill="#000" opacity="0.22"/><ellipse cx="674.9" cy="594" rx="4" ry="3" fill="#000" opacity="0.08"/><ellipse cx="693.4" cy="594" rx="4" ry="3" fill="#000" opacity="0.12"/>
</g></g>
<rect x="622.4" y="578.7" width="81.6" height="32.6" fill="none" stroke="#0a0a0a" stroke-width="1.7"/>
<clipPath id="c16"><rect x="706.4" y="578.7" width="81.6" height="32.6"/></clipPath>
<g clip-path="url(#c16)">
<rect x="706.4" y="578.7" width="81.6" height="32.6" fill="#f0f0f0"/>
<g filter="url(#bl1)">
<rect x="713.4" y="592.6" width="29.3" height="5.6" rx="2.8" fill="#000" opacity="0.55"/><ellipse cx="718.9" cy="595.4" rx="5.5" ry="3.4" fill="#000" opacity="1"/>
<rect x="754.3" y="592.7" width="28.7" height="5.4" rx="2.7" fill="#000" opacity="0.38"/>
</g></g>
<rect x="706.4" y="578.7" width="81.6" height="32.6" fill="none" stroke="#0a0a0a" stroke-width="1.7"/>
<clipPath id="c17"><rect x="622.4" y="616.7" width="81.6" height="32.1"/></clipPath>
<g clip-path="url(#c17)">
<rect x="622.4" y="616.7" width="81.6" height="32.1" fill="#e8e8e8"/>
<g filter="url(#bl1)">
<rect x="628.3" y="630.2" width="27.1" height="5.6" rx="2.8" fill="#000" opacity="0.78"/><ellipse cx="632.8" cy="633" rx="4.5" ry="3.4" fill="#000" opacity="0.5"/>
<rect x="668.6" y="630.5" width="29.4" height="4.6" rx="2.3" fill="#000" opacity="0.33"/>
</g></g>
<rect x="622.4" y="616.7" width="81.6" height="32.1" fill="none" stroke="#0a0a0a" stroke-width="1.7"/>
<clipPath id="c18"><rect x="706.4" y="616.7" width="81.6" height="32.1"/></clipPath>
<g clip-path="url(#c18)">
<rect x="706.4" y="616.7" width="81.6" height="32.1" fill="#e4e4e4"/>
<g filter="url(#bl1)">
<rect x="713.4" y="628.7" width="26.5" height="5.8" rx="2.9" fill="#000" opacity="0.72"/><ellipse cx="717.9" cy="631.6" rx="4.5" ry="3.5" fill="#000" opacity="0.7"/>
<rect x="756" y="629.6" width="25.4" height="4.6" rx="2.3" fill="#000" opacity="0.25"/>
</g></g>
<rect x="706.4" y="616.7" width="81.6" height="32.1" fill="none" stroke="#0a0a0a" stroke-width="1.7"/>
<clipPath id="c19"><rect x="622.4" y="654.1" width="81.6" height="32"/></clipPath>
<g clip-path="url(#c19)">
<rect x="622.4" y="654.1" width="81.6" height="32" fill="#b6b6b6"/>
<g filter="url(#bl1)">
<rect x="628.3" y="666" width="30.4" height="8" rx="4" fill="#000" opacity="1"/>
<rect x="667" y="666.5" width="32" height="7.4" rx="3.7" fill="#000" opacity="1"/>
</g></g>
<rect x="622.4" y="654.1" width="81.6" height="32" fill="none" stroke="#0a0a0a" stroke-width="1.7"/>
<clipPath id="c20"><rect x="706.4" y="654.1" width="81.6" height="32"/></clipPath>
<g clip-path="url(#c20)">
<rect x="706.4" y="654.1" width="81.6" height="32" fill="#e2e2e2"/>
<g filter="url(#bl1)">
<rect x="711.2" y="665.6" width="32" height="7.2" rx="3.6" fill="#000" opacity="1"/>
<rect x="751" y="666.3" width="32.6" height="7" rx="3.5" fill="#000" opacity="1"/><ellipse cx="777.6" cy="670.3" rx="6" ry="4.2" fill="#000" opacity="0.9"/>
</g></g>
<rect x="706.4" y="654.1" width="81.6" height="32" fill="none" stroke="#0a0a0a" stroke-width="1.7"/>
<text font-size="9.15" text-anchor="end" fill="#000" color="#000" transform="translate(621.5,560.5) scale(1.100,1)">E-cadherin</text>
<text font-size="9.15" text-anchor="end" fill="#000" color="#000" transform="translate(622,595.4) scale(1.100,1)">N-cadherin</text>
<text font-size="9.26" text-anchor="end" fill="#000" color="#000" transform="translate(620,633.2) scale(1.100,1)">vimentin</text>
<text font-size="9.15" text-anchor="end" fill="#000" color="#000" transform="translate(617.6,672.5) scale(1.100,1)">GAPDH</text>
<text font-size="9.27" text-anchor="end" fill="#000" color="#000" transform="translate(645.4,696.3) rotate(-45) scale(1.100,1)">si-NC</text>
<text font-size="9.08" text-anchor="end" fill="#000" color="#000" transform="translate(685,696.3) rotate(-45) scale(1.100,1)">si-SMYD3#2</text>
<text font-size="8.96" text-anchor="end" fill="#000" color="#000" transform="translate(735.4,696.3) rotate(-45) scale(1.100,1)">si-NC</text>
<text font-size="9.08" text-anchor="end" fill="#000" color="#000" transform="translate(777.2,696.9) rotate(-45) scale(1.100,1)">si-SMYD3#2</text>
<text font-size="10.30" text-anchor="middle" fill="#000" color="#000" transform="translate(117.1,749) scale(1.100,1)">A549/DDP</text>
<line x1="28" y1="772.1" x2="28" y2="870.2" stroke="#333" stroke-width="1"/>
<line x1="28" y1="870.2" x2="173.4" y2="870.2" stroke="#333" stroke-width="1"/>
<line x1="25" y1="870.2" x2="28" y2="870.2" stroke="#333" stroke-width="1"/>
<text font-size="8.63" text-anchor="end" fill="#000" color="#000" transform="translate(25.4,871.1)">0</text>
<line x1="25" y1="850.6" x2="28" y2="850.6" stroke="#333" stroke-width="1"/>
<text font-size="8.63" text-anchor="end" fill="#000" color="#000" transform="translate(25.4,851.5)">20</text>
<line x1="25" y1="831" x2="28" y2="831" stroke="#333" stroke-width="1"/>
<text font-size="8.63" text-anchor="end" fill="#000" color="#000" transform="translate(25.4,831.9)">40</text>
<line x1="25" y1="811.3" x2="28" y2="811.3" stroke="#333" stroke-width="1"/>
<text font-size="8.63" text-anchor="end" fill="#000" color="#000" transform="translate(25.4,812.2)">60</text>
<line x1="25" y1="791.7" x2="28" y2="791.7" stroke="#333" stroke-width="1"/>
<text font-size="8.63" text-anchor="end" fill="#000" color="#000" transform="translate(25.4,792.6)">80</text>
<line x1="25" y1="772.1" x2="28" y2="772.1" stroke="#333" stroke-width="1"/>
<text font-size="8.63" text-anchor="end" fill="#000" color="#000" transform="translate(25.4,773)">100</text>
<line x1="43.4" y1="808.5" x2="43.4" y2="806.5" stroke="#222" stroke-width="1"/>
<line x1="40.3" y1="806.5" x2="46.4" y2="806.5" stroke="#222" stroke-width="1"/>
<rect x="37.2" y="808.5" width="12.3" height="61.7" fill="#ffffff" stroke="#222" stroke-width="1"/>
<line x1="61.6" y1="795" x2="61.6" y2="793.1" stroke="#222" stroke-width="1"/>
<line x1="58.6" y1="793.1" x2="64.7" y2="793.1" stroke="#222" stroke-width="1"/>
<rect x="55.5" y="795" width="12.3" height="75.2" fill="#a09fa4" stroke="#222" stroke-width="1"/>
<line x1="92.3" y1="861.1" x2="92.3" y2="860.4" stroke="#222" stroke-width="1"/>
<line x1="89.3" y1="860.4" x2="95.4" y2="860.4" stroke="#222" stroke-width="1"/>
<rect x="86.2" y="861.1" width="12.3" height="9.1" fill="#ffffff" stroke="#222" stroke-width="1"/>
<line x1="110.9" y1="866.2" x2="110.9" y2="864.3" stroke="#222" stroke-width="1"/>
<line x1="107.7" y1="864.3" x2="114.1" y2="864.3" stroke="#222" stroke-width="1"/>
<rect x="104.5" y="866.2" width="12.8" height="4" fill="#a09fa4" stroke="#222" stroke-width="1"/>
<line x1="141.3" y1="842.8" x2="141.3" y2="840.4" stroke="#222" stroke-width="1"/>
<line x1="138.3" y1="840.4" x2="144.4" y2="840.4" stroke="#222" stroke-width="1"/>
<rect x="135.2" y="842.8" width="12.3" height="27.4" fill="#ffffff" stroke="#222" stroke-width="1"/>
<line x1="160" y1="851.5" x2="160" y2="850.7" stroke="#222" stroke-width="1"/>
<line x1="156.8" y1="850.7" x2="163.2" y2="850.7" stroke="#222" stroke-width="1"/>
<rect x="153.7" y="851.5" width="12.6" height="18.7" fill="#a09fa4" stroke="#222" stroke-width="1"/>
<line x1="52.5" y1="870.2" x2="52.5" y2="873" stroke="#333" stroke-width="1"/>
<line x1="101.8" y1="870.2" x2="101.8" y2="873" stroke="#333" stroke-width="1"/>
<line x1="150.8" y1="870.2" x2="150.8" y2="873" stroke="#333" stroke-width="1"/>
<line x1="43.3" y1="784.4" x2="61.7" y2="784.4" stroke="#222" stroke-width="1.1"/>
<g fill="#111"><polygon points="50.33,779.05 50.88,780.43 52.37,780.54 51.23,781.49 51.59,782.94 50.33,782.15 49.06,782.94 49.42,781.49 48.28,780.54 49.77,780.43"/><polygon points="54.67,779.05 55.23,780.43 56.72,780.54 55.58,781.49 55.94,782.94 54.67,782.15 53.41,782.94 53.77,781.49 52.63,780.54 54.12,780.43"/></g>
<line x1="92.8" y1="853.4" x2="110.7" y2="853.4" stroke="#222" stroke-width="1.1"/>
<g fill="#111"><polygon points="101.75,845.05 102.31,846.43 103.79,846.54 102.65,847.49 103.01,848.94 101.75,848.15 100.49,848.94 100.85,847.49 99.71,846.54 101.19,846.43"/></g>
<line x1="141.8" y1="833.4" x2="159.7" y2="833.4" stroke="#222" stroke-width="1.1"/>
<g fill="#111"><polygon points="148.57,825.05 149.13,826.43 150.62,826.54 149.48,827.49 149.84,828.94 148.57,828.15 147.31,828.94 147.67,827.49 146.53,826.54 148.02,826.43"/><polygon points="152.93,825.05 153.48,826.43 154.97,826.54 153.83,827.49 154.19,828.94 152.93,828.15 151.66,828.94 152.02,827.49 150.88,826.54 152.37,826.43"/></g>
<text font-size="9.26" text-anchor="end" fill="#000" color="#000" transform="translate(56.2,881.6) rotate(-45) scale(1.100,1)">G0/G1</text>
<text font-size="10.05" text-anchor="end" fill="#000" color="#000" transform="translate(103.4,879.6) rotate(-45) scale(1.100,1)">G2</text>
<text font-size="9.58" text-anchor="end" fill="#000" color="#000" transform="translate(154.8,880) rotate(-45) scale(1.100,1)">S</text>
<text font-size="10.45" text-anchor="middle" fill="#000" color="#000" transform="translate(9.5,814.5) rotate(-90) scale(1.100,1)">Cell cycle (%)</text>
<text font-size="10.39" text-anchor="middle" fill="#000" color="#000" transform="translate(290.5,749.4) scale(1.100,1)">H1299/DDP</text>
<line x1="202.1" y1="768.9" x2="202.1" y2="868.9" stroke="#333" stroke-width="1"/>
<line x1="202.1" y1="868.9" x2="353.9" y2="868.9" stroke="#333" stroke-width="1"/>
<line x1="199.1" y1="868.9" x2="202.1" y2="868.9" stroke="#333" stroke-width="1"/>
<text font-size="9.50" text-anchor="end" fill="#000" color="#000" transform="translate(198.7,871.3)">0</text>
<line x1="199.1" y1="843.9" x2="202.1" y2="843.9" stroke="#333" stroke-width="1"/>
<text font-size="9.50" text-anchor="end" fill="#000" color="#000" transform="translate(198.7,846.3)">20</text>
<line x1="199.1" y1="818.9" x2="202.1" y2="818.9" stroke="#333" stroke-width="1"/>
<text font-size="9.50" text-anchor="end" fill="#000" color="#000" transform="translate(198.7,821.3)">40</text>
<line x1="199.1" y1="793.9" x2="202.1" y2="793.9" stroke="#333" stroke-width="1"/>
<text font-size="9.50" text-anchor="end" fill="#000" color="#000" transform="translate(198.7,796.3)">60</text>
<line x1="199.1" y1="768.9" x2="202.1" y2="768.9" stroke="#333" stroke-width="1"/>
<text font-size="9.50" text-anchor="end" fill="#000" color="#000" transform="translate(198.7,771.3)">80</text>
<line x1="218.6" y1="788.3" x2="218.6" y2="786.4" stroke="#222" stroke-width="1"/>
<line x1="215.4" y1="786.4" x2="221.7" y2="786.4" stroke="#222" stroke-width="1"/>
<rect x="212.2" y="788.3" width="12.7" height="80.6" fill="#ffffff" stroke="#222" stroke-width="1"/>
<line x1="237.7" y1="774.1" x2="237.7" y2="773.4" stroke="#222" stroke-width="1"/>
<line x1="234.7" y1="773.4" x2="240.7" y2="773.4" stroke="#222" stroke-width="1"/>
<rect x="231.7" y="774.1" width="12" height="94.8" fill="#a09fa4" stroke="#222" stroke-width="1"/>
<line x1="269" y1="857.4" x2="269" y2="857" stroke="#222" stroke-width="1"/>
<line x1="265.8" y1="857" x2="272.2" y2="857" stroke="#222" stroke-width="1"/>
<rect x="262.6" y="857.4" width="12.8" height="11.5" fill="#ffffff" stroke="#222" stroke-width="1"/>
<line x1="287.8" y1="863.1" x2="287.8" y2="862" stroke="#222" stroke-width="1"/>
<line x1="284.6" y1="862" x2="291" y2="862" stroke="#222" stroke-width="1"/>
<rect x="281.4" y="863.1" width="12.8" height="5.8" fill="#a09fa4" stroke="#222" stroke-width="1"/>
<line x1="319" y1="836.3" x2="319" y2="833.9" stroke="#222" stroke-width="1"/>
<line x1="315.9" y1="833.9" x2="322.1" y2="833.9" stroke="#222" stroke-width="1"/>
<rect x="312.7" y="836.3" width="12.6" height="32.6" fill="#ffffff" stroke="#222" stroke-width="1"/>
<line x1="338.2" y1="844.2" x2="338.2" y2="843.3" stroke="#222" stroke-width="1"/>
<line x1="335" y1="843.3" x2="341.4" y2="843.3" stroke="#222" stroke-width="1"/>
<rect x="331.9" y="844.2" width="12.6" height="24.7" fill="#a09fa4" stroke="#222" stroke-width="1"/>
<line x1="227.9" y1="868.9" x2="227.9" y2="871.7" stroke="#333" stroke-width="1"/>
<line x1="278.4" y1="868.9" x2="278.4" y2="871.7" stroke="#333" stroke-width="1"/>
<line x1="328.6" y1="868.9" x2="328.6" y2="871.7" stroke="#333" stroke-width="1"/>
<line x1="218.8" y1="769.8" x2="236.7" y2="769.8" stroke="#222" stroke-width="1.1"/>
<g fill="#111"><polygon points="223.40,764.45 223.96,765.83 225.44,765.94 224.30,766.89 224.66,768.34 223.40,767.55 222.14,768.34 222.50,766.89 221.36,765.94 222.84,765.83"/><polygon points="227.75,764.45 228.31,765.83 229.79,765.94 228.65,766.89 229.01,768.34 227.75,767.55 226.49,768.34 226.85,766.89 225.71,765.94 227.19,765.83"/><polygon points="232.10,764.45 232.66,765.83 234.14,765.94 233.00,766.89 233.36,768.34 232.10,767.55 230.84,768.34 231.20,766.89 230.06,765.94 231.54,765.83"/></g>
<line x1="269.2" y1="852.3" x2="287.2" y2="852.3" stroke="#222" stroke-width="1.1"/>
<g fill="#111"><polygon points="276.02,844.55 276.58,845.93 278.07,846.04 276.93,846.99 277.29,848.44 276.02,847.65 274.76,848.44 275.12,846.99 273.98,846.04 275.47,845.93"/><polygon points="280.38,844.55 280.93,845.93 282.42,846.04 281.28,846.99 281.64,848.44 280.38,847.65 279.11,848.44 279.47,846.99 278.33,846.04 279.82,845.93"/></g>
<line x1="319.1" y1="828.8" x2="337.6" y2="828.8" stroke="#222" stroke-width="1.1"/>
<g fill="#111"><polygon points="326.18,823.25 326.73,824.63 328.22,824.74 327.08,825.69 327.44,827.14 326.18,826.35 324.91,827.14 325.27,825.69 324.13,824.74 325.62,824.63"/><polygon points="330.53,823.25 331.08,824.63 332.57,824.74 331.43,825.69 331.79,827.14 330.53,826.35 329.26,827.14 329.62,825.69 328.48,824.74 329.97,824.63"/></g>
<text font-size="8.85" text-anchor="end" fill="#000" color="#000" transform="translate(234.2,881.6) rotate(-45) scale(1.100,1)">G0/G1</text>
<text font-size="9.95" text-anchor="end" fill="#000" color="#000" transform="translate(280.4,879.6) rotate(-45) scale(1.100,1)">G2</text>
<text font-size="9.88" text-anchor="end" fill="#000" color="#000" transform="translate(332.2,880) rotate(-45) scale(1.100,1)">S</text>
<text font-size="10.45" text-anchor="middle" fill="#000" color="#000" transform="translate(186,812.5) rotate(-90) scale(1.100,1)">Cell cycle (%)</text>
<rect x="332.5" y="758" width="9.3" height="5" fill="#ffffff" stroke="#222" stroke-width="1"/>
<text font-size="8.91" text-anchor="start" fill="#000" color="#000" transform="translate(345.1,763.3) scale(1.100,1)">si-NC</text>
<rect x="332.5" y="769.5" width="9.3" height="4.9" fill="#a09fa4" stroke="#222" stroke-width="1"/>
<text font-size="8.91" text-anchor="start" fill="#000" color="#000" transform="translate(345.1,774.7) scale(1.100,1)">si-SMYD3#2</text>
<text font-size="10.39" text-anchor="middle" fill="#000" color="#000" transform="translate(513.6,749) scale(1.100,1)">A549/DDP</text>
<line x1="432.4" y1="769.8" x2="432.4" y2="869.3" stroke="#333" stroke-width="1"/>
<line x1="432.4" y1="869.3" x2="574.7" y2="869.3" stroke="#333" stroke-width="1"/>
<line x1="429.4" y1="869.3" x2="432.4" y2="869.3" stroke="#333" stroke-width="1"/>
<text font-size="9.50" text-anchor="end" fill="#000" color="#000" transform="translate(429,871.7)">0.0</text>
<line x1="429.4" y1="849.4" x2="432.4" y2="849.4" stroke="#333" stroke-width="1"/>
<text font-size="9.50" text-anchor="end" fill="#000" color="#000" transform="translate(429,851.8)">0.2</text>
<line x1="429.4" y1="829.5" x2="432.4" y2="829.5" stroke="#333" stroke-width="1"/>
<text font-size="9.50" text-anchor="end" fill="#000" color="#000" transform="translate(429,831.9)">0.4</text>
<line x1="429.4" y1="809.6" x2="432.4" y2="809.6" stroke="#333" stroke-width="1"/>
<text font-size="9.50" text-anchor="end" fill="#000" color="#000" transform="translate(429,812)">0.6</text>
<line x1="429.4" y1="789.7" x2="432.4" y2="789.7" stroke="#333" stroke-width="1"/>
<text font-size="9.50" text-anchor="end" fill="#000" color="#000" transform="translate(429,792.1)">0.8</text>
<line x1="429.4" y1="769.8" x2="432.4" y2="769.8" stroke="#333" stroke-width="1"/>
<text font-size="9.50" text-anchor="end" fill="#000" color="#000" transform="translate(429,772.2)">1.0</text>
<line x1="447.6" y1="838.2" x2="447.6" y2="833.1" stroke="#222" stroke-width="1"/>
<line x1="444.5" y1="833.1" x2="450.8" y2="833.1" stroke="#222" stroke-width="1"/>
<rect x="441.3" y="838.2" width="12.6" height="31.1" fill="#ffffff" stroke="#222" stroke-width="1"/>
<line x1="466.5" y1="795.1" x2="466.5" y2="787.5" stroke="#222" stroke-width="1"/>
<line x1="463.3" y1="787.5" x2="469.6" y2="787.5" stroke="#222" stroke-width="1"/>
<rect x="460.1" y="795.1" width="12.7" height="74.2" fill="#a09fa4" stroke="#222" stroke-width="1"/>
<line x1="497.1" y1="835" x2="497.1" y2="830.9" stroke="#222" stroke-width="1"/>
<line x1="493.9" y1="830.9" x2="500.3" y2="830.9" stroke="#222" stroke-width="1"/>
<rect x="490.7" y="835" width="12.8" height="34.3" fill="#ffffff" stroke="#222" stroke-width="1"/>
<line x1="516" y1="854.2" x2="516" y2="849.7" stroke="#222" stroke-width="1"/>
<line x1="512.9" y1="849.7" x2="519.1" y2="849.7" stroke="#222" stroke-width="1"/>
<rect x="509.7" y="854.2" width="12.6" height="15.1" fill="#a09fa4" stroke="#222" stroke-width="1"/>
<line x1="547" y1="831.2" x2="547" y2="822.2" stroke="#222" stroke-width="1"/>
<line x1="543.8" y1="822.2" x2="550.2" y2="822.2" stroke="#222" stroke-width="1"/>
<rect x="540.6" y="831.2" width="12.8" height="38.1" fill="#ffffff" stroke="#222" stroke-width="1"/>
<line x1="565.6" y1="851.4" x2="565.6" y2="847.6" stroke="#222" stroke-width="1"/>
<line x1="562.5" y1="847.6" x2="568.7" y2="847.6" stroke="#222" stroke-width="1"/>
<rect x="559.5" y="851.4" width="12.2" height="17.9" fill="#a09fa4" stroke="#222" stroke-width="1"/>
<line x1="457.1" y1="869.3" x2="457.1" y2="872.1" stroke="#333" stroke-width="1"/>
<line x1="506.5" y1="869.3" x2="506.5" y2="872.1" stroke="#333" stroke-width="1"/>
<line x1="556.2" y1="869.3" x2="556.2" y2="872.1" stroke="#333" stroke-width="1"/>
<line x1="447.9" y1="783.2" x2="465.8" y2="783.2" stroke="#222" stroke-width="1.1"/>
<g fill="#111"><polygon points="454.68,777.25 455.23,778.63 456.72,778.74 455.58,779.69 455.94,781.14 454.68,780.35 453.41,781.14 453.77,779.69 452.63,778.74 454.12,778.63"/><polygon points="459.03,777.25 459.58,778.63 461.07,778.74 459.93,779.69 460.29,781.14 459.03,780.35 457.76,781.14 458.12,779.69 456.98,778.74 458.47,778.63"/></g>
<line x1="497.5" y1="825.2" x2="515.7" y2="825.2" stroke="#222" stroke-width="1.1"/>
<g fill="#111"><polygon points="504.43,820.15 504.98,821.53 506.47,821.64 505.33,822.59 505.69,824.04 504.43,823.25 503.16,824.04 503.52,822.59 502.38,821.64 503.87,821.53"/><polygon points="508.78,820.15 509.33,821.53 510.82,821.64 509.68,822.59 510.04,824.04 508.78,823.25 507.51,824.04 507.87,822.59 506.73,821.64 508.22,821.53"/></g>
<line x1="546.8" y1="818" x2="565.3" y2="818" stroke="#222" stroke-width="1.1"/>
<g fill="#111"><polygon points="556.05,811.55 556.61,812.93 558.09,813.04 556.95,813.99 557.31,815.44 556.05,814.65 554.79,815.44 555.15,813.99 554.01,813.04 555.49,812.93"/></g>
<text font-size="9.44" text-anchor="end" fill="#000" color="#000" transform="translate(463.6,878.8) rotate(-45) scale(1.100,1)">E-cadherin</text>
<text font-size="9.17" text-anchor="end" fill="#000" color="#000" transform="translate(510,878.8) rotate(-45) scale(1.100,1)">N-cadherin</text>
<text font-size="9.70" text-anchor="end" fill="#000" color="#000" transform="translate(557,877.8) rotate(-45) scale(1.100,1)">vimentin</text>
<text font-size="10.00" text-anchor="middle" fill="#000" color="#000" transform="translate(413.5,817) rotate(-90) scale(1.100,1)">Relative protein levels</text>
<text font-size="10.57" text-anchor="middle" fill="#000" color="#000" transform="translate(690.2,750.2) scale(1.100,1)">H1299/DDP</text>
<line x1="610.9" y1="770.5" x2="610.9" y2="869.9" stroke="#333" stroke-width="1"/>
<line x1="610.9" y1="869.9" x2="760.5" y2="869.9" stroke="#333" stroke-width="1"/>
<line x1="607.9" y1="869.9" x2="610.9" y2="869.9" stroke="#333" stroke-width="1"/>
<text font-size="10.00" text-anchor="end" fill="#000" color="#000" transform="translate(608.8,873.5)">0.0</text>
<line x1="607.9" y1="850" x2="610.9" y2="850" stroke="#333" stroke-width="1"/>
<text font-size="10.00" text-anchor="end" fill="#000" color="#000" transform="translate(608.8,853.6)">0.2</text>
<line x1="607.9" y1="830.1" x2="610.9" y2="830.1" stroke="#333" stroke-width="1"/>
<text font-size="10.00" text-anchor="end" fill="#000" color="#000" transform="translate(608.8,833.7)">0.4</text>
<line x1="607.9" y1="810.3" x2="610.9" y2="810.3" stroke="#333" stroke-width="1"/>
<text font-size="10.00" text-anchor="end" fill="#000" color="#000" transform="translate(608.8,813.9)">0.6</text>
<line x1="607.9" y1="790.4" x2="610.9" y2="790.4" stroke="#333" stroke-width="1"/>
<text font-size="10.00" text-anchor="end" fill="#000" color="#000" transform="translate(608.8,794)">0.8</text>
<line x1="607.9" y1="770.5" x2="610.9" y2="770.5" stroke="#333" stroke-width="1"/>
<text font-size="10.00" text-anchor="end" fill="#000" color="#000" transform="translate(608.8,774.1)">1.0</text>
<line x1="626.5" y1="822.2" x2="626.5" y2="817.1" stroke="#222" stroke-width="1"/>
<line x1="623.5" y1="817.1" x2="629.5" y2="817.1" stroke="#222" stroke-width="1"/>
<rect x="620.4" y="822.2" width="12.2" height="47.7" fill="#ffffff" stroke="#222" stroke-width="1"/>
<line x1="645" y1="799.2" x2="645" y2="793.9" stroke="#222" stroke-width="1"/>
<line x1="641.8" y1="793.9" x2="648.3" y2="793.9" stroke="#222" stroke-width="1"/>
<rect x="638.6" y="799.2" width="12.9" height="70.7" fill="#a09fa4" stroke="#222" stroke-width="1"/>
<line x1="676.1" y1="805.2" x2="676.1" y2="801.7" stroke="#222" stroke-width="1"/>
<line x1="672.9" y1="801.7" x2="679.3" y2="801.7" stroke="#222" stroke-width="1"/>
<rect x="669.7" y="805.2" width="12.8" height="64.7" fill="#ffffff" stroke="#222" stroke-width="1"/>
<line x1="694.8" y1="839.3" x2="694.8" y2="832.6" stroke="#222" stroke-width="1"/>
<line x1="691.7" y1="832.6" x2="697.9" y2="832.6" stroke="#222" stroke-width="1"/>
<rect x="688.6" y="839.3" width="12.4" height="30.6" fill="#a09fa4" stroke="#222" stroke-width="1"/>
<line x1="726.2" y1="820.3" x2="726.2" y2="813" stroke="#222" stroke-width="1"/>
<line x1="723.1" y1="813" x2="729.4" y2="813" stroke="#222" stroke-width="1"/>
<rect x="719.9" y="820.3" width="12.6" height="49.6" fill="#ffffff" stroke="#222" stroke-width="1"/>
<line x1="744.8" y1="847.8" x2="744.8" y2="839.3" stroke="#222" stroke-width="1"/>
<line x1="741.7" y1="839.3" x2="747.8" y2="839.3" stroke="#222" stroke-width="1"/>
<rect x="738.7" y="847.8" width="12.1" height="22.1" fill="#a09fa4" stroke="#222" stroke-width="1"/>
<line x1="636" y1="869.9" x2="636" y2="872.7" stroke="#333" stroke-width="1"/>
<line x1="685.4" y1="869.9" x2="685.4" y2="872.7" stroke="#333" stroke-width="1"/>
<line x1="735.3" y1="869.9" x2="735.3" y2="872.7" stroke="#333" stroke-width="1"/>
<line x1="626.6" y1="789.2" x2="644.9" y2="789.2" stroke="#222" stroke-width="1.1"/>
<g fill="#111"><polygon points="633.58,783.45 634.13,784.83 635.62,784.94 634.48,785.89 634.84,787.34 633.58,786.55 632.31,787.34 632.67,785.89 631.53,784.94 633.02,784.83"/><polygon points="637.92,783.45 638.48,784.83 639.97,784.94 638.83,785.89 639.19,787.34 637.92,786.55 636.66,787.34 637.02,785.89 635.88,784.94 637.37,784.83"/></g>
<line x1="676.3" y1="797.3" x2="694.8" y2="797.3" stroke="#222" stroke-width="1.1"/>
<g fill="#111"><polygon points="683.38,791.05 683.93,792.43 685.42,792.54 684.28,793.49 684.64,794.94 683.38,794.15 682.11,794.94 682.47,793.49 681.33,792.54 682.82,792.43"/><polygon points="687.72,791.05 688.28,792.43 689.77,792.54 688.63,793.49 688.99,794.94 687.72,794.15 686.46,794.94 686.82,793.49 685.68,792.54 687.17,792.43"/></g>
<line x1="725.9" y1="809" x2="744.4" y2="809" stroke="#222" stroke-width="1.1"/>
<g fill="#111"><polygon points="735.15,802.75 735.71,804.13 737.19,804.24 736.05,805.19 736.41,806.64 735.15,805.85 733.89,806.64 734.25,805.19 733.11,804.24 734.59,804.13"/></g>
<text font-size="9.38" text-anchor="end" fill="#000" color="#000" transform="translate(642.4,878.8) rotate(-45) scale(1.100,1)">E-cadherin</text>
<text font-size="9.35" text-anchor="end" fill="#000" color="#000" transform="translate(688.2,878.8) rotate(-45) scale(1.100,1)">N-cadherin</text>
<text font-size="8.95" text-anchor="end" fill="#000" color="#000" transform="translate(734.6,878.8) rotate(-45) scale(1.100,1)">vimentin</text>
<text font-size="10.00" text-anchor="middle" fill="#000" color="#000" transform="translate(593,815.7) rotate(-90) scale(1.100,1)">Relative protein levels</text>
<rect x="726.5" y="760.9" width="10.7" height="4.5" fill="#ffffff" stroke="#222" stroke-width="1"/>
<text font-size="9.09" text-anchor="start" fill="#000" color="#000" transform="translate(739.6,765.7) scale(1.100,1)">si-NC</text>
<rect x="726.5" y="772" width="10.7" height="4.4" fill="#a09fa4" stroke="#222" stroke-width="1"/>
<text font-size="9.09" text-anchor="start" fill="#000" color="#000" transform="translate(739.6,776.7) scale(1.100,1)">si-SMYD3#2</text>
</svg></body></html>
